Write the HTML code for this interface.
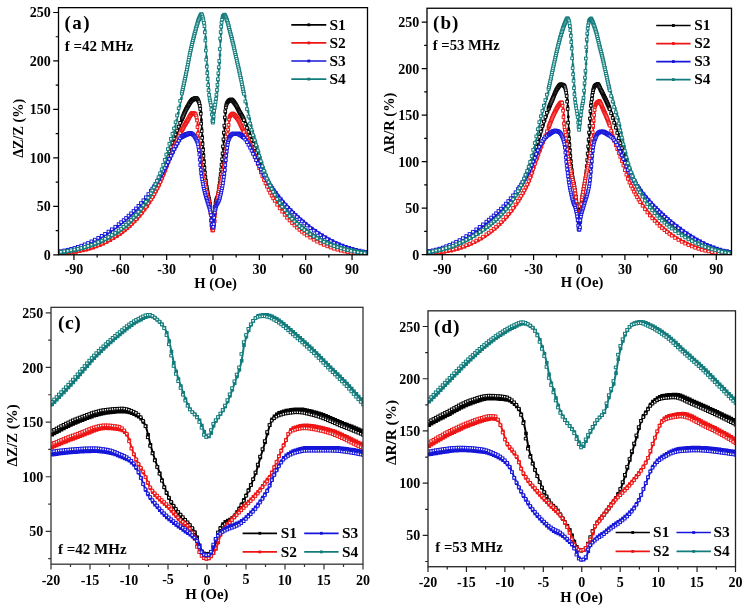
<!DOCTYPE html>
<html><head><meta charset="utf-8"><style>
html,body{margin:0;padding:0;background:#fff;}
body{width:746px;height:608px;overflow:hidden;}
svg{display:block;will-change:transform;}
text{font-family:"Liberation Serif", serif;font-weight:bold;fill:#000;}
</style></head><body>
<svg width="746" height="608" viewBox="0 0 746 608">

<clipPath id="clipa"><rect x="58.5" y="7.65" width="309.0" height="247.15"/></clipPath>
<g clip-path="url(#clipa)">
<path d="M59.7,253.4 L63.1,253.0 L66.5,252.5 L69.9,252.0 L73.3,251.4 L76.7,250.7 L80.1,249.9 L83.5,249.0 L86.9,248.0 L90.2,247.0 L93.6,245.7 L97.0,244.4 L100.4,242.9 L103.8,241.3 L107.2,239.6 L110.6,237.6 L114.0,235.5 L117.4,233.2 L120.4,231.1 L122.8,229.1 L125.3,227.1 L127.8,224.9 L130.3,222.5 L132.7,220.1 L135.2,217.4 L137.7,214.6 L140.2,211.7 L142.6,208.5 L145.1,205.1 L147.6,201.5 L150.0,197.7 L152.0,194.3 L153.6,191.7 L155.1,188.8 L156.7,185.9 L158.2,182.9 L159.8,179.7 L161.3,176.4 L162.9,172.8 L164.4,168.9 L166.0,164.5 L167.5,159.9 L169.0,155.2 L170.6,150.5 L172.1,146.1 L173.7,141.9 L175.2,137.9 L176.8,133.9 L178.3,130.0 L179.9,126.1 L181.4,122.3 L182.4,119.9 L182.9,118.8 L183.3,117.7 L183.8,116.6 L184.3,115.5 L184.7,114.4 L185.2,113.3 L185.7,112.3 L186.1,111.3 L186.6,110.3 L187.0,109.4 L187.5,108.6 L188.0,107.8 L188.4,107.0 L188.9,106.2 L189.4,105.4 L189.8,104.6 L190.3,103.9 L190.8,103.2 L191.2,102.5 L191.7,101.9 L192.1,101.4 L192.6,101.0 L193.1,100.7 L193.5,100.4 L194.0,100.2 L194.5,100.0 L194.9,99.8 L195.4,99.6 L195.9,99.5 L196.3,99.4 L196.8,99.5 L197.2,99.7 L197.7,100.2 L198.2,100.9 L198.6,101.8 L199.1,102.8 L199.6,104.0 L200.0,105.8 L200.5,108.6 L200.9,112.3 L201.4,119.9 L201.9,128.9 L202.3,135.9 L202.8,142.4 L203.3,148.4 L203.7,154.2 L204.2,160.3 L204.7,166.5 L205.1,171.7 L205.6,176.3 L206.0,180.4 L206.5,184.0 L207.0,187.0 L207.4,189.8 L207.9,192.2 L208.4,194.6 L208.8,196.9 L209.3,199.0 L209.8,201.2 L210.2,203.6 L210.7,206.7 L211.1,211.1 L211.6,218.3 L212.1,223.9 L212.5,226.0 L213.0,226.3 L213.5,226.2 L213.9,225.1 L214.4,222.0 L214.9,216.0 L215.3,208.3 L215.8,203.7 L216.2,200.5 L216.7,198.6 L217.2,197.4 L217.6,196.4 L218.1,195.0 L218.6,192.8 L219.0,189.8 L219.5,186.4 L220.0,182.9 L220.4,179.1 L220.9,174.9 L221.3,170.4 L221.8,165.7 L222.3,160.7 L222.7,155.2 L223.2,148.7 L223.7,141.4 L224.1,134.6 L224.6,127.9 L225.1,120.1 L225.5,112.9 L226.0,107.6 L226.4,104.9 L226.9,103.2 L227.4,102.0 L227.8,101.1 L228.3,100.5 L228.8,99.9 L229.2,99.6 L229.7,99.3 L230.1,99.0 L230.6,98.8 L231.1,98.7 L231.5,98.7 L232.0,98.8 L232.5,99.2 L232.9,99.6 L233.4,100.1 L233.9,100.6 L234.3,101.1 L234.8,101.7 L235.2,102.3 L235.7,103.0 L236.2,103.7 L236.6,104.5 L237.1,105.4 L237.6,106.2 L238.0,107.1 L238.5,108.0 L239.0,108.9 L239.4,109.8 L239.9,110.7 L240.3,111.5 L240.8,112.3 L241.3,113.1 L241.7,113.9 L242.2,114.7 L242.7,115.6 L243.1,116.4 L243.6,117.3 L244.1,118.3 L245.1,120.6 L246.6,124.6 L248.1,128.6 L249.7,132.6 L251.2,136.5 L252.8,140.6 L254.3,144.7 L255.9,149.2 L257.4,153.8 L259.0,158.5 L260.5,163.1 L262.1,167.5 L263.6,171.5 L265.1,175.0 L266.7,178.3 L268.2,181.5 L269.8,184.6 L271.3,187.5 L272.9,190.3 L274.4,193.0 L276.4,196.3 L278.9,200.2 L281.4,203.8 L283.8,207.1 L286.3,210.3 L288.8,213.3 L291.3,216.1 L293.7,218.7 L296.2,221.2 L298.7,223.5 L301.1,225.7 L303.6,227.8 L306.1,229.7 L309.0,231.9 L312.4,234.2 L315.8,236.3 L319.2,238.2 L322.6,240.0 L326.0,241.6 L329.4,243.1 L332.8,244.4 L336.2,245.6 L339.6,246.7 L343.0,247.7 L346.4,248.5 L349.8,249.3 L353.2,250.0 L356.6,250.6 L360.0,251.2 L363.4,251.6 L366.8,252.1" fill="none" stroke="#000000" stroke-width="1.5"/>
<path fill="#000000" d="M58.4,252.1h2.6v2.6h-2.6zM61.8,251.7h2.6v2.6h-2.6zM65.2,251.2h2.6v2.6h-2.6zM68.6,250.7h2.6v2.6h-2.6zM72.0,250.1h2.6v2.6h-2.6zM75.4,249.4h2.6v2.6h-2.6zM78.8,248.6h2.6v2.6h-2.6zM82.2,247.7h2.6v2.6h-2.6zM85.6,246.7h2.6v2.6h-2.6zM88.9,245.7h2.6v2.6h-2.6zM92.3,244.4h2.6v2.6h-2.6zM95.7,243.1h2.6v2.6h-2.6zM99.1,241.6h2.6v2.6h-2.6zM102.5,240.0h2.6v2.6h-2.6zM105.9,238.3h2.6v2.6h-2.6zM109.3,236.3h2.6v2.6h-2.6zM112.7,234.2h2.6v2.6h-2.6zM116.1,231.9h2.6v2.6h-2.6zM119.1,229.8h2.6v2.6h-2.6zM121.5,227.8h2.6v2.6h-2.6zM124.0,225.8h2.6v2.6h-2.6zM126.5,223.6h2.6v2.6h-2.6zM129.0,221.2h2.6v2.6h-2.6zM131.4,218.8h2.6v2.6h-2.6zM133.9,216.1h2.6v2.6h-2.6zM136.4,213.3h2.6v2.6h-2.6zM138.9,210.4h2.6v2.6h-2.6zM141.3,207.2h2.6v2.6h-2.6zM143.8,203.8h2.6v2.6h-2.6zM146.3,200.2h2.6v2.6h-2.6zM148.7,196.4h2.6v2.6h-2.6zM150.7,193.0h2.6v2.6h-2.6zM152.3,190.4h2.6v2.6h-2.6zM153.8,187.5h2.6v2.6h-2.6zM155.4,184.6h2.6v2.6h-2.6zM156.9,181.6h2.6v2.6h-2.6zM158.5,178.4h2.6v2.6h-2.6zM160.0,175.1h2.6v2.6h-2.6zM161.6,171.5h2.6v2.6h-2.6zM163.1,167.6h2.6v2.6h-2.6zM164.7,163.2h2.6v2.6h-2.6zM166.2,158.6h2.6v2.6h-2.6zM167.7,153.9h2.6v2.6h-2.6zM169.3,149.2h2.6v2.6h-2.6zM170.8,144.8h2.6v2.6h-2.6zM172.4,140.6h2.6v2.6h-2.6zM173.9,136.6h2.6v2.6h-2.6zM175.5,132.6h2.6v2.6h-2.6zM177.0,128.7h2.6v2.6h-2.6zM178.6,124.8h2.6v2.6h-2.6zM180.1,121.0h2.6v2.6h-2.6zM181.1,118.6h2.6v2.6h-2.6zM181.6,117.5h2.6v2.6h-2.6zM182.0,116.4h2.6v2.6h-2.6zM182.5,115.3h2.6v2.6h-2.6zM183.0,114.2h2.6v2.6h-2.6zM183.4,113.1h2.6v2.6h-2.6zM183.9,112.0h2.6v2.6h-2.6zM184.4,111.0h2.6v2.6h-2.6zM184.8,110.0h2.6v2.6h-2.6zM185.3,109.0h2.6v2.6h-2.6zM185.7,108.1h2.6v2.6h-2.6zM186.2,107.3h2.6v2.6h-2.6zM186.7,106.5h2.6v2.6h-2.6zM187.1,105.7h2.6v2.6h-2.6zM187.6,104.9h2.6v2.6h-2.6zM188.1,104.1h2.6v2.6h-2.6zM188.5,103.3h2.6v2.6h-2.6zM189.0,102.6h2.6v2.6h-2.6zM189.5,101.9h2.6v2.6h-2.6zM189.9,101.2h2.6v2.6h-2.6zM190.4,100.6h2.6v2.6h-2.6zM190.8,100.1h2.6v2.6h-2.6zM191.3,99.7h2.6v2.6h-2.6zM191.8,99.4h2.6v2.6h-2.6zM192.2,99.1h2.6v2.6h-2.6zM192.7,98.9h2.6v2.6h-2.6zM193.2,98.7h2.6v2.6h-2.6zM193.6,98.5h2.6v2.6h-2.6zM194.1,98.3h2.6v2.6h-2.6zM194.6,98.2h2.6v2.6h-2.6zM195.0,98.1h2.6v2.6h-2.6zM195.5,98.2h2.6v2.6h-2.6zM195.9,98.4h2.6v2.6h-2.6zM196.4,98.9h2.6v2.6h-2.6zM196.9,99.6h2.6v2.6h-2.6zM197.3,100.5h2.6v2.6h-2.6zM197.8,101.5h2.6v2.6h-2.6zM198.3,102.7h2.6v2.6h-2.6zM198.7,104.5h2.6v2.6h-2.6zM199.2,107.3h2.6v2.6h-2.6zM199.6,111.0h2.6v2.6h-2.6zM200.1,118.6h2.6v2.6h-2.6zM200.6,127.6h2.6v2.6h-2.6zM201.0,134.6h2.6v2.6h-2.6zM201.5,141.1h2.6v2.6h-2.6zM202.0,147.1h2.6v2.6h-2.6zM202.4,152.9h2.6v2.6h-2.6zM202.9,159.0h2.6v2.6h-2.6zM203.4,165.2h2.6v2.6h-2.6zM203.8,170.4h2.6v2.6h-2.6zM204.3,175.0h2.6v2.6h-2.6zM204.7,179.1h2.6v2.6h-2.6zM205.2,182.7h2.6v2.6h-2.6zM205.7,185.7h2.6v2.6h-2.6zM206.1,188.5h2.6v2.6h-2.6zM206.6,190.9h2.6v2.6h-2.6zM207.1,193.3h2.6v2.6h-2.6zM207.5,195.6h2.6v2.6h-2.6zM208.0,197.7h2.6v2.6h-2.6zM208.5,199.9h2.6v2.6h-2.6zM208.9,202.3h2.6v2.6h-2.6zM209.4,205.4h2.6v2.6h-2.6zM209.8,209.8h2.6v2.6h-2.6zM210.3,217.0h2.6v2.6h-2.6zM210.8,222.6h2.6v2.6h-2.6zM211.2,224.7h2.6v2.6h-2.6zM211.7,225.0h2.6v2.6h-2.6zM212.2,224.9h2.6v2.6h-2.6zM212.6,223.8h2.6v2.6h-2.6zM213.1,220.7h2.6v2.6h-2.6zM213.6,214.7h2.6v2.6h-2.6zM214.0,207.0h2.6v2.6h-2.6zM214.5,202.4h2.6v2.6h-2.6zM214.9,199.2h2.6v2.6h-2.6zM215.4,197.3h2.6v2.6h-2.6zM215.9,196.1h2.6v2.6h-2.6zM216.3,195.1h2.6v2.6h-2.6zM216.8,193.7h2.6v2.6h-2.6zM217.3,191.5h2.6v2.6h-2.6zM217.7,188.5h2.6v2.6h-2.6zM218.2,185.1h2.6v2.6h-2.6zM218.7,181.6h2.6v2.6h-2.6zM219.1,177.8h2.6v2.6h-2.6zM219.6,173.6h2.6v2.6h-2.6zM220.0,169.1h2.6v2.6h-2.6zM220.5,164.4h2.6v2.6h-2.6zM221.0,159.4h2.6v2.6h-2.6zM221.4,153.9h2.6v2.6h-2.6zM221.9,147.4h2.6v2.6h-2.6zM222.4,140.1h2.6v2.6h-2.6zM222.8,133.3h2.6v2.6h-2.6zM223.3,126.6h2.6v2.6h-2.6zM223.8,118.8h2.6v2.6h-2.6zM224.2,111.6h2.6v2.6h-2.6zM224.7,106.3h2.6v2.6h-2.6zM225.1,103.6h2.6v2.6h-2.6zM225.6,101.9h2.6v2.6h-2.6zM226.1,100.7h2.6v2.6h-2.6zM226.5,99.8h2.6v2.6h-2.6zM227.0,99.2h2.6v2.6h-2.6zM227.5,98.6h2.6v2.6h-2.6zM227.9,98.3h2.6v2.6h-2.6zM228.4,98.0h2.6v2.6h-2.6zM228.8,97.7h2.6v2.6h-2.6zM229.3,97.5h2.6v2.6h-2.6zM229.8,97.4h2.6v2.6h-2.6zM230.2,97.4h2.6v2.6h-2.6zM230.7,97.5h2.6v2.6h-2.6zM231.2,97.9h2.6v2.6h-2.6zM231.6,98.3h2.6v2.6h-2.6zM232.1,98.8h2.6v2.6h-2.6zM232.6,99.3h2.6v2.6h-2.6zM233.0,99.8h2.6v2.6h-2.6zM233.5,100.4h2.6v2.6h-2.6zM233.9,101.0h2.6v2.6h-2.6zM234.4,101.7h2.6v2.6h-2.6zM234.9,102.4h2.6v2.6h-2.6zM235.3,103.2h2.6v2.6h-2.6zM235.8,104.1h2.6v2.6h-2.6zM236.3,104.9h2.6v2.6h-2.6zM236.7,105.8h2.6v2.6h-2.6zM237.2,106.7h2.6v2.6h-2.6zM237.7,107.6h2.6v2.6h-2.6zM238.1,108.5h2.6v2.6h-2.6zM238.6,109.4h2.6v2.6h-2.6zM239.0,110.2h2.6v2.6h-2.6zM239.5,111.0h2.6v2.6h-2.6zM240.0,111.8h2.6v2.6h-2.6zM240.4,112.6h2.6v2.6h-2.6zM240.9,113.4h2.6v2.6h-2.6zM241.4,114.3h2.6v2.6h-2.6zM241.8,115.1h2.6v2.6h-2.6zM242.3,116.0h2.6v2.6h-2.6zM242.8,117.0h2.6v2.6h-2.6zM243.8,119.3h2.6v2.6h-2.6zM245.3,123.3h2.6v2.6h-2.6zM246.8,127.3h2.6v2.6h-2.6zM248.4,131.3h2.6v2.6h-2.6zM249.9,135.2h2.6v2.6h-2.6zM251.5,139.3h2.6v2.6h-2.6zM253.0,143.4h2.6v2.6h-2.6zM254.6,147.9h2.6v2.6h-2.6zM256.1,152.5h2.6v2.6h-2.6zM257.7,157.2h2.6v2.6h-2.6zM259.2,161.8h2.6v2.6h-2.6zM260.8,166.2h2.6v2.6h-2.6zM262.3,170.2h2.6v2.6h-2.6zM263.8,173.7h2.6v2.6h-2.6zM265.4,177.0h2.6v2.6h-2.6zM266.9,180.2h2.6v2.6h-2.6zM268.5,183.3h2.6v2.6h-2.6zM270.0,186.2h2.6v2.6h-2.6zM271.6,189.0h2.6v2.6h-2.6zM273.1,191.7h2.6v2.6h-2.6zM275.1,195.0h2.6v2.6h-2.6zM277.6,198.9h2.6v2.6h-2.6zM280.1,202.5h2.6v2.6h-2.6zM282.5,205.8h2.6v2.6h-2.6zM285.0,209.0h2.6v2.6h-2.6zM287.5,212.0h2.6v2.6h-2.6zM290.0,214.8h2.6v2.6h-2.6zM292.4,217.4h2.6v2.6h-2.6zM294.9,219.9h2.6v2.6h-2.6zM297.4,222.2h2.6v2.6h-2.6zM299.8,224.4h2.6v2.6h-2.6zM302.3,226.5h2.6v2.6h-2.6zM304.8,228.4h2.6v2.6h-2.6zM307.7,230.6h2.6v2.6h-2.6zM311.1,232.9h2.6v2.6h-2.6zM314.5,235.0h2.6v2.6h-2.6zM317.9,236.9h2.6v2.6h-2.6zM321.3,238.7h2.6v2.6h-2.6zM324.7,240.3h2.6v2.6h-2.6zM328.1,241.8h2.6v2.6h-2.6zM331.5,243.1h2.6v2.6h-2.6zM334.9,244.3h2.6v2.6h-2.6zM338.3,245.4h2.6v2.6h-2.6zM341.7,246.4h2.6v2.6h-2.6zM345.1,247.2h2.6v2.6h-2.6zM348.5,248.0h2.6v2.6h-2.6zM351.9,248.7h2.6v2.6h-2.6zM355.3,249.3h2.6v2.6h-2.6zM358.7,249.9h2.6v2.6h-2.6zM362.1,250.3h2.6v2.6h-2.6zM365.5,250.8h2.6v2.6h-2.6z"/>
<g fill="#fff" stroke="#000000" stroke-width="0.95"><rect x="56.1" y="250.9" width="2.7" height="2.7"/><rect x="59.5" y="250.5" width="2.7" height="2.7"/><rect x="62.9" y="250.1" width="2.7" height="2.7"/><rect x="66.3" y="249.6" width="2.7" height="2.7"/><rect x="69.7" y="249.0" width="2.7" height="2.7"/><rect x="73.1" y="248.3" width="2.7" height="2.7"/><rect x="76.5" y="247.6" width="2.7" height="2.7"/><rect x="79.9" y="246.8" width="2.7" height="2.7"/><rect x="83.3" y="245.8" width="2.7" height="2.7"/><rect x="86.7" y="244.8" width="2.7" height="2.7"/><rect x="90.1" y="243.7" width="2.7" height="2.7"/><rect x="93.5" y="242.4" width="2.7" height="2.7"/><rect x="96.9" y="241.0" width="2.7" height="2.7"/><rect x="100.3" y="239.4" width="2.7" height="2.7"/><rect x="103.7" y="237.8" width="2.7" height="2.7"/><rect x="107.1" y="235.9" width="2.7" height="2.7"/><rect x="110.5" y="233.9" width="2.7" height="2.7"/><rect x="113.9" y="231.7" width="2.7" height="2.7"/><rect x="117.3" y="229.3" width="2.7" height="2.7"/><rect x="119.8" y="227.4" width="2.7" height="2.7"/><rect x="122.3" y="225.4" width="2.7" height="2.7"/><rect x="124.7" y="223.3" width="2.7" height="2.7"/><rect x="127.2" y="221.0" width="2.7" height="2.7"/><rect x="129.7" y="218.6" width="2.7" height="2.7"/><rect x="132.2" y="216.1" width="2.7" height="2.7"/><rect x="134.6" y="213.4" width="2.7" height="2.7"/><rect x="137.1" y="210.5" width="2.7" height="2.7"/><rect x="139.6" y="207.4" width="2.7" height="2.7"/><rect x="142.0" y="204.1" width="2.7" height="2.7"/><rect x="144.5" y="200.6" width="2.7" height="2.7"/><rect x="147.0" y="196.9" width="2.7" height="2.7"/><rect x="149.5" y="192.9" width="2.7" height="2.7"/><rect x="151.0" y="190.3" width="2.7" height="2.7"/><rect x="152.6" y="187.6" width="2.7" height="2.7"/><rect x="154.1" y="184.7" width="2.7" height="2.7"/><rect x="155.6" y="181.7" width="2.7" height="2.7"/><rect x="157.2" y="178.6" width="2.7" height="2.7"/><rect x="158.7" y="175.4" width="2.7" height="2.7"/><rect x="160.3" y="172.0" width="2.7" height="2.7"/><rect x="161.8" y="168.2" width="2.7" height="2.7"/><rect x="163.4" y="164.0" width="2.7" height="2.7"/><rect x="164.9" y="159.5" width="2.7" height="2.7"/><rect x="166.5" y="154.8" width="2.7" height="2.7"/><rect x="168.0" y="150.1" width="2.7" height="2.7"/><rect x="169.5" y="145.6" width="2.7" height="2.7"/><rect x="171.1" y="141.3" width="2.7" height="2.7"/><rect x="172.6" y="137.2" width="2.7" height="2.7"/><rect x="174.2" y="133.2" width="2.7" height="2.7"/><rect x="175.7" y="129.2" width="2.7" height="2.7"/><rect x="177.3" y="125.3" width="2.7" height="2.7"/><rect x="178.8" y="121.5" width="2.7" height="2.7"/><rect x="180.4" y="117.8" width="2.7" height="2.7"/><rect x="180.8" y="116.7" width="2.7" height="2.7"/><rect x="181.3" y="115.6" width="2.7" height="2.7"/><rect x="181.8" y="114.5" width="2.7" height="2.7"/><rect x="182.2" y="113.3" width="2.7" height="2.7"/><rect x="182.7" y="112.2" width="2.7" height="2.7"/><rect x="183.1" y="111.2" width="2.7" height="2.7"/><rect x="183.6" y="110.1" width="2.7" height="2.7"/><rect x="184.1" y="109.1" width="2.7" height="2.7"/><rect x="184.5" y="108.1" width="2.7" height="2.7"/><rect x="185.0" y="107.2" width="2.7" height="2.7"/><rect x="185.5" y="106.3" width="2.7" height="2.7"/><rect x="185.9" y="105.5" width="2.7" height="2.7"/><rect x="186.4" y="104.7" width="2.7" height="2.7"/><rect x="186.9" y="103.9" width="2.7" height="2.7"/><rect x="187.3" y="103.1" width="2.7" height="2.7"/><rect x="187.8" y="102.3" width="2.7" height="2.7"/><rect x="188.2" y="101.5" width="2.7" height="2.7"/><rect x="188.7" y="100.8" width="2.7" height="2.7"/><rect x="189.2" y="100.1" width="2.7" height="2.7"/><rect x="189.6" y="99.5" width="2.7" height="2.7"/><rect x="190.1" y="99.0" width="2.7" height="2.7"/><rect x="190.6" y="98.5" width="2.7" height="2.7"/><rect x="191.0" y="98.1" width="2.7" height="2.7"/><rect x="191.5" y="97.8" width="2.7" height="2.7"/><rect x="192.0" y="97.6" width="2.7" height="2.7"/><rect x="192.4" y="97.4" width="2.7" height="2.7"/><rect x="192.9" y="97.2" width="2.7" height="2.7"/><rect x="193.3" y="97.0" width="2.7" height="2.7"/><rect x="193.8" y="96.9" width="2.7" height="2.7"/><rect x="194.3" y="96.8" width="2.7" height="2.7"/><rect x="194.7" y="96.7" width="2.7" height="2.7"/><rect x="195.2" y="96.9" width="2.7" height="2.7"/><rect x="195.7" y="97.3" width="2.7" height="2.7"/><rect x="196.1" y="97.8" width="2.7" height="2.7"/><rect x="196.6" y="98.6" width="2.7" height="2.7"/><rect x="197.0" y="99.6" width="2.7" height="2.7"/><rect x="197.5" y="100.6" width="2.7" height="2.7"/><rect x="198.0" y="102.1" width="2.7" height="2.7"/><rect x="198.4" y="104.4" width="2.7" height="2.7"/><rect x="198.9" y="107.6" width="2.7" height="2.7"/><rect x="199.4" y="112.4" width="2.7" height="2.7"/><rect x="199.8" y="122.3" width="2.7" height="2.7"/><rect x="200.3" y="129.8" width="2.7" height="2.7"/><rect x="200.8" y="136.5" width="2.7" height="2.7"/><rect x="201.2" y="142.7" width="2.7" height="2.7"/><rect x="201.7" y="148.6" width="2.7" height="2.7"/><rect x="202.1" y="154.5" width="2.7" height="2.7"/><rect x="202.6" y="160.7" width="2.7" height="2.7"/><rect x="203.1" y="166.5" width="2.7" height="2.7"/><rect x="203.5" y="171.3" width="2.7" height="2.7"/><rect x="204.0" y="175.7" width="2.7" height="2.7"/><rect x="204.5" y="179.5" width="2.7" height="2.7"/><rect x="204.9" y="182.9" width="2.7" height="2.7"/><rect x="205.4" y="185.7" width="2.7" height="2.7"/><rect x="205.9" y="188.3" width="2.7" height="2.7"/><rect x="206.3" y="190.7" width="2.7" height="2.7"/><rect x="206.8" y="193.1" width="2.7" height="2.7"/><rect x="207.2" y="195.4" width="2.7" height="2.7"/><rect x="207.7" y="197.5" width="2.7" height="2.7"/><rect x="208.2" y="199.9" width="2.7" height="2.7"/><rect x="208.6" y="202.5" width="2.7" height="2.7"/><rect x="209.1" y="206.3" width="2.7" height="2.7"/><rect x="209.6" y="212.2" width="2.7" height="2.7"/><rect x="210.0" y="219.2" width="2.7" height="2.7"/><rect x="210.5" y="223.7" width="2.7" height="2.7"/><rect x="211.0" y="224.6" width="2.7" height="2.7"/><rect x="211.4" y="225.0" width="2.7" height="2.7"/><rect x="211.9" y="224.6" width="2.7" height="2.7"/><rect x="212.3" y="223.3" width="2.7" height="2.7"/><rect x="212.8" y="218.5" width="2.7" height="2.7"/><rect x="213.3" y="211.7" width="2.7" height="2.7"/><rect x="213.7" y="205.4" width="2.7" height="2.7"/><rect x="214.2" y="201.7" width="2.7" height="2.7"/><rect x="214.7" y="199.2" width="2.7" height="2.7"/><rect x="215.1" y="197.8" width="2.7" height="2.7"/><rect x="215.6" y="196.8" width="2.7" height="2.7"/><rect x="216.1" y="195.7" width="2.7" height="2.7"/><rect x="216.5" y="194.0" width="2.7" height="2.7"/><rect x="217.0" y="191.4" width="2.7" height="2.7"/><rect x="217.4" y="188.2" width="2.7" height="2.7"/><rect x="217.9" y="184.7" width="2.7" height="2.7"/><rect x="218.4" y="181.1" width="2.7" height="2.7"/><rect x="218.8" y="177.0" width="2.7" height="2.7"/><rect x="219.3" y="172.7" width="2.7" height="2.7"/><rect x="219.8" y="168.1" width="2.7" height="2.7"/><rect x="220.2" y="163.3" width="2.7" height="2.7"/><rect x="220.7" y="158.0" width="2.7" height="2.7"/><rect x="221.2" y="152.1" width="2.7" height="2.7"/><rect x="221.6" y="145.1" width="2.7" height="2.7"/><rect x="222.1" y="138.0" width="2.7" height="2.7"/><rect x="222.5" y="131.3" width="2.7" height="2.7"/><rect x="223.0" y="124.3" width="2.7" height="2.7"/><rect x="223.5" y="116.1" width="2.7" height="2.7"/><rect x="223.9" y="110.0" width="2.7" height="2.7"/><rect x="224.4" y="106.1" width="2.7" height="2.7"/><rect x="224.9" y="104.0" width="2.7" height="2.7"/><rect x="225.3" y="102.5" width="2.7" height="2.7"/><rect x="225.8" y="101.5" width="2.7" height="2.7"/><rect x="226.3" y="100.8" width="2.7" height="2.7"/><rect x="226.7" y="100.2" width="2.7" height="2.7"/><rect x="227.2" y="99.7" width="2.7" height="2.7"/><rect x="227.6" y="99.4" width="2.7" height="2.7"/><rect x="228.1" y="99.1" width="2.7" height="2.7"/><rect x="228.6" y="98.9" width="2.7" height="2.7"/><rect x="229.0" y="98.7" width="2.7" height="2.7"/><rect x="229.5" y="98.7" width="2.7" height="2.7"/><rect x="230.0" y="98.7" width="2.7" height="2.7"/><rect x="230.4" y="99.0" width="2.7" height="2.7"/><rect x="230.9" y="99.4" width="2.7" height="2.7"/><rect x="231.3" y="99.8" width="2.7" height="2.7"/><rect x="231.8" y="100.3" width="2.7" height="2.7"/><rect x="232.3" y="100.9" width="2.7" height="2.7"/><rect x="232.7" y="101.4" width="2.7" height="2.7"/><rect x="233.2" y="102.0" width="2.7" height="2.7"/><rect x="233.7" y="102.6" width="2.7" height="2.7"/><rect x="234.1" y="103.3" width="2.7" height="2.7"/><rect x="234.6" y="104.1" width="2.7" height="2.7"/><rect x="235.1" y="104.9" width="2.7" height="2.7"/><rect x="235.5" y="105.8" width="2.7" height="2.7"/><rect x="236.0" y="106.7" width="2.7" height="2.7"/><rect x="236.4" y="107.6" width="2.7" height="2.7"/><rect x="236.9" y="108.5" width="2.7" height="2.7"/><rect x="237.4" y="109.4" width="2.7" height="2.7"/><rect x="237.8" y="110.3" width="2.7" height="2.7"/><rect x="238.3" y="111.1" width="2.7" height="2.7"/><rect x="238.8" y="111.9" width="2.7" height="2.7"/><rect x="239.2" y="112.8" width="2.7" height="2.7"/><rect x="239.7" y="113.5" width="2.7" height="2.7"/><rect x="240.2" y="114.3" width="2.7" height="2.7"/><rect x="240.6" y="115.2" width="2.7" height="2.7"/><rect x="241.1" y="116.0" width="2.7" height="2.7"/><rect x="241.5" y="116.9" width="2.7" height="2.7"/><rect x="242.0" y="117.8" width="2.7" height="2.7"/><rect x="242.5" y="118.8" width="2.7" height="2.7"/><rect x="244.0" y="122.5" width="2.7" height="2.7"/><rect x="245.6" y="126.6" width="2.7" height="2.7"/><rect x="247.1" y="130.6" width="2.7" height="2.7"/><rect x="248.7" y="134.6" width="2.7" height="2.7"/><rect x="250.2" y="138.6" width="2.7" height="2.7"/><rect x="251.7" y="142.6" width="2.7" height="2.7"/><rect x="253.3" y="146.9" width="2.7" height="2.7"/><rect x="254.8" y="151.5" width="2.7" height="2.7"/><rect x="256.4" y="156.2" width="2.7" height="2.7"/><rect x="257.9" y="160.8" width="2.7" height="2.7"/><rect x="259.5" y="165.4" width="2.7" height="2.7"/><rect x="261.0" y="169.6" width="2.7" height="2.7"/><rect x="262.6" y="173.3" width="2.7" height="2.7"/><rect x="264.1" y="176.7" width="2.7" height="2.7"/><rect x="265.6" y="179.9" width="2.7" height="2.7"/><rect x="267.2" y="183.1" width="2.7" height="2.7"/><rect x="268.7" y="186.1" width="2.7" height="2.7"/><rect x="270.3" y="188.9" width="2.7" height="2.7"/><rect x="271.8" y="191.7" width="2.7" height="2.7"/><rect x="273.4" y="194.3" width="2.7" height="2.7"/><rect x="275.8" y="198.3" width="2.7" height="2.7"/><rect x="278.3" y="202.0" width="2.7" height="2.7"/><rect x="280.8" y="205.5" width="2.7" height="2.7"/><rect x="283.3" y="208.8" width="2.7" height="2.7"/><rect x="285.7" y="211.8" width="2.7" height="2.7"/><rect x="288.2" y="214.7" width="2.7" height="2.7"/><rect x="290.7" y="217.4" width="2.7" height="2.7"/><rect x="293.1" y="220.0" width="2.7" height="2.7"/><rect x="295.6" y="222.4" width="2.7" height="2.7"/><rect x="298.1" y="224.6" width="2.7" height="2.7"/><rect x="300.6" y="226.8" width="2.7" height="2.7"/><rect x="303.0" y="228.8" width="2.7" height="2.7"/><rect x="305.5" y="230.6" width="2.7" height="2.7"/><rect x="308.9" y="233.0" width="2.7" height="2.7"/><rect x="312.3" y="235.2" width="2.7" height="2.7"/><rect x="315.7" y="237.3" width="2.7" height="2.7"/><rect x="319.1" y="239.1" width="2.7" height="2.7"/><rect x="322.5" y="240.8" width="2.7" height="2.7"/><rect x="325.9" y="242.3" width="2.7" height="2.7"/><rect x="329.3" y="243.7" width="2.7" height="2.7"/><rect x="332.7" y="245.0" width="2.7" height="2.7"/><rect x="336.1" y="246.2" width="2.7" height="2.7"/><rect x="339.5" y="247.2" width="2.7" height="2.7"/><rect x="342.9" y="248.1" width="2.7" height="2.7"/><rect x="346.3" y="249.0" width="2.7" height="2.7"/><rect x="349.7" y="249.7" width="2.7" height="2.7"/><rect x="353.1" y="250.3" width="2.7" height="2.7"/><rect x="356.5" y="250.9" width="2.7" height="2.7"/><rect x="359.9" y="251.4" width="2.7" height="2.7"/><rect x="363.3" y="251.9" width="2.7" height="2.7"/><rect x="366.7" y="252.2" width="2.7" height="2.7"/></g>
<path d="M59.7,254.4 L63.1,254.2 L66.5,253.8 L69.9,253.4 L73.3,253.0 L76.7,252.4 L80.1,251.8 L83.5,251.0 L86.9,250.2 L90.2,249.2 L93.6,248.2 L97.0,247.0 L100.4,245.6 L103.8,244.1 L107.2,242.5 L110.6,240.7 L114.0,238.7 L117.4,236.6 L120.4,234.6 L122.8,232.8 L125.3,230.8 L127.8,228.8 L130.3,226.6 L132.7,224.3 L135.2,221.8 L137.7,219.1 L140.2,216.3 L142.6,213.3 L145.1,210.0 L147.6,206.6 L150.0,202.8 L152.0,199.6 L153.6,197.0 L155.1,194.2 L156.7,191.3 L158.2,188.3 L159.8,185.1 L161.3,181.7 L162.9,178.1 L164.4,174.3 L166.0,170.4 L167.5,166.2 L169.0,162.0 L170.6,157.8 L172.1,153.7 L173.7,149.7 L175.2,146.0 L176.8,142.6 L178.3,139.3 L179.9,136.1 L181.4,133.1 L182.4,131.2 L182.9,130.3 L183.3,129.4 L183.8,128.6 L184.3,127.7 L184.7,126.8 L185.2,126.0 L185.7,125.2 L186.1,124.4 L186.6,123.6 L187.0,122.8 L187.5,122.1 L188.0,121.4 L188.4,120.6 L188.9,119.7 L189.4,118.9 L189.8,118.0 L190.3,117.2 L190.8,116.4 L191.2,115.8 L191.7,115.2 L192.1,114.7 L192.6,114.4 L193.1,114.3 L193.5,114.3 L194.0,114.4 L194.5,114.6 L194.9,114.8 L195.4,115.1 L195.9,115.5 L196.3,116.2 L196.8,117.7 L197.2,120.0 L197.7,124.8 L198.2,132.1 L198.6,137.5 L199.1,142.2 L199.6,146.6 L200.0,150.3 L200.5,153.5 L200.9,157.6 L201.4,162.8 L201.9,167.4 L202.3,170.9 L202.8,173.5 L203.3,175.6 L203.7,177.7 L204.2,179.6 L204.7,181.4 L205.1,183.2 L205.6,185.2 L206.0,187.5 L206.5,189.9 L207.0,192.2 L207.4,194.7 L207.9,197.2 L208.4,199.1 L208.8,200.3 L209.3,202.0 L209.8,204.3 L210.2,207.2 L210.7,211.1 L211.1,218.3 L211.6,223.8 L212.1,227.5 L212.5,229.8 L213.0,230.6 L213.5,230.5 L213.9,228.7 L214.4,226.1 L214.9,222.3 L215.3,216.7 L215.8,209.7 L216.2,205.9 L216.7,203.0 L217.2,200.5 L217.6,197.9 L218.1,195.5 L218.6,193.1 L219.0,190.9 L219.5,188.7 L220.0,186.6 L220.4,184.6 L220.9,182.5 L221.3,180.5 L221.8,178.5 L222.3,176.4 L222.7,174.2 L223.2,171.9 L223.7,169.4 L224.1,166.6 L224.6,163.6 L225.1,161.0 L225.5,158.5 L226.0,154.6 L226.4,149.9 L226.9,145.2 L227.4,140.3 L227.8,135.2 L228.3,130.5 L228.8,125.9 L229.2,120.5 L229.7,116.8 L230.1,115.4 L230.6,114.6 L231.1,114.0 L231.5,113.5 L232.0,113.1 L232.5,112.9 L232.9,112.9 L233.4,113.1 L233.9,113.3 L234.3,113.6 L234.8,114.0 L235.2,114.5 L235.7,114.9 L236.2,115.4 L236.6,115.9 L237.1,116.5 L237.6,117.1 L238.0,117.8 L238.5,118.6 L239.0,119.4 L239.4,120.3 L239.9,121.2 L240.3,122.2 L240.8,123.2 L241.3,124.2 L241.7,125.2 L242.2,126.2 L242.7,127.2 L243.1,128.2 L243.6,129.2 L244.1,130.1 L245.1,132.1 L246.6,135.1 L248.1,138.1 L249.7,141.3 L251.2,144.7 L252.8,148.3 L254.3,152.3 L255.9,156.4 L257.4,160.6 L259.0,164.8 L260.5,169.0 L262.1,173.0 L263.6,176.8 L265.1,180.3 L266.7,183.7 L268.2,186.9 L269.8,190.0 L271.3,192.9 L272.9,195.6 L274.4,198.3 L276.4,201.5 L278.9,205.2 L281.4,208.7 L283.8,211.9 L286.3,214.9 L288.8,217.8 L291.3,220.4 L293.7,222.9 L296.2,225.2 L298.7,227.4 L301.1,229.5 L303.6,231.4 L306.1,233.2 L309.0,235.2 L312.4,237.4 L315.8,239.3 L319.2,241.1 L322.6,242.8 L326.0,244.3 L329.4,245.6 L332.8,246.8 L336.2,247.9 L339.6,248.8 L343.0,249.7 L346.4,250.4 L349.8,251.1 L353.2,251.6 L356.6,252.1 L360.0,252.5 L363.4,252.8 L366.8,253.1" fill="none" stroke="#ee1414" stroke-width="1.5"/>
<path fill="#ee1414" d="M58.4,253.1h2.6v2.6h-2.6zM61.8,252.9h2.6v2.6h-2.6zM65.2,252.5h2.6v2.6h-2.6zM68.6,252.1h2.6v2.6h-2.6zM72.0,251.7h2.6v2.6h-2.6zM75.4,251.1h2.6v2.6h-2.6zM78.8,250.5h2.6v2.6h-2.6zM82.2,249.7h2.6v2.6h-2.6zM85.6,248.9h2.6v2.6h-2.6zM88.9,247.9h2.6v2.6h-2.6zM92.3,246.9h2.6v2.6h-2.6zM95.7,245.7h2.6v2.6h-2.6zM99.1,244.3h2.6v2.6h-2.6zM102.5,242.8h2.6v2.6h-2.6zM105.9,241.2h2.6v2.6h-2.6zM109.3,239.4h2.6v2.6h-2.6zM112.7,237.4h2.6v2.6h-2.6zM116.1,235.3h2.6v2.6h-2.6zM119.1,233.3h2.6v2.6h-2.6zM121.5,231.5h2.6v2.6h-2.6zM124.0,229.5h2.6v2.6h-2.6zM126.5,227.5h2.6v2.6h-2.6zM129.0,225.3h2.6v2.6h-2.6zM131.4,223.0h2.6v2.6h-2.6zM133.9,220.5h2.6v2.6h-2.6zM136.4,217.8h2.6v2.6h-2.6zM138.9,215.0h2.6v2.6h-2.6zM141.3,212.0h2.6v2.6h-2.6zM143.8,208.7h2.6v2.6h-2.6zM146.3,205.3h2.6v2.6h-2.6zM148.7,201.5h2.6v2.6h-2.6zM150.7,198.3h2.6v2.6h-2.6zM152.3,195.7h2.6v2.6h-2.6zM153.8,192.9h2.6v2.6h-2.6zM155.4,190.0h2.6v2.6h-2.6zM156.9,187.0h2.6v2.6h-2.6zM158.5,183.8h2.6v2.6h-2.6zM160.0,180.4h2.6v2.6h-2.6zM161.6,176.8h2.6v2.6h-2.6zM163.1,173.0h2.6v2.6h-2.6zM164.7,169.1h2.6v2.6h-2.6zM166.2,164.9h2.6v2.6h-2.6zM167.7,160.7h2.6v2.6h-2.6zM169.3,156.5h2.6v2.6h-2.6zM170.8,152.4h2.6v2.6h-2.6zM172.4,148.4h2.6v2.6h-2.6zM173.9,144.7h2.6v2.6h-2.6zM175.5,141.3h2.6v2.6h-2.6zM177.0,138.0h2.6v2.6h-2.6zM178.6,134.8h2.6v2.6h-2.6zM180.1,131.8h2.6v2.6h-2.6zM181.1,129.9h2.6v2.6h-2.6zM181.6,129.0h2.6v2.6h-2.6zM182.0,128.1h2.6v2.6h-2.6zM182.5,127.3h2.6v2.6h-2.6zM183.0,126.4h2.6v2.6h-2.6zM183.4,125.5h2.6v2.6h-2.6zM183.9,124.7h2.6v2.6h-2.6zM184.4,123.9h2.6v2.6h-2.6zM184.8,123.1h2.6v2.6h-2.6zM185.3,122.3h2.6v2.6h-2.6zM185.7,121.5h2.6v2.6h-2.6zM186.2,120.8h2.6v2.6h-2.6zM186.7,120.1h2.6v2.6h-2.6zM187.1,119.3h2.6v2.6h-2.6zM187.6,118.4h2.6v2.6h-2.6zM188.1,117.6h2.6v2.6h-2.6zM188.5,116.7h2.6v2.6h-2.6zM189.0,115.9h2.6v2.6h-2.6zM189.5,115.1h2.6v2.6h-2.6zM189.9,114.5h2.6v2.6h-2.6zM190.4,113.9h2.6v2.6h-2.6zM190.8,113.4h2.6v2.6h-2.6zM191.3,113.1h2.6v2.6h-2.6zM191.8,113.0h2.6v2.6h-2.6zM192.2,113.0h2.6v2.6h-2.6zM192.7,113.1h2.6v2.6h-2.6zM193.2,113.3h2.6v2.6h-2.6zM193.6,113.5h2.6v2.6h-2.6zM194.1,113.8h2.6v2.6h-2.6zM194.6,114.2h2.6v2.6h-2.6zM195.0,114.9h2.6v2.6h-2.6zM195.5,116.4h2.6v2.6h-2.6zM195.9,118.7h2.6v2.6h-2.6zM196.4,123.5h2.6v2.6h-2.6zM196.9,130.8h2.6v2.6h-2.6zM197.3,136.2h2.6v2.6h-2.6zM197.8,140.9h2.6v2.6h-2.6zM198.3,145.3h2.6v2.6h-2.6zM198.7,149.0h2.6v2.6h-2.6zM199.2,152.2h2.6v2.6h-2.6zM199.6,156.3h2.6v2.6h-2.6zM200.1,161.5h2.6v2.6h-2.6zM200.6,166.1h2.6v2.6h-2.6zM201.0,169.6h2.6v2.6h-2.6zM201.5,172.2h2.6v2.6h-2.6zM202.0,174.3h2.6v2.6h-2.6zM202.4,176.4h2.6v2.6h-2.6zM202.9,178.3h2.6v2.6h-2.6zM203.4,180.1h2.6v2.6h-2.6zM203.8,181.9h2.6v2.6h-2.6zM204.3,183.9h2.6v2.6h-2.6zM204.7,186.2h2.6v2.6h-2.6zM205.2,188.6h2.6v2.6h-2.6zM205.7,190.9h2.6v2.6h-2.6zM206.1,193.4h2.6v2.6h-2.6zM206.6,195.9h2.6v2.6h-2.6zM207.1,197.8h2.6v2.6h-2.6zM207.5,199.0h2.6v2.6h-2.6zM208.0,200.7h2.6v2.6h-2.6zM208.5,203.0h2.6v2.6h-2.6zM208.9,205.9h2.6v2.6h-2.6zM209.4,209.8h2.6v2.6h-2.6zM209.8,217.0h2.6v2.6h-2.6zM210.3,222.5h2.6v2.6h-2.6zM210.8,226.2h2.6v2.6h-2.6zM211.2,228.5h2.6v2.6h-2.6zM211.7,229.3h2.6v2.6h-2.6zM212.2,229.2h2.6v2.6h-2.6zM212.6,227.4h2.6v2.6h-2.6zM213.1,224.8h2.6v2.6h-2.6zM213.6,221.0h2.6v2.6h-2.6zM214.0,215.4h2.6v2.6h-2.6zM214.5,208.4h2.6v2.6h-2.6zM214.9,204.6h2.6v2.6h-2.6zM215.4,201.7h2.6v2.6h-2.6zM215.9,199.2h2.6v2.6h-2.6zM216.3,196.6h2.6v2.6h-2.6zM216.8,194.2h2.6v2.6h-2.6zM217.3,191.8h2.6v2.6h-2.6zM217.7,189.6h2.6v2.6h-2.6zM218.2,187.4h2.6v2.6h-2.6zM218.7,185.3h2.6v2.6h-2.6zM219.1,183.3h2.6v2.6h-2.6zM219.6,181.2h2.6v2.6h-2.6zM220.0,179.2h2.6v2.6h-2.6zM220.5,177.2h2.6v2.6h-2.6zM221.0,175.1h2.6v2.6h-2.6zM221.4,172.9h2.6v2.6h-2.6zM221.9,170.6h2.6v2.6h-2.6zM222.4,168.1h2.6v2.6h-2.6zM222.8,165.3h2.6v2.6h-2.6zM223.3,162.3h2.6v2.6h-2.6zM223.8,159.7h2.6v2.6h-2.6zM224.2,157.2h2.6v2.6h-2.6zM224.7,153.3h2.6v2.6h-2.6zM225.1,148.6h2.6v2.6h-2.6zM225.6,143.9h2.6v2.6h-2.6zM226.1,139.0h2.6v2.6h-2.6zM226.5,133.9h2.6v2.6h-2.6zM227.0,129.2h2.6v2.6h-2.6zM227.5,124.6h2.6v2.6h-2.6zM227.9,119.2h2.6v2.6h-2.6zM228.4,115.5h2.6v2.6h-2.6zM228.8,114.1h2.6v2.6h-2.6zM229.3,113.3h2.6v2.6h-2.6zM229.8,112.7h2.6v2.6h-2.6zM230.2,112.2h2.6v2.6h-2.6zM230.7,111.8h2.6v2.6h-2.6zM231.2,111.6h2.6v2.6h-2.6zM231.6,111.6h2.6v2.6h-2.6zM232.1,111.8h2.6v2.6h-2.6zM232.6,112.0h2.6v2.6h-2.6zM233.0,112.3h2.6v2.6h-2.6zM233.5,112.7h2.6v2.6h-2.6zM233.9,113.2h2.6v2.6h-2.6zM234.4,113.6h2.6v2.6h-2.6zM234.9,114.1h2.6v2.6h-2.6zM235.3,114.6h2.6v2.6h-2.6zM235.8,115.2h2.6v2.6h-2.6zM236.3,115.8h2.6v2.6h-2.6zM236.7,116.5h2.6v2.6h-2.6zM237.2,117.3h2.6v2.6h-2.6zM237.7,118.1h2.6v2.6h-2.6zM238.1,119.0h2.6v2.6h-2.6zM238.6,119.9h2.6v2.6h-2.6zM239.0,120.9h2.6v2.6h-2.6zM239.5,121.9h2.6v2.6h-2.6zM240.0,122.9h2.6v2.6h-2.6zM240.4,123.9h2.6v2.6h-2.6zM240.9,124.9h2.6v2.6h-2.6zM241.4,125.9h2.6v2.6h-2.6zM241.8,126.9h2.6v2.6h-2.6zM242.3,127.9h2.6v2.6h-2.6zM242.8,128.8h2.6v2.6h-2.6zM243.8,130.8h2.6v2.6h-2.6zM245.3,133.8h2.6v2.6h-2.6zM246.8,136.8h2.6v2.6h-2.6zM248.4,140.0h2.6v2.6h-2.6zM249.9,143.4h2.6v2.6h-2.6zM251.5,147.0h2.6v2.6h-2.6zM253.0,151.0h2.6v2.6h-2.6zM254.6,155.1h2.6v2.6h-2.6zM256.1,159.3h2.6v2.6h-2.6zM257.7,163.5h2.6v2.6h-2.6zM259.2,167.7h2.6v2.6h-2.6zM260.8,171.7h2.6v2.6h-2.6zM262.3,175.5h2.6v2.6h-2.6zM263.8,179.0h2.6v2.6h-2.6zM265.4,182.4h2.6v2.6h-2.6zM266.9,185.6h2.6v2.6h-2.6zM268.5,188.7h2.6v2.6h-2.6zM270.0,191.6h2.6v2.6h-2.6zM271.6,194.3h2.6v2.6h-2.6zM273.1,197.0h2.6v2.6h-2.6zM275.1,200.2h2.6v2.6h-2.6zM277.6,203.9h2.6v2.6h-2.6zM280.1,207.4h2.6v2.6h-2.6zM282.5,210.6h2.6v2.6h-2.6zM285.0,213.6h2.6v2.6h-2.6zM287.5,216.5h2.6v2.6h-2.6zM290.0,219.1h2.6v2.6h-2.6zM292.4,221.6h2.6v2.6h-2.6zM294.9,223.9h2.6v2.6h-2.6zM297.4,226.1h2.6v2.6h-2.6zM299.8,228.2h2.6v2.6h-2.6zM302.3,230.1h2.6v2.6h-2.6zM304.8,231.9h2.6v2.6h-2.6zM307.7,233.9h2.6v2.6h-2.6zM311.1,236.1h2.6v2.6h-2.6zM314.5,238.0h2.6v2.6h-2.6zM317.9,239.8h2.6v2.6h-2.6zM321.3,241.5h2.6v2.6h-2.6zM324.7,243.0h2.6v2.6h-2.6zM328.1,244.3h2.6v2.6h-2.6zM331.5,245.5h2.6v2.6h-2.6zM334.9,246.6h2.6v2.6h-2.6zM338.3,247.5h2.6v2.6h-2.6zM341.7,248.4h2.6v2.6h-2.6zM345.1,249.1h2.6v2.6h-2.6zM348.5,249.8h2.6v2.6h-2.6zM351.9,250.3h2.6v2.6h-2.6zM355.3,250.8h2.6v2.6h-2.6zM358.7,251.2h2.6v2.6h-2.6zM362.1,251.5h2.6v2.6h-2.6zM365.5,251.8h2.6v2.6h-2.6z"/>
<g fill="#fff" stroke="#ee1414" stroke-width="0.95"><rect x="56.1" y="251.9" width="2.7" height="2.7"/><rect x="59.5" y="251.6" width="2.7" height="2.7"/><rect x="62.9" y="251.3" width="2.7" height="2.7"/><rect x="66.3" y="250.9" width="2.7" height="2.7"/><rect x="69.7" y="250.5" width="2.7" height="2.7"/><rect x="73.1" y="250.0" width="2.7" height="2.7"/><rect x="76.5" y="249.4" width="2.7" height="2.7"/><rect x="79.9" y="248.7" width="2.7" height="2.7"/><rect x="83.3" y="247.9" width="2.7" height="2.7"/><rect x="86.7" y="247.0" width="2.7" height="2.7"/><rect x="90.1" y="246.0" width="2.7" height="2.7"/><rect x="93.5" y="244.9" width="2.7" height="2.7"/><rect x="96.9" y="243.6" width="2.7" height="2.7"/><rect x="100.3" y="242.2" width="2.7" height="2.7"/><rect x="103.7" y="240.6" width="2.7" height="2.7"/><rect x="107.1" y="238.9" width="2.7" height="2.7"/><rect x="110.5" y="237.0" width="2.7" height="2.7"/><rect x="113.9" y="235.0" width="2.7" height="2.7"/><rect x="117.3" y="232.7" width="2.7" height="2.7"/><rect x="119.8" y="231.0" width="2.7" height="2.7"/><rect x="122.3" y="229.1" width="2.7" height="2.7"/><rect x="124.7" y="227.1" width="2.7" height="2.7"/><rect x="127.2" y="225.0" width="2.7" height="2.7"/><rect x="129.7" y="222.7" width="2.7" height="2.7"/><rect x="132.2" y="220.3" width="2.7" height="2.7"/><rect x="134.6" y="217.8" width="2.7" height="2.7"/><rect x="137.1" y="215.0" width="2.7" height="2.7"/><rect x="139.6" y="212.1" width="2.7" height="2.7"/><rect x="142.0" y="209.0" width="2.7" height="2.7"/><rect x="144.5" y="205.6" width="2.7" height="2.7"/><rect x="147.0" y="202.0" width="2.7" height="2.7"/><rect x="149.5" y="198.2" width="2.7" height="2.7"/><rect x="151.0" y="195.6" width="2.7" height="2.7"/><rect x="152.6" y="192.9" width="2.7" height="2.7"/><rect x="154.1" y="190.1" width="2.7" height="2.7"/><rect x="155.6" y="187.1" width="2.7" height="2.7"/><rect x="157.2" y="184.0" width="2.7" height="2.7"/><rect x="158.7" y="180.7" width="2.7" height="2.7"/><rect x="160.3" y="177.2" width="2.7" height="2.7"/><rect x="161.8" y="173.6" width="2.7" height="2.7"/><rect x="163.4" y="169.7" width="2.7" height="2.7"/><rect x="164.9" y="165.6" width="2.7" height="2.7"/><rect x="166.5" y="161.4" width="2.7" height="2.7"/><rect x="168.0" y="157.2" width="2.7" height="2.7"/><rect x="169.5" y="153.0" width="2.7" height="2.7"/><rect x="171.1" y="149.0" width="2.7" height="2.7"/><rect x="172.6" y="145.1" width="2.7" height="2.7"/><rect x="174.2" y="141.6" width="2.7" height="2.7"/><rect x="175.7" y="138.2" width="2.7" height="2.7"/><rect x="177.3" y="135.0" width="2.7" height="2.7"/><rect x="178.8" y="131.9" width="2.7" height="2.7"/><rect x="180.4" y="128.9" width="2.7" height="2.7"/><rect x="180.8" y="128.0" width="2.7" height="2.7"/><rect x="181.3" y="127.1" width="2.7" height="2.7"/><rect x="181.8" y="126.3" width="2.7" height="2.7"/><rect x="182.2" y="125.4" width="2.7" height="2.7"/><rect x="182.7" y="124.6" width="2.7" height="2.7"/><rect x="183.1" y="123.7" width="2.7" height="2.7"/><rect x="183.6" y="122.9" width="2.7" height="2.7"/><rect x="184.1" y="122.1" width="2.7" height="2.7"/><rect x="184.5" y="121.3" width="2.7" height="2.7"/><rect x="185.0" y="120.5" width="2.7" height="2.7"/><rect x="185.5" y="119.8" width="2.7" height="2.7"/><rect x="185.9" y="119.0" width="2.7" height="2.7"/><rect x="186.4" y="118.3" width="2.7" height="2.7"/><rect x="186.9" y="117.5" width="2.7" height="2.7"/><rect x="187.3" y="116.6" width="2.7" height="2.7"/><rect x="187.8" y="115.7" width="2.7" height="2.7"/><rect x="188.2" y="114.9" width="2.7" height="2.7"/><rect x="188.7" y="114.1" width="2.7" height="2.7"/><rect x="189.2" y="113.4" width="2.7" height="2.7"/><rect x="189.6" y="112.7" width="2.7" height="2.7"/><rect x="190.1" y="112.2" width="2.7" height="2.7"/><rect x="190.6" y="111.8" width="2.7" height="2.7"/><rect x="191.0" y="111.6" width="2.7" height="2.7"/><rect x="191.5" y="111.6" width="2.7" height="2.7"/><rect x="192.0" y="111.6" width="2.7" height="2.7"/><rect x="192.4" y="111.8" width="2.7" height="2.7"/><rect x="192.9" y="112.0" width="2.7" height="2.7"/><rect x="193.3" y="112.2" width="2.7" height="2.7"/><rect x="193.8" y="112.6" width="2.7" height="2.7"/><rect x="194.3" y="113.0" width="2.7" height="2.7"/><rect x="194.7" y="114.2" width="2.7" height="2.7"/><rect x="195.2" y="116.1" width="2.7" height="2.7"/><rect x="195.7" y="119.1" width="2.7" height="2.7"/><rect x="196.1" y="125.8" width="2.7" height="2.7"/><rect x="196.6" y="132.2" width="2.7" height="2.7"/><rect x="197.0" y="137.2" width="2.7" height="2.7"/><rect x="197.5" y="141.8" width="2.7" height="2.7"/><rect x="198.0" y="145.8" width="2.7" height="2.7"/><rect x="198.4" y="149.1" width="2.7" height="2.7"/><rect x="198.9" y="152.6" width="2.7" height="2.7"/><rect x="199.4" y="157.6" width="2.7" height="2.7"/><rect x="199.8" y="162.4" width="2.7" height="2.7"/><rect x="200.3" y="166.6" width="2.7" height="2.7"/><rect x="200.8" y="169.5" width="2.7" height="2.7"/><rect x="201.2" y="171.9" width="2.7" height="2.7"/><rect x="201.7" y="173.9" width="2.7" height="2.7"/><rect x="202.1" y="176.0" width="2.7" height="2.7"/><rect x="202.6" y="177.8" width="2.7" height="2.7"/><rect x="203.1" y="179.6" width="2.7" height="2.7"/><rect x="203.5" y="181.5" width="2.7" height="2.7"/><rect x="204.0" y="183.6" width="2.7" height="2.7"/><rect x="204.5" y="186.0" width="2.7" height="2.7"/><rect x="204.9" y="188.4" width="2.7" height="2.7"/><rect x="205.4" y="190.8" width="2.7" height="2.7"/><rect x="205.9" y="193.3" width="2.7" height="2.7"/><rect x="206.3" y="195.6" width="2.7" height="2.7"/><rect x="206.8" y="197.1" width="2.7" height="2.7"/><rect x="207.2" y="198.4" width="2.7" height="2.7"/><rect x="207.7" y="200.4" width="2.7" height="2.7"/><rect x="208.2" y="203.1" width="2.7" height="2.7"/><rect x="208.6" y="206.6" width="2.7" height="2.7"/><rect x="209.1" y="211.9" width="2.7" height="2.7"/><rect x="209.6" y="219.1" width="2.7" height="2.7"/><rect x="210.0" y="223.8" width="2.7" height="2.7"/><rect x="210.5" y="226.9" width="2.7" height="2.7"/><rect x="211.0" y="228.9" width="2.7" height="2.7"/><rect x="211.4" y="229.2" width="2.7" height="2.7"/><rect x="211.9" y="228.7" width="2.7" height="2.7"/><rect x="212.3" y="226.6" width="2.7" height="2.7"/><rect x="212.8" y="223.7" width="2.7" height="2.7"/><rect x="213.3" y="219.5" width="2.7" height="2.7"/><rect x="213.7" y="212.4" width="2.7" height="2.7"/><rect x="214.2" y="207.4" width="2.7" height="2.7"/><rect x="214.7" y="204.2" width="2.7" height="2.7"/><rect x="215.1" y="201.7" width="2.7" height="2.7"/><rect x="215.6" y="199.2" width="2.7" height="2.7"/><rect x="216.1" y="196.6" width="2.7" height="2.7"/><rect x="216.5" y="194.2" width="2.7" height="2.7"/><rect x="217.0" y="192.0" width="2.7" height="2.7"/><rect x="217.4" y="189.8" width="2.7" height="2.7"/><rect x="217.9" y="187.7" width="2.7" height="2.7"/><rect x="218.4" y="185.6" width="2.7" height="2.7"/><rect x="218.8" y="183.6" width="2.7" height="2.7"/><rect x="219.3" y="181.5" width="2.7" height="2.7"/><rect x="219.8" y="179.5" width="2.7" height="2.7"/><rect x="220.2" y="177.4" width="2.7" height="2.7"/><rect x="220.7" y="175.3" width="2.7" height="2.7"/><rect x="221.2" y="173.0" width="2.7" height="2.7"/><rect x="221.6" y="170.7" width="2.7" height="2.7"/><rect x="222.1" y="168.1" width="2.7" height="2.7"/><rect x="222.5" y="165.1" width="2.7" height="2.7"/><rect x="223.0" y="162.2" width="2.7" height="2.7"/><rect x="223.5" y="159.9" width="2.7" height="2.7"/><rect x="223.9" y="156.7" width="2.7" height="2.7"/><rect x="224.4" y="152.3" width="2.7" height="2.7"/><rect x="224.9" y="147.6" width="2.7" height="2.7"/><rect x="225.3" y="142.8" width="2.7" height="2.7"/><rect x="225.8" y="137.7" width="2.7" height="2.7"/><rect x="226.3" y="132.8" width="2.7" height="2.7"/><rect x="226.7" y="128.2" width="2.7" height="2.7"/><rect x="227.2" y="123.5" width="2.7" height="2.7"/><rect x="227.6" y="118.0" width="2.7" height="2.7"/><rect x="228.1" y="116.0" width="2.7" height="2.7"/><rect x="228.6" y="114.9" width="2.7" height="2.7"/><rect x="229.0" y="114.3" width="2.7" height="2.7"/><rect x="229.5" y="113.7" width="2.7" height="2.7"/><rect x="230.0" y="113.3" width="2.7" height="2.7"/><rect x="230.4" y="113.0" width="2.7" height="2.7"/><rect x="230.9" y="112.9" width="2.7" height="2.7"/><rect x="231.3" y="113.0" width="2.7" height="2.7"/><rect x="231.8" y="113.2" width="2.7" height="2.7"/><rect x="232.3" y="113.5" width="2.7" height="2.7"/><rect x="232.7" y="113.8" width="2.7" height="2.7"/><rect x="233.2" y="114.3" width="2.7" height="2.7"/><rect x="233.7" y="114.7" width="2.7" height="2.7"/><rect x="234.1" y="115.2" width="2.7" height="2.7"/><rect x="234.6" y="115.7" width="2.7" height="2.7"/><rect x="235.1" y="116.2" width="2.7" height="2.7"/><rect x="235.5" y="116.8" width="2.7" height="2.7"/><rect x="236.0" y="117.4" width="2.7" height="2.7"/><rect x="236.4" y="118.2" width="2.7" height="2.7"/><rect x="236.9" y="119.0" width="2.7" height="2.7"/><rect x="237.4" y="119.8" width="2.7" height="2.7"/><rect x="237.8" y="120.7" width="2.7" height="2.7"/><rect x="238.3" y="121.7" width="2.7" height="2.7"/><rect x="238.8" y="122.7" width="2.7" height="2.7"/><rect x="239.2" y="123.7" width="2.7" height="2.7"/><rect x="239.7" y="124.7" width="2.7" height="2.7"/><rect x="240.2" y="125.7" width="2.7" height="2.7"/><rect x="240.6" y="126.7" width="2.7" height="2.7"/><rect x="241.1" y="127.7" width="2.7" height="2.7"/><rect x="241.5" y="128.7" width="2.7" height="2.7"/><rect x="242.0" y="129.6" width="2.7" height="2.7"/><rect x="242.5" y="130.6" width="2.7" height="2.7"/><rect x="244.0" y="133.6" width="2.7" height="2.7"/><rect x="245.6" y="136.6" width="2.7" height="2.7"/><rect x="247.1" y="139.7" width="2.7" height="2.7"/><rect x="248.7" y="143.0" width="2.7" height="2.7"/><rect x="250.2" y="146.5" width="2.7" height="2.7"/><rect x="251.7" y="150.3" width="2.7" height="2.7"/><rect x="253.3" y="154.3" width="2.7" height="2.7"/><rect x="254.8" y="158.5" width="2.7" height="2.7"/><rect x="256.4" y="162.7" width="2.7" height="2.7"/><rect x="257.9" y="166.9" width="2.7" height="2.7"/><rect x="259.5" y="171.0" width="2.7" height="2.7"/><rect x="261.0" y="174.9" width="2.7" height="2.7"/><rect x="262.6" y="178.6" width="2.7" height="2.7"/><rect x="264.1" y="182.0" width="2.7" height="2.7"/><rect x="265.6" y="185.3" width="2.7" height="2.7"/><rect x="267.2" y="188.5" width="2.7" height="2.7"/><rect x="268.7" y="191.4" width="2.7" height="2.7"/><rect x="270.3" y="194.3" width="2.7" height="2.7"/><rect x="271.8" y="197.0" width="2.7" height="2.7"/><rect x="273.4" y="199.5" width="2.7" height="2.7"/><rect x="275.8" y="203.4" width="2.7" height="2.7"/><rect x="278.3" y="207.0" width="2.7" height="2.7"/><rect x="280.8" y="210.3" width="2.7" height="2.7"/><rect x="283.3" y="213.5" width="2.7" height="2.7"/><rect x="285.7" y="216.4" width="2.7" height="2.7"/><rect x="288.2" y="219.1" width="2.7" height="2.7"/><rect x="290.7" y="221.7" width="2.7" height="2.7"/><rect x="293.1" y="224.1" width="2.7" height="2.7"/><rect x="295.6" y="226.3" width="2.7" height="2.7"/><rect x="298.1" y="228.5" width="2.7" height="2.7"/><rect x="300.6" y="230.5" width="2.7" height="2.7"/><rect x="303.0" y="232.3" width="2.7" height="2.7"/><rect x="305.5" y="234.1" width="2.7" height="2.7"/><rect x="308.9" y="236.3" width="2.7" height="2.7"/><rect x="312.3" y="238.4" width="2.7" height="2.7"/><rect x="315.7" y="240.3" width="2.7" height="2.7"/><rect x="319.1" y="242.0" width="2.7" height="2.7"/><rect x="322.5" y="243.5" width="2.7" height="2.7"/><rect x="325.9" y="245.0" width="2.7" height="2.7"/><rect x="329.3" y="246.2" width="2.7" height="2.7"/><rect x="332.7" y="247.4" width="2.7" height="2.7"/><rect x="336.1" y="248.4" width="2.7" height="2.7"/><rect x="339.5" y="249.3" width="2.7" height="2.7"/><rect x="342.9" y="250.1" width="2.7" height="2.7"/><rect x="346.3" y="250.7" width="2.7" height="2.7"/><rect x="349.7" y="251.3" width="2.7" height="2.7"/><rect x="353.1" y="251.9" width="2.7" height="2.7"/><rect x="356.5" y="252.3" width="2.7" height="2.7"/><rect x="359.9" y="252.7" width="2.7" height="2.7"/><rect x="363.3" y="253.0" width="2.7" height="2.7"/><rect x="366.7" y="253.2" width="2.7" height="2.7"/></g>
<path d="M59.7,252.8 L63.1,252.2 L66.5,251.5 L69.9,250.7 L73.3,249.8 L76.7,248.8 L80.1,247.6 L83.5,246.4 L86.9,245.0 L90.2,243.5 L93.6,241.9 L97.0,240.1 L100.4,238.2 L103.8,236.2 L107.2,234.1 L110.6,231.8 L114.0,229.4 L117.4,226.8 L120.4,224.5 L122.8,222.5 L125.3,220.4 L127.8,218.2 L130.3,215.9 L132.7,213.5 L135.2,211.1 L137.7,208.5 L140.2,205.8 L142.6,203.0 L145.1,200.1 L147.6,197.0 L150.0,193.8 L152.0,191.0 L153.6,188.8 L155.1,186.5 L156.7,184.2 L158.2,181.7 L159.8,179.2 L161.3,176.5 L162.9,173.7 L164.4,170.9 L166.0,167.9 L167.5,164.9 L169.0,161.8 L170.6,158.7 L172.1,155.4 L173.7,152.2 L175.2,149.1 L176.8,146.2 L178.3,143.5 L179.9,140.7 L181.4,138.5 L182.4,137.7 L182.9,137.4 L183.3,137.1 L183.8,136.9 L184.3,136.6 L184.7,136.4 L185.2,136.2 L185.7,135.9 L186.1,135.7 L186.6,135.6 L187.0,135.4 L187.5,135.2 L188.0,135.1 L188.4,135.0 L188.9,134.8 L189.4,134.8 L189.8,134.7 L190.3,134.6 L190.8,134.6 L191.2,134.6 L191.7,134.7 L192.1,134.9 L192.6,135.2 L193.1,135.5 L193.5,135.8 L194.0,136.2 L194.5,136.8 L194.9,137.5 L195.4,138.3 L195.9,139.2 L196.3,140.1 L196.8,140.9 L197.2,141.9 L197.7,143.1 L198.2,144.6 L198.6,146.8 L199.1,149.7 L199.6,153.7 L200.0,158.3 L200.5,163.7 L200.9,168.9 L201.4,172.9 L201.9,176.3 L202.3,179.3 L202.8,181.9 L203.3,184.3 L203.7,186.8 L204.2,189.1 L204.7,191.3 L205.1,193.3 L205.6,195.1 L206.0,196.7 L206.5,198.4 L207.0,199.9 L207.4,201.5 L207.9,202.9 L208.4,204.4 L208.8,205.8 L209.3,207.3 L209.8,208.8 L210.2,210.4 L210.7,212.2 L211.1,214.5 L211.6,218.7 L212.1,223.6 L212.5,226.6 L213.0,227.6 L213.5,227.3 L213.9,225.5 L214.4,220.5 L214.9,213.8 L215.3,209.8 L215.8,207.5 L216.2,205.8 L216.7,204.4 L217.2,203.3 L217.6,202.3 L218.1,201.5 L218.6,200.7 L219.0,199.9 L219.5,198.9 L220.0,197.7 L220.4,196.2 L220.9,194.3 L221.3,192.2 L221.8,190.1 L222.3,187.9 L222.7,185.6 L223.2,183.1 L223.7,180.2 L224.1,177.1 L224.6,173.9 L225.1,170.5 L225.5,166.3 L226.0,161.1 L226.4,156.5 L226.9,152.2 L227.4,148.4 L227.8,144.9 L228.3,141.9 L228.8,139.6 L229.2,138.1 L229.7,136.8 L230.1,135.8 L230.6,135.0 L231.1,134.4 L231.5,133.9 L232.0,133.4 L232.5,133.0 L232.9,132.8 L233.4,132.8 L233.9,132.8 L234.3,132.8 L234.8,132.8 L235.2,132.8 L235.7,132.8 L236.2,132.8 L236.6,132.8 L237.1,132.8 L237.6,132.8 L238.0,132.8 L238.5,132.8 L239.0,132.9 L239.4,133.1 L239.9,133.3 L240.3,133.5 L240.8,133.8 L241.3,134.1 L241.7,134.4 L242.2,134.8 L242.7,135.2 L243.1,135.5 L243.6,135.9 L244.1,136.3 L245.1,137.3 L246.6,139.5 L248.1,142.1 L249.7,144.8 L251.2,147.7 L252.8,150.8 L254.3,154.1 L255.9,157.3 L257.4,160.5 L259.0,163.5 L260.5,166.6 L262.1,169.5 L263.6,172.4 L265.1,175.2 L266.7,177.8 L268.2,180.4 L269.8,182.8 L271.3,185.2 L272.9,187.5 L274.4,189.7 L276.4,192.4 L278.9,195.7 L281.4,198.7 L283.8,201.7 L286.3,204.5 L288.8,207.2 L291.3,209.7 L293.7,212.2 L296.2,214.5 L298.7,216.8 L301.1,219.0 L303.6,221.1 L306.1,223.2 L309.0,225.5 L312.4,228.0 L315.8,230.4 L319.2,232.7 L322.6,234.9 L326.0,236.9 L329.4,238.8 L332.8,240.5 L336.2,242.2 L339.6,243.7 L343.0,245.0 L346.4,246.3 L349.8,247.4 L353.2,248.4 L356.6,249.3 L360.0,250.1 L363.4,250.8 L366.8,251.4" fill="none" stroke="#1616da" stroke-width="1.5"/>
<path fill="#1616da" d="M58.4,251.5h2.6v2.6h-2.6zM61.8,250.9h2.6v2.6h-2.6zM65.2,250.2h2.6v2.6h-2.6zM68.6,249.4h2.6v2.6h-2.6zM72.0,248.5h2.6v2.6h-2.6zM75.4,247.5h2.6v2.6h-2.6zM78.8,246.3h2.6v2.6h-2.6zM82.2,245.1h2.6v2.6h-2.6zM85.6,243.7h2.6v2.6h-2.6zM88.9,242.2h2.6v2.6h-2.6zM92.3,240.6h2.6v2.6h-2.6zM95.7,238.8h2.6v2.6h-2.6zM99.1,236.9h2.6v2.6h-2.6zM102.5,234.9h2.6v2.6h-2.6zM105.9,232.8h2.6v2.6h-2.6zM109.3,230.5h2.6v2.6h-2.6zM112.7,228.1h2.6v2.6h-2.6zM116.1,225.5h2.6v2.6h-2.6zM119.1,223.2h2.6v2.6h-2.6zM121.5,221.2h2.6v2.6h-2.6zM124.0,219.1h2.6v2.6h-2.6zM126.5,216.9h2.6v2.6h-2.6zM129.0,214.6h2.6v2.6h-2.6zM131.4,212.2h2.6v2.6h-2.6zM133.9,209.8h2.6v2.6h-2.6zM136.4,207.2h2.6v2.6h-2.6zM138.9,204.5h2.6v2.6h-2.6zM141.3,201.7h2.6v2.6h-2.6zM143.8,198.8h2.6v2.6h-2.6zM146.3,195.7h2.6v2.6h-2.6zM148.7,192.5h2.6v2.6h-2.6zM150.7,189.7h2.6v2.6h-2.6zM152.3,187.5h2.6v2.6h-2.6zM153.8,185.2h2.6v2.6h-2.6zM155.4,182.9h2.6v2.6h-2.6zM156.9,180.4h2.6v2.6h-2.6zM158.5,177.9h2.6v2.6h-2.6zM160.0,175.2h2.6v2.6h-2.6zM161.6,172.4h2.6v2.6h-2.6zM163.1,169.6h2.6v2.6h-2.6zM164.7,166.6h2.6v2.6h-2.6zM166.2,163.6h2.6v2.6h-2.6zM167.7,160.5h2.6v2.6h-2.6zM169.3,157.4h2.6v2.6h-2.6zM170.8,154.1h2.6v2.6h-2.6zM172.4,150.9h2.6v2.6h-2.6zM173.9,147.8h2.6v2.6h-2.6zM175.5,144.9h2.6v2.6h-2.6zM177.0,142.2h2.6v2.6h-2.6zM178.6,139.4h2.6v2.6h-2.6zM180.1,137.2h2.6v2.6h-2.6zM181.1,136.4h2.6v2.6h-2.6zM181.6,136.1h2.6v2.6h-2.6zM182.0,135.8h2.6v2.6h-2.6zM182.5,135.6h2.6v2.6h-2.6zM183.0,135.3h2.6v2.6h-2.6zM183.4,135.1h2.6v2.6h-2.6zM183.9,134.9h2.6v2.6h-2.6zM184.4,134.6h2.6v2.6h-2.6zM184.8,134.4h2.6v2.6h-2.6zM185.3,134.3h2.6v2.6h-2.6zM185.7,134.1h2.6v2.6h-2.6zM186.2,133.9h2.6v2.6h-2.6zM186.7,133.8h2.6v2.6h-2.6zM187.1,133.7h2.6v2.6h-2.6zM187.6,133.5h2.6v2.6h-2.6zM188.1,133.5h2.6v2.6h-2.6zM188.5,133.4h2.6v2.6h-2.6zM189.0,133.3h2.6v2.6h-2.6zM189.5,133.3h2.6v2.6h-2.6zM189.9,133.3h2.6v2.6h-2.6zM190.4,133.4h2.6v2.6h-2.6zM190.8,133.6h2.6v2.6h-2.6zM191.3,133.9h2.6v2.6h-2.6zM191.8,134.2h2.6v2.6h-2.6zM192.2,134.5h2.6v2.6h-2.6zM192.7,134.9h2.6v2.6h-2.6zM193.2,135.5h2.6v2.6h-2.6zM193.6,136.2h2.6v2.6h-2.6zM194.1,137.0h2.6v2.6h-2.6zM194.6,137.9h2.6v2.6h-2.6zM195.0,138.8h2.6v2.6h-2.6zM195.5,139.6h2.6v2.6h-2.6zM195.9,140.6h2.6v2.6h-2.6zM196.4,141.8h2.6v2.6h-2.6zM196.9,143.3h2.6v2.6h-2.6zM197.3,145.5h2.6v2.6h-2.6zM197.8,148.4h2.6v2.6h-2.6zM198.3,152.4h2.6v2.6h-2.6zM198.7,157.0h2.6v2.6h-2.6zM199.2,162.4h2.6v2.6h-2.6zM199.6,167.6h2.6v2.6h-2.6zM200.1,171.6h2.6v2.6h-2.6zM200.6,175.0h2.6v2.6h-2.6zM201.0,178.0h2.6v2.6h-2.6zM201.5,180.6h2.6v2.6h-2.6zM202.0,183.0h2.6v2.6h-2.6zM202.4,185.5h2.6v2.6h-2.6zM202.9,187.8h2.6v2.6h-2.6zM203.4,190.0h2.6v2.6h-2.6zM203.8,192.0h2.6v2.6h-2.6zM204.3,193.8h2.6v2.6h-2.6zM204.7,195.4h2.6v2.6h-2.6zM205.2,197.1h2.6v2.6h-2.6zM205.7,198.6h2.6v2.6h-2.6zM206.1,200.2h2.6v2.6h-2.6zM206.6,201.6h2.6v2.6h-2.6zM207.1,203.1h2.6v2.6h-2.6zM207.5,204.5h2.6v2.6h-2.6zM208.0,206.0h2.6v2.6h-2.6zM208.5,207.5h2.6v2.6h-2.6zM208.9,209.1h2.6v2.6h-2.6zM209.4,210.9h2.6v2.6h-2.6zM209.8,213.2h2.6v2.6h-2.6zM210.3,217.4h2.6v2.6h-2.6zM210.8,222.3h2.6v2.6h-2.6zM211.2,225.3h2.6v2.6h-2.6zM211.7,226.3h2.6v2.6h-2.6zM212.2,226.0h2.6v2.6h-2.6zM212.6,224.2h2.6v2.6h-2.6zM213.1,219.2h2.6v2.6h-2.6zM213.6,212.5h2.6v2.6h-2.6zM214.0,208.5h2.6v2.6h-2.6zM214.5,206.2h2.6v2.6h-2.6zM214.9,204.5h2.6v2.6h-2.6zM215.4,203.1h2.6v2.6h-2.6zM215.9,202.0h2.6v2.6h-2.6zM216.3,201.0h2.6v2.6h-2.6zM216.8,200.2h2.6v2.6h-2.6zM217.3,199.4h2.6v2.6h-2.6zM217.7,198.6h2.6v2.6h-2.6zM218.2,197.6h2.6v2.6h-2.6zM218.7,196.4h2.6v2.6h-2.6zM219.1,194.9h2.6v2.6h-2.6zM219.6,193.0h2.6v2.6h-2.6zM220.0,190.9h2.6v2.6h-2.6zM220.5,188.8h2.6v2.6h-2.6zM221.0,186.6h2.6v2.6h-2.6zM221.4,184.3h2.6v2.6h-2.6zM221.9,181.8h2.6v2.6h-2.6zM222.4,178.9h2.6v2.6h-2.6zM222.8,175.8h2.6v2.6h-2.6zM223.3,172.6h2.6v2.6h-2.6zM223.8,169.2h2.6v2.6h-2.6zM224.2,165.0h2.6v2.6h-2.6zM224.7,159.8h2.6v2.6h-2.6zM225.1,155.2h2.6v2.6h-2.6zM225.6,150.9h2.6v2.6h-2.6zM226.1,147.1h2.6v2.6h-2.6zM226.5,143.6h2.6v2.6h-2.6zM227.0,140.6h2.6v2.6h-2.6zM227.5,138.3h2.6v2.6h-2.6zM227.9,136.8h2.6v2.6h-2.6zM228.4,135.5h2.6v2.6h-2.6zM228.8,134.5h2.6v2.6h-2.6zM229.3,133.7h2.6v2.6h-2.6zM229.8,133.1h2.6v2.6h-2.6zM230.2,132.6h2.6v2.6h-2.6zM230.7,132.1h2.6v2.6h-2.6zM231.2,131.7h2.6v2.6h-2.6zM231.6,131.5h2.6v2.6h-2.6zM232.1,131.5h2.6v2.6h-2.6zM232.6,131.5h2.6v2.6h-2.6zM233.0,131.5h2.6v2.6h-2.6zM233.5,131.5h2.6v2.6h-2.6zM233.9,131.5h2.6v2.6h-2.6zM234.4,131.5h2.6v2.6h-2.6zM234.9,131.5h2.6v2.6h-2.6zM235.3,131.5h2.6v2.6h-2.6zM235.8,131.5h2.6v2.6h-2.6zM236.3,131.5h2.6v2.6h-2.6zM236.7,131.5h2.6v2.6h-2.6zM237.2,131.5h2.6v2.6h-2.6zM237.7,131.6h2.6v2.6h-2.6zM238.1,131.8h2.6v2.6h-2.6zM238.6,132.0h2.6v2.6h-2.6zM239.0,132.2h2.6v2.6h-2.6zM239.5,132.5h2.6v2.6h-2.6zM240.0,132.8h2.6v2.6h-2.6zM240.4,133.1h2.6v2.6h-2.6zM240.9,133.5h2.6v2.6h-2.6zM241.4,133.9h2.6v2.6h-2.6zM241.8,134.2h2.6v2.6h-2.6zM242.3,134.6h2.6v2.6h-2.6zM242.8,135.0h2.6v2.6h-2.6zM243.8,136.0h2.6v2.6h-2.6zM245.3,138.2h2.6v2.6h-2.6zM246.8,140.8h2.6v2.6h-2.6zM248.4,143.5h2.6v2.6h-2.6zM249.9,146.4h2.6v2.6h-2.6zM251.5,149.5h2.6v2.6h-2.6zM253.0,152.8h2.6v2.6h-2.6zM254.6,156.0h2.6v2.6h-2.6zM256.1,159.2h2.6v2.6h-2.6zM257.7,162.2h2.6v2.6h-2.6zM259.2,165.3h2.6v2.6h-2.6zM260.8,168.2h2.6v2.6h-2.6zM262.3,171.1h2.6v2.6h-2.6zM263.8,173.9h2.6v2.6h-2.6zM265.4,176.5h2.6v2.6h-2.6zM266.9,179.1h2.6v2.6h-2.6zM268.5,181.5h2.6v2.6h-2.6zM270.0,183.9h2.6v2.6h-2.6zM271.6,186.2h2.6v2.6h-2.6zM273.1,188.4h2.6v2.6h-2.6zM275.1,191.1h2.6v2.6h-2.6zM277.6,194.4h2.6v2.6h-2.6zM280.1,197.4h2.6v2.6h-2.6zM282.5,200.4h2.6v2.6h-2.6zM285.0,203.2h2.6v2.6h-2.6zM287.5,205.9h2.6v2.6h-2.6zM290.0,208.4h2.6v2.6h-2.6zM292.4,210.9h2.6v2.6h-2.6zM294.9,213.2h2.6v2.6h-2.6zM297.4,215.5h2.6v2.6h-2.6zM299.8,217.7h2.6v2.6h-2.6zM302.3,219.8h2.6v2.6h-2.6zM304.8,221.9h2.6v2.6h-2.6zM307.7,224.2h2.6v2.6h-2.6zM311.1,226.7h2.6v2.6h-2.6zM314.5,229.1h2.6v2.6h-2.6zM317.9,231.4h2.6v2.6h-2.6zM321.3,233.6h2.6v2.6h-2.6zM324.7,235.6h2.6v2.6h-2.6zM328.1,237.5h2.6v2.6h-2.6zM331.5,239.2h2.6v2.6h-2.6zM334.9,240.9h2.6v2.6h-2.6zM338.3,242.4h2.6v2.6h-2.6zM341.7,243.7h2.6v2.6h-2.6zM345.1,245.0h2.6v2.6h-2.6zM348.5,246.1h2.6v2.6h-2.6zM351.9,247.1h2.6v2.6h-2.6zM355.3,248.0h2.6v2.6h-2.6zM358.7,248.8h2.6v2.6h-2.6zM362.1,249.5h2.6v2.6h-2.6zM365.5,250.1h2.6v2.6h-2.6z"/>
<g fill="#fff" stroke="#1616da" stroke-width="0.95"><rect x="56.1" y="250.3" width="2.7" height="2.7"/><rect x="59.5" y="249.8" width="2.7" height="2.7"/><rect x="62.9" y="249.1" width="2.7" height="2.7"/><rect x="66.3" y="248.4" width="2.7" height="2.7"/><rect x="69.7" y="247.5" width="2.7" height="2.7"/><rect x="73.1" y="246.6" width="2.7" height="2.7"/><rect x="76.5" y="245.5" width="2.7" height="2.7"/><rect x="79.9" y="244.3" width="2.7" height="2.7"/><rect x="83.3" y="243.0" width="2.7" height="2.7"/><rect x="86.7" y="241.6" width="2.7" height="2.7"/><rect x="90.1" y="240.0" width="2.7" height="2.7"/><rect x="93.5" y="238.3" width="2.7" height="2.7"/><rect x="96.9" y="236.5" width="2.7" height="2.7"/><rect x="100.3" y="234.5" width="2.7" height="2.7"/><rect x="103.7" y="232.5" width="2.7" height="2.7"/><rect x="107.1" y="230.2" width="2.7" height="2.7"/><rect x="110.5" y="227.9" width="2.7" height="2.7"/><rect x="113.9" y="225.4" width="2.7" height="2.7"/><rect x="117.3" y="222.8" width="2.7" height="2.7"/><rect x="119.8" y="220.8" width="2.7" height="2.7"/><rect x="122.3" y="218.7" width="2.7" height="2.7"/><rect x="124.7" y="216.6" width="2.7" height="2.7"/><rect x="127.2" y="214.3" width="2.7" height="2.7"/><rect x="129.7" y="212.0" width="2.7" height="2.7"/><rect x="132.2" y="209.6" width="2.7" height="2.7"/><rect x="134.6" y="207.1" width="2.7" height="2.7"/><rect x="137.1" y="204.5" width="2.7" height="2.7"/><rect x="139.6" y="201.7" width="2.7" height="2.7"/><rect x="142.0" y="198.9" width="2.7" height="2.7"/><rect x="144.5" y="195.9" width="2.7" height="2.7"/><rect x="147.0" y="192.7" width="2.7" height="2.7"/><rect x="149.5" y="189.4" width="2.7" height="2.7"/><rect x="151.0" y="187.2" width="2.7" height="2.7"/><rect x="152.6" y="185.0" width="2.7" height="2.7"/><rect x="154.1" y="182.7" width="2.7" height="2.7"/><rect x="155.6" y="180.3" width="2.7" height="2.7"/><rect x="157.2" y="177.8" width="2.7" height="2.7"/><rect x="158.7" y="175.1" width="2.7" height="2.7"/><rect x="160.3" y="172.4" width="2.7" height="2.7"/><rect x="161.8" y="169.6" width="2.7" height="2.7"/><rect x="163.4" y="166.7" width="2.7" height="2.7"/><rect x="164.9" y="163.7" width="2.7" height="2.7"/><rect x="166.5" y="160.7" width="2.7" height="2.7"/><rect x="168.0" y="157.6" width="2.7" height="2.7"/><rect x="169.5" y="154.4" width="2.7" height="2.7"/><rect x="171.1" y="151.1" width="2.7" height="2.7"/><rect x="172.6" y="147.9" width="2.7" height="2.7"/><rect x="174.2" y="144.9" width="2.7" height="2.7"/><rect x="175.7" y="142.2" width="2.7" height="2.7"/><rect x="177.3" y="139.3" width="2.7" height="2.7"/><rect x="178.8" y="136.8" width="2.7" height="2.7"/><rect x="180.4" y="135.1" width="2.7" height="2.7"/><rect x="180.8" y="134.8" width="2.7" height="2.7"/><rect x="181.3" y="134.6" width="2.7" height="2.7"/><rect x="181.8" y="134.3" width="2.7" height="2.7"/><rect x="182.2" y="134.0" width="2.7" height="2.7"/><rect x="182.7" y="133.8" width="2.7" height="2.7"/><rect x="183.1" y="133.6" width="2.7" height="2.7"/><rect x="183.6" y="133.3" width="2.7" height="2.7"/><rect x="184.1" y="133.1" width="2.7" height="2.7"/><rect x="184.5" y="132.9" width="2.7" height="2.7"/><rect x="185.0" y="132.8" width="2.7" height="2.7"/><rect x="185.5" y="132.6" width="2.7" height="2.7"/><rect x="185.9" y="132.4" width="2.7" height="2.7"/><rect x="186.4" y="132.3" width="2.7" height="2.7"/><rect x="186.9" y="132.2" width="2.7" height="2.7"/><rect x="187.3" y="132.1" width="2.7" height="2.7"/><rect x="187.8" y="132.0" width="2.7" height="2.7"/><rect x="188.2" y="132.0" width="2.7" height="2.7"/><rect x="188.7" y="131.9" width="2.7" height="2.7"/><rect x="189.2" y="131.9" width="2.7" height="2.7"/><rect x="189.6" y="132.0" width="2.7" height="2.7"/><rect x="190.1" y="132.1" width="2.7" height="2.7"/><rect x="190.6" y="132.3" width="2.7" height="2.7"/><rect x="191.0" y="132.6" width="2.7" height="2.7"/><rect x="191.5" y="132.9" width="2.7" height="2.7"/><rect x="192.0" y="133.3" width="2.7" height="2.7"/><rect x="192.4" y="133.8" width="2.7" height="2.7"/><rect x="192.9" y="134.4" width="2.7" height="2.7"/><rect x="193.3" y="135.2" width="2.7" height="2.7"/><rect x="193.8" y="136.0" width="2.7" height="2.7"/><rect x="194.3" y="136.9" width="2.7" height="2.7"/><rect x="194.7" y="137.8" width="2.7" height="2.7"/><rect x="195.2" y="138.7" width="2.7" height="2.7"/><rect x="195.7" y="139.7" width="2.7" height="2.7"/><rect x="196.1" y="141.1" width="2.7" height="2.7"/><rect x="196.6" y="142.9" width="2.7" height="2.7"/><rect x="197.0" y="145.4" width="2.7" height="2.7"/><rect x="197.5" y="148.9" width="2.7" height="2.7"/><rect x="198.0" y="153.1" width="2.7" height="2.7"/><rect x="198.4" y="158.3" width="2.7" height="2.7"/><rect x="198.9" y="163.7" width="2.7" height="2.7"/><rect x="199.4" y="168.3" width="2.7" height="2.7"/><rect x="199.8" y="172.0" width="2.7" height="2.7"/><rect x="200.3" y="175.1" width="2.7" height="2.7"/><rect x="200.8" y="177.9" width="2.7" height="2.7"/><rect x="201.2" y="180.4" width="2.7" height="2.7"/><rect x="201.7" y="182.8" width="2.7" height="2.7"/><rect x="202.1" y="185.2" width="2.7" height="2.7"/><rect x="202.6" y="187.5" width="2.7" height="2.7"/><rect x="203.1" y="189.6" width="2.7" height="2.7"/><rect x="203.5" y="191.5" width="2.7" height="2.7"/><rect x="204.0" y="193.2" width="2.7" height="2.7"/><rect x="204.5" y="194.9" width="2.7" height="2.7"/><rect x="204.9" y="196.5" width="2.7" height="2.7"/><rect x="205.4" y="198.0" width="2.7" height="2.7"/><rect x="205.9" y="199.5" width="2.7" height="2.7"/><rect x="206.3" y="201.0" width="2.7" height="2.7"/><rect x="206.8" y="202.4" width="2.7" height="2.7"/><rect x="207.2" y="204.0" width="2.7" height="2.7"/><rect x="207.7" y="205.5" width="2.7" height="2.7"/><rect x="208.2" y="207.0" width="2.7" height="2.7"/><rect x="208.6" y="208.8" width="2.7" height="2.7"/><rect x="209.1" y="210.9" width="2.7" height="2.7"/><rect x="209.6" y="213.8" width="2.7" height="2.7"/><rect x="210.0" y="219.1" width="2.7" height="2.7"/><rect x="210.5" y="223.6" width="2.7" height="2.7"/><rect x="211.0" y="225.7" width="2.7" height="2.7"/><rect x="211.4" y="226.2" width="2.7" height="2.7"/><rect x="211.9" y="225.5" width="2.7" height="2.7"/><rect x="212.3" y="222.7" width="2.7" height="2.7"/><rect x="212.8" y="216.3" width="2.7" height="2.7"/><rect x="213.3" y="211.1" width="2.7" height="2.7"/><rect x="213.7" y="208.3" width="2.7" height="2.7"/><rect x="214.2" y="206.4" width="2.7" height="2.7"/><rect x="214.7" y="204.9" width="2.7" height="2.7"/><rect x="215.1" y="203.7" width="2.7" height="2.7"/><rect x="215.6" y="202.7" width="2.7" height="2.7"/><rect x="216.1" y="201.9" width="2.7" height="2.7"/><rect x="216.5" y="201.1" width="2.7" height="2.7"/><rect x="217.0" y="200.3" width="2.7" height="2.7"/><rect x="217.4" y="199.4" width="2.7" height="2.7"/><rect x="217.9" y="198.4" width="2.7" height="2.7"/><rect x="218.4" y="197.0" width="2.7" height="2.7"/><rect x="218.8" y="195.2" width="2.7" height="2.7"/><rect x="219.3" y="193.2" width="2.7" height="2.7"/><rect x="219.8" y="191.1" width="2.7" height="2.7"/><rect x="220.2" y="189.0" width="2.7" height="2.7"/><rect x="220.7" y="186.8" width="2.7" height="2.7"/><rect x="221.2" y="184.4" width="2.7" height="2.7"/><rect x="221.6" y="181.7" width="2.7" height="2.7"/><rect x="222.1" y="178.7" width="2.7" height="2.7"/><rect x="222.5" y="175.5" width="2.7" height="2.7"/><rect x="223.0" y="172.3" width="2.7" height="2.7"/><rect x="223.5" y="168.6" width="2.7" height="2.7"/><rect x="223.9" y="163.7" width="2.7" height="2.7"/><rect x="224.4" y="158.8" width="2.7" height="2.7"/><rect x="224.9" y="154.3" width="2.7" height="2.7"/><rect x="225.3" y="150.2" width="2.7" height="2.7"/><rect x="225.8" y="146.6" width="2.7" height="2.7"/><rect x="226.3" y="143.3" width="2.7" height="2.7"/><rect x="226.7" y="140.6" width="2.7" height="2.7"/><rect x="227.2" y="138.8" width="2.7" height="2.7"/><rect x="227.6" y="137.4" width="2.7" height="2.7"/><rect x="228.1" y="136.3" width="2.7" height="2.7"/><rect x="228.6" y="135.4" width="2.7" height="2.7"/><rect x="229.0" y="134.7" width="2.7" height="2.7"/><rect x="229.5" y="134.1" width="2.7" height="2.7"/><rect x="230.0" y="133.6" width="2.7" height="2.7"/><rect x="230.4" y="133.2" width="2.7" height="2.7"/><rect x="230.9" y="132.9" width="2.7" height="2.7"/><rect x="231.3" y="132.8" width="2.7" height="2.7"/><rect x="231.8" y="132.8" width="2.7" height="2.7"/><rect x="232.3" y="132.8" width="2.7" height="2.7"/><rect x="232.7" y="132.8" width="2.7" height="2.7"/><rect x="233.2" y="132.8" width="2.7" height="2.7"/><rect x="233.7" y="132.8" width="2.7" height="2.7"/><rect x="234.1" y="132.8" width="2.7" height="2.7"/><rect x="234.6" y="132.8" width="2.7" height="2.7"/><rect x="235.1" y="132.8" width="2.7" height="2.7"/><rect x="235.5" y="132.8" width="2.7" height="2.7"/><rect x="236.0" y="132.8" width="2.7" height="2.7"/><rect x="236.4" y="132.8" width="2.7" height="2.7"/><rect x="236.9" y="132.9" width="2.7" height="2.7"/><rect x="237.4" y="133.0" width="2.7" height="2.7"/><rect x="237.8" y="133.2" width="2.7" height="2.7"/><rect x="238.3" y="133.4" width="2.7" height="2.7"/><rect x="238.8" y="133.7" width="2.7" height="2.7"/><rect x="239.2" y="134.0" width="2.7" height="2.7"/><rect x="239.7" y="134.3" width="2.7" height="2.7"/><rect x="240.2" y="134.6" width="2.7" height="2.7"/><rect x="240.6" y="135.0" width="2.7" height="2.7"/><rect x="241.1" y="135.3" width="2.7" height="2.7"/><rect x="241.5" y="135.7" width="2.7" height="2.7"/><rect x="242.0" y="136.1" width="2.7" height="2.7"/><rect x="242.5" y="136.5" width="2.7" height="2.7"/><rect x="244.0" y="138.3" width="2.7" height="2.7"/><rect x="245.6" y="140.8" width="2.7" height="2.7"/><rect x="247.1" y="143.5" width="2.7" height="2.7"/><rect x="248.7" y="146.3" width="2.7" height="2.7"/><rect x="250.2" y="149.3" width="2.7" height="2.7"/><rect x="251.7" y="152.5" width="2.7" height="2.7"/><rect x="253.3" y="155.7" width="2.7" height="2.7"/><rect x="254.8" y="158.9" width="2.7" height="2.7"/><rect x="256.4" y="162.0" width="2.7" height="2.7"/><rect x="257.9" y="165.0" width="2.7" height="2.7"/><rect x="259.5" y="168.1" width="2.7" height="2.7"/><rect x="261.0" y="171.0" width="2.7" height="2.7"/><rect x="262.6" y="173.8" width="2.7" height="2.7"/><rect x="264.1" y="176.5" width="2.7" height="2.7"/><rect x="265.6" y="179.1" width="2.7" height="2.7"/><rect x="267.2" y="181.6" width="2.7" height="2.7"/><rect x="268.7" y="184.0" width="2.7" height="2.7"/><rect x="270.3" y="186.4" width="2.7" height="2.7"/><rect x="271.8" y="188.6" width="2.7" height="2.7"/><rect x="273.4" y="190.8" width="2.7" height="2.7"/><rect x="275.8" y="194.1" width="2.7" height="2.7"/><rect x="278.3" y="197.2" width="2.7" height="2.7"/><rect x="280.8" y="200.2" width="2.7" height="2.7"/><rect x="283.3" y="203.1" width="2.7" height="2.7"/><rect x="285.7" y="205.8" width="2.7" height="2.7"/><rect x="288.2" y="208.5" width="2.7" height="2.7"/><rect x="290.7" y="211.0" width="2.7" height="2.7"/><rect x="293.1" y="213.4" width="2.7" height="2.7"/><rect x="295.6" y="215.7" width="2.7" height="2.7"/><rect x="298.1" y="217.9" width="2.7" height="2.7"/><rect x="300.6" y="220.1" width="2.7" height="2.7"/><rect x="303.0" y="222.2" width="2.7" height="2.7"/><rect x="305.5" y="224.2" width="2.7" height="2.7"/><rect x="308.9" y="226.8" width="2.7" height="2.7"/><rect x="312.3" y="229.3" width="2.7" height="2.7"/><rect x="315.7" y="231.6" width="2.7" height="2.7"/><rect x="319.1" y="233.8" width="2.7" height="2.7"/><rect x="322.5" y="235.9" width="2.7" height="2.7"/><rect x="325.9" y="237.9" width="2.7" height="2.7"/><rect x="329.3" y="239.7" width="2.7" height="2.7"/><rect x="332.7" y="241.4" width="2.7" height="2.7"/><rect x="336.1" y="242.9" width="2.7" height="2.7"/><rect x="339.5" y="244.4" width="2.7" height="2.7"/><rect x="342.9" y="245.7" width="2.7" height="2.7"/><rect x="346.3" y="246.9" width="2.7" height="2.7"/><rect x="349.7" y="247.9" width="2.7" height="2.7"/><rect x="353.1" y="248.9" width="2.7" height="2.7"/><rect x="356.5" y="249.7" width="2.7" height="2.7"/><rect x="359.9" y="250.5" width="2.7" height="2.7"/><rect x="363.3" y="251.1" width="2.7" height="2.7"/><rect x="366.7" y="251.7" width="2.7" height="2.7"/></g>
<path d="M59.7,253.4 L63.1,253.0 L66.5,252.5 L69.9,251.9 L73.3,251.3 L76.7,250.6 L80.1,249.7 L83.5,248.8 L86.9,247.8 L90.2,246.7 L93.6,245.5 L97.0,244.1 L100.4,242.7 L103.8,241.1 L107.2,239.3 L110.6,237.4 L114.0,235.3 L117.4,233.1 L120.4,231.0 L122.8,229.1 L125.3,227.1 L127.8,224.9 L130.3,222.6 L132.7,220.2 L135.2,217.5 L137.7,214.7 L140.2,211.7 L142.6,208.4 L145.1,204.9 L147.6,201.1 L150.0,196.9 L152.0,193.3 L153.6,190.3 L155.1,187.2 L156.7,183.9 L158.2,180.4 L159.8,176.7 L161.3,172.8 L162.9,168.5 L164.4,163.8 L166.0,158.6 L167.5,153.2 L169.0,147.8 L170.6,142.6 L172.1,137.7 L173.7,132.6 L175.2,126.8 L176.8,120.3 L178.3,113.2 L179.9,105.9 L181.4,98.5 L182.4,93.8 L182.9,91.7 L183.3,89.6 L183.8,87.4 L184.3,85.3 L184.7,83.1 L185.2,80.9 L185.7,78.7 L186.1,76.5 L186.6,74.2 L187.0,71.9 L187.5,69.6 L188.0,67.2 L188.4,64.7 L188.9,62.3 L189.4,59.8 L189.8,57.4 L190.3,55.1 L190.8,52.8 L191.2,50.7 L191.7,48.6 L192.1,46.5 L192.6,44.5 L193.1,42.6 L193.5,40.6 L194.0,38.8 L194.5,36.9 L194.9,35.1 L195.4,33.4 L195.9,31.7 L196.3,30.0 L196.8,28.3 L197.2,26.6 L197.7,25.0 L198.2,23.4 L198.6,22.0 L199.1,20.7 L199.6,19.6 L200.0,18.5 L200.5,17.4 L200.9,16.5 L201.4,15.8 L201.9,15.5 L202.3,15.9 L202.8,17.2 L203.3,18.9 L203.7,20.7 L204.2,22.8 L204.7,25.7 L205.1,30.1 L205.6,37.5 L206.0,46.8 L206.5,56.7 L207.0,64.7 L207.4,71.3 L207.9,77.5 L208.4,83.5 L208.8,89.1 L209.3,94.0 L209.8,98.0 L210.2,100.6 L210.7,102.6 L211.1,104.8 L211.6,107.9 L212.1,112.5 L212.5,117.9 L213.0,122.2 L213.5,122.1 L213.9,119.1 L214.4,112.6 L214.9,108.3 L215.3,105.3 L215.8,102.2 L216.2,99.1 L216.7,95.6 L217.2,91.1 L217.6,86.1 L218.1,80.8 L218.6,75.0 L219.0,68.9 L219.5,62.9 L220.0,55.1 L220.4,41.2 L220.9,33.7 L221.3,27.9 L221.8,23.1 L222.3,19.7 L222.7,16.9 L223.2,15.1 L223.7,14.6 L224.1,14.3 L224.6,14.1 L225.1,14.4 L225.5,14.9 L226.0,15.7 L226.4,16.7 L226.9,17.9 L227.4,19.2 L227.8,20.6 L228.3,22.2 L228.8,23.9 L229.2,25.7 L229.7,27.6 L230.1,29.4 L230.6,31.2 L231.1,33.0 L231.5,34.7 L232.0,36.6 L232.5,38.4 L232.9,40.3 L233.4,42.2 L233.9,44.1 L234.3,46.1 L234.8,48.1 L235.2,50.2 L235.7,52.3 L236.2,54.4 L236.6,56.6 L237.1,58.7 L237.6,60.8 L238.0,62.8 L238.5,64.8 L239.0,66.9 L239.4,68.9 L239.9,70.9 L240.3,73.0 L240.8,75.2 L241.3,77.4 L241.7,79.7 L242.2,82.0 L242.7,84.4 L243.1,86.7 L243.6,89.0 L244.1,91.3 L245.1,96.2 L246.6,103.9 L248.1,111.5 L249.7,118.7 L251.2,125.4 L252.8,131.2 L254.3,136.4 L255.9,141.3 L257.4,146.4 L259.0,151.8 L260.5,157.2 L262.1,162.4 L263.6,167.2 L265.1,171.4 L266.7,175.3 L268.2,179.0 L269.8,182.5 L271.3,185.8 L272.9,189.0 L274.4,192.0 L276.4,195.6 L278.9,199.7 L281.4,203.5 L283.8,207.1 L286.3,210.3 L288.8,213.4 L291.3,216.2 L293.7,218.8 L296.2,221.3 L298.7,223.6 L301.1,225.7 L303.6,227.7 L306.1,229.6 L309.0,231.7 L312.4,234.0 L315.8,236.1 L319.2,238.0 L322.6,239.7 L326.0,241.3 L329.4,242.8 L332.8,244.1 L336.2,245.4 L339.6,246.5 L343.0,247.5 L346.4,248.4 L349.8,249.2 L353.2,249.9 L356.6,250.6 L360.0,251.1 L363.4,251.6 L366.8,252.1" fill="none" stroke="#127b7b" stroke-width="1.5"/>
<path fill="#127b7b" d="M58.4,252.1h2.6v2.6h-2.6zM61.8,251.7h2.6v2.6h-2.6zM65.2,251.2h2.6v2.6h-2.6zM68.6,250.6h2.6v2.6h-2.6zM72.0,250.0h2.6v2.6h-2.6zM75.4,249.3h2.6v2.6h-2.6zM78.8,248.4h2.6v2.6h-2.6zM82.2,247.5h2.6v2.6h-2.6zM85.6,246.5h2.6v2.6h-2.6zM88.9,245.4h2.6v2.6h-2.6zM92.3,244.2h2.6v2.6h-2.6zM95.7,242.8h2.6v2.6h-2.6zM99.1,241.4h2.6v2.6h-2.6zM102.5,239.8h2.6v2.6h-2.6zM105.9,238.0h2.6v2.6h-2.6zM109.3,236.1h2.6v2.6h-2.6zM112.7,234.0h2.6v2.6h-2.6zM116.1,231.8h2.6v2.6h-2.6zM119.1,229.7h2.6v2.6h-2.6zM121.5,227.8h2.6v2.6h-2.6zM124.0,225.8h2.6v2.6h-2.6zM126.5,223.6h2.6v2.6h-2.6zM129.0,221.3h2.6v2.6h-2.6zM131.4,218.9h2.6v2.6h-2.6zM133.9,216.2h2.6v2.6h-2.6zM136.4,213.4h2.6v2.6h-2.6zM138.9,210.4h2.6v2.6h-2.6zM141.3,207.1h2.6v2.6h-2.6zM143.8,203.6h2.6v2.6h-2.6zM146.3,199.8h2.6v2.6h-2.6zM148.7,195.6h2.6v2.6h-2.6zM150.7,192.0h2.6v2.6h-2.6zM152.3,189.0h2.6v2.6h-2.6zM153.8,185.9h2.6v2.6h-2.6zM155.4,182.6h2.6v2.6h-2.6zM156.9,179.1h2.6v2.6h-2.6zM158.5,175.4h2.6v2.6h-2.6zM160.0,171.5h2.6v2.6h-2.6zM161.6,167.2h2.6v2.6h-2.6zM163.1,162.5h2.6v2.6h-2.6zM164.7,157.3h2.6v2.6h-2.6zM166.2,151.9h2.6v2.6h-2.6zM167.7,146.5h2.6v2.6h-2.6zM169.3,141.3h2.6v2.6h-2.6zM170.8,136.4h2.6v2.6h-2.6zM172.4,131.3h2.6v2.6h-2.6zM173.9,125.5h2.6v2.6h-2.6zM175.5,119.0h2.6v2.6h-2.6zM177.0,111.9h2.6v2.6h-2.6zM178.6,104.6h2.6v2.6h-2.6zM180.1,97.2h2.6v2.6h-2.6zM181.1,92.5h2.6v2.6h-2.6zM181.6,90.4h2.6v2.6h-2.6zM182.0,88.3h2.6v2.6h-2.6zM182.5,86.1h2.6v2.6h-2.6zM183.0,84.0h2.6v2.6h-2.6zM183.4,81.8h2.6v2.6h-2.6zM183.9,79.6h2.6v2.6h-2.6zM184.4,77.4h2.6v2.6h-2.6zM184.8,75.2h2.6v2.6h-2.6zM185.3,72.9h2.6v2.6h-2.6zM185.7,70.6h2.6v2.6h-2.6zM186.2,68.3h2.6v2.6h-2.6zM186.7,65.9h2.6v2.6h-2.6zM187.1,63.4h2.6v2.6h-2.6zM187.6,61.0h2.6v2.6h-2.6zM188.1,58.5h2.6v2.6h-2.6zM188.5,56.1h2.6v2.6h-2.6zM189.0,53.8h2.6v2.6h-2.6zM189.5,51.5h2.6v2.6h-2.6zM189.9,49.4h2.6v2.6h-2.6zM190.4,47.3h2.6v2.6h-2.6zM190.8,45.2h2.6v2.6h-2.6zM191.3,43.2h2.6v2.6h-2.6zM191.8,41.3h2.6v2.6h-2.6zM192.2,39.3h2.6v2.6h-2.6zM192.7,37.5h2.6v2.6h-2.6zM193.2,35.6h2.6v2.6h-2.6zM193.6,33.8h2.6v2.6h-2.6zM194.1,32.1h2.6v2.6h-2.6zM194.6,30.4h2.6v2.6h-2.6zM195.0,28.7h2.6v2.6h-2.6zM195.5,27.0h2.6v2.6h-2.6zM195.9,25.3h2.6v2.6h-2.6zM196.4,23.7h2.6v2.6h-2.6zM196.9,22.1h2.6v2.6h-2.6zM197.3,20.7h2.6v2.6h-2.6zM197.8,19.4h2.6v2.6h-2.6zM198.3,18.3h2.6v2.6h-2.6zM198.7,17.2h2.6v2.6h-2.6zM199.2,16.1h2.6v2.6h-2.6zM199.6,15.2h2.6v2.6h-2.6zM200.1,14.5h2.6v2.6h-2.6zM200.6,14.2h2.6v2.6h-2.6zM201.0,14.6h2.6v2.6h-2.6zM201.5,15.9h2.6v2.6h-2.6zM202.0,17.6h2.6v2.6h-2.6zM202.4,19.4h2.6v2.6h-2.6zM202.9,21.5h2.6v2.6h-2.6zM203.4,24.4h2.6v2.6h-2.6zM203.8,28.8h2.6v2.6h-2.6zM204.3,36.2h2.6v2.6h-2.6zM204.7,45.5h2.6v2.6h-2.6zM205.2,55.4h2.6v2.6h-2.6zM205.7,63.4h2.6v2.6h-2.6zM206.1,70.0h2.6v2.6h-2.6zM206.6,76.2h2.6v2.6h-2.6zM207.1,82.2h2.6v2.6h-2.6zM207.5,87.8h2.6v2.6h-2.6zM208.0,92.7h2.6v2.6h-2.6zM208.5,96.7h2.6v2.6h-2.6zM208.9,99.3h2.6v2.6h-2.6zM209.4,101.3h2.6v2.6h-2.6zM209.8,103.5h2.6v2.6h-2.6zM210.3,106.6h2.6v2.6h-2.6zM210.8,111.2h2.6v2.6h-2.6zM211.2,116.6h2.6v2.6h-2.6zM211.7,120.9h2.6v2.6h-2.6zM212.2,120.8h2.6v2.6h-2.6zM212.6,117.8h2.6v2.6h-2.6zM213.1,111.3h2.6v2.6h-2.6zM213.6,107.0h2.6v2.6h-2.6zM214.0,104.0h2.6v2.6h-2.6zM214.5,100.9h2.6v2.6h-2.6zM214.9,97.8h2.6v2.6h-2.6zM215.4,94.3h2.6v2.6h-2.6zM215.9,89.8h2.6v2.6h-2.6zM216.3,84.8h2.6v2.6h-2.6zM216.8,79.5h2.6v2.6h-2.6zM217.3,73.7h2.6v2.6h-2.6zM217.7,67.6h2.6v2.6h-2.6zM218.2,61.6h2.6v2.6h-2.6zM218.7,53.8h2.6v2.6h-2.6zM219.1,39.9h2.6v2.6h-2.6zM219.6,32.4h2.6v2.6h-2.6zM220.0,26.6h2.6v2.6h-2.6zM220.5,21.8h2.6v2.6h-2.6zM221.0,18.4h2.6v2.6h-2.6zM221.4,15.6h2.6v2.6h-2.6zM221.9,13.8h2.6v2.6h-2.6zM222.4,13.3h2.6v2.6h-2.6zM222.8,13.0h2.6v2.6h-2.6zM223.3,12.8h2.6v2.6h-2.6zM223.8,13.1h2.6v2.6h-2.6zM224.2,13.6h2.6v2.6h-2.6zM224.7,14.4h2.6v2.6h-2.6zM225.1,15.4h2.6v2.6h-2.6zM225.6,16.6h2.6v2.6h-2.6zM226.1,17.9h2.6v2.6h-2.6zM226.5,19.3h2.6v2.6h-2.6zM227.0,20.9h2.6v2.6h-2.6zM227.5,22.6h2.6v2.6h-2.6zM227.9,24.4h2.6v2.6h-2.6zM228.4,26.3h2.6v2.6h-2.6zM228.8,28.1h2.6v2.6h-2.6zM229.3,29.9h2.6v2.6h-2.6zM229.8,31.7h2.6v2.6h-2.6zM230.2,33.4h2.6v2.6h-2.6zM230.7,35.3h2.6v2.6h-2.6zM231.2,37.1h2.6v2.6h-2.6zM231.6,39.0h2.6v2.6h-2.6zM232.1,40.9h2.6v2.6h-2.6zM232.6,42.8h2.6v2.6h-2.6zM233.0,44.8h2.6v2.6h-2.6zM233.5,46.8h2.6v2.6h-2.6zM233.9,48.9h2.6v2.6h-2.6zM234.4,51.0h2.6v2.6h-2.6zM234.9,53.1h2.6v2.6h-2.6zM235.3,55.3h2.6v2.6h-2.6zM235.8,57.4h2.6v2.6h-2.6zM236.3,59.5h2.6v2.6h-2.6zM236.7,61.5h2.6v2.6h-2.6zM237.2,63.5h2.6v2.6h-2.6zM237.7,65.6h2.6v2.6h-2.6zM238.1,67.6h2.6v2.6h-2.6zM238.6,69.6h2.6v2.6h-2.6zM239.0,71.7h2.6v2.6h-2.6zM239.5,73.9h2.6v2.6h-2.6zM240.0,76.1h2.6v2.6h-2.6zM240.4,78.4h2.6v2.6h-2.6zM240.9,80.7h2.6v2.6h-2.6zM241.4,83.1h2.6v2.6h-2.6zM241.8,85.4h2.6v2.6h-2.6zM242.3,87.7h2.6v2.6h-2.6zM242.8,90.0h2.6v2.6h-2.6zM243.8,94.9h2.6v2.6h-2.6zM245.3,102.6h2.6v2.6h-2.6zM246.8,110.2h2.6v2.6h-2.6zM248.4,117.4h2.6v2.6h-2.6zM249.9,124.1h2.6v2.6h-2.6zM251.5,129.9h2.6v2.6h-2.6zM253.0,135.1h2.6v2.6h-2.6zM254.6,140.0h2.6v2.6h-2.6zM256.1,145.1h2.6v2.6h-2.6zM257.7,150.5h2.6v2.6h-2.6zM259.2,155.9h2.6v2.6h-2.6zM260.8,161.1h2.6v2.6h-2.6zM262.3,165.9h2.6v2.6h-2.6zM263.8,170.1h2.6v2.6h-2.6zM265.4,174.0h2.6v2.6h-2.6zM266.9,177.7h2.6v2.6h-2.6zM268.5,181.2h2.6v2.6h-2.6zM270.0,184.5h2.6v2.6h-2.6zM271.6,187.7h2.6v2.6h-2.6zM273.1,190.7h2.6v2.6h-2.6zM275.1,194.3h2.6v2.6h-2.6zM277.6,198.4h2.6v2.6h-2.6zM280.1,202.2h2.6v2.6h-2.6zM282.5,205.8h2.6v2.6h-2.6zM285.0,209.0h2.6v2.6h-2.6zM287.5,212.1h2.6v2.6h-2.6zM290.0,214.9h2.6v2.6h-2.6zM292.4,217.5h2.6v2.6h-2.6zM294.9,220.0h2.6v2.6h-2.6zM297.4,222.3h2.6v2.6h-2.6zM299.8,224.4h2.6v2.6h-2.6zM302.3,226.4h2.6v2.6h-2.6zM304.8,228.3h2.6v2.6h-2.6zM307.7,230.4h2.6v2.6h-2.6zM311.1,232.7h2.6v2.6h-2.6zM314.5,234.8h2.6v2.6h-2.6zM317.9,236.7h2.6v2.6h-2.6zM321.3,238.4h2.6v2.6h-2.6zM324.7,240.0h2.6v2.6h-2.6zM328.1,241.5h2.6v2.6h-2.6zM331.5,242.8h2.6v2.6h-2.6zM334.9,244.1h2.6v2.6h-2.6zM338.3,245.2h2.6v2.6h-2.6zM341.7,246.2h2.6v2.6h-2.6zM345.1,247.1h2.6v2.6h-2.6zM348.5,247.9h2.6v2.6h-2.6zM351.9,248.6h2.6v2.6h-2.6zM355.3,249.3h2.6v2.6h-2.6zM358.7,249.8h2.6v2.6h-2.6zM362.1,250.3h2.6v2.6h-2.6zM365.5,250.8h2.6v2.6h-2.6z"/>
<g fill="#fff" stroke="#127b7b" stroke-width="0.95"><rect x="56.1" y="250.9" width="2.7" height="2.7"/><rect x="59.5" y="250.5" width="2.7" height="2.7"/><rect x="62.9" y="250.0" width="2.7" height="2.7"/><rect x="66.3" y="249.5" width="2.7" height="2.7"/><rect x="69.7" y="248.9" width="2.7" height="2.7"/><rect x="73.1" y="248.2" width="2.7" height="2.7"/><rect x="76.5" y="247.5" width="2.7" height="2.7"/><rect x="79.9" y="246.6" width="2.7" height="2.7"/><rect x="83.3" y="245.6" width="2.7" height="2.7"/><rect x="86.7" y="244.6" width="2.7" height="2.7"/><rect x="90.1" y="243.4" width="2.7" height="2.7"/><rect x="93.5" y="242.1" width="2.7" height="2.7"/><rect x="96.9" y="240.7" width="2.7" height="2.7"/><rect x="100.3" y="239.2" width="2.7" height="2.7"/><rect x="103.7" y="237.5" width="2.7" height="2.7"/><rect x="107.1" y="235.7" width="2.7" height="2.7"/><rect x="110.5" y="233.7" width="2.7" height="2.7"/><rect x="113.9" y="231.5" width="2.7" height="2.7"/><rect x="117.3" y="229.2" width="2.7" height="2.7"/><rect x="119.8" y="227.4" width="2.7" height="2.7"/><rect x="122.3" y="225.4" width="2.7" height="2.7"/><rect x="124.7" y="223.3" width="2.7" height="2.7"/><rect x="127.2" y="221.1" width="2.7" height="2.7"/><rect x="129.7" y="218.7" width="2.7" height="2.7"/><rect x="132.2" y="216.2" width="2.7" height="2.7"/><rect x="134.6" y="213.5" width="2.7" height="2.7"/><rect x="137.1" y="210.5" width="2.7" height="2.7"/><rect x="139.6" y="207.4" width="2.7" height="2.7"/><rect x="142.0" y="204.0" width="2.7" height="2.7"/><rect x="144.5" y="200.3" width="2.7" height="2.7"/><rect x="147.0" y="196.3" width="2.7" height="2.7"/><rect x="149.5" y="192.0" width="2.7" height="2.7"/><rect x="151.0" y="189.1" width="2.7" height="2.7"/><rect x="152.6" y="186.1" width="2.7" height="2.7"/><rect x="154.1" y="182.9" width="2.7" height="2.7"/><rect x="155.6" y="179.5" width="2.7" height="2.7"/><rect x="157.2" y="175.8" width="2.7" height="2.7"/><rect x="158.7" y="172.0" width="2.7" height="2.7"/><rect x="160.3" y="168.0" width="2.7" height="2.7"/><rect x="161.8" y="163.5" width="2.7" height="2.7"/><rect x="163.4" y="158.5" width="2.7" height="2.7"/><rect x="164.9" y="153.2" width="2.7" height="2.7"/><rect x="166.5" y="147.7" width="2.7" height="2.7"/><rect x="168.0" y="142.4" width="2.7" height="2.7"/><rect x="169.5" y="137.5" width="2.7" height="2.7"/><rect x="171.1" y="132.5" width="2.7" height="2.7"/><rect x="172.6" y="127.1" width="2.7" height="2.7"/><rect x="174.2" y="120.9" width="2.7" height="2.7"/><rect x="175.7" y="114.1" width="2.7" height="2.7"/><rect x="177.3" y="106.9" width="2.7" height="2.7"/><rect x="178.8" y="99.5" width="2.7" height="2.7"/><rect x="180.4" y="92.2" width="2.7" height="2.7"/><rect x="180.8" y="90.1" width="2.7" height="2.7"/><rect x="181.3" y="87.9" width="2.7" height="2.7"/><rect x="181.8" y="85.8" width="2.7" height="2.7"/><rect x="182.2" y="83.6" width="2.7" height="2.7"/><rect x="182.7" y="81.5" width="2.7" height="2.7"/><rect x="183.1" y="79.3" width="2.7" height="2.7"/><rect x="183.6" y="77.1" width="2.7" height="2.7"/><rect x="184.1" y="74.9" width="2.7" height="2.7"/><rect x="184.5" y="72.6" width="2.7" height="2.7"/><rect x="185.0" y="70.4" width="2.7" height="2.7"/><rect x="185.5" y="68.1" width="2.7" height="2.7"/><rect x="185.9" y="65.7" width="2.7" height="2.7"/><rect x="186.4" y="63.2" width="2.7" height="2.7"/><rect x="186.9" y="60.8" width="2.7" height="2.7"/><rect x="187.3" y="58.3" width="2.7" height="2.7"/><rect x="187.8" y="55.9" width="2.7" height="2.7"/><rect x="188.2" y="53.6" width="2.7" height="2.7"/><rect x="188.7" y="51.2" width="2.7" height="2.7"/><rect x="189.2" y="49.0" width="2.7" height="2.7"/><rect x="189.6" y="46.9" width="2.7" height="2.7"/><rect x="190.1" y="44.8" width="2.7" height="2.7"/><rect x="190.6" y="42.8" width="2.7" height="2.7"/><rect x="191.0" y="40.8" width="2.7" height="2.7"/><rect x="191.5" y="38.9" width="2.7" height="2.7"/><rect x="192.0" y="37.0" width="2.7" height="2.7"/><rect x="192.4" y="35.1" width="2.7" height="2.7"/><rect x="192.9" y="33.3" width="2.7" height="2.7"/><rect x="193.3" y="31.6" width="2.7" height="2.7"/><rect x="193.8" y="29.8" width="2.7" height="2.7"/><rect x="194.3" y="28.1" width="2.7" height="2.7"/><rect x="194.7" y="26.4" width="2.7" height="2.7"/><rect x="195.2" y="24.7" width="2.7" height="2.7"/><rect x="195.7" y="23.1" width="2.7" height="2.7"/><rect x="196.1" y="21.5" width="2.7" height="2.7"/><rect x="196.6" y="20.0" width="2.7" height="2.7"/><rect x="197.0" y="18.6" width="2.7" height="2.7"/><rect x="197.5" y="17.4" width="2.7" height="2.7"/><rect x="198.0" y="16.3" width="2.7" height="2.7"/><rect x="198.4" y="15.2" width="2.7" height="2.7"/><rect x="198.9" y="14.2" width="2.7" height="2.7"/><rect x="199.4" y="13.4" width="2.7" height="2.7"/><rect x="199.8" y="12.9" width="2.7" height="2.7"/><rect x="200.3" y="12.9" width="2.7" height="2.7"/><rect x="200.8" y="13.8" width="2.7" height="2.7"/><rect x="201.2" y="15.3" width="2.7" height="2.7"/><rect x="201.7" y="17.1" width="2.7" height="2.7"/><rect x="202.1" y="19.0" width="2.7" height="2.7"/><rect x="202.6" y="21.4" width="2.7" height="2.7"/><rect x="203.1" y="24.8" width="2.7" height="2.7"/><rect x="203.5" y="30.9" width="2.7" height="2.7"/><rect x="204.0" y="39.1" width="2.7" height="2.7"/><rect x="204.5" y="49.1" width="2.7" height="2.7"/><rect x="204.9" y="58.3" width="2.7" height="2.7"/><rect x="205.4" y="65.3" width="2.7" height="2.7"/><rect x="205.9" y="71.8" width="2.7" height="2.7"/><rect x="206.3" y="77.8" width="2.7" height="2.7"/><rect x="206.8" y="83.8" width="2.7" height="2.7"/><rect x="207.2" y="89.0" width="2.7" height="2.7"/><rect x="207.7" y="93.6" width="2.7" height="2.7"/><rect x="208.2" y="96.9" width="2.7" height="2.7"/><rect x="208.6" y="99.2" width="2.7" height="2.7"/><rect x="209.1" y="101.2" width="2.7" height="2.7"/><rect x="209.6" y="103.9" width="2.7" height="2.7"/><rect x="210.0" y="108.0" width="2.7" height="2.7"/><rect x="210.5" y="113.2" width="2.7" height="2.7"/><rect x="211.0" y="119.4" width="2.7" height="2.7"/><rect x="211.4" y="121.3" width="2.7" height="2.7"/><rect x="211.9" y="119.9" width="2.7" height="2.7"/><rect x="212.3" y="115.1" width="2.7" height="2.7"/><rect x="212.8" y="109.5" width="2.7" height="2.7"/><rect x="213.3" y="106.3" width="2.7" height="2.7"/><rect x="213.7" y="103.5" width="2.7" height="2.7"/><rect x="214.2" y="100.5" width="2.7" height="2.7"/><rect x="214.7" y="97.3" width="2.7" height="2.7"/><rect x="215.1" y="93.3" width="2.7" height="2.7"/><rect x="215.6" y="88.6" width="2.7" height="2.7"/><rect x="216.1" y="83.4" width="2.7" height="2.7"/><rect x="216.5" y="77.9" width="2.7" height="2.7"/><rect x="217.0" y="71.9" width="2.7" height="2.7"/><rect x="217.4" y="65.9" width="2.7" height="2.7"/><rect x="217.9" y="59.6" width="2.7" height="2.7"/><rect x="218.4" y="47.7" width="2.7" height="2.7"/><rect x="218.8" y="37.1" width="2.7" height="2.7"/><rect x="219.3" y="30.7" width="2.7" height="2.7"/><rect x="219.8" y="25.3" width="2.7" height="2.7"/><rect x="220.2" y="21.3" width="2.7" height="2.7"/><rect x="220.7" y="18.2" width="2.7" height="2.7"/><rect x="221.2" y="15.8" width="2.7" height="2.7"/><rect x="221.6" y="14.8" width="2.7" height="2.7"/><rect x="222.1" y="14.4" width="2.7" height="2.7"/><rect x="222.5" y="14.2" width="2.7" height="2.7"/><rect x="223.0" y="14.2" width="2.7" height="2.7"/><rect x="223.5" y="14.7" width="2.7" height="2.7"/><rect x="223.9" y="15.3" width="2.7" height="2.7"/><rect x="224.4" y="16.2" width="2.7" height="2.7"/><rect x="224.9" y="17.3" width="2.7" height="2.7"/><rect x="225.3" y="18.6" width="2.7" height="2.7"/><rect x="225.8" y="19.9" width="2.7" height="2.7"/><rect x="226.3" y="21.4" width="2.7" height="2.7"/><rect x="226.7" y="23.1" width="2.7" height="2.7"/><rect x="227.2" y="24.8" width="2.7" height="2.7"/><rect x="227.6" y="26.7" width="2.7" height="2.7"/><rect x="228.1" y="28.5" width="2.7" height="2.7"/><rect x="228.6" y="30.3" width="2.7" height="2.7"/><rect x="229.0" y="32.1" width="2.7" height="2.7"/><rect x="229.5" y="33.9" width="2.7" height="2.7"/><rect x="230.0" y="35.7" width="2.7" height="2.7"/><rect x="230.4" y="37.5" width="2.7" height="2.7"/><rect x="230.9" y="39.3" width="2.7" height="2.7"/><rect x="231.3" y="41.2" width="2.7" height="2.7"/><rect x="231.8" y="43.1" width="2.7" height="2.7"/><rect x="232.3" y="45.1" width="2.7" height="2.7"/><rect x="232.7" y="47.1" width="2.7" height="2.7"/><rect x="233.2" y="49.2" width="2.7" height="2.7"/><rect x="233.7" y="51.3" width="2.7" height="2.7"/><rect x="234.1" y="53.4" width="2.7" height="2.7"/><rect x="234.6" y="55.5" width="2.7" height="2.7"/><rect x="235.1" y="57.6" width="2.7" height="2.7"/><rect x="235.5" y="59.7" width="2.7" height="2.7"/><rect x="236.0" y="61.8" width="2.7" height="2.7"/><rect x="236.4" y="63.8" width="2.7" height="2.7"/><rect x="236.9" y="65.9" width="2.7" height="2.7"/><rect x="237.4" y="67.9" width="2.7" height="2.7"/><rect x="237.8" y="69.9" width="2.7" height="2.7"/><rect x="238.3" y="72.0" width="2.7" height="2.7"/><rect x="238.8" y="74.1" width="2.7" height="2.7"/><rect x="239.2" y="76.3" width="2.7" height="2.7"/><rect x="239.7" y="78.5" width="2.7" height="2.7"/><rect x="240.2" y="80.8" width="2.7" height="2.7"/><rect x="240.6" y="83.2" width="2.7" height="2.7"/><rect x="241.1" y="85.5" width="2.7" height="2.7"/><rect x="241.5" y="87.9" width="2.7" height="2.7"/><rect x="242.0" y="90.2" width="2.7" height="2.7"/><rect x="242.5" y="92.4" width="2.7" height="2.7"/><rect x="244.0" y="100.1" width="2.7" height="2.7"/><rect x="245.6" y="107.7" width="2.7" height="2.7"/><rect x="247.1" y="115.2" width="2.7" height="2.7"/><rect x="248.7" y="122.2" width="2.7" height="2.7"/><rect x="250.2" y="128.4" width="2.7" height="2.7"/><rect x="251.7" y="133.9" width="2.7" height="2.7"/><rect x="253.3" y="138.8" width="2.7" height="2.7"/><rect x="254.8" y="143.8" width="2.7" height="2.7"/><rect x="256.4" y="149.1" width="2.7" height="2.7"/><rect x="257.9" y="154.5" width="2.7" height="2.7"/><rect x="259.5" y="159.9" width="2.7" height="2.7"/><rect x="261.0" y="164.9" width="2.7" height="2.7"/><rect x="262.6" y="169.4" width="2.7" height="2.7"/><rect x="264.1" y="173.4" width="2.7" height="2.7"/><rect x="265.6" y="177.2" width="2.7" height="2.7"/><rect x="267.2" y="180.8" width="2.7" height="2.7"/><rect x="268.7" y="184.2" width="2.7" height="2.7"/><rect x="270.3" y="187.4" width="2.7" height="2.7"/><rect x="271.8" y="190.5" width="2.7" height="2.7"/><rect x="273.4" y="193.4" width="2.7" height="2.7"/><rect x="275.8" y="197.7" width="2.7" height="2.7"/><rect x="278.3" y="201.7" width="2.7" height="2.7"/><rect x="280.8" y="205.3" width="2.7" height="2.7"/><rect x="283.3" y="208.7" width="2.7" height="2.7"/><rect x="285.7" y="211.9" width="2.7" height="2.7"/><rect x="288.2" y="214.8" width="2.7" height="2.7"/><rect x="290.7" y="217.5" width="2.7" height="2.7"/><rect x="293.1" y="220.1" width="2.7" height="2.7"/><rect x="295.6" y="222.5" width="2.7" height="2.7"/><rect x="298.1" y="224.7" width="2.7" height="2.7"/><rect x="300.6" y="226.8" width="2.7" height="2.7"/><rect x="303.0" y="228.7" width="2.7" height="2.7"/><rect x="305.5" y="230.5" width="2.7" height="2.7"/><rect x="308.9" y="232.9" width="2.7" height="2.7"/><rect x="312.3" y="235.1" width="2.7" height="2.7"/><rect x="315.7" y="237.0" width="2.7" height="2.7"/><rect x="319.1" y="238.9" width="2.7" height="2.7"/><rect x="322.5" y="240.5" width="2.7" height="2.7"/><rect x="325.9" y="242.1" width="2.7" height="2.7"/><rect x="329.3" y="243.5" width="2.7" height="2.7"/><rect x="332.7" y="244.8" width="2.7" height="2.7"/><rect x="336.1" y="245.9" width="2.7" height="2.7"/><rect x="339.5" y="247.0" width="2.7" height="2.7"/><rect x="342.9" y="248.0" width="2.7" height="2.7"/><rect x="346.3" y="248.8" width="2.7" height="2.7"/><rect x="349.7" y="249.6" width="2.7" height="2.7"/><rect x="353.1" y="250.3" width="2.7" height="2.7"/><rect x="356.5" y="250.9" width="2.7" height="2.7"/><rect x="359.9" y="251.4" width="2.7" height="2.7"/><rect x="363.3" y="251.9" width="2.7" height="2.7"/><rect x="366.7" y="252.3" width="2.7" height="2.7"/></g>
</g>
<rect x="58.5" y="7.65" width="309.0" height="247.15" fill="none" stroke="#000" stroke-width="1.3"/>
<path d="M73.95,254.80v5.3 M120.30,254.80v5.3 M166.65,254.80v5.3 M213.00,254.80v5.3 M259.35,254.80v5.3 M305.70,254.80v5.3 M352.05,254.80v5.3 M97.12,254.80v2.8 M143.47,254.80v2.8 M189.82,254.80v2.8 M236.17,254.80v2.8 M282.52,254.80v2.8 M328.88,254.80v2.8 M58.50,254.80h-5.3 M58.50,206.34h-5.3 M58.50,157.88h-5.3 M58.50,109.42h-5.3 M58.50,60.96h-5.3 M58.50,12.50h-5.3 M58.50,230.57h-2.8 M58.50,182.11h-2.8 M58.50,133.65h-2.8 M58.50,85.19h-2.8 M58.50,36.73h-2.8" stroke="#000" stroke-width="1.2" fill="none"/>
<clipPath id="clipb"><rect x="427.0" y="8.25" width="304.5" height="246.45"/></clipPath>
<g clip-path="url(#clipb)">
<path d="M428.1,252.8 L431.5,252.2 L434.8,251.6 L438.2,250.8 L441.5,249.9 L444.9,248.9 L448.2,247.7 L451.6,246.5 L454.9,245.1 L458.3,243.7 L461.6,242.1 L465.0,240.4 L468.3,238.6 L471.7,236.6 L475.0,234.6 L478.4,232.4 L481.7,230.1 L485.1,227.7 L488.0,225.5 L490.4,223.6 L492.8,221.6 L495.3,219.5 L497.7,217.2 L500.2,214.9 L502.6,212.4 L505.0,209.8 L507.5,207.0 L509.9,204.1 L512.3,200.9 L514.8,197.5 L517.2,193.8 L519.2,190.6 L520.7,188.0 L522.2,185.2 L523.8,182.3 L525.3,179.2 L526.8,175.9 L528.3,172.4 L529.8,168.7 L531.4,164.6 L532.9,160.1 L534.4,155.4 L535.9,150.6 L537.5,145.6 L539.0,140.6 L540.5,135.6 L542.0,130.2 L543.5,125.2 L545.1,120.6 L546.6,116.1 L548.1,111.9 L549.1,109.3 L549.6,108.2 L550.0,107.0 L550.5,105.9 L550.9,104.8 L551.4,103.7 L551.8,102.7 L552.3,101.6 L552.8,100.6 L553.2,99.5 L553.7,98.4 L554.1,97.3 L554.6,96.1 L555.0,95.0 L555.5,93.9 L556.0,92.8 L556.4,91.9 L556.9,91.0 L557.3,90.2 L557.8,89.5 L558.2,88.8 L558.7,88.1 L559.2,87.4 L559.6,86.8 L560.1,86.3 L560.5,85.9 L561.0,85.7 L561.4,85.7 L561.9,85.8 L562.4,85.9 L562.8,86.0 L563.3,86.2 L563.7,86.4 L564.2,86.6 L564.6,86.9 L565.1,87.7 L565.5,89.0 L566.0,90.7 L566.5,92.7 L566.9,95.4 L567.4,99.8 L567.8,106.3 L568.3,116.8 L568.7,128.8 L569.2,136.7 L569.7,143.4 L570.1,149.2 L570.6,154.7 L571.0,160.1 L571.5,165.2 L571.9,169.5 L572.4,173.4 L572.9,177.1 L573.3,180.2 L573.8,182.7 L574.2,184.4 L574.7,186.5 L575.1,189.5 L575.6,192.9 L576.1,196.3 L576.5,199.5 L577.0,203.0 L577.4,207.5 L577.9,213.4 L578.3,218.0 L578.8,220.7 L579.2,221.6 L579.7,221.4 L580.2,219.9 L580.6,216.8 L581.1,211.4 L581.5,205.4 L582.0,200.5 L582.4,197.1 L582.9,194.3 L583.4,191.8 L583.8,189.3 L584.3,186.6 L584.7,183.8 L585.2,181.2 L585.6,178.4 L586.1,175.4 L586.6,171.9 L587.0,167.6 L587.5,161.9 L587.9,155.6 L588.4,148.8 L588.8,141.7 L589.3,134.7 L589.8,127.9 L590.2,121.0 L590.7,113.5 L591.1,106.7 L591.6,102.5 L592.0,99.4 L592.5,95.9 L593.0,92.4 L593.4,89.8 L593.9,88.1 L594.3,86.6 L594.8,85.4 L595.2,84.6 L595.7,84.3 L596.1,84.0 L596.6,83.7 L597.1,83.5 L597.5,83.4 L598.0,83.4 L598.4,83.6 L598.9,84.1 L599.3,84.9 L599.8,85.8 L600.3,86.8 L600.7,87.8 L601.2,88.8 L601.6,89.7 L602.1,90.5 L602.5,91.4 L603.0,92.3 L603.5,93.2 L603.9,94.1 L604.4,95.1 L604.8,96.0 L605.3,97.0 L605.7,97.9 L606.2,98.9 L606.7,99.9 L607.1,100.8 L607.6,101.8 L608.0,102.8 L608.5,103.8 L608.9,104.9 L609.4,106.0 L609.9,107.1 L610.8,109.8 L612.4,114.2 L613.9,119.0 L615.4,123.9 L616.9,129.0 L618.5,134.3 L620.0,139.3 L621.5,144.3 L623.0,149.3 L624.5,154.1 L626.1,158.8 L627.6,163.3 L629.1,167.4 L630.6,171.1 L632.2,174.6 L633.7,177.9 L635.2,181.0 L636.7,183.9 L638.2,186.7 L639.8,189.3 L641.7,192.5 L644.2,196.2 L646.6,199.6 L649.1,202.8 L651.5,205.7 L653.9,208.5 L656.4,211.1 L658.8,213.6 L661.2,215.9 L663.7,218.2 L666.1,220.3 L668.5,222.3 L671.0,224.2 L673.9,226.4 L677.2,228.8 L680.6,231.1 L683.9,233.3 L687.3,235.3 L690.6,237.3 L694.0,239.1 L697.3,240.8 L700.7,242.4 L704.0,243.8 L707.4,245.2 L710.7,246.4 L714.1,247.6 L717.4,248.6 L720.8,249.5 L724.1,250.3 L727.5,250.9 L730.8,251.5" fill="none" stroke="#000000" stroke-width="1.5"/>
<path fill="#000000" d="M426.8,251.5h2.6v2.6h-2.6zM430.2,250.9h2.6v2.6h-2.6zM433.5,250.3h2.6v2.6h-2.6zM436.9,249.5h2.6v2.6h-2.6zM440.2,248.6h2.6v2.6h-2.6zM443.6,247.6h2.6v2.6h-2.6zM446.9,246.4h2.6v2.6h-2.6zM450.3,245.2h2.6v2.6h-2.6zM453.6,243.8h2.6v2.6h-2.6zM457.0,242.4h2.6v2.6h-2.6zM460.3,240.8h2.6v2.6h-2.6zM463.7,239.1h2.6v2.6h-2.6zM467.0,237.3h2.6v2.6h-2.6zM470.4,235.3h2.6v2.6h-2.6zM473.7,233.3h2.6v2.6h-2.6zM477.1,231.1h2.6v2.6h-2.6zM480.4,228.8h2.6v2.6h-2.6zM483.8,226.4h2.6v2.6h-2.6zM486.7,224.2h2.6v2.6h-2.6zM489.1,222.3h2.6v2.6h-2.6zM491.5,220.3h2.6v2.6h-2.6zM494.0,218.2h2.6v2.6h-2.6zM496.4,215.9h2.6v2.6h-2.6zM498.9,213.6h2.6v2.6h-2.6zM501.3,211.1h2.6v2.6h-2.6zM503.7,208.5h2.6v2.6h-2.6zM506.2,205.7h2.6v2.6h-2.6zM508.6,202.8h2.6v2.6h-2.6zM511.0,199.6h2.6v2.6h-2.6zM513.5,196.2h2.6v2.6h-2.6zM515.9,192.5h2.6v2.6h-2.6zM517.9,189.3h2.6v2.6h-2.6zM519.4,186.7h2.6v2.6h-2.6zM520.9,183.9h2.6v2.6h-2.6zM522.5,181.0h2.6v2.6h-2.6zM524.0,177.9h2.6v2.6h-2.6zM525.5,174.6h2.6v2.6h-2.6zM527.0,171.1h2.6v2.6h-2.6zM528.5,167.4h2.6v2.6h-2.6zM530.1,163.3h2.6v2.6h-2.6zM531.6,158.8h2.6v2.6h-2.6zM533.1,154.1h2.6v2.6h-2.6zM534.6,149.3h2.6v2.6h-2.6zM536.2,144.3h2.6v2.6h-2.6zM537.7,139.3h2.6v2.6h-2.6zM539.2,134.3h2.6v2.6h-2.6zM540.7,128.9h2.6v2.6h-2.6zM542.2,123.9h2.6v2.6h-2.6zM543.8,119.3h2.6v2.6h-2.6zM545.3,114.8h2.6v2.6h-2.6zM546.8,110.6h2.6v2.6h-2.6zM547.8,108.0h2.6v2.6h-2.6zM548.3,106.9h2.6v2.6h-2.6zM548.7,105.7h2.6v2.6h-2.6zM549.2,104.6h2.6v2.6h-2.6zM549.6,103.5h2.6v2.6h-2.6zM550.1,102.4h2.6v2.6h-2.6zM550.5,101.4h2.6v2.6h-2.6zM551.0,100.3h2.6v2.6h-2.6zM551.5,99.3h2.6v2.6h-2.6zM551.9,98.2h2.6v2.6h-2.6zM552.4,97.1h2.6v2.6h-2.6zM552.8,96.0h2.6v2.6h-2.6zM553.3,94.8h2.6v2.6h-2.6zM553.7,93.7h2.6v2.6h-2.6zM554.2,92.6h2.6v2.6h-2.6zM554.7,91.5h2.6v2.6h-2.6zM555.1,90.6h2.6v2.6h-2.6zM555.6,89.7h2.6v2.6h-2.6zM556.0,88.9h2.6v2.6h-2.6zM556.5,88.2h2.6v2.6h-2.6zM556.9,87.5h2.6v2.6h-2.6zM557.4,86.8h2.6v2.6h-2.6zM557.9,86.1h2.6v2.6h-2.6zM558.3,85.5h2.6v2.6h-2.6zM558.8,85.0h2.6v2.6h-2.6zM559.2,84.6h2.6v2.6h-2.6zM559.7,84.4h2.6v2.6h-2.6zM560.1,84.4h2.6v2.6h-2.6zM560.6,84.5h2.6v2.6h-2.6zM561.1,84.6h2.6v2.6h-2.6zM561.5,84.7h2.6v2.6h-2.6zM562.0,84.9h2.6v2.6h-2.6zM562.4,85.1h2.6v2.6h-2.6zM562.9,85.3h2.6v2.6h-2.6zM563.3,85.6h2.6v2.6h-2.6zM563.8,86.4h2.6v2.6h-2.6zM564.2,87.7h2.6v2.6h-2.6zM564.7,89.4h2.6v2.6h-2.6zM565.2,91.4h2.6v2.6h-2.6zM565.6,94.1h2.6v2.6h-2.6zM566.1,98.5h2.6v2.6h-2.6zM566.5,105.0h2.6v2.6h-2.6zM567.0,115.5h2.6v2.6h-2.6zM567.4,127.5h2.6v2.6h-2.6zM567.9,135.4h2.6v2.6h-2.6zM568.4,142.1h2.6v2.6h-2.6zM568.8,147.9h2.6v2.6h-2.6zM569.3,153.4h2.6v2.6h-2.6zM569.7,158.8h2.6v2.6h-2.6zM570.2,163.9h2.6v2.6h-2.6zM570.6,168.2h2.6v2.6h-2.6zM571.1,172.1h2.6v2.6h-2.6zM571.6,175.8h2.6v2.6h-2.6zM572.0,178.9h2.6v2.6h-2.6zM572.5,181.4h2.6v2.6h-2.6zM572.9,183.1h2.6v2.6h-2.6zM573.4,185.2h2.6v2.6h-2.6zM573.8,188.2h2.6v2.6h-2.6zM574.3,191.6h2.6v2.6h-2.6zM574.8,195.0h2.6v2.6h-2.6zM575.2,198.2h2.6v2.6h-2.6zM575.7,201.7h2.6v2.6h-2.6zM576.1,206.2h2.6v2.6h-2.6zM576.6,212.1h2.6v2.6h-2.6zM577.0,216.7h2.6v2.6h-2.6zM577.5,219.4h2.6v2.6h-2.6zM578.0,220.3h2.6v2.6h-2.6zM578.4,220.1h2.6v2.6h-2.6zM578.9,218.6h2.6v2.6h-2.6zM579.3,215.5h2.6v2.6h-2.6zM579.8,210.1h2.6v2.6h-2.6zM580.2,204.1h2.6v2.6h-2.6zM580.7,199.2h2.6v2.6h-2.6zM581.1,195.8h2.6v2.6h-2.6zM581.6,193.0h2.6v2.6h-2.6zM582.1,190.5h2.6v2.6h-2.6zM582.5,188.0h2.6v2.6h-2.6zM583.0,185.3h2.6v2.6h-2.6zM583.4,182.5h2.6v2.6h-2.6zM583.9,179.9h2.6v2.6h-2.6zM584.3,177.1h2.6v2.6h-2.6zM584.8,174.1h2.6v2.6h-2.6zM585.3,170.6h2.6v2.6h-2.6zM585.7,166.3h2.6v2.6h-2.6zM586.2,160.6h2.6v2.6h-2.6zM586.6,154.3h2.6v2.6h-2.6zM587.1,147.5h2.6v2.6h-2.6zM587.5,140.4h2.6v2.6h-2.6zM588.0,133.4h2.6v2.6h-2.6zM588.5,126.6h2.6v2.6h-2.6zM588.9,119.7h2.6v2.6h-2.6zM589.4,112.2h2.6v2.6h-2.6zM589.8,105.4h2.6v2.6h-2.6zM590.3,101.2h2.6v2.6h-2.6zM590.7,98.1h2.6v2.6h-2.6zM591.2,94.6h2.6v2.6h-2.6zM591.7,91.1h2.6v2.6h-2.6zM592.1,88.5h2.6v2.6h-2.6zM592.6,86.8h2.6v2.6h-2.6zM593.0,85.3h2.6v2.6h-2.6zM593.5,84.1h2.6v2.6h-2.6zM593.9,83.3h2.6v2.6h-2.6zM594.4,83.0h2.6v2.6h-2.6zM594.8,82.7h2.6v2.6h-2.6zM595.3,82.4h2.6v2.6h-2.6zM595.8,82.2h2.6v2.6h-2.6zM596.2,82.1h2.6v2.6h-2.6zM596.7,82.1h2.6v2.6h-2.6zM597.1,82.3h2.6v2.6h-2.6zM597.6,82.8h2.6v2.6h-2.6zM598.0,83.6h2.6v2.6h-2.6zM598.5,84.5h2.6v2.6h-2.6zM599.0,85.5h2.6v2.6h-2.6zM599.4,86.5h2.6v2.6h-2.6zM599.9,87.5h2.6v2.6h-2.6zM600.3,88.4h2.6v2.6h-2.6zM600.8,89.2h2.6v2.6h-2.6zM601.2,90.1h2.6v2.6h-2.6zM601.7,91.0h2.6v2.6h-2.6zM602.2,91.9h2.6v2.6h-2.6zM602.6,92.8h2.6v2.6h-2.6zM603.1,93.8h2.6v2.6h-2.6zM603.5,94.7h2.6v2.6h-2.6zM604.0,95.7h2.6v2.6h-2.6zM604.4,96.6h2.6v2.6h-2.6zM604.9,97.6h2.6v2.6h-2.6zM605.4,98.6h2.6v2.6h-2.6zM605.8,99.5h2.6v2.6h-2.6zM606.3,100.5h2.6v2.6h-2.6zM606.7,101.5h2.6v2.6h-2.6zM607.2,102.5h2.6v2.6h-2.6zM607.6,103.6h2.6v2.6h-2.6zM608.1,104.7h2.6v2.6h-2.6zM608.6,105.8h2.6v2.6h-2.6zM609.5,108.5h2.6v2.6h-2.6zM611.1,112.9h2.6v2.6h-2.6zM612.6,117.7h2.6v2.6h-2.6zM614.1,122.6h2.6v2.6h-2.6zM615.6,127.7h2.6v2.6h-2.6zM617.2,133.0h2.6v2.6h-2.6zM618.7,138.0h2.6v2.6h-2.6zM620.2,143.0h2.6v2.6h-2.6zM621.7,148.0h2.6v2.6h-2.6zM623.2,152.8h2.6v2.6h-2.6zM624.8,157.5h2.6v2.6h-2.6zM626.3,162.0h2.6v2.6h-2.6zM627.8,166.1h2.6v2.6h-2.6zM629.3,169.8h2.6v2.6h-2.6zM630.9,173.3h2.6v2.6h-2.6zM632.4,176.6h2.6v2.6h-2.6zM633.9,179.7h2.6v2.6h-2.6zM635.4,182.6h2.6v2.6h-2.6zM636.9,185.4h2.6v2.6h-2.6zM638.5,188.0h2.6v2.6h-2.6zM640.4,191.2h2.6v2.6h-2.6zM642.9,194.9h2.6v2.6h-2.6zM645.3,198.3h2.6v2.6h-2.6zM647.8,201.5h2.6v2.6h-2.6zM650.2,204.4h2.6v2.6h-2.6zM652.6,207.2h2.6v2.6h-2.6zM655.1,209.8h2.6v2.6h-2.6zM657.5,212.3h2.6v2.6h-2.6zM659.9,214.6h2.6v2.6h-2.6zM662.4,216.9h2.6v2.6h-2.6zM664.8,219.0h2.6v2.6h-2.6zM667.2,221.0h2.6v2.6h-2.6zM669.7,222.9h2.6v2.6h-2.6zM672.6,225.1h2.6v2.6h-2.6zM675.9,227.5h2.6v2.6h-2.6zM679.3,229.8h2.6v2.6h-2.6zM682.6,232.0h2.6v2.6h-2.6zM686.0,234.0h2.6v2.6h-2.6zM689.3,236.0h2.6v2.6h-2.6zM692.7,237.8h2.6v2.6h-2.6zM696.0,239.5h2.6v2.6h-2.6zM699.4,241.1h2.6v2.6h-2.6zM702.7,242.5h2.6v2.6h-2.6zM706.1,243.9h2.6v2.6h-2.6zM709.4,245.1h2.6v2.6h-2.6zM712.8,246.3h2.6v2.6h-2.6zM716.1,247.3h2.6v2.6h-2.6zM719.5,248.2h2.6v2.6h-2.6zM722.8,249.0h2.6v2.6h-2.6zM726.2,249.6h2.6v2.6h-2.6zM729.5,250.2h2.6v2.6h-2.6z"/>
<g fill="#fff" stroke="#000000" stroke-width="0.95"><rect x="424.7" y="250.4" width="2.7" height="2.7"/><rect x="428.0" y="249.9" width="2.7" height="2.7"/><rect x="431.4" y="249.3" width="2.7" height="2.7"/><rect x="434.7" y="248.5" width="2.7" height="2.7"/><rect x="438.1" y="247.7" width="2.7" height="2.7"/><rect x="441.4" y="246.7" width="2.7" height="2.7"/><rect x="444.8" y="245.7" width="2.7" height="2.7"/><rect x="448.1" y="244.5" width="2.7" height="2.7"/><rect x="451.5" y="243.2" width="2.7" height="2.7"/><rect x="454.8" y="241.8" width="2.7" height="2.7"/><rect x="458.2" y="240.2" width="2.7" height="2.7"/><rect x="461.5" y="238.6" width="2.7" height="2.7"/><rect x="464.9" y="236.8" width="2.7" height="2.7"/><rect x="468.2" y="235.0" width="2.7" height="2.7"/><rect x="471.6" y="233.0" width="2.7" height="2.7"/><rect x="474.9" y="230.9" width="2.7" height="2.7"/><rect x="478.3" y="228.6" width="2.7" height="2.7"/><rect x="481.6" y="226.3" width="2.7" height="2.7"/><rect x="485.0" y="223.8" width="2.7" height="2.7"/><rect x="487.4" y="221.9" width="2.7" height="2.7"/><rect x="489.8" y="219.9" width="2.7" height="2.7"/><rect x="492.3" y="217.9" width="2.7" height="2.7"/><rect x="494.7" y="215.7" width="2.7" height="2.7"/><rect x="497.1" y="213.4" width="2.7" height="2.7"/><rect x="499.6" y="211.0" width="2.7" height="2.7"/><rect x="502.0" y="208.5" width="2.7" height="2.7"/><rect x="504.4" y="205.8" width="2.7" height="2.7"/><rect x="506.9" y="202.9" width="2.7" height="2.7"/><rect x="509.3" y="199.9" width="2.7" height="2.7"/><rect x="511.7" y="196.6" width="2.7" height="2.7"/><rect x="514.2" y="193.0" width="2.7" height="2.7"/><rect x="516.6" y="189.2" width="2.7" height="2.7"/><rect x="518.1" y="186.6" width="2.7" height="2.7"/><rect x="519.7" y="183.9" width="2.7" height="2.7"/><rect x="521.2" y="181.1" width="2.7" height="2.7"/><rect x="522.7" y="178.1" width="2.7" height="2.7"/><rect x="524.2" y="174.9" width="2.7" height="2.7"/><rect x="525.8" y="171.5" width="2.7" height="2.7"/><rect x="527.3" y="168.0" width="2.7" height="2.7"/><rect x="528.8" y="164.0" width="2.7" height="2.7"/><rect x="530.3" y="159.7" width="2.7" height="2.7"/><rect x="531.8" y="155.2" width="2.7" height="2.7"/><rect x="533.4" y="150.4" width="2.7" height="2.7"/><rect x="534.9" y="145.5" width="2.7" height="2.7"/><rect x="536.4" y="140.5" width="2.7" height="2.7"/><rect x="537.9" y="135.5" width="2.7" height="2.7"/><rect x="539.5" y="130.3" width="2.7" height="2.7"/><rect x="541.0" y="125.0" width="2.7" height="2.7"/><rect x="542.5" y="120.2" width="2.7" height="2.7"/><rect x="544.0" y="115.7" width="2.7" height="2.7"/><rect x="545.5" y="111.4" width="2.7" height="2.7"/><rect x="547.1" y="107.3" width="2.7" height="2.7"/><rect x="547.5" y="106.1" width="2.7" height="2.7"/><rect x="548.0" y="104.9" width="2.7" height="2.7"/><rect x="548.4" y="103.8" width="2.7" height="2.7"/><rect x="548.9" y="102.7" width="2.7" height="2.7"/><rect x="549.4" y="101.6" width="2.7" height="2.7"/><rect x="549.8" y="100.6" width="2.7" height="2.7"/><rect x="550.3" y="99.5" width="2.7" height="2.7"/><rect x="550.7" y="98.4" width="2.7" height="2.7"/><rect x="551.2" y="97.4" width="2.7" height="2.7"/><rect x="551.6" y="96.3" width="2.7" height="2.7"/><rect x="552.1" y="95.2" width="2.7" height="2.7"/><rect x="552.6" y="94.0" width="2.7" height="2.7"/><rect x="553.0" y="92.9" width="2.7" height="2.7"/><rect x="553.5" y="91.8" width="2.7" height="2.7"/><rect x="553.9" y="90.7" width="2.7" height="2.7"/><rect x="554.4" y="89.7" width="2.7" height="2.7"/><rect x="554.8" y="88.7" width="2.7" height="2.7"/><rect x="555.3" y="87.9" width="2.7" height="2.7"/><rect x="555.7" y="87.2" width="2.7" height="2.7"/><rect x="556.2" y="86.5" width="2.7" height="2.7"/><rect x="556.7" y="85.8" width="2.7" height="2.7"/><rect x="557.1" y="85.1" width="2.7" height="2.7"/><rect x="557.6" y="84.4" width="2.7" height="2.7"/><rect x="558.0" y="83.9" width="2.7" height="2.7"/><rect x="558.5" y="83.5" width="2.7" height="2.7"/><rect x="558.9" y="83.2" width="2.7" height="2.7"/><rect x="559.4" y="83.1" width="2.7" height="2.7"/><rect x="559.9" y="83.1" width="2.7" height="2.7"/><rect x="560.3" y="83.2" width="2.7" height="2.7"/><rect x="560.8" y="83.3" width="2.7" height="2.7"/><rect x="561.2" y="83.4" width="2.7" height="2.7"/><rect x="561.7" y="83.6" width="2.7" height="2.7"/><rect x="562.1" y="83.8" width="2.7" height="2.7"/><rect x="562.6" y="84.1" width="2.7" height="2.7"/><rect x="563.1" y="84.6" width="2.7" height="2.7"/><rect x="563.5" y="85.7" width="2.7" height="2.7"/><rect x="564.0" y="87.1" width="2.7" height="2.7"/><rect x="564.4" y="89.0" width="2.7" height="2.7"/><rect x="564.9" y="91.3" width="2.7" height="2.7"/><rect x="565.3" y="94.7" width="2.7" height="2.7"/><rect x="565.8" y="100.2" width="2.7" height="2.7"/><rect x="566.3" y="107.6" width="2.7" height="2.7"/><rect x="566.7" y="121.3" width="2.7" height="2.7"/><rect x="567.2" y="130.3" width="2.7" height="2.7"/><rect x="567.6" y="137.5" width="2.7" height="2.7"/><rect x="568.1" y="143.7" width="2.7" height="2.7"/><rect x="568.5" y="149.3" width="2.7" height="2.7"/><rect x="569.0" y="154.8" width="2.7" height="2.7"/><rect x="569.5" y="160.1" width="2.7" height="2.7"/><rect x="569.9" y="164.8" width="2.7" height="2.7"/><rect x="570.4" y="168.8" width="2.7" height="2.7"/><rect x="570.8" y="172.7" width="2.7" height="2.7"/><rect x="571.3" y="176.1" width="2.7" height="2.7"/><rect x="571.7" y="178.9" width="2.7" height="2.7"/><rect x="572.2" y="181.0" width="2.7" height="2.7"/><rect x="572.6" y="182.7" width="2.7" height="2.7"/><rect x="573.1" y="185.3" width="2.7" height="2.7"/><rect x="573.6" y="188.6" width="2.7" height="2.7"/><rect x="574.0" y="192.1" width="2.7" height="2.7"/><rect x="574.5" y="195.4" width="2.7" height="2.7"/><rect x="574.9" y="198.7" width="2.7" height="2.7"/><rect x="575.4" y="202.6" width="2.7" height="2.7"/><rect x="575.8" y="208.3" width="2.7" height="2.7"/><rect x="576.3" y="213.7" width="2.7" height="2.7"/><rect x="576.8" y="217.9" width="2.7" height="2.7"/><rect x="577.2" y="219.7" width="2.7" height="2.7"/><rect x="577.7" y="220.2" width="2.7" height="2.7"/><rect x="578.1" y="219.7" width="2.7" height="2.7"/><rect x="578.6" y="217.9" width="2.7" height="2.7"/><rect x="579.0" y="213.8" width="2.7" height="2.7"/><rect x="579.5" y="207.9" width="2.7" height="2.7"/><rect x="580.0" y="202.3" width="2.7" height="2.7"/><rect x="580.4" y="198.5" width="2.7" height="2.7"/><rect x="580.9" y="195.5" width="2.7" height="2.7"/><rect x="581.3" y="192.9" width="2.7" height="2.7"/><rect x="581.8" y="190.5" width="2.7" height="2.7"/><rect x="582.2" y="187.9" width="2.7" height="2.7"/><rect x="582.7" y="185.1" width="2.7" height="2.7"/><rect x="583.2" y="182.4" width="2.7" height="2.7"/><rect x="583.6" y="179.7" width="2.7" height="2.7"/><rect x="584.1" y="176.9" width="2.7" height="2.7"/><rect x="584.5" y="173.7" width="2.7" height="2.7"/><rect x="585.0" y="169.9" width="2.7" height="2.7"/><rect x="585.4" y="164.8" width="2.7" height="2.7"/><rect x="585.9" y="158.7" width="2.7" height="2.7"/><rect x="586.3" y="152.2" width="2.7" height="2.7"/><rect x="586.8" y="145.1" width="2.7" height="2.7"/><rect x="587.3" y="138.1" width="2.7" height="2.7"/><rect x="587.7" y="131.2" width="2.7" height="2.7"/><rect x="588.2" y="124.4" width="2.7" height="2.7"/><rect x="588.6" y="117.2" width="2.7" height="2.7"/><rect x="589.1" y="109.8" width="2.7" height="2.7"/><rect x="589.5" y="104.3" width="2.7" height="2.7"/><rect x="590.0" y="100.9" width="2.7" height="2.7"/><rect x="590.5" y="97.6" width="2.7" height="2.7"/><rect x="590.9" y="94.0" width="2.7" height="2.7"/><rect x="591.4" y="90.9" width="2.7" height="2.7"/><rect x="591.8" y="88.8" width="2.7" height="2.7"/><rect x="592.3" y="87.2" width="2.7" height="2.7"/><rect x="592.7" y="85.9" width="2.7" height="2.7"/><rect x="593.2" y="84.9" width="2.7" height="2.7"/><rect x="593.7" y="84.4" width="2.7" height="2.7"/><rect x="594.1" y="84.1" width="2.7" height="2.7"/><rect x="594.6" y="83.8" width="2.7" height="2.7"/><rect x="595.0" y="83.6" width="2.7" height="2.7"/><rect x="595.5" y="83.4" width="2.7" height="2.7"/><rect x="595.9" y="83.4" width="2.7" height="2.7"/><rect x="596.4" y="83.4" width="2.7" height="2.7"/><rect x="596.9" y="83.8" width="2.7" height="2.7"/><rect x="597.3" y="84.4" width="2.7" height="2.7"/><rect x="597.8" y="85.3" width="2.7" height="2.7"/><rect x="598.2" y="86.2" width="2.7" height="2.7"/><rect x="598.7" y="87.2" width="2.7" height="2.7"/><rect x="599.1" y="88.3" width="2.7" height="2.7"/><rect x="599.6" y="89.2" width="2.7" height="2.7"/><rect x="600.1" y="90.0" width="2.7" height="2.7"/><rect x="600.5" y="90.9" width="2.7" height="2.7"/><rect x="601.0" y="91.8" width="2.7" height="2.7"/><rect x="601.4" y="92.7" width="2.7" height="2.7"/><rect x="601.9" y="93.6" width="2.7" height="2.7"/><rect x="602.3" y="94.5" width="2.7" height="2.7"/><rect x="602.8" y="95.5" width="2.7" height="2.7"/><rect x="603.2" y="96.4" width="2.7" height="2.7"/><rect x="603.7" y="97.4" width="2.7" height="2.7"/><rect x="604.2" y="98.4" width="2.7" height="2.7"/><rect x="604.6" y="99.3" width="2.7" height="2.7"/><rect x="605.1" y="100.3" width="2.7" height="2.7"/><rect x="605.5" y="101.3" width="2.7" height="2.7"/><rect x="606.0" y="102.3" width="2.7" height="2.7"/><rect x="606.4" y="103.3" width="2.7" height="2.7"/><rect x="606.9" y="104.3" width="2.7" height="2.7"/><rect x="607.4" y="105.4" width="2.7" height="2.7"/><rect x="607.8" y="106.5" width="2.7" height="2.7"/><rect x="608.3" y="107.7" width="2.7" height="2.7"/><rect x="609.8" y="111.9" width="2.7" height="2.7"/><rect x="611.3" y="116.5" width="2.7" height="2.7"/><rect x="612.8" y="121.4" width="2.7" height="2.7"/><rect x="614.4" y="126.3" width="2.7" height="2.7"/><rect x="615.9" y="131.6" width="2.7" height="2.7"/><rect x="617.4" y="136.8" width="2.7" height="2.7"/><rect x="618.9" y="141.8" width="2.7" height="2.7"/><rect x="620.5" y="146.8" width="2.7" height="2.7"/><rect x="622.0" y="151.7" width="2.7" height="2.7"/><rect x="623.5" y="156.5" width="2.7" height="2.7"/><rect x="625.0" y="161.0" width="2.7" height="2.7"/><rect x="626.5" y="165.3" width="2.7" height="2.7"/><rect x="628.1" y="169.3" width="2.7" height="2.7"/><rect x="629.6" y="172.8" width="2.7" height="2.7"/><rect x="631.1" y="176.2" width="2.7" height="2.7"/><rect x="632.6" y="179.4" width="2.7" height="2.7"/><rect x="634.2" y="182.4" width="2.7" height="2.7"/><rect x="635.7" y="185.2" width="2.7" height="2.7"/><rect x="637.2" y="187.9" width="2.7" height="2.7"/><rect x="638.7" y="190.5" width="2.7" height="2.7"/><rect x="641.2" y="194.3" width="2.7" height="2.7"/><rect x="643.6" y="197.9" width="2.7" height="2.7"/><rect x="646.0" y="201.2" width="2.7" height="2.7"/><rect x="648.5" y="204.2" width="2.7" height="2.7"/><rect x="650.9" y="207.1" width="2.7" height="2.7"/><rect x="653.3" y="209.8" width="2.7" height="2.7"/><rect x="655.8" y="212.3" width="2.7" height="2.7"/><rect x="658.2" y="214.7" width="2.7" height="2.7"/><rect x="660.6" y="217.0" width="2.7" height="2.7"/><rect x="663.1" y="219.2" width="2.7" height="2.7"/><rect x="665.5" y="221.2" width="2.7" height="2.7"/><rect x="668.0" y="223.2" width="2.7" height="2.7"/><rect x="670.4" y="225.1" width="2.7" height="2.7"/><rect x="673.7" y="227.6" width="2.7" height="2.7"/><rect x="677.1" y="229.9" width="2.7" height="2.7"/><rect x="680.4" y="232.2" width="2.7" height="2.7"/><rect x="683.8" y="234.3" width="2.7" height="2.7"/><rect x="687.1" y="236.3" width="2.7" height="2.7"/><rect x="690.5" y="238.1" width="2.7" height="2.7"/><rect x="693.8" y="239.9" width="2.7" height="2.7"/><rect x="697.2" y="241.5" width="2.7" height="2.7"/><rect x="700.5" y="243.1" width="2.7" height="2.7"/><rect x="703.9" y="244.5" width="2.7" height="2.7"/><rect x="707.2" y="245.8" width="2.7" height="2.7"/><rect x="710.6" y="247.0" width="2.7" height="2.7"/><rect x="713.9" y="248.0" width="2.7" height="2.7"/><rect x="717.3" y="249.0" width="2.7" height="2.7"/><rect x="720.6" y="249.8" width="2.7" height="2.7"/><rect x="724.0" y="250.6" width="2.7" height="2.7"/><rect x="727.3" y="251.2" width="2.7" height="2.7"/><rect x="730.7" y="251.8" width="2.7" height="2.7"/></g>
<path d="M428.1,254.4 L431.5,254.1 L434.8,253.8 L438.2,253.4 L441.5,253.0 L444.9,252.5 L448.2,251.8 L451.6,251.1 L454.9,250.3 L458.3,249.4 L461.6,248.3 L465.0,247.1 L468.3,245.8 L471.7,244.3 L475.0,242.7 L478.4,240.9 L481.7,239.0 L485.1,236.8 L488.0,234.8 L490.4,233.0 L492.8,231.1 L495.3,229.1 L497.7,227.0 L500.2,224.7 L502.6,222.2 L505.0,219.7 L507.5,216.9 L509.9,214.0 L512.3,210.9 L514.8,207.5 L517.2,204.0 L519.2,200.9 L520.7,198.4 L522.2,195.8 L523.8,193.1 L525.3,190.2 L526.8,187.2 L528.3,184.1 L529.8,180.8 L531.4,176.8 L532.9,172.4 L534.4,167.8 L535.9,163.2 L537.5,158.9 L539.0,154.7 L540.5,150.7 L542.0,146.8 L543.5,142.8 L545.1,138.8 L546.6,134.7 L548.1,130.6 L549.1,128.0 L549.6,126.8 L550.0,125.6 L550.5,124.4 L550.9,123.2 L551.4,122.0 L551.8,120.9 L552.3,119.7 L552.8,118.6 L553.2,117.5 L553.7,116.5 L554.1,115.5 L554.6,114.6 L555.0,113.6 L555.5,112.7 L556.0,111.8 L556.4,110.9 L556.9,110.0 L557.3,109.2 L557.8,108.4 L558.2,107.7 L558.7,107.0 L559.2,106.3 L559.6,105.7 L560.1,105.1 L560.5,104.5 L561.0,104.0 L561.4,103.8 L561.9,103.8 L562.4,104.0 L562.8,105.0 L563.3,109.5 L563.7,115.0 L564.2,121.9 L564.6,126.9 L565.1,130.0 L565.5,132.4 L566.0,134.8 L566.5,137.8 L566.9,142.3 L567.4,148.0 L567.8,153.0 L568.3,156.4 L568.7,159.4 L569.2,162.0 L569.7,164.5 L570.1,166.9 L570.6,169.3 L571.0,171.6 L571.5,173.8 L571.9,175.9 L572.4,178.0 L572.9,180.1 L573.3,182.2 L573.8,184.2 L574.2,186.0 L574.7,188.0 L575.1,190.3 L575.6,193.2 L576.1,196.5 L576.5,200.4 L577.0,204.9 L577.4,210.3 L577.9,215.7 L578.3,219.1 L578.8,220.8 L579.2,221.5 L579.7,221.3 L580.2,219.8 L580.6,217.0 L581.1,213.1 L581.5,207.0 L582.0,200.2 L582.4,197.1 L582.9,194.7 L583.4,192.2 L583.8,189.3 L584.3,186.3 L584.7,183.5 L585.2,180.8 L585.6,178.2 L586.1,175.7 L586.6,173.5 L587.0,171.4 L587.5,169.4 L587.9,167.4 L588.4,165.3 L588.8,163.1 L589.3,160.9 L589.8,158.5 L590.2,155.9 L590.7,153.2 L591.1,150.4 L591.6,147.2 L592.0,143.7 L592.5,139.7 L593.0,134.2 L593.4,127.7 L593.9,121.8 L594.3,116.3 L594.8,111.0 L595.2,106.8 L595.7,104.5 L596.1,103.3 L596.6,102.5 L597.1,101.9 L597.5,101.4 L598.0,101.0 L598.4,100.7 L598.9,100.5 L599.3,100.4 L599.8,100.6 L600.3,101.1 L600.7,101.8 L601.2,102.7 L601.6,103.7 L602.1,104.8 L602.5,105.9 L603.0,107.0 L603.5,108.1 L603.9,109.1 L604.4,110.1 L604.8,111.1 L605.3,112.1 L605.7,113.1 L606.2,114.2 L606.7,115.3 L607.1,116.4 L607.6,117.5 L608.0,118.7 L608.5,119.8 L608.9,121.1 L609.4,122.3 L609.9,123.6 L610.8,126.7 L612.4,132.1 L613.9,137.3 L615.4,141.8 L616.9,145.8 L618.5,149.7 L620.0,153.6 L621.5,157.6 L623.0,161.9 L624.5,166.5 L626.1,171.1 L627.6,175.5 L629.1,179.5 L630.6,182.8 L632.2,185.9 L633.7,188.9 L635.2,191.8 L636.7,194.5 L638.2,197.1 L639.8,199.6 L641.7,202.7 L644.2,206.2 L646.6,209.6 L649.1,212.7 L651.5,215.6 L653.9,218.4 L656.4,220.9 L658.8,223.4 L661.2,225.6 L663.7,227.8 L666.1,229.8 L668.5,231.7 L671.0,233.5 L673.9,235.5 L677.2,237.7 L680.6,239.6 L683.9,241.4 L687.3,243.0 L690.6,244.5 L694.0,245.8 L697.3,247.0 L700.7,248.1 L704.0,249.0 L707.4,249.8 L710.7,250.5 L714.1,251.1 L717.4,251.7 L720.8,252.1 L724.1,252.5 L727.5,252.8 L730.8,253.1" fill="none" stroke="#ee1414" stroke-width="1.5"/>
<path fill="#ee1414" d="M426.8,253.1h2.6v2.6h-2.6zM430.2,252.8h2.6v2.6h-2.6zM433.5,252.5h2.6v2.6h-2.6zM436.9,252.1h2.6v2.6h-2.6zM440.2,251.7h2.6v2.6h-2.6zM443.6,251.2h2.6v2.6h-2.6zM446.9,250.5h2.6v2.6h-2.6zM450.3,249.8h2.6v2.6h-2.6zM453.6,249.0h2.6v2.6h-2.6zM457.0,248.1h2.6v2.6h-2.6zM460.3,247.0h2.6v2.6h-2.6zM463.7,245.8h2.6v2.6h-2.6zM467.0,244.5h2.6v2.6h-2.6zM470.4,243.0h2.6v2.6h-2.6zM473.7,241.4h2.6v2.6h-2.6zM477.1,239.6h2.6v2.6h-2.6zM480.4,237.7h2.6v2.6h-2.6zM483.8,235.5h2.6v2.6h-2.6zM486.7,233.5h2.6v2.6h-2.6zM489.1,231.7h2.6v2.6h-2.6zM491.5,229.8h2.6v2.6h-2.6zM494.0,227.8h2.6v2.6h-2.6zM496.4,225.7h2.6v2.6h-2.6zM498.9,223.4h2.6v2.6h-2.6zM501.3,220.9h2.6v2.6h-2.6zM503.7,218.4h2.6v2.6h-2.6zM506.2,215.6h2.6v2.6h-2.6zM508.6,212.7h2.6v2.6h-2.6zM511.0,209.6h2.6v2.6h-2.6zM513.5,206.2h2.6v2.6h-2.6zM515.9,202.7h2.6v2.6h-2.6zM517.9,199.6h2.6v2.6h-2.6zM519.4,197.1h2.6v2.6h-2.6zM520.9,194.5h2.6v2.6h-2.6zM522.5,191.8h2.6v2.6h-2.6zM524.0,188.9h2.6v2.6h-2.6zM525.5,185.9h2.6v2.6h-2.6zM527.0,182.8h2.6v2.6h-2.6zM528.5,179.5h2.6v2.6h-2.6zM530.1,175.5h2.6v2.6h-2.6zM531.6,171.1h2.6v2.6h-2.6zM533.1,166.5h2.6v2.6h-2.6zM534.6,161.9h2.6v2.6h-2.6zM536.2,157.6h2.6v2.6h-2.6zM537.7,153.4h2.6v2.6h-2.6zM539.2,149.4h2.6v2.6h-2.6zM540.7,145.5h2.6v2.6h-2.6zM542.2,141.5h2.6v2.6h-2.6zM543.8,137.5h2.6v2.6h-2.6zM545.3,133.4h2.6v2.6h-2.6zM546.8,129.3h2.6v2.6h-2.6zM547.8,126.7h2.6v2.6h-2.6zM548.3,125.5h2.6v2.6h-2.6zM548.7,124.3h2.6v2.6h-2.6zM549.2,123.1h2.6v2.6h-2.6zM549.6,121.9h2.6v2.6h-2.6zM550.1,120.7h2.6v2.6h-2.6zM550.5,119.6h2.6v2.6h-2.6zM551.0,118.4h2.6v2.6h-2.6zM551.5,117.3h2.6v2.6h-2.6zM551.9,116.2h2.6v2.6h-2.6zM552.4,115.2h2.6v2.6h-2.6zM552.8,114.2h2.6v2.6h-2.6zM553.3,113.3h2.6v2.6h-2.6zM553.7,112.3h2.6v2.6h-2.6zM554.2,111.4h2.6v2.6h-2.6zM554.7,110.5h2.6v2.6h-2.6zM555.1,109.6h2.6v2.6h-2.6zM555.6,108.7h2.6v2.6h-2.6zM556.0,107.9h2.6v2.6h-2.6zM556.5,107.1h2.6v2.6h-2.6zM556.9,106.4h2.6v2.6h-2.6zM557.4,105.7h2.6v2.6h-2.6zM557.9,105.0h2.6v2.6h-2.6zM558.3,104.4h2.6v2.6h-2.6zM558.8,103.8h2.6v2.6h-2.6zM559.2,103.2h2.6v2.6h-2.6zM559.7,102.7h2.6v2.6h-2.6zM560.1,102.5h2.6v2.6h-2.6zM560.6,102.5h2.6v2.6h-2.6zM561.1,102.7h2.6v2.6h-2.6zM561.5,103.7h2.6v2.6h-2.6zM562.0,108.2h2.6v2.6h-2.6zM562.4,113.7h2.6v2.6h-2.6zM562.9,120.6h2.6v2.6h-2.6zM563.3,125.6h2.6v2.6h-2.6zM563.8,128.7h2.6v2.6h-2.6zM564.2,131.1h2.6v2.6h-2.6zM564.7,133.5h2.6v2.6h-2.6zM565.2,136.5h2.6v2.6h-2.6zM565.6,141.0h2.6v2.6h-2.6zM566.1,146.7h2.6v2.6h-2.6zM566.5,151.7h2.6v2.6h-2.6zM567.0,155.1h2.6v2.6h-2.6zM567.4,158.1h2.6v2.6h-2.6zM567.9,160.7h2.6v2.6h-2.6zM568.4,163.2h2.6v2.6h-2.6zM568.8,165.6h2.6v2.6h-2.6zM569.3,168.0h2.6v2.6h-2.6zM569.7,170.3h2.6v2.6h-2.6zM570.2,172.5h2.6v2.6h-2.6zM570.6,174.6h2.6v2.6h-2.6zM571.1,176.7h2.6v2.6h-2.6zM571.6,178.8h2.6v2.6h-2.6zM572.0,180.9h2.6v2.6h-2.6zM572.5,182.9h2.6v2.6h-2.6zM572.9,184.7h2.6v2.6h-2.6zM573.4,186.7h2.6v2.6h-2.6zM573.8,189.0h2.6v2.6h-2.6zM574.3,191.9h2.6v2.6h-2.6zM574.8,195.2h2.6v2.6h-2.6zM575.2,199.1h2.6v2.6h-2.6zM575.7,203.6h2.6v2.6h-2.6zM576.1,209.0h2.6v2.6h-2.6zM576.6,214.4h2.6v2.6h-2.6zM577.0,217.8h2.6v2.6h-2.6zM577.5,219.5h2.6v2.6h-2.6zM578.0,220.2h2.6v2.6h-2.6zM578.4,220.0h2.6v2.6h-2.6zM578.9,218.5h2.6v2.6h-2.6zM579.3,215.7h2.6v2.6h-2.6zM579.8,211.8h2.6v2.6h-2.6zM580.2,205.7h2.6v2.6h-2.6zM580.7,198.9h2.6v2.6h-2.6zM581.1,195.8h2.6v2.6h-2.6zM581.6,193.4h2.6v2.6h-2.6zM582.1,190.9h2.6v2.6h-2.6zM582.5,188.0h2.6v2.6h-2.6zM583.0,185.0h2.6v2.6h-2.6zM583.4,182.2h2.6v2.6h-2.6zM583.9,179.5h2.6v2.6h-2.6zM584.3,176.9h2.6v2.6h-2.6zM584.8,174.4h2.6v2.6h-2.6zM585.3,172.2h2.6v2.6h-2.6zM585.7,170.1h2.6v2.6h-2.6zM586.2,168.1h2.6v2.6h-2.6zM586.6,166.1h2.6v2.6h-2.6zM587.1,164.0h2.6v2.6h-2.6zM587.5,161.8h2.6v2.6h-2.6zM588.0,159.6h2.6v2.6h-2.6zM588.5,157.2h2.6v2.6h-2.6zM588.9,154.6h2.6v2.6h-2.6zM589.4,151.9h2.6v2.6h-2.6zM589.8,149.1h2.6v2.6h-2.6zM590.3,145.9h2.6v2.6h-2.6zM590.7,142.4h2.6v2.6h-2.6zM591.2,138.4h2.6v2.6h-2.6zM591.7,132.9h2.6v2.6h-2.6zM592.1,126.4h2.6v2.6h-2.6zM592.6,120.5h2.6v2.6h-2.6zM593.0,115.0h2.6v2.6h-2.6zM593.5,109.7h2.6v2.6h-2.6zM593.9,105.5h2.6v2.6h-2.6zM594.4,103.2h2.6v2.6h-2.6zM594.8,102.0h2.6v2.6h-2.6zM595.3,101.2h2.6v2.6h-2.6zM595.8,100.6h2.6v2.6h-2.6zM596.2,100.1h2.6v2.6h-2.6zM596.7,99.7h2.6v2.6h-2.6zM597.1,99.4h2.6v2.6h-2.6zM597.6,99.2h2.6v2.6h-2.6zM598.0,99.1h2.6v2.6h-2.6zM598.5,99.3h2.6v2.6h-2.6zM599.0,99.8h2.6v2.6h-2.6zM599.4,100.5h2.6v2.6h-2.6zM599.9,101.4h2.6v2.6h-2.6zM600.3,102.4h2.6v2.6h-2.6zM600.8,103.5h2.6v2.6h-2.6zM601.2,104.6h2.6v2.6h-2.6zM601.7,105.7h2.6v2.6h-2.6zM602.2,106.8h2.6v2.6h-2.6zM602.6,107.8h2.6v2.6h-2.6zM603.1,108.8h2.6v2.6h-2.6zM603.5,109.8h2.6v2.6h-2.6zM604.0,110.8h2.6v2.6h-2.6zM604.4,111.8h2.6v2.6h-2.6zM604.9,112.9h2.6v2.6h-2.6zM605.4,114.0h2.6v2.6h-2.6zM605.8,115.1h2.6v2.6h-2.6zM606.3,116.2h2.6v2.6h-2.6zM606.7,117.4h2.6v2.6h-2.6zM607.2,118.5h2.6v2.6h-2.6zM607.6,119.8h2.6v2.6h-2.6zM608.1,121.0h2.6v2.6h-2.6zM608.6,122.3h2.6v2.6h-2.6zM609.5,125.4h2.6v2.6h-2.6zM611.1,130.8h2.6v2.6h-2.6zM612.6,136.0h2.6v2.6h-2.6zM614.1,140.5h2.6v2.6h-2.6zM615.6,144.5h2.6v2.6h-2.6zM617.2,148.4h2.6v2.6h-2.6zM618.7,152.3h2.6v2.6h-2.6zM620.2,156.3h2.6v2.6h-2.6zM621.7,160.6h2.6v2.6h-2.6zM623.2,165.2h2.6v2.6h-2.6zM624.8,169.8h2.6v2.6h-2.6zM626.3,174.2h2.6v2.6h-2.6zM627.8,178.2h2.6v2.6h-2.6zM629.3,181.5h2.6v2.6h-2.6zM630.9,184.6h2.6v2.6h-2.6zM632.4,187.6h2.6v2.6h-2.6zM633.9,190.5h2.6v2.6h-2.6zM635.4,193.2h2.6v2.6h-2.6zM636.9,195.8h2.6v2.6h-2.6zM638.5,198.3h2.6v2.6h-2.6zM640.4,201.4h2.6v2.6h-2.6zM642.9,204.9h2.6v2.6h-2.6zM645.3,208.3h2.6v2.6h-2.6zM647.8,211.4h2.6v2.6h-2.6zM650.2,214.3h2.6v2.6h-2.6zM652.6,217.1h2.6v2.6h-2.6zM655.1,219.6h2.6v2.6h-2.6zM657.5,222.1h2.6v2.6h-2.6zM659.9,224.3h2.6v2.6h-2.6zM662.4,226.5h2.6v2.6h-2.6zM664.8,228.5h2.6v2.6h-2.6zM667.2,230.4h2.6v2.6h-2.6zM669.7,232.2h2.6v2.6h-2.6zM672.6,234.2h2.6v2.6h-2.6zM675.9,236.4h2.6v2.6h-2.6zM679.3,238.3h2.6v2.6h-2.6zM682.6,240.1h2.6v2.6h-2.6zM686.0,241.7h2.6v2.6h-2.6zM689.3,243.2h2.6v2.6h-2.6zM692.7,244.5h2.6v2.6h-2.6zM696.0,245.7h2.6v2.6h-2.6zM699.4,246.8h2.6v2.6h-2.6zM702.7,247.7h2.6v2.6h-2.6zM706.1,248.5h2.6v2.6h-2.6zM709.4,249.2h2.6v2.6h-2.6zM712.8,249.8h2.6v2.6h-2.6zM716.1,250.4h2.6v2.6h-2.6zM719.5,250.8h2.6v2.6h-2.6zM722.8,251.2h2.6v2.6h-2.6zM726.2,251.5h2.6v2.6h-2.6zM729.5,251.8h2.6v2.6h-2.6z"/>
<g fill="#fff" stroke="#ee1414" stroke-width="0.95"><rect x="424.7" y="251.9" width="2.7" height="2.7"/><rect x="428.0" y="251.6" width="2.7" height="2.7"/><rect x="431.4" y="251.3" width="2.7" height="2.7"/><rect x="434.7" y="251.0" width="2.7" height="2.7"/><rect x="438.1" y="250.6" width="2.7" height="2.7"/><rect x="441.4" y="250.1" width="2.7" height="2.7"/><rect x="444.8" y="249.5" width="2.7" height="2.7"/><rect x="448.1" y="248.8" width="2.7" height="2.7"/><rect x="451.5" y="248.1" width="2.7" height="2.7"/><rect x="454.8" y="247.2" width="2.7" height="2.7"/><rect x="458.2" y="246.2" width="2.7" height="2.7"/><rect x="461.5" y="245.1" width="2.7" height="2.7"/><rect x="464.9" y="243.8" width="2.7" height="2.7"/><rect x="468.2" y="242.4" width="2.7" height="2.7"/><rect x="471.6" y="240.9" width="2.7" height="2.7"/><rect x="474.9" y="239.2" width="2.7" height="2.7"/><rect x="478.3" y="237.3" width="2.7" height="2.7"/><rect x="481.6" y="235.3" width="2.7" height="2.7"/><rect x="485.0" y="233.0" width="2.7" height="2.7"/><rect x="487.4" y="231.3" width="2.7" height="2.7"/><rect x="489.8" y="229.4" width="2.7" height="2.7"/><rect x="492.3" y="227.5" width="2.7" height="2.7"/><rect x="494.7" y="225.4" width="2.7" height="2.7"/><rect x="497.1" y="223.2" width="2.7" height="2.7"/><rect x="499.6" y="220.8" width="2.7" height="2.7"/><rect x="502.0" y="218.3" width="2.7" height="2.7"/><rect x="504.4" y="215.7" width="2.7" height="2.7"/><rect x="506.9" y="212.8" width="2.7" height="2.7"/><rect x="509.3" y="209.8" width="2.7" height="2.7"/><rect x="511.7" y="206.6" width="2.7" height="2.7"/><rect x="514.2" y="203.1" width="2.7" height="2.7"/><rect x="516.6" y="199.5" width="2.7" height="2.7"/><rect x="518.1" y="197.0" width="2.7" height="2.7"/><rect x="519.7" y="194.5" width="2.7" height="2.7"/><rect x="521.2" y="191.8" width="2.7" height="2.7"/><rect x="522.7" y="189.0" width="2.7" height="2.7"/><rect x="524.2" y="186.1" width="2.7" height="2.7"/><rect x="525.8" y="183.0" width="2.7" height="2.7"/><rect x="527.3" y="179.9" width="2.7" height="2.7"/><rect x="528.8" y="176.2" width="2.7" height="2.7"/><rect x="530.3" y="172.0" width="2.7" height="2.7"/><rect x="531.8" y="167.5" width="2.7" height="2.7"/><rect x="533.4" y="162.8" width="2.7" height="2.7"/><rect x="534.9" y="158.3" width="2.7" height="2.7"/><rect x="536.4" y="154.1" width="2.7" height="2.7"/><rect x="537.9" y="150.1" width="2.7" height="2.7"/><rect x="539.5" y="146.1" width="2.7" height="2.7"/><rect x="541.0" y="142.1" width="2.7" height="2.7"/><rect x="542.5" y="138.1" width="2.7" height="2.7"/><rect x="544.0" y="134.1" width="2.7" height="2.7"/><rect x="545.5" y="130.0" width="2.7" height="2.7"/><rect x="547.1" y="126.0" width="2.7" height="2.7"/><rect x="547.5" y="124.8" width="2.7" height="2.7"/><rect x="548.0" y="123.6" width="2.7" height="2.7"/><rect x="548.4" y="122.4" width="2.7" height="2.7"/><rect x="548.9" y="121.2" width="2.7" height="2.7"/><rect x="549.4" y="120.0" width="2.7" height="2.7"/><rect x="549.8" y="118.8" width="2.7" height="2.7"/><rect x="550.3" y="117.6" width="2.7" height="2.7"/><rect x="550.7" y="116.5" width="2.7" height="2.7"/><rect x="551.2" y="115.4" width="2.7" height="2.7"/><rect x="551.6" y="114.4" width="2.7" height="2.7"/><rect x="552.1" y="113.4" width="2.7" height="2.7"/><rect x="552.6" y="112.4" width="2.7" height="2.7"/><rect x="553.0" y="111.4" width="2.7" height="2.7"/><rect x="553.5" y="110.5" width="2.7" height="2.7"/><rect x="553.9" y="109.6" width="2.7" height="2.7"/><rect x="554.4" y="108.7" width="2.7" height="2.7"/><rect x="554.8" y="107.8" width="2.7" height="2.7"/><rect x="555.3" y="107.0" width="2.7" height="2.7"/><rect x="555.7" y="106.1" width="2.7" height="2.7"/><rect x="556.2" y="105.4" width="2.7" height="2.7"/><rect x="556.7" y="104.7" width="2.7" height="2.7"/><rect x="557.1" y="104.0" width="2.7" height="2.7"/><rect x="557.6" y="103.4" width="2.7" height="2.7"/><rect x="558.0" y="102.7" width="2.7" height="2.7"/><rect x="558.5" y="102.1" width="2.7" height="2.7"/><rect x="558.9" y="101.6" width="2.7" height="2.7"/><rect x="559.4" y="101.2" width="2.7" height="2.7"/><rect x="559.9" y="101.1" width="2.7" height="2.7"/><rect x="560.3" y="101.2" width="2.7" height="2.7"/><rect x="560.8" y="101.5" width="2.7" height="2.7"/><rect x="561.2" y="104.4" width="2.7" height="2.7"/><rect x="561.7" y="109.3" width="2.7" height="2.7"/><rect x="562.1" y="115.9" width="2.7" height="2.7"/><rect x="562.6" y="122.2" width="2.7" height="2.7"/><rect x="563.1" y="125.9" width="2.7" height="2.7"/><rect x="563.5" y="128.6" width="2.7" height="2.7"/><rect x="564.0" y="130.9" width="2.7" height="2.7"/><rect x="564.4" y="133.6" width="2.7" height="2.7"/><rect x="564.9" y="137.1" width="2.7" height="2.7"/><rect x="565.3" y="142.5" width="2.7" height="2.7"/><rect x="565.8" y="148.1" width="2.7" height="2.7"/><rect x="566.3" y="152.1" width="2.7" height="2.7"/><rect x="566.7" y="155.3" width="2.7" height="2.7"/><rect x="567.2" y="158.1" width="2.7" height="2.7"/><rect x="567.6" y="160.6" width="2.7" height="2.7"/><rect x="568.1" y="163.0" width="2.7" height="2.7"/><rect x="568.5" y="165.4" width="2.7" height="2.7"/><rect x="569.0" y="167.8" width="2.7" height="2.7"/><rect x="569.5" y="170.0" width="2.7" height="2.7"/><rect x="569.9" y="172.2" width="2.7" height="2.7"/><rect x="570.4" y="174.3" width="2.7" height="2.7"/><rect x="570.8" y="176.4" width="2.7" height="2.7"/><rect x="571.3" y="178.5" width="2.7" height="2.7"/><rect x="571.7" y="180.6" width="2.7" height="2.7"/><rect x="572.2" y="182.5" width="2.7" height="2.7"/><rect x="572.6" y="184.4" width="2.7" height="2.7"/><rect x="573.1" y="186.5" width="2.7" height="2.7"/><rect x="573.6" y="189.1" width="2.7" height="2.7"/><rect x="574.0" y="192.2" width="2.7" height="2.7"/><rect x="574.5" y="195.9" width="2.7" height="2.7"/><rect x="574.9" y="200.0" width="2.7" height="2.7"/><rect x="575.4" y="205.2" width="2.7" height="2.7"/><rect x="575.8" y="210.7" width="2.7" height="2.7"/><rect x="576.3" y="215.7" width="2.7" height="2.7"/><rect x="576.8" y="218.2" width="2.7" height="2.7"/><rect x="577.2" y="219.6" width="2.7" height="2.7"/><rect x="577.7" y="220.2" width="2.7" height="2.7"/><rect x="578.1" y="219.5" width="2.7" height="2.7"/><rect x="578.6" y="217.7" width="2.7" height="2.7"/><rect x="579.0" y="214.6" width="2.7" height="2.7"/><rect x="579.5" y="210.1" width="2.7" height="2.7"/><rect x="580.0" y="202.8" width="2.7" height="2.7"/><rect x="580.4" y="198.2" width="2.7" height="2.7"/><rect x="580.9" y="195.7" width="2.7" height="2.7"/><rect x="581.3" y="193.4" width="2.7" height="2.7"/><rect x="581.8" y="190.7" width="2.7" height="2.7"/><rect x="582.2" y="187.7" width="2.7" height="2.7"/><rect x="582.7" y="184.8" width="2.7" height="2.7"/><rect x="583.2" y="182.1" width="2.7" height="2.7"/><rect x="583.6" y="179.4" width="2.7" height="2.7"/><rect x="584.1" y="176.9" width="2.7" height="2.7"/><rect x="584.5" y="174.5" width="2.7" height="2.7"/><rect x="585.0" y="172.4" width="2.7" height="2.7"/><rect x="585.4" y="170.4" width="2.7" height="2.7"/><rect x="585.9" y="168.4" width="2.7" height="2.7"/><rect x="586.3" y="166.3" width="2.7" height="2.7"/><rect x="586.8" y="164.1" width="2.7" height="2.7"/><rect x="587.3" y="162.0" width="2.7" height="2.7"/><rect x="587.7" y="159.6" width="2.7" height="2.7"/><rect x="588.2" y="157.1" width="2.7" height="2.7"/><rect x="588.6" y="154.5" width="2.7" height="2.7"/><rect x="589.1" y="151.7" width="2.7" height="2.7"/><rect x="589.5" y="148.8" width="2.7" height="2.7"/><rect x="590.0" y="145.5" width="2.7" height="2.7"/><rect x="590.5" y="141.8" width="2.7" height="2.7"/><rect x="590.9" y="137.2" width="2.7" height="2.7"/><rect x="591.4" y="130.9" width="2.7" height="2.7"/><rect x="591.8" y="124.5" width="2.7" height="2.7"/><rect x="592.3" y="119.1" width="2.7" height="2.7"/><rect x="592.7" y="113.6" width="2.7" height="2.7"/><rect x="593.2" y="108.7" width="2.7" height="2.7"/><rect x="593.7" y="105.3" width="2.7" height="2.7"/><rect x="594.1" y="103.8" width="2.7" height="2.7"/><rect x="594.6" y="102.8" width="2.7" height="2.7"/><rect x="595.0" y="102.1" width="2.7" height="2.7"/><rect x="595.5" y="101.6" width="2.7" height="2.7"/><rect x="595.9" y="101.2" width="2.7" height="2.7"/><rect x="596.4" y="100.8" width="2.7" height="2.7"/><rect x="596.9" y="100.5" width="2.7" height="2.7"/><rect x="597.3" y="100.4" width="2.7" height="2.7"/><rect x="597.8" y="100.4" width="2.7" height="2.7"/><rect x="598.2" y="100.8" width="2.7" height="2.7"/><rect x="598.7" y="101.4" width="2.7" height="2.7"/><rect x="599.1" y="102.2" width="2.7" height="2.7"/><rect x="599.6" y="103.1" width="2.7" height="2.7"/><rect x="600.1" y="104.2" width="2.7" height="2.7"/><rect x="600.5" y="105.3" width="2.7" height="2.7"/><rect x="601.0" y="106.4" width="2.7" height="2.7"/><rect x="601.4" y="107.5" width="2.7" height="2.7"/><rect x="601.9" y="108.6" width="2.7" height="2.7"/><rect x="602.3" y="109.6" width="2.7" height="2.7"/><rect x="602.8" y="110.5" width="2.7" height="2.7"/><rect x="603.2" y="111.5" width="2.7" height="2.7"/><rect x="603.7" y="112.6" width="2.7" height="2.7"/><rect x="604.2" y="113.6" width="2.7" height="2.7"/><rect x="604.6" y="114.7" width="2.7" height="2.7"/><rect x="605.1" y="115.8" width="2.7" height="2.7"/><rect x="605.5" y="116.9" width="2.7" height="2.7"/><rect x="606.0" y="118.0" width="2.7" height="2.7"/><rect x="606.4" y="119.2" width="2.7" height="2.7"/><rect x="606.9" y="120.4" width="2.7" height="2.7"/><rect x="607.4" y="121.6" width="2.7" height="2.7"/><rect x="607.8" y="122.9" width="2.7" height="2.7"/><rect x="608.3" y="124.2" width="2.7" height="2.7"/><rect x="609.8" y="129.3" width="2.7" height="2.7"/><rect x="611.3" y="134.7" width="2.7" height="2.7"/><rect x="612.8" y="139.6" width="2.7" height="2.7"/><rect x="614.4" y="143.8" width="2.7" height="2.7"/><rect x="615.9" y="147.8" width="2.7" height="2.7"/><rect x="617.4" y="151.6" width="2.7" height="2.7"/><rect x="618.9" y="155.5" width="2.7" height="2.7"/><rect x="620.5" y="159.6" width="2.7" height="2.7"/><rect x="622.0" y="164.1" width="2.7" height="2.7"/><rect x="623.5" y="168.8" width="2.7" height="2.7"/><rect x="625.0" y="173.3" width="2.7" height="2.7"/><rect x="626.5" y="177.5" width="2.7" height="2.7"/><rect x="628.1" y="181.2" width="2.7" height="2.7"/><rect x="629.6" y="184.4" width="2.7" height="2.7"/><rect x="631.1" y="187.4" width="2.7" height="2.7"/><rect x="632.6" y="190.3" width="2.7" height="2.7"/><rect x="634.2" y="193.1" width="2.7" height="2.7"/><rect x="635.7" y="195.8" width="2.7" height="2.7"/><rect x="637.2" y="198.3" width="2.7" height="2.7"/><rect x="638.7" y="200.8" width="2.7" height="2.7"/><rect x="641.2" y="204.4" width="2.7" height="2.7"/><rect x="643.6" y="207.9" width="2.7" height="2.7"/><rect x="646.0" y="211.1" width="2.7" height="2.7"/><rect x="648.5" y="214.1" width="2.7" height="2.7"/><rect x="650.9" y="217.0" width="2.7" height="2.7"/><rect x="653.3" y="219.6" width="2.7" height="2.7"/><rect x="655.8" y="222.1" width="2.7" height="2.7"/><rect x="658.2" y="224.5" width="2.7" height="2.7"/><rect x="660.6" y="226.7" width="2.7" height="2.7"/><rect x="663.1" y="228.8" width="2.7" height="2.7"/><rect x="665.5" y="230.7" width="2.7" height="2.7"/><rect x="668.0" y="232.6" width="2.7" height="2.7"/><rect x="670.4" y="234.3" width="2.7" height="2.7"/><rect x="673.7" y="236.6" width="2.7" height="2.7"/><rect x="677.1" y="238.6" width="2.7" height="2.7"/><rect x="680.4" y="240.5" width="2.7" height="2.7"/><rect x="683.8" y="242.2" width="2.7" height="2.7"/><rect x="687.1" y="243.7" width="2.7" height="2.7"/><rect x="690.5" y="245.1" width="2.7" height="2.7"/><rect x="693.8" y="246.4" width="2.7" height="2.7"/><rect x="697.2" y="247.5" width="2.7" height="2.7"/><rect x="700.5" y="248.5" width="2.7" height="2.7"/><rect x="703.9" y="249.4" width="2.7" height="2.7"/><rect x="707.2" y="250.1" width="2.7" height="2.7"/><rect x="710.6" y="250.8" width="2.7" height="2.7"/><rect x="713.9" y="251.4" width="2.7" height="2.7"/><rect x="717.3" y="251.9" width="2.7" height="2.7"/><rect x="720.6" y="252.3" width="2.7" height="2.7"/><rect x="724.0" y="252.6" width="2.7" height="2.7"/><rect x="727.3" y="252.9" width="2.7" height="2.7"/><rect x="730.7" y="253.2" width="2.7" height="2.7"/></g>
<path d="M428.1,252.7 L431.5,252.1 L434.8,251.3 L438.2,250.4 L441.5,249.4 L444.9,248.2 L448.2,246.9 L451.6,245.5 L454.9,243.9 L458.3,242.2 L461.6,240.4 L465.0,238.4 L468.3,236.3 L471.7,234.1 L475.0,231.8 L478.4,229.4 L481.7,226.9 L485.1,224.3 L488.0,222.0 L490.4,219.9 L492.8,217.8 L495.3,215.7 L497.7,213.4 L500.2,211.1 L502.6,208.7 L505.0,206.3 L507.5,203.7 L509.9,200.9 L512.3,198.1 L514.8,195.1 L517.2,191.9 L519.2,189.2 L520.7,186.9 L522.2,184.6 L523.8,182.2 L525.3,179.7 L526.8,177.1 L528.3,174.3 L529.8,171.4 L531.4,168.2 L532.9,164.7 L534.4,161.0 L535.9,157.3 L537.5,153.5 L539.0,149.9 L540.5,146.6 L542.0,143.6 L543.5,141.1 L545.1,139.2 L546.6,137.6 L548.1,136.3 L549.1,135.5 L549.6,135.2 L550.0,134.8 L550.5,134.5 L550.9,134.2 L551.4,133.8 L551.8,133.5 L552.3,133.2 L552.8,132.9 L553.2,132.6 L553.7,132.4 L554.1,132.2 L554.6,132.1 L555.0,132.0 L555.5,131.9 L556.0,131.9 L556.4,132.0 L556.9,132.1 L557.3,132.2 L557.8,132.4 L558.2,132.5 L558.7,132.7 L559.2,133.0 L559.6,133.2 L560.1,133.5 L560.5,134.0 L561.0,134.6 L561.4,135.4 L561.9,136.2 L562.4,137.1 L562.8,138.1 L563.3,139.2 L563.7,140.6 L564.2,142.3 L564.6,144.4 L565.1,147.0 L565.5,151.3 L566.0,156.4 L566.5,161.0 L566.9,165.1 L567.4,168.9 L567.8,172.6 L568.3,176.0 L568.7,179.2 L569.2,182.3 L569.7,185.3 L570.1,188.0 L570.6,190.4 L571.0,192.7 L571.5,194.8 L571.9,196.9 L572.4,198.8 L572.9,200.6 L573.3,202.3 L573.8,203.7 L574.2,204.9 L574.7,205.8 L575.1,206.8 L575.6,208.2 L576.1,209.9 L576.5,211.8 L577.0,213.8 L577.4,216.0 L577.9,219.0 L578.3,223.2 L578.8,228.3 L579.2,229.8 L579.7,229.7 L580.2,228.5 L580.6,222.6 L581.1,217.3 L581.5,214.3 L582.0,212.1 L582.4,210.3 L582.9,208.8 L583.4,207.4 L583.8,206.0 L584.3,204.4 L584.7,202.6 L585.2,201.0 L585.6,199.5 L586.1,198.1 L586.6,196.8 L587.0,195.3 L587.5,193.8 L587.9,192.1 L588.4,190.4 L588.8,188.4 L589.3,186.2 L589.8,183.7 L590.2,180.7 L590.7,177.1 L591.1,172.8 L591.6,167.6 L592.0,162.4 L592.5,157.2 L593.0,151.7 L593.4,147.5 L593.9,144.5 L594.3,142.1 L594.8,140.1 L595.2,138.6 L595.7,137.3 L596.1,136.1 L596.6,135.0 L597.1,133.9 L597.5,133.0 L598.0,132.4 L598.4,131.9 L598.9,131.5 L599.3,131.3 L599.8,131.1 L600.3,130.9 L600.7,130.8 L601.2,130.7 L601.6,130.7 L602.1,130.6 L602.5,130.7 L603.0,130.7 L603.5,130.8 L603.9,131.0 L604.4,131.1 L604.8,131.3 L605.3,131.5 L605.7,131.7 L606.2,132.0 L606.7,132.3 L607.1,132.5 L607.6,132.8 L608.0,133.1 L608.5,133.4 L608.9,133.7 L609.4,134.0 L609.9,134.3 L610.8,135.0 L612.4,136.3 L613.9,137.9 L615.4,139.8 L616.9,142.3 L618.5,145.2 L620.0,148.5 L621.5,152.2 L623.0,155.9 L624.5,159.7 L626.1,163.4 L627.6,166.9 L629.1,170.1 L630.6,173.0 L632.2,175.8 L633.7,178.4 L635.2,180.9 L636.7,183.3 L638.2,185.6 L639.8,187.9 L641.7,190.6 L644.2,193.8 L646.6,196.8 L649.1,199.6 L651.5,202.4 L653.9,205.0 L656.4,207.4 L658.8,209.8 L661.2,212.1 L663.7,214.4 L666.1,216.5 L668.5,218.6 L671.0,220.7 L673.9,223.0 L677.2,225.6 L680.6,228.1 L683.9,230.5 L687.3,232.8 L690.6,235.0 L694.0,237.1 L697.3,239.1 L700.7,240.9 L704.0,242.6 L707.4,244.2 L710.7,245.6 L714.1,246.9 L717.4,248.1 L720.8,249.1 L724.1,250.0 L727.5,250.8 L730.8,251.4" fill="none" stroke="#1616da" stroke-width="1.5"/>
<path fill="#1616da" d="M426.8,251.4h2.6v2.6h-2.6zM430.2,250.8h2.6v2.6h-2.6zM433.5,250.0h2.6v2.6h-2.6zM436.9,249.1h2.6v2.6h-2.6zM440.2,248.1h2.6v2.6h-2.6zM443.6,246.9h2.6v2.6h-2.6zM446.9,245.6h2.6v2.6h-2.6zM450.3,244.2h2.6v2.6h-2.6zM453.6,242.6h2.6v2.6h-2.6zM457.0,240.9h2.6v2.6h-2.6zM460.3,239.1h2.6v2.6h-2.6zM463.7,237.1h2.6v2.6h-2.6zM467.0,235.0h2.6v2.6h-2.6zM470.4,232.8h2.6v2.6h-2.6zM473.7,230.5h2.6v2.6h-2.6zM477.1,228.1h2.6v2.6h-2.6zM480.4,225.6h2.6v2.6h-2.6zM483.8,223.0h2.6v2.6h-2.6zM486.7,220.7h2.6v2.6h-2.6zM489.1,218.6h2.6v2.6h-2.6zM491.5,216.5h2.6v2.6h-2.6zM494.0,214.4h2.6v2.6h-2.6zM496.4,212.1h2.6v2.6h-2.6zM498.9,209.8h2.6v2.6h-2.6zM501.3,207.4h2.6v2.6h-2.6zM503.7,205.0h2.6v2.6h-2.6zM506.2,202.4h2.6v2.6h-2.6zM508.6,199.6h2.6v2.6h-2.6zM511.0,196.8h2.6v2.6h-2.6zM513.5,193.8h2.6v2.6h-2.6zM515.9,190.6h2.6v2.6h-2.6zM517.9,187.9h2.6v2.6h-2.6zM519.4,185.6h2.6v2.6h-2.6zM520.9,183.3h2.6v2.6h-2.6zM522.5,180.9h2.6v2.6h-2.6zM524.0,178.4h2.6v2.6h-2.6zM525.5,175.8h2.6v2.6h-2.6zM527.0,173.0h2.6v2.6h-2.6zM528.5,170.1h2.6v2.6h-2.6zM530.1,166.9h2.6v2.6h-2.6zM531.6,163.4h2.6v2.6h-2.6zM533.1,159.7h2.6v2.6h-2.6zM534.6,156.0h2.6v2.6h-2.6zM536.2,152.2h2.6v2.6h-2.6zM537.7,148.6h2.6v2.6h-2.6zM539.2,145.3h2.6v2.6h-2.6zM540.7,142.3h2.6v2.6h-2.6zM542.2,139.8h2.6v2.6h-2.6zM543.8,137.9h2.6v2.6h-2.6zM545.3,136.3h2.6v2.6h-2.6zM546.8,135.0h2.6v2.6h-2.6zM547.8,134.2h2.6v2.6h-2.6zM548.3,133.9h2.6v2.6h-2.6zM548.7,133.5h2.6v2.6h-2.6zM549.2,133.2h2.6v2.6h-2.6zM549.6,132.9h2.6v2.6h-2.6zM550.1,132.5h2.6v2.6h-2.6zM550.5,132.2h2.6v2.6h-2.6zM551.0,131.9h2.6v2.6h-2.6zM551.5,131.6h2.6v2.6h-2.6zM551.9,131.3h2.6v2.6h-2.6zM552.4,131.1h2.6v2.6h-2.6zM552.8,130.9h2.6v2.6h-2.6zM553.3,130.8h2.6v2.6h-2.6zM553.7,130.7h2.6v2.6h-2.6zM554.2,130.6h2.6v2.6h-2.6zM554.7,130.6h2.6v2.6h-2.6zM555.1,130.7h2.6v2.6h-2.6zM555.6,130.8h2.6v2.6h-2.6zM556.0,130.9h2.6v2.6h-2.6zM556.5,131.1h2.6v2.6h-2.6zM556.9,131.2h2.6v2.6h-2.6zM557.4,131.4h2.6v2.6h-2.6zM557.9,131.7h2.6v2.6h-2.6zM558.3,131.9h2.6v2.6h-2.6zM558.8,132.2h2.6v2.6h-2.6zM559.2,132.7h2.6v2.6h-2.6zM559.7,133.3h2.6v2.6h-2.6zM560.1,134.1h2.6v2.6h-2.6zM560.6,134.9h2.6v2.6h-2.6zM561.1,135.8h2.6v2.6h-2.6zM561.5,136.8h2.6v2.6h-2.6zM562.0,137.9h2.6v2.6h-2.6zM562.4,139.3h2.6v2.6h-2.6zM562.9,141.0h2.6v2.6h-2.6zM563.3,143.1h2.6v2.6h-2.6zM563.8,145.7h2.6v2.6h-2.6zM564.2,150.0h2.6v2.6h-2.6zM564.7,155.1h2.6v2.6h-2.6zM565.2,159.7h2.6v2.6h-2.6zM565.6,163.8h2.6v2.6h-2.6zM566.1,167.6h2.6v2.6h-2.6zM566.5,171.3h2.6v2.6h-2.6zM567.0,174.7h2.6v2.6h-2.6zM567.4,177.9h2.6v2.6h-2.6zM567.9,181.0h2.6v2.6h-2.6zM568.4,184.0h2.6v2.6h-2.6zM568.8,186.7h2.6v2.6h-2.6zM569.3,189.1h2.6v2.6h-2.6zM569.7,191.4h2.6v2.6h-2.6zM570.2,193.5h2.6v2.6h-2.6zM570.6,195.6h2.6v2.6h-2.6zM571.1,197.5h2.6v2.6h-2.6zM571.6,199.3h2.6v2.6h-2.6zM572.0,201.0h2.6v2.6h-2.6zM572.5,202.4h2.6v2.6h-2.6zM572.9,203.6h2.6v2.6h-2.6zM573.4,204.5h2.6v2.6h-2.6zM573.8,205.5h2.6v2.6h-2.6zM574.3,206.9h2.6v2.6h-2.6zM574.8,208.6h2.6v2.6h-2.6zM575.2,210.5h2.6v2.6h-2.6zM575.7,212.5h2.6v2.6h-2.6zM576.1,214.7h2.6v2.6h-2.6zM576.6,217.7h2.6v2.6h-2.6zM577.0,221.9h2.6v2.6h-2.6zM577.5,227.0h2.6v2.6h-2.6zM578.0,228.5h2.6v2.6h-2.6zM578.4,228.4h2.6v2.6h-2.6zM578.9,227.2h2.6v2.6h-2.6zM579.3,221.3h2.6v2.6h-2.6zM579.8,216.0h2.6v2.6h-2.6zM580.2,213.0h2.6v2.6h-2.6zM580.7,210.8h2.6v2.6h-2.6zM581.1,209.0h2.6v2.6h-2.6zM581.6,207.5h2.6v2.6h-2.6zM582.1,206.1h2.6v2.6h-2.6zM582.5,204.7h2.6v2.6h-2.6zM583.0,203.1h2.6v2.6h-2.6zM583.4,201.3h2.6v2.6h-2.6zM583.9,199.7h2.6v2.6h-2.6zM584.3,198.2h2.6v2.6h-2.6zM584.8,196.8h2.6v2.6h-2.6zM585.3,195.5h2.6v2.6h-2.6zM585.7,194.0h2.6v2.6h-2.6zM586.2,192.5h2.6v2.6h-2.6zM586.6,190.8h2.6v2.6h-2.6zM587.1,189.1h2.6v2.6h-2.6zM587.5,187.1h2.6v2.6h-2.6zM588.0,184.9h2.6v2.6h-2.6zM588.5,182.4h2.6v2.6h-2.6zM588.9,179.4h2.6v2.6h-2.6zM589.4,175.8h2.6v2.6h-2.6zM589.8,171.5h2.6v2.6h-2.6zM590.3,166.3h2.6v2.6h-2.6zM590.7,161.1h2.6v2.6h-2.6zM591.2,155.9h2.6v2.6h-2.6zM591.7,150.4h2.6v2.6h-2.6zM592.1,146.2h2.6v2.6h-2.6zM592.6,143.2h2.6v2.6h-2.6zM593.0,140.8h2.6v2.6h-2.6zM593.5,138.8h2.6v2.6h-2.6zM593.9,137.3h2.6v2.6h-2.6zM594.4,136.0h2.6v2.6h-2.6zM594.8,134.8h2.6v2.6h-2.6zM595.3,133.7h2.6v2.6h-2.6zM595.8,132.6h2.6v2.6h-2.6zM596.2,131.7h2.6v2.6h-2.6zM596.7,131.1h2.6v2.6h-2.6zM597.1,130.6h2.6v2.6h-2.6zM597.6,130.2h2.6v2.6h-2.6zM598.0,130.0h2.6v2.6h-2.6zM598.5,129.8h2.6v2.6h-2.6zM599.0,129.6h2.6v2.6h-2.6zM599.4,129.5h2.6v2.6h-2.6zM599.9,129.4h2.6v2.6h-2.6zM600.3,129.4h2.6v2.6h-2.6zM600.8,129.3h2.6v2.6h-2.6zM601.2,129.4h2.6v2.6h-2.6zM601.7,129.4h2.6v2.6h-2.6zM602.2,129.5h2.6v2.6h-2.6zM602.6,129.7h2.6v2.6h-2.6zM603.1,129.8h2.6v2.6h-2.6zM603.5,130.0h2.6v2.6h-2.6zM604.0,130.2h2.6v2.6h-2.6zM604.4,130.4h2.6v2.6h-2.6zM604.9,130.7h2.6v2.6h-2.6zM605.4,131.0h2.6v2.6h-2.6zM605.8,131.2h2.6v2.6h-2.6zM606.3,131.5h2.6v2.6h-2.6zM606.7,131.8h2.6v2.6h-2.6zM607.2,132.1h2.6v2.6h-2.6zM607.6,132.4h2.6v2.6h-2.6zM608.1,132.7h2.6v2.6h-2.6zM608.6,133.0h2.6v2.6h-2.6zM609.5,133.7h2.6v2.6h-2.6zM611.1,135.0h2.6v2.6h-2.6zM612.6,136.6h2.6v2.6h-2.6zM614.1,138.5h2.6v2.6h-2.6zM615.6,141.0h2.6v2.6h-2.6zM617.2,143.9h2.6v2.6h-2.6zM618.7,147.2h2.6v2.6h-2.6zM620.2,150.9h2.6v2.6h-2.6zM621.7,154.6h2.6v2.6h-2.6zM623.2,158.4h2.6v2.6h-2.6zM624.8,162.1h2.6v2.6h-2.6zM626.3,165.6h2.6v2.6h-2.6zM627.8,168.8h2.6v2.6h-2.6zM629.3,171.7h2.6v2.6h-2.6zM630.9,174.5h2.6v2.6h-2.6zM632.4,177.1h2.6v2.6h-2.6zM633.9,179.6h2.6v2.6h-2.6zM635.4,182.0h2.6v2.6h-2.6zM636.9,184.3h2.6v2.6h-2.6zM638.5,186.6h2.6v2.6h-2.6zM640.4,189.3h2.6v2.6h-2.6zM642.9,192.5h2.6v2.6h-2.6zM645.3,195.5h2.6v2.6h-2.6zM647.8,198.3h2.6v2.6h-2.6zM650.2,201.1h2.6v2.6h-2.6zM652.6,203.7h2.6v2.6h-2.6zM655.1,206.1h2.6v2.6h-2.6zM657.5,208.5h2.6v2.6h-2.6zM659.9,210.8h2.6v2.6h-2.6zM662.4,213.1h2.6v2.6h-2.6zM664.8,215.2h2.6v2.6h-2.6zM667.2,217.3h2.6v2.6h-2.6zM669.7,219.4h2.6v2.6h-2.6zM672.6,221.7h2.6v2.6h-2.6zM675.9,224.3h2.6v2.6h-2.6zM679.3,226.8h2.6v2.6h-2.6zM682.6,229.2h2.6v2.6h-2.6zM686.0,231.5h2.6v2.6h-2.6zM689.3,233.7h2.6v2.6h-2.6zM692.7,235.8h2.6v2.6h-2.6zM696.0,237.8h2.6v2.6h-2.6zM699.4,239.6h2.6v2.6h-2.6zM702.7,241.3h2.6v2.6h-2.6zM706.1,242.9h2.6v2.6h-2.6zM709.4,244.3h2.6v2.6h-2.6zM712.8,245.6h2.6v2.6h-2.6zM716.1,246.8h2.6v2.6h-2.6zM719.5,247.8h2.6v2.6h-2.6zM722.8,248.7h2.6v2.6h-2.6zM726.2,249.5h2.6v2.6h-2.6zM729.5,250.1h2.6v2.6h-2.6z"/>
<g fill="#fff" stroke="#1616da" stroke-width="0.95"><rect x="424.7" y="250.4" width="2.7" height="2.7"/><rect x="428.0" y="249.8" width="2.7" height="2.7"/><rect x="431.4" y="249.1" width="2.7" height="2.7"/><rect x="434.7" y="248.2" width="2.7" height="2.7"/><rect x="438.1" y="247.3" width="2.7" height="2.7"/><rect x="441.4" y="246.2" width="2.7" height="2.7"/><rect x="444.8" y="244.9" width="2.7" height="2.7"/><rect x="448.1" y="243.6" width="2.7" height="2.7"/><rect x="451.5" y="242.1" width="2.7" height="2.7"/><rect x="454.8" y="240.4" width="2.7" height="2.7"/><rect x="458.2" y="238.7" width="2.7" height="2.7"/><rect x="461.5" y="236.8" width="2.7" height="2.7"/><rect x="464.9" y="234.7" width="2.7" height="2.7"/><rect x="468.2" y="232.6" width="2.7" height="2.7"/><rect x="471.6" y="230.4" width="2.7" height="2.7"/><rect x="474.9" y="228.0" width="2.7" height="2.7"/><rect x="478.3" y="225.5" width="2.7" height="2.7"/><rect x="481.6" y="223.0" width="2.7" height="2.7"/><rect x="485.0" y="220.3" width="2.7" height="2.7"/><rect x="487.4" y="218.3" width="2.7" height="2.7"/><rect x="489.8" y="216.2" width="2.7" height="2.7"/><rect x="492.3" y="214.1" width="2.7" height="2.7"/><rect x="494.7" y="211.9" width="2.7" height="2.7"/><rect x="497.1" y="209.6" width="2.7" height="2.7"/><rect x="499.6" y="207.3" width="2.7" height="2.7"/><rect x="502.0" y="204.9" width="2.7" height="2.7"/><rect x="504.4" y="202.3" width="2.7" height="2.7"/><rect x="506.9" y="199.7" width="2.7" height="2.7"/><rect x="509.3" y="196.9" width="2.7" height="2.7"/><rect x="511.7" y="194.0" width="2.7" height="2.7"/><rect x="514.2" y="190.9" width="2.7" height="2.7"/><rect x="516.6" y="187.6" width="2.7" height="2.7"/><rect x="518.1" y="185.4" width="2.7" height="2.7"/><rect x="519.7" y="183.2" width="2.7" height="2.7"/><rect x="521.2" y="180.8" width="2.7" height="2.7"/><rect x="522.7" y="178.3" width="2.7" height="2.7"/><rect x="524.2" y="175.8" width="2.7" height="2.7"/><rect x="525.8" y="173.0" width="2.7" height="2.7"/><rect x="527.3" y="170.2" width="2.7" height="2.7"/><rect x="528.8" y="167.2" width="2.7" height="2.7"/><rect x="530.3" y="163.8" width="2.7" height="2.7"/><rect x="531.8" y="160.2" width="2.7" height="2.7"/><rect x="533.4" y="156.5" width="2.7" height="2.7"/><rect x="534.9" y="152.7" width="2.7" height="2.7"/><rect x="536.4" y="149.0" width="2.7" height="2.7"/><rect x="537.9" y="145.5" width="2.7" height="2.7"/><rect x="539.5" y="142.4" width="2.7" height="2.7"/><rect x="541.0" y="139.6" width="2.7" height="2.7"/><rect x="542.5" y="137.5" width="2.7" height="2.7"/><rect x="544.0" y="135.7" width="2.7" height="2.7"/><rect x="545.5" y="134.2" width="2.7" height="2.7"/><rect x="547.1" y="133.0" width="2.7" height="2.7"/><rect x="547.5" y="132.7" width="2.7" height="2.7"/><rect x="548.0" y="132.4" width="2.7" height="2.7"/><rect x="548.4" y="132.0" width="2.7" height="2.7"/><rect x="548.9" y="131.7" width="2.7" height="2.7"/><rect x="549.4" y="131.3" width="2.7" height="2.7"/><rect x="549.8" y="131.0" width="2.7" height="2.7"/><rect x="550.3" y="130.7" width="2.7" height="2.7"/><rect x="550.7" y="130.4" width="2.7" height="2.7"/><rect x="551.2" y="130.1" width="2.7" height="2.7"/><rect x="551.6" y="129.9" width="2.7" height="2.7"/><rect x="552.1" y="129.7" width="2.7" height="2.7"/><rect x="552.6" y="129.5" width="2.7" height="2.7"/><rect x="553.0" y="129.4" width="2.7" height="2.7"/><rect x="553.5" y="129.3" width="2.7" height="2.7"/><rect x="553.9" y="129.3" width="2.7" height="2.7"/><rect x="554.4" y="129.3" width="2.7" height="2.7"/><rect x="554.8" y="129.4" width="2.7" height="2.7"/><rect x="555.3" y="129.5" width="2.7" height="2.7"/><rect x="555.7" y="129.6" width="2.7" height="2.7"/><rect x="556.2" y="129.8" width="2.7" height="2.7"/><rect x="556.7" y="130.0" width="2.7" height="2.7"/><rect x="557.1" y="130.2" width="2.7" height="2.7"/><rect x="557.6" y="130.4" width="2.7" height="2.7"/><rect x="558.0" y="130.7" width="2.7" height="2.7"/><rect x="558.5" y="131.1" width="2.7" height="2.7"/><rect x="558.9" y="131.7" width="2.7" height="2.7"/><rect x="559.4" y="132.3" width="2.7" height="2.7"/><rect x="559.9" y="133.1" width="2.7" height="2.7"/><rect x="560.3" y="134.0" width="2.7" height="2.7"/><rect x="560.8" y="135.0" width="2.7" height="2.7"/><rect x="561.2" y="136.0" width="2.7" height="2.7"/><rect x="561.7" y="137.2" width="2.7" height="2.7"/><rect x="562.1" y="138.8" width="2.7" height="2.7"/><rect x="562.6" y="140.6" width="2.7" height="2.7"/><rect x="563.1" y="142.9" width="2.7" height="2.7"/><rect x="563.5" y="146.3" width="2.7" height="2.7"/><rect x="564.0" y="151.2" width="2.7" height="2.7"/><rect x="564.4" y="156.2" width="2.7" height="2.7"/><rect x="564.9" y="160.4" width="2.7" height="2.7"/><rect x="565.3" y="164.4" width="2.7" height="2.7"/><rect x="565.8" y="168.1" width="2.7" height="2.7"/><rect x="566.3" y="171.6" width="2.7" height="2.7"/><rect x="566.7" y="174.9" width="2.7" height="2.7"/><rect x="567.2" y="178.2" width="2.7" height="2.7"/><rect x="567.6" y="181.2" width="2.7" height="2.7"/><rect x="568.1" y="184.0" width="2.7" height="2.7"/><rect x="568.5" y="186.6" width="2.7" height="2.7"/><rect x="569.0" y="188.9" width="2.7" height="2.7"/><rect x="569.5" y="191.1" width="2.7" height="2.7"/><rect x="569.9" y="193.2" width="2.7" height="2.7"/><rect x="570.4" y="195.2" width="2.7" height="2.7"/><rect x="570.8" y="197.1" width="2.7" height="2.7"/><rect x="571.3" y="198.8" width="2.7" height="2.7"/><rect x="571.7" y="200.4" width="2.7" height="2.7"/><rect x="572.2" y="201.7" width="2.7" height="2.7"/><rect x="572.6" y="202.8" width="2.7" height="2.7"/><rect x="573.1" y="203.7" width="2.7" height="2.7"/><rect x="573.6" y="204.9" width="2.7" height="2.7"/><rect x="574.0" y="206.5" width="2.7" height="2.7"/><rect x="574.5" y="208.4" width="2.7" height="2.7"/><rect x="574.9" y="210.4" width="2.7" height="2.7"/><rect x="575.4" y="212.5" width="2.7" height="2.7"/><rect x="575.8" y="215.1" width="2.7" height="2.7"/><rect x="576.3" y="218.9" width="2.7" height="2.7"/><rect x="576.8" y="224.2" width="2.7" height="2.7"/><rect x="577.2" y="227.6" width="2.7" height="2.7"/><rect x="577.7" y="228.5" width="2.7" height="2.7"/><rect x="578.1" y="228.2" width="2.7" height="2.7"/><rect x="578.6" y="225.9" width="2.7" height="2.7"/><rect x="579.0" y="219.0" width="2.7" height="2.7"/><rect x="579.5" y="215.2" width="2.7" height="2.7"/><rect x="580.0" y="212.8" width="2.7" height="2.7"/><rect x="580.4" y="210.9" width="2.7" height="2.7"/><rect x="580.9" y="209.3" width="2.7" height="2.7"/><rect x="581.3" y="208.0" width="2.7" height="2.7"/><rect x="581.8" y="206.6" width="2.7" height="2.7"/><rect x="582.2" y="205.1" width="2.7" height="2.7"/><rect x="582.7" y="203.4" width="2.7" height="2.7"/><rect x="583.2" y="201.7" width="2.7" height="2.7"/><rect x="583.6" y="200.2" width="2.7" height="2.7"/><rect x="584.1" y="198.8" width="2.7" height="2.7"/><rect x="584.5" y="197.4" width="2.7" height="2.7"/><rect x="585.0" y="196.0" width="2.7" height="2.7"/><rect x="585.4" y="194.6" width="2.7" height="2.7"/><rect x="585.9" y="193.0" width="2.7" height="2.7"/><rect x="586.3" y="191.2" width="2.7" height="2.7"/><rect x="586.8" y="189.4" width="2.7" height="2.7"/><rect x="587.3" y="187.3" width="2.7" height="2.7"/><rect x="587.7" y="185.0" width="2.7" height="2.7"/><rect x="588.2" y="182.3" width="2.7" height="2.7"/><rect x="588.6" y="178.9" width="2.7" height="2.7"/><rect x="589.1" y="175.0" width="2.7" height="2.7"/><rect x="589.5" y="170.2" width="2.7" height="2.7"/><rect x="590.0" y="164.9" width="2.7" height="2.7"/><rect x="590.5" y="159.7" width="2.7" height="2.7"/><rect x="590.9" y="154.4" width="2.7" height="2.7"/><rect x="591.4" y="149.3" width="2.7" height="2.7"/><rect x="591.8" y="145.9" width="2.7" height="2.7"/><rect x="592.3" y="143.2" width="2.7" height="2.7"/><rect x="592.7" y="141.0" width="2.7" height="2.7"/><rect x="593.2" y="139.3" width="2.7" height="2.7"/><rect x="593.7" y="137.9" width="2.7" height="2.7"/><rect x="594.1" y="136.7" width="2.7" height="2.7"/><rect x="594.6" y="135.5" width="2.7" height="2.7"/><rect x="595.0" y="134.3" width="2.7" height="2.7"/><rect x="595.5" y="133.4" width="2.7" height="2.7"/><rect x="595.9" y="132.7" width="2.7" height="2.7"/><rect x="596.4" y="132.1" width="2.7" height="2.7"/><rect x="596.9" y="131.6" width="2.7" height="2.7"/><rect x="597.3" y="131.4" width="2.7" height="2.7"/><rect x="597.8" y="131.2" width="2.7" height="2.7"/><rect x="598.2" y="131.0" width="2.7" height="2.7"/><rect x="598.7" y="130.8" width="2.7" height="2.7"/><rect x="599.1" y="130.7" width="2.7" height="2.7"/><rect x="599.6" y="130.6" width="2.7" height="2.7"/><rect x="600.1" y="130.6" width="2.7" height="2.7"/><rect x="600.5" y="130.6" width="2.7" height="2.7"/><rect x="601.0" y="130.6" width="2.7" height="2.7"/><rect x="601.4" y="130.7" width="2.7" height="2.7"/><rect x="601.9" y="130.8" width="2.7" height="2.7"/><rect x="602.3" y="131.0" width="2.7" height="2.7"/><rect x="602.8" y="131.2" width="2.7" height="2.7"/><rect x="603.2" y="131.4" width="2.7" height="2.7"/><rect x="603.7" y="131.6" width="2.7" height="2.7"/><rect x="604.2" y="131.8" width="2.7" height="2.7"/><rect x="604.6" y="132.1" width="2.7" height="2.7"/><rect x="605.1" y="132.4" width="2.7" height="2.7"/><rect x="605.5" y="132.6" width="2.7" height="2.7"/><rect x="606.0" y="132.9" width="2.7" height="2.7"/><rect x="606.4" y="133.2" width="2.7" height="2.7"/><rect x="606.9" y="133.5" width="2.7" height="2.7"/><rect x="607.4" y="133.8" width="2.7" height="2.7"/><rect x="607.8" y="134.1" width="2.7" height="2.7"/><rect x="608.3" y="134.4" width="2.7" height="2.7"/><rect x="609.8" y="135.6" width="2.7" height="2.7"/><rect x="611.3" y="137.0" width="2.7" height="2.7"/><rect x="612.8" y="138.8" width="2.7" height="2.7"/><rect x="614.4" y="140.9" width="2.7" height="2.7"/><rect x="615.9" y="143.6" width="2.7" height="2.7"/><rect x="617.4" y="146.8" width="2.7" height="2.7"/><rect x="618.9" y="150.3" width="2.7" height="2.7"/><rect x="620.5" y="154.0" width="2.7" height="2.7"/><rect x="622.0" y="157.8" width="2.7" height="2.7"/><rect x="623.5" y="161.5" width="2.7" height="2.7"/><rect x="625.0" y="165.1" width="2.7" height="2.7"/><rect x="626.5" y="168.5" width="2.7" height="2.7"/><rect x="628.1" y="171.5" width="2.7" height="2.7"/><rect x="629.6" y="174.3" width="2.7" height="2.7"/><rect x="631.1" y="177.1" width="2.7" height="2.7"/><rect x="632.6" y="179.6" width="2.7" height="2.7"/><rect x="634.2" y="182.1" width="2.7" height="2.7"/><rect x="635.7" y="184.5" width="2.7" height="2.7"/><rect x="637.2" y="186.7" width="2.7" height="2.7"/><rect x="638.7" y="188.9" width="2.7" height="2.7"/><rect x="641.2" y="192.2" width="2.7" height="2.7"/><rect x="643.6" y="195.3" width="2.7" height="2.7"/><rect x="646.0" y="198.2" width="2.7" height="2.7"/><rect x="648.5" y="201.0" width="2.7" height="2.7"/><rect x="650.9" y="203.6" width="2.7" height="2.7"/><rect x="653.3" y="206.2" width="2.7" height="2.7"/><rect x="655.8" y="208.6" width="2.7" height="2.7"/><rect x="658.2" y="210.9" width="2.7" height="2.7"/><rect x="660.6" y="213.2" width="2.7" height="2.7"/><rect x="663.1" y="215.4" width="2.7" height="2.7"/><rect x="665.5" y="217.5" width="2.7" height="2.7"/><rect x="668.0" y="219.6" width="2.7" height="2.7"/><rect x="670.4" y="221.6" width="2.7" height="2.7"/><rect x="673.7" y="224.3" width="2.7" height="2.7"/><rect x="677.1" y="226.8" width="2.7" height="2.7"/><rect x="680.4" y="229.3" width="2.7" height="2.7"/><rect x="683.8" y="231.7" width="2.7" height="2.7"/><rect x="687.1" y="233.9" width="2.7" height="2.7"/><rect x="690.5" y="236.0" width="2.7" height="2.7"/><rect x="693.8" y="238.1" width="2.7" height="2.7"/><rect x="697.2" y="240.0" width="2.7" height="2.7"/><rect x="700.5" y="241.7" width="2.7" height="2.7"/><rect x="703.9" y="243.4" width="2.7" height="2.7"/><rect x="707.2" y="244.9" width="2.7" height="2.7"/><rect x="710.6" y="246.2" width="2.7" height="2.7"/><rect x="713.9" y="247.5" width="2.7" height="2.7"/><rect x="717.3" y="248.6" width="2.7" height="2.7"/><rect x="720.6" y="249.5" width="2.7" height="2.7"/><rect x="724.0" y="250.4" width="2.7" height="2.7"/><rect x="727.3" y="251.1" width="2.7" height="2.7"/><rect x="730.7" y="251.7" width="2.7" height="2.7"/></g>
<path d="M428.1,253.4 L431.5,252.8 L434.8,252.2 L438.2,251.5 L441.5,250.7 L444.9,249.8 L448.2,248.8 L451.6,247.6 L454.9,246.4 L458.3,245.0 L461.6,243.5 L465.0,241.9 L468.3,240.2 L471.7,238.4 L475.0,236.4 L478.4,234.4 L481.7,232.2 L485.1,229.8 L488.0,227.7 L490.4,225.8 L492.8,223.8 L495.3,221.6 L497.7,219.4 L500.2,217.0 L502.6,214.5 L505.0,211.8 L507.5,208.9 L509.9,205.7 L512.3,202.3 L514.8,198.6 L517.2,194.6 L519.2,191.0 L520.7,188.1 L522.2,184.9 L523.8,181.6 L525.3,178.0 L526.8,174.2 L528.3,170.2 L529.8,165.7 L531.4,160.3 L532.9,154.3 L534.4,147.7 L535.9,141.0 L537.5,134.1 L539.0,126.8 L540.5,120.4 L542.0,114.9 L543.5,109.6 L545.1,104.2 L546.6,98.8 L548.1,93.1 L549.1,89.2 L549.6,87.3 L550.0,85.3 L550.5,83.2 L550.9,81.0 L551.4,78.9 L551.8,76.7 L552.3,74.6 L552.8,72.4 L553.2,70.4 L553.7,68.2 L554.1,66.1 L554.6,64.0 L555.0,61.9 L555.5,59.8 L556.0,57.7 L556.4,55.6 L556.9,53.6 L557.3,51.7 L557.8,49.8 L558.2,47.9 L558.7,46.1 L559.2,44.3 L559.6,42.5 L560.1,40.7 L560.5,39.0 L561.0,37.3 L561.4,35.7 L561.9,34.2 L562.4,32.7 L562.8,31.3 L563.3,29.9 L563.7,28.5 L564.2,27.2 L564.6,25.9 L565.1,24.8 L565.5,23.7 L566.0,22.7 L566.5,21.7 L566.9,20.7 L567.4,19.9 L567.8,19.6 L568.3,19.9 L568.7,20.7 L569.2,21.9 L569.7,23.3 L570.1,25.8 L570.6,29.4 L571.0,34.0 L571.5,40.5 L571.9,46.4 L572.4,54.5 L572.9,64.7 L573.3,72.8 L573.8,78.6 L574.2,85.9 L574.7,92.6 L575.1,98.3 L575.6,102.2 L576.1,105.3 L576.5,108.2 L577.0,110.7 L577.4,113.2 L577.9,116.1 L578.3,120.4 L578.8,125.2 L579.2,129.1 L579.7,128.7 L580.2,124.3 L580.6,120.1 L581.1,116.0 L581.5,112.3 L582.0,108.8 L582.4,105.6 L582.9,103.1 L583.4,101.1 L583.8,98.5 L584.3,93.2 L584.7,85.3 L585.2,79.1 L585.6,73.3 L586.1,63.7 L586.6,51.4 L587.0,41.8 L587.5,35.0 L587.9,29.5 L588.4,25.5 L588.8,22.5 L589.3,20.2 L589.8,19.2 L590.2,18.6 L590.7,18.1 L591.1,17.9 L591.6,18.1 L592.0,18.9 L592.5,19.9 L593.0,20.8 L593.4,21.9 L593.9,23.0 L594.3,24.2 L594.8,25.4 L595.2,26.8 L595.7,28.2 L596.1,29.6 L596.6,31.2 L597.1,32.9 L597.5,34.7 L598.0,36.6 L598.4,38.5 L598.9,40.5 L599.3,42.4 L599.8,44.3 L600.3,46.1 L600.7,47.9 L601.2,49.8 L601.6,51.6 L602.1,53.4 L602.5,55.3 L603.0,57.1 L603.5,59.1 L603.9,61.1 L604.4,63.1 L604.8,65.2 L605.3,67.2 L605.7,69.3 L606.2,71.5 L606.7,73.5 L607.1,75.6 L607.6,77.7 L608.0,79.9 L608.5,82.0 L608.9,84.1 L609.4,86.1 L609.9,88.0 L610.8,91.9 L612.4,97.5 L613.9,102.9 L615.4,108.3 L616.9,113.6 L618.5,119.1 L620.0,125.5 L621.5,132.8 L623.0,139.7 L624.5,146.4 L626.1,153.0 L627.6,159.0 L629.1,164.4 L630.6,168.9 L632.2,172.9 L633.7,176.7 L635.2,180.3 L636.7,183.6 L638.2,186.8 L639.8,189.7 L641.7,193.3 L644.2,197.3 L646.6,201.0 L649.1,204.4 L651.5,207.6 L653.9,210.5 L656.4,213.2 L658.8,215.7 L661.2,218.1 L663.7,220.3 L666.1,222.5 L668.5,224.5 L671.0,226.4 L673.9,228.5 L677.2,230.9 L680.6,233.1 L683.9,235.1 L687.3,237.1 L690.6,238.9 L694.0,240.6 L697.3,242.2 L700.7,243.7 L704.0,245.1 L707.4,246.3 L710.7,247.5 L714.1,248.5 L717.4,249.4 L720.8,250.2 L724.1,250.9 L727.5,251.5 L730.8,252.1" fill="none" stroke="#127b7b" stroke-width="1.5"/>
<path fill="#127b7b" d="M426.8,252.1h2.6v2.6h-2.6zM430.2,251.5h2.6v2.6h-2.6zM433.5,250.9h2.6v2.6h-2.6zM436.9,250.2h2.6v2.6h-2.6zM440.2,249.4h2.6v2.6h-2.6zM443.6,248.5h2.6v2.6h-2.6zM446.9,247.5h2.6v2.6h-2.6zM450.3,246.3h2.6v2.6h-2.6zM453.6,245.1h2.6v2.6h-2.6zM457.0,243.7h2.6v2.6h-2.6zM460.3,242.2h2.6v2.6h-2.6zM463.7,240.6h2.6v2.6h-2.6zM467.0,238.9h2.6v2.6h-2.6zM470.4,237.1h2.6v2.6h-2.6zM473.7,235.1h2.6v2.6h-2.6zM477.1,233.1h2.6v2.6h-2.6zM480.4,230.9h2.6v2.6h-2.6zM483.8,228.5h2.6v2.6h-2.6zM486.7,226.4h2.6v2.6h-2.6zM489.1,224.5h2.6v2.6h-2.6zM491.5,222.5h2.6v2.6h-2.6zM494.0,220.3h2.6v2.6h-2.6zM496.4,218.1h2.6v2.6h-2.6zM498.9,215.7h2.6v2.6h-2.6zM501.3,213.2h2.6v2.6h-2.6zM503.7,210.5h2.6v2.6h-2.6zM506.2,207.6h2.6v2.6h-2.6zM508.6,204.4h2.6v2.6h-2.6zM511.0,201.0h2.6v2.6h-2.6zM513.5,197.3h2.6v2.6h-2.6zM515.9,193.3h2.6v2.6h-2.6zM517.9,189.7h2.6v2.6h-2.6zM519.4,186.8h2.6v2.6h-2.6zM520.9,183.6h2.6v2.6h-2.6zM522.5,180.3h2.6v2.6h-2.6zM524.0,176.7h2.6v2.6h-2.6zM525.5,172.9h2.6v2.6h-2.6zM527.0,168.9h2.6v2.6h-2.6zM528.5,164.4h2.6v2.6h-2.6zM530.1,159.0h2.6v2.6h-2.6zM531.6,153.0h2.6v2.6h-2.6zM533.1,146.4h2.6v2.6h-2.6zM534.6,139.7h2.6v2.6h-2.6zM536.2,132.8h2.6v2.6h-2.6zM537.7,125.5h2.6v2.6h-2.6zM539.2,119.1h2.6v2.6h-2.6zM540.7,113.6h2.6v2.6h-2.6zM542.2,108.3h2.6v2.6h-2.6zM543.8,102.9h2.6v2.6h-2.6zM545.3,97.5h2.6v2.6h-2.6zM546.8,91.8h2.6v2.6h-2.6zM547.8,87.9h2.6v2.6h-2.6zM548.3,86.0h2.6v2.6h-2.6zM548.7,84.0h2.6v2.6h-2.6zM549.2,81.9h2.6v2.6h-2.6zM549.6,79.7h2.6v2.6h-2.6zM550.1,77.6h2.6v2.6h-2.6zM550.5,75.4h2.6v2.6h-2.6zM551.0,73.3h2.6v2.6h-2.6zM551.5,71.1h2.6v2.6h-2.6zM551.9,69.1h2.6v2.6h-2.6zM552.4,66.9h2.6v2.6h-2.6zM552.8,64.8h2.6v2.6h-2.6zM553.3,62.7h2.6v2.6h-2.6zM553.7,60.6h2.6v2.6h-2.6zM554.2,58.5h2.6v2.6h-2.6zM554.7,56.4h2.6v2.6h-2.6zM555.1,54.3h2.6v2.6h-2.6zM555.6,52.3h2.6v2.6h-2.6zM556.0,50.4h2.6v2.6h-2.6zM556.5,48.5h2.6v2.6h-2.6zM556.9,46.6h2.6v2.6h-2.6zM557.4,44.8h2.6v2.6h-2.6zM557.9,43.0h2.6v2.6h-2.6zM558.3,41.2h2.6v2.6h-2.6zM558.8,39.4h2.6v2.6h-2.6zM559.2,37.7h2.6v2.6h-2.6zM559.7,36.0h2.6v2.6h-2.6zM560.1,34.4h2.6v2.6h-2.6zM560.6,32.9h2.6v2.6h-2.6zM561.1,31.4h2.6v2.6h-2.6zM561.5,30.0h2.6v2.6h-2.6zM562.0,28.6h2.6v2.6h-2.6zM562.4,27.2h2.6v2.6h-2.6zM562.9,25.9h2.6v2.6h-2.6zM563.3,24.6h2.6v2.6h-2.6zM563.8,23.5h2.6v2.6h-2.6zM564.2,22.4h2.6v2.6h-2.6zM564.7,21.4h2.6v2.6h-2.6zM565.2,20.4h2.6v2.6h-2.6zM565.6,19.4h2.6v2.6h-2.6zM566.1,18.6h2.6v2.6h-2.6zM566.5,18.3h2.6v2.6h-2.6zM567.0,18.6h2.6v2.6h-2.6zM567.4,19.4h2.6v2.6h-2.6zM567.9,20.6h2.6v2.6h-2.6zM568.4,22.0h2.6v2.6h-2.6zM568.8,24.5h2.6v2.6h-2.6zM569.3,28.1h2.6v2.6h-2.6zM569.7,32.7h2.6v2.6h-2.6zM570.2,39.2h2.6v2.6h-2.6zM570.6,45.1h2.6v2.6h-2.6zM571.1,53.2h2.6v2.6h-2.6zM571.6,63.4h2.6v2.6h-2.6zM572.0,71.5h2.6v2.6h-2.6zM572.5,77.3h2.6v2.6h-2.6zM572.9,84.6h2.6v2.6h-2.6zM573.4,91.3h2.6v2.6h-2.6zM573.8,97.0h2.6v2.6h-2.6zM574.3,100.9h2.6v2.6h-2.6zM574.8,104.0h2.6v2.6h-2.6zM575.2,106.9h2.6v2.6h-2.6zM575.7,109.4h2.6v2.6h-2.6zM576.1,111.9h2.6v2.6h-2.6zM576.6,114.8h2.6v2.6h-2.6zM577.0,119.1h2.6v2.6h-2.6zM577.5,123.9h2.6v2.6h-2.6zM578.0,127.8h2.6v2.6h-2.6zM578.4,127.4h2.6v2.6h-2.6zM578.9,123.0h2.6v2.6h-2.6zM579.3,118.8h2.6v2.6h-2.6zM579.8,114.7h2.6v2.6h-2.6zM580.2,111.0h2.6v2.6h-2.6zM580.7,107.5h2.6v2.6h-2.6zM581.1,104.3h2.6v2.6h-2.6zM581.6,101.8h2.6v2.6h-2.6zM582.1,99.8h2.6v2.6h-2.6zM582.5,97.2h2.6v2.6h-2.6zM583.0,91.9h2.6v2.6h-2.6zM583.4,84.0h2.6v2.6h-2.6zM583.9,77.8h2.6v2.6h-2.6zM584.3,72.0h2.6v2.6h-2.6zM584.8,62.4h2.6v2.6h-2.6zM585.3,50.1h2.6v2.6h-2.6zM585.7,40.5h2.6v2.6h-2.6zM586.2,33.7h2.6v2.6h-2.6zM586.6,28.2h2.6v2.6h-2.6zM587.1,24.2h2.6v2.6h-2.6zM587.5,21.2h2.6v2.6h-2.6zM588.0,18.9h2.6v2.6h-2.6zM588.5,17.9h2.6v2.6h-2.6zM588.9,17.3h2.6v2.6h-2.6zM589.4,16.8h2.6v2.6h-2.6zM589.8,16.6h2.6v2.6h-2.6zM590.3,16.8h2.6v2.6h-2.6zM590.7,17.6h2.6v2.6h-2.6zM591.2,18.6h2.6v2.6h-2.6zM591.7,19.5h2.6v2.6h-2.6zM592.1,20.6h2.6v2.6h-2.6zM592.6,21.7h2.6v2.6h-2.6zM593.0,22.9h2.6v2.6h-2.6zM593.5,24.1h2.6v2.6h-2.6zM593.9,25.5h2.6v2.6h-2.6zM594.4,26.9h2.6v2.6h-2.6zM594.8,28.3h2.6v2.6h-2.6zM595.3,29.9h2.6v2.6h-2.6zM595.8,31.6h2.6v2.6h-2.6zM596.2,33.4h2.6v2.6h-2.6zM596.7,35.3h2.6v2.6h-2.6zM597.1,37.2h2.6v2.6h-2.6zM597.6,39.2h2.6v2.6h-2.6zM598.0,41.1h2.6v2.6h-2.6zM598.5,43.0h2.6v2.6h-2.6zM599.0,44.8h2.6v2.6h-2.6zM599.4,46.6h2.6v2.6h-2.6zM599.9,48.5h2.6v2.6h-2.6zM600.3,50.3h2.6v2.6h-2.6zM600.8,52.1h2.6v2.6h-2.6zM601.2,54.0h2.6v2.6h-2.6zM601.7,55.8h2.6v2.6h-2.6zM602.2,57.8h2.6v2.6h-2.6zM602.6,59.8h2.6v2.6h-2.6zM603.1,61.8h2.6v2.6h-2.6zM603.5,63.9h2.6v2.6h-2.6zM604.0,65.9h2.6v2.6h-2.6zM604.4,68.0h2.6v2.6h-2.6zM604.9,70.2h2.6v2.6h-2.6zM605.4,72.2h2.6v2.6h-2.6zM605.8,74.3h2.6v2.6h-2.6zM606.3,76.4h2.6v2.6h-2.6zM606.7,78.6h2.6v2.6h-2.6zM607.2,80.7h2.6v2.6h-2.6zM607.6,82.8h2.6v2.6h-2.6zM608.1,84.8h2.6v2.6h-2.6zM608.6,86.7h2.6v2.6h-2.6zM609.5,90.6h2.6v2.6h-2.6zM611.1,96.2h2.6v2.6h-2.6zM612.6,101.6h2.6v2.6h-2.6zM614.1,107.0h2.6v2.6h-2.6zM615.6,112.3h2.6v2.6h-2.6zM617.2,117.8h2.6v2.6h-2.6zM618.7,124.2h2.6v2.6h-2.6zM620.2,131.5h2.6v2.6h-2.6zM621.7,138.4h2.6v2.6h-2.6zM623.2,145.1h2.6v2.6h-2.6zM624.8,151.7h2.6v2.6h-2.6zM626.3,157.7h2.6v2.6h-2.6zM627.8,163.1h2.6v2.6h-2.6zM629.3,167.6h2.6v2.6h-2.6zM630.9,171.6h2.6v2.6h-2.6zM632.4,175.4h2.6v2.6h-2.6zM633.9,179.0h2.6v2.6h-2.6zM635.4,182.3h2.6v2.6h-2.6zM636.9,185.5h2.6v2.6h-2.6zM638.5,188.4h2.6v2.6h-2.6zM640.4,192.0h2.6v2.6h-2.6zM642.9,196.0h2.6v2.6h-2.6zM645.3,199.7h2.6v2.6h-2.6zM647.8,203.1h2.6v2.6h-2.6zM650.2,206.3h2.6v2.6h-2.6zM652.6,209.2h2.6v2.6h-2.6zM655.1,211.9h2.6v2.6h-2.6zM657.5,214.4h2.6v2.6h-2.6zM659.9,216.8h2.6v2.6h-2.6zM662.4,219.0h2.6v2.6h-2.6zM664.8,221.2h2.6v2.6h-2.6zM667.2,223.2h2.6v2.6h-2.6zM669.7,225.1h2.6v2.6h-2.6zM672.6,227.2h2.6v2.6h-2.6zM675.9,229.6h2.6v2.6h-2.6zM679.3,231.8h2.6v2.6h-2.6zM682.6,233.8h2.6v2.6h-2.6zM686.0,235.8h2.6v2.6h-2.6zM689.3,237.6h2.6v2.6h-2.6zM692.7,239.3h2.6v2.6h-2.6zM696.0,240.9h2.6v2.6h-2.6zM699.4,242.4h2.6v2.6h-2.6zM702.7,243.8h2.6v2.6h-2.6zM706.1,245.0h2.6v2.6h-2.6zM709.4,246.2h2.6v2.6h-2.6zM712.8,247.2h2.6v2.6h-2.6zM716.1,248.1h2.6v2.6h-2.6zM719.5,248.9h2.6v2.6h-2.6zM722.8,249.6h2.6v2.6h-2.6zM726.2,250.2h2.6v2.6h-2.6zM729.5,250.8h2.6v2.6h-2.6z"/>
<g fill="#fff" stroke="#127b7b" stroke-width="0.95"><rect x="424.7" y="250.9" width="2.7" height="2.7"/><rect x="428.0" y="250.5" width="2.7" height="2.7"/><rect x="431.4" y="249.9" width="2.7" height="2.7"/><rect x="434.7" y="249.2" width="2.7" height="2.7"/><rect x="438.1" y="248.5" width="2.7" height="2.7"/><rect x="441.4" y="247.6" width="2.7" height="2.7"/><rect x="444.8" y="246.7" width="2.7" height="2.7"/><rect x="448.1" y="245.6" width="2.7" height="2.7"/><rect x="451.5" y="244.4" width="2.7" height="2.7"/><rect x="454.8" y="243.1" width="2.7" height="2.7"/><rect x="458.2" y="241.6" width="2.7" height="2.7"/><rect x="461.5" y="240.1" width="2.7" height="2.7"/><rect x="464.9" y="238.4" width="2.7" height="2.7"/><rect x="468.2" y="236.7" width="2.7" height="2.7"/><rect x="471.6" y="234.8" width="2.7" height="2.7"/><rect x="474.9" y="232.8" width="2.7" height="2.7"/><rect x="478.3" y="230.6" width="2.7" height="2.7"/><rect x="481.6" y="228.4" width="2.7" height="2.7"/><rect x="485.0" y="225.9" width="2.7" height="2.7"/><rect x="487.4" y="224.1" width="2.7" height="2.7"/><rect x="489.8" y="222.1" width="2.7" height="2.7"/><rect x="492.3" y="220.1" width="2.7" height="2.7"/><rect x="494.7" y="217.9" width="2.7" height="2.7"/><rect x="497.1" y="215.6" width="2.7" height="2.7"/><rect x="499.6" y="213.1" width="2.7" height="2.7"/><rect x="502.0" y="210.5" width="2.7" height="2.7"/><rect x="504.4" y="207.7" width="2.7" height="2.7"/><rect x="506.9" y="204.7" width="2.7" height="2.7"/><rect x="509.3" y="201.4" width="2.7" height="2.7"/><rect x="511.7" y="197.9" width="2.7" height="2.7"/><rect x="514.2" y="194.0" width="2.7" height="2.7"/><rect x="516.6" y="189.8" width="2.7" height="2.7"/><rect x="518.1" y="186.9" width="2.7" height="2.7"/><rect x="519.7" y="183.9" width="2.7" height="2.7"/><rect x="521.2" y="180.6" width="2.7" height="2.7"/><rect x="522.7" y="177.2" width="2.7" height="2.7"/><rect x="524.2" y="173.4" width="2.7" height="2.7"/><rect x="525.8" y="169.6" width="2.7" height="2.7"/><rect x="527.3" y="165.3" width="2.7" height="2.7"/><rect x="528.8" y="160.5" width="2.7" height="2.7"/><rect x="530.3" y="154.7" width="2.7" height="2.7"/><rect x="531.8" y="148.4" width="2.7" height="2.7"/><rect x="533.4" y="141.7" width="2.7" height="2.7"/><rect x="534.9" y="135.0" width="2.7" height="2.7"/><rect x="536.4" y="127.8" width="2.7" height="2.7"/><rect x="537.9" y="120.8" width="2.7" height="2.7"/><rect x="539.5" y="114.9" width="2.7" height="2.7"/><rect x="541.0" y="109.6" width="2.7" height="2.7"/><rect x="542.5" y="104.3" width="2.7" height="2.7"/><rect x="544.0" y="98.8" width="2.7" height="2.7"/><rect x="545.5" y="93.3" width="2.7" height="2.7"/><rect x="547.1" y="87.5" width="2.7" height="2.7"/><rect x="547.5" y="85.6" width="2.7" height="2.7"/><rect x="548.0" y="83.6" width="2.7" height="2.7"/><rect x="548.4" y="81.6" width="2.7" height="2.7"/><rect x="548.9" y="79.5" width="2.7" height="2.7"/><rect x="549.4" y="77.3" width="2.7" height="2.7"/><rect x="549.8" y="75.2" width="2.7" height="2.7"/><rect x="550.3" y="73.0" width="2.7" height="2.7"/><rect x="550.7" y="70.8" width="2.7" height="2.7"/><rect x="551.2" y="68.7" width="2.7" height="2.7"/><rect x="551.6" y="66.7" width="2.7" height="2.7"/><rect x="552.1" y="64.5" width="2.7" height="2.7"/><rect x="552.6" y="62.4" width="2.7" height="2.7"/><rect x="553.0" y="60.3" width="2.7" height="2.7"/><rect x="553.5" y="58.2" width="2.7" height="2.7"/><rect x="553.9" y="56.1" width="2.7" height="2.7"/><rect x="554.4" y="54.0" width="2.7" height="2.7"/><rect x="554.8" y="52.0" width="2.7" height="2.7"/><rect x="555.3" y="50.0" width="2.7" height="2.7"/><rect x="555.7" y="48.1" width="2.7" height="2.7"/><rect x="556.2" y="46.2" width="2.7" height="2.7"/><rect x="556.7" y="44.4" width="2.7" height="2.7"/><rect x="557.1" y="42.5" width="2.7" height="2.7"/><rect x="557.6" y="40.7" width="2.7" height="2.7"/><rect x="558.0" y="38.9" width="2.7" height="2.7"/><rect x="558.5" y="37.2" width="2.7" height="2.7"/><rect x="558.9" y="35.5" width="2.7" height="2.7"/><rect x="559.4" y="33.9" width="2.7" height="2.7"/><rect x="559.9" y="32.3" width="2.7" height="2.7"/><rect x="560.3" y="30.8" width="2.7" height="2.7"/><rect x="560.8" y="29.3" width="2.7" height="2.7"/><rect x="561.2" y="27.9" width="2.7" height="2.7"/><rect x="561.7" y="26.5" width="2.7" height="2.7"/><rect x="562.1" y="25.2" width="2.7" height="2.7"/><rect x="562.6" y="23.9" width="2.7" height="2.7"/><rect x="563.1" y="22.7" width="2.7" height="2.7"/><rect x="563.5" y="21.6" width="2.7" height="2.7"/><rect x="564.0" y="20.6" width="2.7" height="2.7"/><rect x="564.4" y="19.5" width="2.7" height="2.7"/><rect x="564.9" y="18.5" width="2.7" height="2.7"/><rect x="565.3" y="17.6" width="2.7" height="2.7"/><rect x="565.8" y="17.0" width="2.7" height="2.7"/><rect x="566.3" y="17.0" width="2.7" height="2.7"/><rect x="566.7" y="17.6" width="2.7" height="2.7"/><rect x="567.2" y="18.6" width="2.7" height="2.7"/><rect x="567.6" y="19.9" width="2.7" height="2.7"/><rect x="568.1" y="21.8" width="2.7" height="2.7"/><rect x="568.5" y="24.8" width="2.7" height="2.7"/><rect x="569.0" y="28.8" width="2.7" height="2.7"/><rect x="569.5" y="34.6" width="2.7" height="2.7"/><rect x="569.9" y="40.8" width="2.7" height="2.7"/><rect x="570.4" y="47.2" width="2.7" height="2.7"/><rect x="570.8" y="56.9" width="2.7" height="2.7"/><rect x="571.3" y="66.7" width="2.7" height="2.7"/><rect x="571.7" y="73.0" width="2.7" height="2.7"/><rect x="572.2" y="79.6" width="2.7" height="2.7"/><rect x="572.6" y="86.8" width="2.7" height="2.7"/><rect x="573.1" y="93.0" width="2.7" height="2.7"/><rect x="573.6" y="97.8" width="2.7" height="2.7"/><rect x="574.0" y="101.3" width="2.7" height="2.7"/><rect x="574.5" y="104.3" width="2.7" height="2.7"/><rect x="574.9" y="107.0" width="2.7" height="2.7"/><rect x="575.4" y="109.6" width="2.7" height="2.7"/><rect x="575.8" y="112.4" width="2.7" height="2.7"/><rect x="576.3" y="115.9" width="2.7" height="2.7"/><rect x="576.8" y="121.1" width="2.7" height="2.7"/><rect x="577.2" y="125.6" width="2.7" height="2.7"/><rect x="577.7" y="128.5" width="2.7" height="2.7"/><rect x="578.1" y="125.3" width="2.7" height="2.7"/><rect x="578.6" y="121.4" width="2.7" height="2.7"/><rect x="579.0" y="117.4" width="2.7" height="2.7"/><rect x="579.5" y="113.7" width="2.7" height="2.7"/><rect x="580.0" y="110.2" width="2.7" height="2.7"/><rect x="580.4" y="106.9" width="2.7" height="2.7"/><rect x="580.9" y="104.0" width="2.7" height="2.7"/><rect x="581.3" y="101.9" width="2.7" height="2.7"/><rect x="581.8" y="99.8" width="2.7" height="2.7"/><rect x="582.2" y="96.4" width="2.7" height="2.7"/><rect x="582.7" y="89.2" width="2.7" height="2.7"/><rect x="583.2" y="81.9" width="2.7" height="2.7"/><rect x="583.6" y="76.3" width="2.7" height="2.7"/><rect x="584.1" y="69.4" width="2.7" height="2.7"/><rect x="584.5" y="57.2" width="2.7" height="2.7"/><rect x="585.0" y="45.9" width="2.7" height="2.7"/><rect x="585.4" y="38.1" width="2.7" height="2.7"/><rect x="585.9" y="32.1" width="2.7" height="2.7"/><rect x="586.3" y="27.2" width="2.7" height="2.7"/><rect x="586.8" y="23.9" width="2.7" height="2.7"/><rect x="587.3" y="21.2" width="2.7" height="2.7"/><rect x="587.7" y="19.5" width="2.7" height="2.7"/><rect x="588.2" y="18.8" width="2.7" height="2.7"/><rect x="588.6" y="18.3" width="2.7" height="2.7"/><rect x="589.1" y="17.9" width="2.7" height="2.7"/><rect x="589.5" y="17.9" width="2.7" height="2.7"/><rect x="590.0" y="18.4" width="2.7" height="2.7"/><rect x="590.5" y="19.4" width="2.7" height="2.7"/><rect x="590.9" y="20.3" width="2.7" height="2.7"/><rect x="591.4" y="21.3" width="2.7" height="2.7"/><rect x="591.8" y="22.3" width="2.7" height="2.7"/><rect x="592.3" y="23.5" width="2.7" height="2.7"/><rect x="592.7" y="24.7" width="2.7" height="2.7"/><rect x="593.2" y="26.1" width="2.7" height="2.7"/><rect x="593.7" y="27.4" width="2.7" height="2.7"/><rect x="594.1" y="28.9" width="2.7" height="2.7"/><rect x="594.6" y="30.3" width="2.7" height="2.7"/><rect x="595.0" y="32.0" width="2.7" height="2.7"/><rect x="595.5" y="33.7" width="2.7" height="2.7"/><rect x="595.9" y="35.6" width="2.7" height="2.7"/><rect x="596.4" y="37.5" width="2.7" height="2.7"/><rect x="596.9" y="39.5" width="2.7" height="2.7"/><rect x="597.3" y="41.4" width="2.7" height="2.7"/><rect x="597.8" y="43.3" width="2.7" height="2.7"/><rect x="598.2" y="45.2" width="2.7" height="2.7"/><rect x="598.7" y="47.0" width="2.7" height="2.7"/><rect x="599.1" y="48.8" width="2.7" height="2.7"/><rect x="599.6" y="50.6" width="2.7" height="2.7"/><rect x="600.1" y="52.4" width="2.7" height="2.7"/><rect x="600.5" y="54.3" width="2.7" height="2.7"/><rect x="601.0" y="56.1" width="2.7" height="2.7"/><rect x="601.4" y="58.1" width="2.7" height="2.7"/><rect x="601.9" y="60.0" width="2.7" height="2.7"/><rect x="602.3" y="62.0" width="2.7" height="2.7"/><rect x="602.8" y="64.1" width="2.7" height="2.7"/><rect x="603.2" y="66.2" width="2.7" height="2.7"/><rect x="603.7" y="68.2" width="2.7" height="2.7"/><rect x="604.2" y="70.4" width="2.7" height="2.7"/><rect x="604.6" y="72.5" width="2.7" height="2.7"/><rect x="605.1" y="74.5" width="2.7" height="2.7"/><rect x="605.5" y="76.6" width="2.7" height="2.7"/><rect x="606.0" y="78.8" width="2.7" height="2.7"/><rect x="606.4" y="80.9" width="2.7" height="2.7"/><rect x="606.9" y="83.0" width="2.7" height="2.7"/><rect x="607.4" y="85.1" width="2.7" height="2.7"/><rect x="607.8" y="87.1" width="2.7" height="2.7"/><rect x="608.3" y="88.9" width="2.7" height="2.7"/><rect x="609.8" y="94.7" width="2.7" height="2.7"/><rect x="611.3" y="100.2" width="2.7" height="2.7"/><rect x="612.8" y="105.6" width="2.7" height="2.7"/><rect x="614.4" y="110.9" width="2.7" height="2.7"/><rect x="615.9" y="116.2" width="2.7" height="2.7"/><rect x="617.4" y="122.1" width="2.7" height="2.7"/><rect x="618.9" y="129.1" width="2.7" height="2.7"/><rect x="620.5" y="136.3" width="2.7" height="2.7"/><rect x="622.0" y="143.0" width="2.7" height="2.7"/><rect x="623.5" y="149.7" width="2.7" height="2.7"/><rect x="625.0" y="156.0" width="2.7" height="2.7"/><rect x="626.5" y="161.8" width="2.7" height="2.7"/><rect x="628.1" y="166.6" width="2.7" height="2.7"/><rect x="629.6" y="170.9" width="2.7" height="2.7"/><rect x="631.1" y="174.8" width="2.7" height="2.7"/><rect x="632.6" y="178.5" width="2.7" height="2.7"/><rect x="634.2" y="181.9" width="2.7" height="2.7"/><rect x="635.7" y="185.2" width="2.7" height="2.7"/><rect x="637.2" y="188.2" width="2.7" height="2.7"/><rect x="638.7" y="191.1" width="2.7" height="2.7"/><rect x="641.2" y="195.3" width="2.7" height="2.7"/><rect x="643.6" y="199.2" width="2.7" height="2.7"/><rect x="646.0" y="202.7" width="2.7" height="2.7"/><rect x="648.5" y="206.0" width="2.7" height="2.7"/><rect x="650.9" y="209.0" width="2.7" height="2.7"/><rect x="653.3" y="211.8" width="2.7" height="2.7"/><rect x="655.8" y="214.4" width="2.7" height="2.7"/><rect x="658.2" y="216.9" width="2.7" height="2.7"/><rect x="660.6" y="219.2" width="2.7" height="2.7"/><rect x="663.1" y="221.4" width="2.7" height="2.7"/><rect x="665.5" y="223.4" width="2.7" height="2.7"/><rect x="668.0" y="225.4" width="2.7" height="2.7"/><rect x="670.4" y="227.2" width="2.7" height="2.7"/><rect x="673.7" y="229.7" width="2.7" height="2.7"/><rect x="677.1" y="231.9" width="2.7" height="2.7"/><rect x="680.4" y="234.1" width="2.7" height="2.7"/><rect x="683.8" y="236.1" width="2.7" height="2.7"/><rect x="687.1" y="238.0" width="2.7" height="2.7"/><rect x="690.5" y="239.7" width="2.7" height="2.7"/><rect x="693.8" y="241.4" width="2.7" height="2.7"/><rect x="697.2" y="242.9" width="2.7" height="2.7"/><rect x="700.5" y="244.4" width="2.7" height="2.7"/><rect x="703.9" y="245.7" width="2.7" height="2.7"/><rect x="707.2" y="246.9" width="2.7" height="2.7"/><rect x="710.6" y="248.0" width="2.7" height="2.7"/><rect x="713.9" y="248.9" width="2.7" height="2.7"/><rect x="717.3" y="249.8" width="2.7" height="2.7"/><rect x="720.6" y="250.5" width="2.7" height="2.7"/><rect x="724.0" y="251.2" width="2.7" height="2.7"/><rect x="727.3" y="251.8" width="2.7" height="2.7"/><rect x="730.7" y="252.2" width="2.7" height="2.7"/></g>
</g>
<rect x="427.0" y="8.25" width="304.5" height="246.45" fill="none" stroke="#000" stroke-width="1.3"/>
<path d="M442.23,254.70v5.3 M487.90,254.70v5.3 M533.58,254.70v5.3 M579.25,254.70v5.3 M624.92,254.70v5.3 M670.60,254.70v5.3 M716.27,254.70v5.3 M465.06,254.70v2.8 M510.74,254.70v2.8 M556.41,254.70v2.8 M602.09,254.70v2.8 M647.76,254.70v2.8 M693.44,254.70v2.8 M427.00,254.70h-5.3 M427.00,208.20h-5.3 M427.00,161.70h-5.3 M427.00,115.20h-5.3 M427.00,68.70h-5.3 M427.00,22.20h-5.3 M427.00,231.45h-2.8 M427.00,184.95h-2.8 M427.00,138.45h-2.8 M427.00,91.95h-2.8 M427.00,45.45h-2.8" stroke="#000" stroke-width="1.2" fill="none"/>
<clipPath id="clipc"><rect x="51.0" y="307.33" width="312.0" height="256.85"/></clipPath>
<g clip-path="url(#clipc)">
<path d="M47.1,437.4 L52.2,434.7 L54.5,433.5 L56.8,432.2 L59.2,431.0 L61.5,429.7 L63.9,428.5 L66.2,427.3 L68.5,426.1 L70.9,425.0 L73.2,423.9 L75.6,422.9 L77.9,421.9 L80.2,421.0 L82.6,420.1 L84.9,419.2 L87.3,418.3 L89.6,417.4 L91.9,416.6 L94.3,415.8 L96.6,415.1 L99.0,414.4 L101.3,413.9 L103.6,413.4 L106.0,413.0 L108.3,412.7 L110.7,412.5 L113.0,412.2 L115.3,412.0 L117.7,411.8 L120.0,411.7 L122.4,411.6 L124.7,411.6 L127.0,411.9 L129.4,412.5 L131.7,413.3 L134.1,414.3 L136.4,415.4 L138.8,416.7 L141.1,418.8 L143.4,421.9 L145.8,426.1 L148.1,434.7 L150.5,444.9 L152.8,452.8 L155.1,460.0 L157.5,466.8 L159.8,473.3 L162.2,480.2 L164.5,487.2 L166.8,493.1 L169.2,498.3 L171.5,502.9 L173.8,506.9 L176.2,510.4 L178.5,513.5 L180.9,516.2 L183.2,518.9 L185.5,521.5 L187.9,523.9 L190.2,526.3 L192.6,529.0 L194.9,532.4 L197.2,537.3 L199.6,545.3 L201.9,551.5 L204.3,553.8 L206.6,554.0 L208.9,553.7 L211.3,552.3 L213.6,548.7 L216.0,541.9 L218.3,533.1 L220.7,527.8 L223.0,524.1 L225.3,521.9 L227.7,520.6 L230.0,519.5 L232.3,517.9 L234.7,515.4 L237.0,512.0 L239.4,508.2 L241.7,504.2 L244.0,499.9 L246.4,495.2 L248.7,490.1 L251.1,484.9 L253.4,479.2 L255.8,472.9 L258.1,465.6 L260.4,457.4 L262.8,449.8 L265.1,442.2 L267.4,433.4 L269.8,425.3 L272.1,419.3 L274.5,416.3 L276.8,414.3 L279.1,412.9 L281.5,412.0 L283.8,411.2 L286.2,410.6 L288.5,410.2 L290.9,409.9 L293.2,409.6 L295.5,409.4 L297.9,409.2 L300.2,409.2 L302.6,409.4 L304.9,409.8 L307.2,410.2 L309.6,410.8 L311.9,411.4 L314.3,412.0 L316.6,412.6 L318.9,413.3 L321.3,414.0 L323.6,414.9 L326.0,415.8 L328.3,416.8 L330.6,417.7 L333.0,418.8 L335.3,419.8 L337.7,420.8 L340.0,421.8 L342.3,422.8 L344.7,423.7 L347.0,424.6 L349.4,425.5 L351.7,426.4 L354.0,427.3 L356.4,428.3 L358.7,429.2 L361.1,430.2 L363.4,431.3 L368.5,433.9" fill="none" stroke="#000000" stroke-width="2.0"/>
<path fill="#000000" d="M45.3,435.6h3.6v3.6h-3.6zM50.4,432.9h3.6v3.6h-3.6zM52.7,431.7h3.6v3.6h-3.6zM55.0,430.4h3.6v3.6h-3.6zM57.4,429.2h3.6v3.6h-3.6zM59.7,427.9h3.6v3.6h-3.6zM62.1,426.7h3.6v3.6h-3.6zM64.4,425.5h3.6v3.6h-3.6zM66.7,424.3h3.6v3.6h-3.6zM69.1,423.2h3.6v3.6h-3.6zM71.4,422.1h3.6v3.6h-3.6zM73.8,421.1h3.6v3.6h-3.6zM76.1,420.1h3.6v3.6h-3.6zM78.4,419.2h3.6v3.6h-3.6zM80.8,418.3h3.6v3.6h-3.6zM83.1,417.4h3.6v3.6h-3.6zM85.5,416.5h3.6v3.6h-3.6zM87.8,415.6h3.6v3.6h-3.6zM90.1,414.8h3.6v3.6h-3.6zM92.5,414.0h3.6v3.6h-3.6zM94.8,413.3h3.6v3.6h-3.6zM97.2,412.6h3.6v3.6h-3.6zM99.5,412.1h3.6v3.6h-3.6zM101.8,411.6h3.6v3.6h-3.6zM104.2,411.2h3.6v3.6h-3.6zM106.5,410.9h3.6v3.6h-3.6zM108.9,410.7h3.6v3.6h-3.6zM111.2,410.4h3.6v3.6h-3.6zM113.5,410.2h3.6v3.6h-3.6zM115.9,410.0h3.6v3.6h-3.6zM118.2,409.9h3.6v3.6h-3.6zM120.6,409.8h3.6v3.6h-3.6zM122.9,409.8h3.6v3.6h-3.6zM125.2,410.1h3.6v3.6h-3.6zM127.6,410.7h3.6v3.6h-3.6zM129.9,411.5h3.6v3.6h-3.6zM132.3,412.5h3.6v3.6h-3.6zM134.6,413.6h3.6v3.6h-3.6zM136.9,414.9h3.6v3.6h-3.6zM139.3,417.0h3.6v3.6h-3.6zM141.6,420.1h3.6v3.6h-3.6zM144.0,424.3h3.6v3.6h-3.6zM146.3,432.9h3.6v3.6h-3.6zM148.7,443.1h3.6v3.6h-3.6zM151.0,451.0h3.6v3.6h-3.6zM153.3,458.2h3.6v3.6h-3.6zM155.7,465.0h3.6v3.6h-3.6zM158.0,471.5h3.6v3.6h-3.6zM160.3,478.4h3.6v3.6h-3.6zM162.7,485.4h3.6v3.6h-3.6zM165.0,491.3h3.6v3.6h-3.6zM167.4,496.5h3.6v3.6h-3.6zM169.7,501.1h3.6v3.6h-3.6zM172.0,505.1h3.6v3.6h-3.6zM174.4,508.6h3.6v3.6h-3.6zM176.7,511.7h3.6v3.6h-3.6zM179.1,514.4h3.6v3.6h-3.6zM181.4,517.1h3.6v3.6h-3.6zM183.7,519.7h3.6v3.6h-3.6zM186.1,522.1h3.6v3.6h-3.6zM188.4,524.5h3.6v3.6h-3.6zM190.8,527.2h3.6v3.6h-3.6zM193.1,530.6h3.6v3.6h-3.6zM195.4,535.5h3.6v3.6h-3.6zM197.8,543.5h3.6v3.6h-3.6zM200.1,549.7h3.6v3.6h-3.6zM202.5,552.0h3.6v3.6h-3.6zM204.8,552.2h3.6v3.6h-3.6zM207.1,551.9h3.6v3.6h-3.6zM209.5,550.5h3.6v3.6h-3.6zM211.8,546.9h3.6v3.6h-3.6zM214.2,540.1h3.6v3.6h-3.6zM216.5,531.3h3.6v3.6h-3.6zM218.8,526.0h3.6v3.6h-3.6zM221.2,522.3h3.6v3.6h-3.6zM223.5,520.1h3.6v3.6h-3.6zM225.9,518.8h3.6v3.6h-3.6zM228.2,517.7h3.6v3.6h-3.6zM230.5,516.1h3.6v3.6h-3.6zM232.9,513.6h3.6v3.6h-3.6zM235.2,510.2h3.6v3.6h-3.6zM237.6,506.4h3.6v3.6h-3.6zM239.9,502.4h3.6v3.6h-3.6zM242.2,498.1h3.6v3.6h-3.6zM244.6,493.4h3.6v3.6h-3.6zM246.9,488.3h3.6v3.6h-3.6zM249.3,483.1h3.6v3.6h-3.6zM251.6,477.4h3.6v3.6h-3.6zM253.9,471.1h3.6v3.6h-3.6zM256.3,463.8h3.6v3.6h-3.6zM258.6,455.6h3.6v3.6h-3.6zM261.0,448.0h3.6v3.6h-3.6zM263.3,440.4h3.6v3.6h-3.6zM265.6,431.6h3.6v3.6h-3.6zM268.0,423.5h3.6v3.6h-3.6zM270.3,417.5h3.6v3.6h-3.6zM272.7,414.5h3.6v3.6h-3.6zM275.0,412.5h3.6v3.6h-3.6zM277.3,411.1h3.6v3.6h-3.6zM279.7,410.2h3.6v3.6h-3.6zM282.0,409.4h3.6v3.6h-3.6zM284.4,408.8h3.6v3.6h-3.6zM286.7,408.4h3.6v3.6h-3.6zM289.1,408.1h3.6v3.6h-3.6zM291.4,407.8h3.6v3.6h-3.6zM293.7,407.6h3.6v3.6h-3.6zM296.1,407.4h3.6v3.6h-3.6zM298.4,407.4h3.6v3.6h-3.6zM300.8,407.6h3.6v3.6h-3.6zM303.1,408.0h3.6v3.6h-3.6zM305.4,408.4h3.6v3.6h-3.6zM307.8,409.0h3.6v3.6h-3.6zM310.1,409.6h3.6v3.6h-3.6zM312.5,410.2h3.6v3.6h-3.6zM314.8,410.8h3.6v3.6h-3.6zM317.1,411.5h3.6v3.6h-3.6zM319.5,412.2h3.6v3.6h-3.6zM321.8,413.1h3.6v3.6h-3.6zM324.2,414.0h3.6v3.6h-3.6zM326.5,415.0h3.6v3.6h-3.6zM328.8,415.9h3.6v3.6h-3.6zM331.2,417.0h3.6v3.6h-3.6zM333.5,418.0h3.6v3.6h-3.6zM335.9,419.0h3.6v3.6h-3.6zM338.2,420.0h3.6v3.6h-3.6zM340.5,421.0h3.6v3.6h-3.6zM342.9,421.9h3.6v3.6h-3.6zM345.2,422.8h3.6v3.6h-3.6zM347.6,423.7h3.6v3.6h-3.6zM349.9,424.6h3.6v3.6h-3.6zM352.2,425.5h3.6v3.6h-3.6zM354.6,426.5h3.6v3.6h-3.6zM356.9,427.4h3.6v3.6h-3.6zM359.3,428.4h3.6v3.6h-3.6zM361.6,429.5h3.6v3.6h-3.6zM366.7,432.1h3.6v3.6h-3.6z"/>
<g fill="#fff" stroke="#000000" stroke-width="1.0"><rect x="48.1" y="431.0" width="2.6" height="2.6"/><rect x="50.5" y="429.7" width="2.6" height="2.6"/><rect x="52.8" y="428.5" width="2.6" height="2.6"/><rect x="55.2" y="427.2" width="2.6" height="2.6"/><rect x="57.5" y="426.0" width="2.6" height="2.6"/><rect x="59.8" y="424.7" width="2.6" height="2.6"/><rect x="62.2" y="423.5" width="2.6" height="2.6"/><rect x="64.5" y="422.3" width="2.6" height="2.6"/><rect x="66.9" y="421.2" width="2.6" height="2.6"/><rect x="69.2" y="420.1" width="2.6" height="2.6"/><rect x="71.5" y="419.0" width="2.6" height="2.6"/><rect x="73.9" y="418.0" width="2.6" height="2.6"/><rect x="76.2" y="417.1" width="2.6" height="2.6"/><rect x="78.6" y="416.2" width="2.6" height="2.6"/><rect x="80.9" y="415.3" width="2.6" height="2.6"/><rect x="83.2" y="414.4" width="2.6" height="2.6"/><rect x="85.6" y="413.5" width="2.6" height="2.6"/><rect x="87.9" y="412.7" width="2.6" height="2.6"/><rect x="90.3" y="411.8" width="2.6" height="2.6"/><rect x="92.6" y="411.1" width="2.6" height="2.6"/><rect x="94.9" y="410.4" width="2.6" height="2.6"/><rect x="97.3" y="409.8" width="2.6" height="2.6"/><rect x="99.6" y="409.2" width="2.6" height="2.6"/><rect x="102.0" y="408.8" width="2.6" height="2.6"/><rect x="104.3" y="408.5" width="2.6" height="2.6"/><rect x="106.6" y="408.2" width="2.6" height="2.6"/><rect x="109.0" y="408.0" width="2.6" height="2.6"/><rect x="111.3" y="407.7" width="2.6" height="2.6"/><rect x="113.7" y="407.5" width="2.6" height="2.6"/><rect x="116.0" y="407.4" width="2.6" height="2.6"/><rect x="118.3" y="407.3" width="2.6" height="2.6"/><rect x="120.7" y="407.2" width="2.6" height="2.6"/><rect x="123.0" y="407.4" width="2.6" height="2.6"/><rect x="125.4" y="407.8" width="2.6" height="2.6"/><rect x="127.7" y="408.5" width="2.6" height="2.6"/><rect x="130.0" y="409.4" width="2.6" height="2.6"/><rect x="132.4" y="410.4" width="2.6" height="2.6"/><rect x="134.7" y="411.6" width="2.6" height="2.6"/><rect x="137.1" y="413.3" width="2.6" height="2.6"/><rect x="139.4" y="415.9" width="2.6" height="2.6"/><rect x="141.7" y="419.5" width="2.6" height="2.6"/><rect x="144.1" y="424.9" width="2.6" height="2.6"/><rect x="146.4" y="436.0" width="2.6" height="2.6"/><rect x="148.8" y="444.6" width="2.6" height="2.6"/><rect x="151.1" y="452.1" width="2.6" height="2.6"/><rect x="153.4" y="459.1" width="2.6" height="2.6"/><rect x="155.8" y="465.7" width="2.6" height="2.6"/><rect x="158.1" y="472.4" width="2.6" height="2.6"/><rect x="160.5" y="479.4" width="2.6" height="2.6"/><rect x="162.8" y="486.0" width="2.6" height="2.6"/><rect x="165.1" y="491.4" width="2.6" height="2.6"/><rect x="167.5" y="496.3" width="2.6" height="2.6"/><rect x="169.8" y="500.6" width="2.6" height="2.6"/><rect x="172.2" y="504.4" width="2.6" height="2.6"/><rect x="174.5" y="507.6" width="2.6" height="2.6"/><rect x="176.8" y="510.6" width="2.6" height="2.6"/><rect x="179.2" y="513.3" width="2.6" height="2.6"/><rect x="181.5" y="515.9" width="2.6" height="2.6"/><rect x="183.9" y="518.5" width="2.6" height="2.6"/><rect x="186.2" y="521.0" width="2.6" height="2.6"/><rect x="188.5" y="523.6" width="2.6" height="2.6"/><rect x="190.9" y="526.7" width="2.6" height="2.6"/><rect x="193.2" y="531.0" width="2.6" height="2.6"/><rect x="195.6" y="537.7" width="2.6" height="2.6"/><rect x="197.9" y="545.7" width="2.6" height="2.6"/><rect x="200.2" y="551.0" width="2.6" height="2.6"/><rect x="202.6" y="552.0" width="2.6" height="2.6"/><rect x="204.9" y="552.6" width="2.6" height="2.6"/><rect x="207.3" y="552.4" width="2.6" height="2.6"/><rect x="209.6" y="551.0" width="2.6" height="2.6"/><rect x="211.9" y="545.7" width="2.6" height="2.6"/><rect x="214.3" y="538.2" width="2.6" height="2.6"/><rect x="216.6" y="531.1" width="2.6" height="2.6"/><rect x="219.0" y="527.0" width="2.6" height="2.6"/><rect x="221.3" y="524.3" width="2.6" height="2.6"/><rect x="223.6" y="522.7" width="2.6" height="2.6"/><rect x="226.0" y="521.6" width="2.6" height="2.6"/><rect x="228.3" y="520.4" width="2.6" height="2.6"/><rect x="230.7" y="518.4" width="2.6" height="2.6"/><rect x="233.0" y="515.5" width="2.6" height="2.6"/><rect x="235.3" y="511.9" width="2.6" height="2.6"/><rect x="237.7" y="507.9" width="2.6" height="2.6"/><rect x="240.0" y="503.9" width="2.6" height="2.6"/><rect x="242.4" y="499.4" width="2.6" height="2.6"/><rect x="244.7" y="494.5" width="2.6" height="2.6"/><rect x="247.0" y="489.3" width="2.6" height="2.6"/><rect x="249.4" y="483.8" width="2.6" height="2.6"/><rect x="251.7" y="477.9" width="2.6" height="2.6"/><rect x="254.1" y="471.2" width="2.6" height="2.6"/><rect x="256.4" y="463.3" width="2.6" height="2.6"/><rect x="258.7" y="455.3" width="2.6" height="2.6"/><rect x="261.1" y="447.8" width="2.6" height="2.6"/><rect x="263.4" y="439.8" width="2.6" height="2.6"/><rect x="265.8" y="430.7" width="2.6" height="2.6"/><rect x="268.1" y="423.7" width="2.6" height="2.6"/><rect x="270.4" y="419.3" width="2.6" height="2.6"/><rect x="272.8" y="417.0" width="2.6" height="2.6"/><rect x="275.1" y="415.3" width="2.6" height="2.6"/><rect x="277.5" y="414.2" width="2.6" height="2.6"/><rect x="279.8" y="413.4" width="2.6" height="2.6"/><rect x="282.1" y="412.7" width="2.6" height="2.6"/><rect x="284.5" y="412.2" width="2.6" height="2.6"/><rect x="286.8" y="411.8" width="2.6" height="2.6"/><rect x="289.2" y="411.5" width="2.6" height="2.6"/><rect x="291.5" y="411.2" width="2.6" height="2.6"/><rect x="293.8" y="411.0" width="2.6" height="2.6"/><rect x="296.2" y="411.0" width="2.6" height="2.6"/><rect x="298.5" y="411.1" width="2.6" height="2.6"/><rect x="300.9" y="411.3" width="2.6" height="2.6"/><rect x="303.2" y="411.7" width="2.6" height="2.6"/><rect x="305.5" y="412.3" width="2.6" height="2.6"/><rect x="307.9" y="412.8" width="2.6" height="2.6"/><rect x="310.2" y="413.4" width="2.6" height="2.6"/><rect x="312.6" y="414.0" width="2.6" height="2.6"/><rect x="314.9" y="414.7" width="2.6" height="2.6"/><rect x="317.2" y="415.4" width="2.6" height="2.6"/><rect x="319.6" y="416.2" width="2.6" height="2.6"/><rect x="321.9" y="417.1" width="2.6" height="2.6"/><rect x="324.3" y="418.0" width="2.6" height="2.6"/><rect x="326.6" y="419.0" width="2.6" height="2.6"/><rect x="328.9" y="420.0" width="2.6" height="2.6"/><rect x="331.3" y="421.0" width="2.6" height="2.6"/><rect x="333.6" y="422.0" width="2.6" height="2.6"/><rect x="336.0" y="423.1" width="2.6" height="2.6"/><rect x="338.3" y="424.1" width="2.6" height="2.6"/><rect x="340.6" y="425.0" width="2.6" height="2.6"/><rect x="343.0" y="425.9" width="2.6" height="2.6"/><rect x="345.3" y="426.8" width="2.6" height="2.6"/><rect x="347.7" y="427.7" width="2.6" height="2.6"/><rect x="350.0" y="428.6" width="2.6" height="2.6"/><rect x="352.3" y="429.6" width="2.6" height="2.6"/><rect x="354.7" y="430.5" width="2.6" height="2.6"/><rect x="357.0" y="431.5" width="2.6" height="2.6"/><rect x="359.4" y="432.5" width="2.6" height="2.6"/><rect x="361.7" y="433.6" width="2.6" height="2.6"/></g>
<path d="M47.1,449.6 L52.2,447.4 L54.5,446.4 L56.8,445.4 L59.2,444.4 L61.5,443.5 L63.9,442.5 L66.2,441.6 L68.5,440.6 L70.9,439.7 L73.2,438.9 L75.6,438.0 L77.9,437.2 L80.2,436.3 L82.6,435.4 L84.9,434.5 L87.3,433.5 L89.6,432.6 L91.9,431.7 L94.3,430.8 L96.6,430.0 L99.0,429.3 L101.3,428.8 L103.6,428.5 L106.0,428.3 L108.3,428.4 L110.7,428.5 L113.0,428.7 L115.3,428.9 L117.7,429.3 L120.0,429.7 L122.4,430.5 L124.7,432.3 L127.0,434.8 L129.4,440.2 L131.7,448.4 L134.1,454.5 L136.4,459.9 L138.8,464.7 L141.1,468.9 L143.4,472.5 L145.8,477.2 L148.1,483.1 L150.5,488.2 L152.8,492.2 L155.1,495.1 L157.5,497.5 L159.8,499.8 L162.2,502.0 L164.5,504.0 L166.8,506.1 L169.2,508.3 L171.5,510.9 L173.8,513.6 L176.2,516.2 L178.5,519.0 L180.9,521.8 L183.2,524.0 L185.5,525.3 L187.9,527.2 L190.2,529.8 L192.6,533.1 L194.9,537.3 L197.2,545.4 L199.6,551.5 L201.9,555.6 L204.3,558.1 L206.6,558.9 L208.9,558.5 L211.3,556.4 L213.6,553.3 L216.0,548.9 L218.3,542.5 L220.7,534.5 L223.0,530.3 L225.3,527.0 L227.7,524.1 L230.0,521.2 L232.3,518.4 L234.7,515.7 L237.0,513.2 L239.4,510.8 L241.7,508.4 L244.0,506.1 L246.4,503.8 L248.7,501.5 L251.1,499.2 L253.4,496.8 L255.8,494.3 L258.1,491.8 L260.4,489.0 L262.8,485.9 L265.1,482.4 L267.4,479.5 L269.8,476.7 L272.1,472.3 L274.5,467.0 L276.8,461.7 L279.1,456.1 L281.5,450.4 L283.8,445.1 L286.2,439.9 L288.5,433.9 L290.9,429.7 L293.2,428.1 L295.5,427.2 L297.9,426.5 L300.2,425.9 L302.6,425.5 L304.9,425.3 L307.2,425.3 L309.6,425.5 L311.9,425.7 L314.3,426.1 L316.6,426.5 L318.9,427.0 L321.3,427.6 L323.6,428.1 L326.0,428.7 L328.3,429.3 L330.6,430.0 L333.0,430.8 L335.3,431.6 L337.7,432.6 L340.0,433.6 L342.3,434.6 L344.7,435.7 L347.0,436.8 L349.4,438.0 L351.7,439.1 L354.0,440.3 L356.4,441.4 L358.7,442.5 L361.1,443.6 L363.4,444.7 L368.5,446.9" fill="none" stroke="#ee1414" stroke-width="2.0"/>
<path fill="#ee1414" d="M45.3,447.8h3.6v3.6h-3.6zM50.4,445.6h3.6v3.6h-3.6zM52.7,444.6h3.6v3.6h-3.6zM55.0,443.6h3.6v3.6h-3.6zM57.4,442.6h3.6v3.6h-3.6zM59.7,441.7h3.6v3.6h-3.6zM62.1,440.7h3.6v3.6h-3.6zM64.4,439.8h3.6v3.6h-3.6zM66.7,438.8h3.6v3.6h-3.6zM69.1,437.9h3.6v3.6h-3.6zM71.4,437.1h3.6v3.6h-3.6zM73.8,436.2h3.6v3.6h-3.6zM76.1,435.4h3.6v3.6h-3.6zM78.4,434.5h3.6v3.6h-3.6zM80.8,433.6h3.6v3.6h-3.6zM83.1,432.7h3.6v3.6h-3.6zM85.5,431.7h3.6v3.6h-3.6zM87.8,430.8h3.6v3.6h-3.6zM90.1,429.9h3.6v3.6h-3.6zM92.5,429.0h3.6v3.6h-3.6zM94.8,428.2h3.6v3.6h-3.6zM97.2,427.5h3.6v3.6h-3.6zM99.5,427.0h3.6v3.6h-3.6zM101.8,426.7h3.6v3.6h-3.6zM104.2,426.5h3.6v3.6h-3.6zM106.5,426.6h3.6v3.6h-3.6zM108.9,426.7h3.6v3.6h-3.6zM111.2,426.9h3.6v3.6h-3.6zM113.5,427.1h3.6v3.6h-3.6zM115.9,427.5h3.6v3.6h-3.6zM118.2,427.9h3.6v3.6h-3.6zM120.6,428.7h3.6v3.6h-3.6zM122.9,430.5h3.6v3.6h-3.6zM125.2,433.0h3.6v3.6h-3.6zM127.6,438.4h3.6v3.6h-3.6zM129.9,446.6h3.6v3.6h-3.6zM132.3,452.7h3.6v3.6h-3.6zM134.6,458.1h3.6v3.6h-3.6zM136.9,462.9h3.6v3.6h-3.6zM139.3,467.1h3.6v3.6h-3.6zM141.6,470.7h3.6v3.6h-3.6zM144.0,475.4h3.6v3.6h-3.6zM146.3,481.3h3.6v3.6h-3.6zM148.7,486.4h3.6v3.6h-3.6zM151.0,490.4h3.6v3.6h-3.6zM153.3,493.3h3.6v3.6h-3.6zM155.7,495.7h3.6v3.6h-3.6zM158.0,498.0h3.6v3.6h-3.6zM160.3,500.2h3.6v3.6h-3.6zM162.7,502.2h3.6v3.6h-3.6zM165.0,504.3h3.6v3.6h-3.6zM167.4,506.5h3.6v3.6h-3.6zM169.7,509.1h3.6v3.6h-3.6zM172.0,511.8h3.6v3.6h-3.6zM174.4,514.4h3.6v3.6h-3.6zM176.7,517.2h3.6v3.6h-3.6zM179.1,520.0h3.6v3.6h-3.6zM181.4,522.2h3.6v3.6h-3.6zM183.7,523.5h3.6v3.6h-3.6zM186.1,525.4h3.6v3.6h-3.6zM188.4,528.0h3.6v3.6h-3.6zM190.8,531.3h3.6v3.6h-3.6zM193.1,535.5h3.6v3.6h-3.6zM195.4,543.6h3.6v3.6h-3.6zM197.8,549.7h3.6v3.6h-3.6zM200.1,553.8h3.6v3.6h-3.6zM202.5,556.3h3.6v3.6h-3.6zM204.8,557.1h3.6v3.6h-3.6zM207.1,556.7h3.6v3.6h-3.6zM209.5,554.6h3.6v3.6h-3.6zM211.8,551.5h3.6v3.6h-3.6zM214.2,547.1h3.6v3.6h-3.6zM216.5,540.7h3.6v3.6h-3.6zM218.8,532.7h3.6v3.6h-3.6zM221.2,528.5h3.6v3.6h-3.6zM223.5,525.2h3.6v3.6h-3.6zM225.9,522.3h3.6v3.6h-3.6zM228.2,519.4h3.6v3.6h-3.6zM230.5,516.6h3.6v3.6h-3.6zM232.9,513.9h3.6v3.6h-3.6zM235.2,511.4h3.6v3.6h-3.6zM237.6,509.0h3.6v3.6h-3.6zM239.9,506.6h3.6v3.6h-3.6zM242.2,504.3h3.6v3.6h-3.6zM244.6,502.0h3.6v3.6h-3.6zM246.9,499.7h3.6v3.6h-3.6zM249.3,497.4h3.6v3.6h-3.6zM251.6,495.0h3.6v3.6h-3.6zM253.9,492.5h3.6v3.6h-3.6zM256.3,490.0h3.6v3.6h-3.6zM258.6,487.2h3.6v3.6h-3.6zM261.0,484.1h3.6v3.6h-3.6zM263.3,480.6h3.6v3.6h-3.6zM265.6,477.7h3.6v3.6h-3.6zM268.0,474.9h3.6v3.6h-3.6zM270.3,470.5h3.6v3.6h-3.6zM272.7,465.2h3.6v3.6h-3.6zM275.0,459.9h3.6v3.6h-3.6zM277.3,454.3h3.6v3.6h-3.6zM279.7,448.6h3.6v3.6h-3.6zM282.0,443.3h3.6v3.6h-3.6zM284.4,438.1h3.6v3.6h-3.6zM286.7,432.1h3.6v3.6h-3.6zM289.1,427.9h3.6v3.6h-3.6zM291.4,426.3h3.6v3.6h-3.6zM293.7,425.4h3.6v3.6h-3.6zM296.1,424.7h3.6v3.6h-3.6zM298.4,424.1h3.6v3.6h-3.6zM300.8,423.7h3.6v3.6h-3.6zM303.1,423.5h3.6v3.6h-3.6zM305.4,423.5h3.6v3.6h-3.6zM307.8,423.7h3.6v3.6h-3.6zM310.1,423.9h3.6v3.6h-3.6zM312.5,424.3h3.6v3.6h-3.6zM314.8,424.7h3.6v3.6h-3.6zM317.1,425.2h3.6v3.6h-3.6zM319.5,425.8h3.6v3.6h-3.6zM321.8,426.3h3.6v3.6h-3.6zM324.2,426.9h3.6v3.6h-3.6zM326.5,427.5h3.6v3.6h-3.6zM328.8,428.2h3.6v3.6h-3.6zM331.2,429.0h3.6v3.6h-3.6zM333.5,429.8h3.6v3.6h-3.6zM335.9,430.8h3.6v3.6h-3.6zM338.2,431.8h3.6v3.6h-3.6zM340.5,432.8h3.6v3.6h-3.6zM342.9,433.9h3.6v3.6h-3.6zM345.2,435.0h3.6v3.6h-3.6zM347.6,436.2h3.6v3.6h-3.6zM349.9,437.3h3.6v3.6h-3.6zM352.2,438.5h3.6v3.6h-3.6zM354.6,439.6h3.6v3.6h-3.6zM356.9,440.7h3.6v3.6h-3.6zM359.3,441.8h3.6v3.6h-3.6zM361.6,442.9h3.6v3.6h-3.6zM366.7,445.1h3.6v3.6h-3.6z"/>
<g fill="#fff" stroke="#ee1414" stroke-width="1.0"><rect x="48.1" y="443.5" width="2.6" height="2.6"/><rect x="50.5" y="442.5" width="2.6" height="2.6"/><rect x="52.8" y="441.5" width="2.6" height="2.6"/><rect x="55.2" y="440.6" width="2.6" height="2.6"/><rect x="57.5" y="439.6" width="2.6" height="2.6"/><rect x="59.8" y="438.6" width="2.6" height="2.6"/><rect x="62.2" y="437.7" width="2.6" height="2.6"/><rect x="64.5" y="436.7" width="2.6" height="2.6"/><rect x="66.9" y="435.8" width="2.6" height="2.6"/><rect x="69.2" y="434.9" width="2.6" height="2.6"/><rect x="71.5" y="434.1" width="2.6" height="2.6"/><rect x="73.9" y="433.2" width="2.6" height="2.6"/><rect x="76.2" y="432.4" width="2.6" height="2.6"/><rect x="78.6" y="431.5" width="2.6" height="2.6"/><rect x="80.9" y="430.6" width="2.6" height="2.6"/><rect x="83.2" y="429.7" width="2.6" height="2.6"/><rect x="85.6" y="428.7" width="2.6" height="2.6"/><rect x="87.9" y="427.7" width="2.6" height="2.6"/><rect x="90.3" y="426.8" width="2.6" height="2.6"/><rect x="92.6" y="426.0" width="2.6" height="2.6"/><rect x="94.9" y="425.3" width="2.6" height="2.6"/><rect x="97.3" y="424.7" width="2.6" height="2.6"/><rect x="99.6" y="424.3" width="2.6" height="2.6"/><rect x="102.0" y="424.0" width="2.6" height="2.6"/><rect x="104.3" y="424.0" width="2.6" height="2.6"/><rect x="106.6" y="424.0" width="2.6" height="2.6"/><rect x="109.0" y="424.2" width="2.6" height="2.6"/><rect x="111.3" y="424.4" width="2.6" height="2.6"/><rect x="113.7" y="424.7" width="2.6" height="2.6"/><rect x="116.0" y="425.1" width="2.6" height="2.6"/><rect x="118.3" y="425.6" width="2.6" height="2.6"/><rect x="120.7" y="426.9" width="2.6" height="2.6"/><rect x="123.0" y="429.1" width="2.6" height="2.6"/><rect x="125.4" y="432.4" width="2.6" height="2.6"/><rect x="127.7" y="440.0" width="2.6" height="2.6"/><rect x="130.0" y="447.2" width="2.6" height="2.6"/><rect x="132.4" y="452.9" width="2.6" height="2.6"/><rect x="134.7" y="458.0" width="2.6" height="2.6"/><rect x="137.1" y="462.6" width="2.6" height="2.6"/><rect x="139.4" y="466.4" width="2.6" height="2.6"/><rect x="141.7" y="470.2" width="2.6" height="2.6"/><rect x="144.1" y="475.9" width="2.6" height="2.6"/><rect x="146.4" y="481.3" width="2.6" height="2.6"/><rect x="148.8" y="486.1" width="2.6" height="2.6"/><rect x="151.1" y="489.3" width="2.6" height="2.6"/><rect x="153.4" y="492.0" width="2.6" height="2.6"/><rect x="155.8" y="494.3" width="2.6" height="2.6"/><rect x="158.1" y="496.6" width="2.6" height="2.6"/><rect x="160.5" y="498.7" width="2.6" height="2.6"/><rect x="162.8" y="500.7" width="2.6" height="2.6"/><rect x="165.1" y="502.8" width="2.6" height="2.6"/><rect x="167.5" y="505.2" width="2.6" height="2.6"/><rect x="169.8" y="507.9" width="2.6" height="2.6"/><rect x="172.2" y="510.6" width="2.6" height="2.6"/><rect x="174.5" y="513.3" width="2.6" height="2.6"/><rect x="176.8" y="516.2" width="2.6" height="2.6"/><rect x="179.2" y="518.7" width="2.6" height="2.6"/><rect x="181.5" y="520.5" width="2.6" height="2.6"/><rect x="183.9" y="522.0" width="2.6" height="2.6"/><rect x="186.2" y="524.3" width="2.6" height="2.6"/><rect x="188.5" y="527.3" width="2.6" height="2.6"/><rect x="190.9" y="531.2" width="2.6" height="2.6"/><rect x="193.2" y="537.3" width="2.6" height="2.6"/><rect x="195.6" y="545.5" width="2.6" height="2.6"/><rect x="197.9" y="550.9" width="2.6" height="2.6"/><rect x="200.2" y="554.5" width="2.6" height="2.6"/><rect x="202.6" y="556.9" width="2.6" height="2.6"/><rect x="204.9" y="557.4" width="2.6" height="2.6"/><rect x="207.3" y="557.0" width="2.6" height="2.6"/><rect x="209.6" y="554.8" width="2.6" height="2.6"/><rect x="211.9" y="551.6" width="2.6" height="2.6"/><rect x="214.3" y="547.0" width="2.6" height="2.6"/><rect x="216.6" y="539.1" width="2.6" height="2.6"/><rect x="219.0" y="533.5" width="2.6" height="2.6"/><rect x="221.3" y="529.9" width="2.6" height="2.6"/><rect x="223.6" y="527.1" width="2.6" height="2.6"/><rect x="226.0" y="524.2" width="2.6" height="2.6"/><rect x="228.3" y="521.4" width="2.6" height="2.6"/><rect x="230.7" y="518.7" width="2.6" height="2.6"/><rect x="233.0" y="516.2" width="2.6" height="2.6"/><rect x="235.3" y="513.7" width="2.6" height="2.6"/><rect x="237.7" y="511.3" width="2.6" height="2.6"/><rect x="240.0" y="509.0" width="2.6" height="2.6"/><rect x="242.4" y="506.7" width="2.6" height="2.6"/><rect x="244.7" y="504.4" width="2.6" height="2.6"/><rect x="247.0" y="502.1" width="2.6" height="2.6"/><rect x="249.4" y="499.8" width="2.6" height="2.6"/><rect x="251.7" y="497.4" width="2.6" height="2.6"/><rect x="254.1" y="494.8" width="2.6" height="2.6"/><rect x="256.4" y="492.2" width="2.6" height="2.6"/><rect x="258.7" y="489.3" width="2.6" height="2.6"/><rect x="261.1" y="485.9" width="2.6" height="2.6"/><rect x="263.4" y="482.6" width="2.6" height="2.6"/><rect x="265.8" y="480.1" width="2.6" height="2.6"/><rect x="268.1" y="476.4" width="2.6" height="2.6"/><rect x="270.4" y="471.4" width="2.6" height="2.6"/><rect x="272.8" y="466.1" width="2.6" height="2.6"/><rect x="275.1" y="460.7" width="2.6" height="2.6"/><rect x="277.5" y="455.0" width="2.6" height="2.6"/><rect x="279.8" y="449.5" width="2.6" height="2.6"/><rect x="282.1" y="444.3" width="2.6" height="2.6"/><rect x="284.5" y="438.9" width="2.6" height="2.6"/><rect x="286.8" y="432.7" width="2.6" height="2.6"/><rect x="289.2" y="430.5" width="2.6" height="2.6"/><rect x="291.5" y="429.3" width="2.6" height="2.6"/><rect x="293.8" y="428.6" width="2.6" height="2.6"/><rect x="296.2" y="427.9" width="2.6" height="2.6"/><rect x="298.5" y="427.4" width="2.6" height="2.6"/><rect x="300.9" y="427.1" width="2.6" height="2.6"/><rect x="303.2" y="427.0" width="2.6" height="2.6"/><rect x="305.5" y="427.1" width="2.6" height="2.6"/><rect x="307.9" y="427.3" width="2.6" height="2.6"/><rect x="310.2" y="427.7" width="2.6" height="2.6"/><rect x="312.6" y="428.1" width="2.6" height="2.6"/><rect x="314.9" y="428.5" width="2.6" height="2.6"/><rect x="317.2" y="429.1" width="2.6" height="2.6"/><rect x="319.6" y="429.6" width="2.6" height="2.6"/><rect x="321.9" y="430.1" width="2.6" height="2.6"/><rect x="324.3" y="430.7" width="2.6" height="2.6"/><rect x="326.6" y="431.4" width="2.6" height="2.6"/><rect x="328.9" y="432.1" width="2.6" height="2.6"/><rect x="331.3" y="432.9" width="2.6" height="2.6"/><rect x="333.6" y="433.9" width="2.6" height="2.6"/><rect x="336.0" y="434.8" width="2.6" height="2.6"/><rect x="338.3" y="435.8" width="2.6" height="2.6"/><rect x="340.6" y="436.9" width="2.6" height="2.6"/><rect x="343.0" y="438.0" width="2.6" height="2.6"/><rect x="345.3" y="439.1" width="2.6" height="2.6"/><rect x="347.7" y="440.3" width="2.6" height="2.6"/><rect x="350.0" y="441.4" width="2.6" height="2.6"/><rect x="352.3" y="442.6" width="2.6" height="2.6"/><rect x="354.7" y="443.7" width="2.6" height="2.6"/><rect x="357.0" y="444.8" width="2.6" height="2.6"/><rect x="359.4" y="445.9" width="2.6" height="2.6"/><rect x="361.7" y="446.9" width="2.6" height="2.6"/></g>
<path d="M47.1,455.7 L52.2,454.7 L54.5,454.4 L56.8,454.1 L59.2,453.8 L61.5,453.5 L63.9,453.3 L66.2,453.0 L68.5,452.8 L70.9,452.5 L73.2,452.3 L75.6,452.1 L77.9,452.0 L80.2,451.8 L82.6,451.7 L84.9,451.5 L87.3,451.4 L89.6,451.4 L91.9,451.3 L94.3,451.3 L96.6,451.3 L99.0,451.4 L101.3,451.6 L103.6,451.9 L106.0,452.2 L108.3,452.6 L110.7,453.1 L113.0,453.7 L115.3,454.5 L117.7,455.5 L120.0,456.4 L122.4,457.4 L124.7,458.4 L127.0,459.5 L129.4,460.8 L131.7,462.6 L134.1,465.0 L136.4,468.2 L138.8,472.8 L141.1,478.0 L143.4,484.1 L145.8,490.0 L148.1,494.5 L150.5,498.3 L152.8,501.6 L155.1,504.6 L157.5,507.3 L159.8,510.1 L162.2,512.7 L164.5,515.2 L166.8,517.4 L169.2,519.4 L171.5,521.3 L173.8,523.2 L176.2,524.9 L178.5,526.7 L180.9,528.3 L183.2,529.9 L185.5,531.6 L187.9,533.2 L190.2,534.8 L192.6,536.6 L194.9,538.6 L197.2,541.2 L199.6,545.7 L201.9,551.2 L204.3,554.4 L206.6,555.4 L208.9,555.0 L211.3,552.8 L213.6,547.0 L216.0,539.4 L218.3,534.8 L220.7,532.1 L223.0,530.1 L225.3,528.5 L227.7,527.2 L230.0,526.1 L232.3,525.2 L234.7,524.3 L237.0,523.4 L239.4,522.3 L241.7,520.9 L244.0,519.2 L246.4,517.0 L248.7,514.7 L251.1,512.3 L253.4,509.9 L255.8,507.3 L258.1,504.4 L260.4,501.2 L262.8,497.6 L265.1,494.0 L267.4,490.2 L269.8,485.5 L272.1,479.6 L274.5,474.5 L276.8,469.6 L279.1,465.2 L281.5,461.4 L283.8,457.9 L286.2,455.4 L288.5,453.7 L290.9,452.2 L293.2,451.1 L295.5,450.2 L297.9,449.5 L300.2,448.9 L302.6,448.3 L304.9,447.9 L307.2,447.7 L309.6,447.7 L311.9,447.7 L314.3,447.7 L316.6,447.7 L318.9,447.7 L321.3,447.7 L323.6,447.7 L326.0,447.7 L328.3,447.7 L330.6,447.7 L333.0,447.7 L335.3,447.7 L337.7,447.9 L340.0,448.0 L342.3,448.3 L344.7,448.5 L347.0,448.8 L349.4,449.2 L351.7,449.6 L354.0,449.9 L356.4,450.4 L358.7,450.8 L361.1,451.2 L363.4,451.6 L368.5,452.8" fill="none" stroke="#1616da" stroke-width="2.0"/>
<path fill="#1616da" d="M45.3,453.9h3.6v3.6h-3.6zM50.4,452.9h3.6v3.6h-3.6zM52.7,452.6h3.6v3.6h-3.6zM55.0,452.3h3.6v3.6h-3.6zM57.4,452.0h3.6v3.6h-3.6zM59.7,451.7h3.6v3.6h-3.6zM62.1,451.5h3.6v3.6h-3.6zM64.4,451.2h3.6v3.6h-3.6zM66.7,451.0h3.6v3.6h-3.6zM69.1,450.7h3.6v3.6h-3.6zM71.4,450.5h3.6v3.6h-3.6zM73.8,450.3h3.6v3.6h-3.6zM76.1,450.2h3.6v3.6h-3.6zM78.4,450.0h3.6v3.6h-3.6zM80.8,449.9h3.6v3.6h-3.6zM83.1,449.7h3.6v3.6h-3.6zM85.5,449.6h3.6v3.6h-3.6zM87.8,449.6h3.6v3.6h-3.6zM90.1,449.5h3.6v3.6h-3.6zM92.5,449.5h3.6v3.6h-3.6zM94.8,449.5h3.6v3.6h-3.6zM97.2,449.6h3.6v3.6h-3.6zM99.5,449.8h3.6v3.6h-3.6zM101.8,450.1h3.6v3.6h-3.6zM104.2,450.4h3.6v3.6h-3.6zM106.5,450.8h3.6v3.6h-3.6zM108.9,451.3h3.6v3.6h-3.6zM111.2,451.9h3.6v3.6h-3.6zM113.5,452.7h3.6v3.6h-3.6zM115.9,453.7h3.6v3.6h-3.6zM118.2,454.6h3.6v3.6h-3.6zM120.6,455.6h3.6v3.6h-3.6zM122.9,456.6h3.6v3.6h-3.6zM125.2,457.7h3.6v3.6h-3.6zM127.6,459.0h3.6v3.6h-3.6zM129.9,460.8h3.6v3.6h-3.6zM132.3,463.2h3.6v3.6h-3.6zM134.6,466.4h3.6v3.6h-3.6zM136.9,471.0h3.6v3.6h-3.6zM139.3,476.2h3.6v3.6h-3.6zM141.6,482.3h3.6v3.6h-3.6zM144.0,488.2h3.6v3.6h-3.6zM146.3,492.7h3.6v3.6h-3.6zM148.7,496.5h3.6v3.6h-3.6zM151.0,499.8h3.6v3.6h-3.6zM153.3,502.8h3.6v3.6h-3.6zM155.7,505.5h3.6v3.6h-3.6zM158.0,508.3h3.6v3.6h-3.6zM160.3,510.9h3.6v3.6h-3.6zM162.7,513.4h3.6v3.6h-3.6zM165.0,515.6h3.6v3.6h-3.6zM167.4,517.6h3.6v3.6h-3.6zM169.7,519.5h3.6v3.6h-3.6zM172.0,521.4h3.6v3.6h-3.6zM174.4,523.1h3.6v3.6h-3.6zM176.7,524.9h3.6v3.6h-3.6zM179.1,526.5h3.6v3.6h-3.6zM181.4,528.1h3.6v3.6h-3.6zM183.7,529.8h3.6v3.6h-3.6zM186.1,531.4h3.6v3.6h-3.6zM188.4,533.0h3.6v3.6h-3.6zM190.8,534.8h3.6v3.6h-3.6zM193.1,536.8h3.6v3.6h-3.6zM195.4,539.4h3.6v3.6h-3.6zM197.8,543.9h3.6v3.6h-3.6zM200.1,549.4h3.6v3.6h-3.6zM202.5,552.6h3.6v3.6h-3.6zM204.8,553.6h3.6v3.6h-3.6zM207.1,553.2h3.6v3.6h-3.6zM209.5,551.0h3.6v3.6h-3.6zM211.8,545.2h3.6v3.6h-3.6zM214.2,537.6h3.6v3.6h-3.6zM216.5,533.0h3.6v3.6h-3.6zM218.8,530.3h3.6v3.6h-3.6zM221.2,528.3h3.6v3.6h-3.6zM223.5,526.7h3.6v3.6h-3.6zM225.9,525.4h3.6v3.6h-3.6zM228.2,524.3h3.6v3.6h-3.6zM230.5,523.4h3.6v3.6h-3.6zM232.9,522.5h3.6v3.6h-3.6zM235.2,521.6h3.6v3.6h-3.6zM237.6,520.5h3.6v3.6h-3.6zM239.9,519.1h3.6v3.6h-3.6zM242.2,517.4h3.6v3.6h-3.6zM244.6,515.2h3.6v3.6h-3.6zM246.9,512.9h3.6v3.6h-3.6zM249.3,510.5h3.6v3.6h-3.6zM251.6,508.1h3.6v3.6h-3.6zM253.9,505.5h3.6v3.6h-3.6zM256.3,502.6h3.6v3.6h-3.6zM258.6,499.4h3.6v3.6h-3.6zM261.0,495.8h3.6v3.6h-3.6zM263.3,492.2h3.6v3.6h-3.6zM265.6,488.4h3.6v3.6h-3.6zM268.0,483.7h3.6v3.6h-3.6zM270.3,477.8h3.6v3.6h-3.6zM272.7,472.7h3.6v3.6h-3.6zM275.0,467.8h3.6v3.6h-3.6zM277.3,463.4h3.6v3.6h-3.6zM279.7,459.6h3.6v3.6h-3.6zM282.0,456.1h3.6v3.6h-3.6zM284.4,453.6h3.6v3.6h-3.6zM286.7,451.9h3.6v3.6h-3.6zM289.1,450.4h3.6v3.6h-3.6zM291.4,449.3h3.6v3.6h-3.6zM293.7,448.4h3.6v3.6h-3.6zM296.1,447.7h3.6v3.6h-3.6zM298.4,447.1h3.6v3.6h-3.6zM300.8,446.5h3.6v3.6h-3.6zM303.1,446.1h3.6v3.6h-3.6zM305.4,445.9h3.6v3.6h-3.6zM307.8,445.9h3.6v3.6h-3.6zM310.1,445.9h3.6v3.6h-3.6zM312.5,445.9h3.6v3.6h-3.6zM314.8,445.9h3.6v3.6h-3.6zM317.1,445.9h3.6v3.6h-3.6zM319.5,445.9h3.6v3.6h-3.6zM321.8,445.9h3.6v3.6h-3.6zM324.2,445.9h3.6v3.6h-3.6zM326.5,445.9h3.6v3.6h-3.6zM328.8,445.9h3.6v3.6h-3.6zM331.2,445.9h3.6v3.6h-3.6zM333.5,445.9h3.6v3.6h-3.6zM335.9,446.1h3.6v3.6h-3.6zM338.2,446.2h3.6v3.6h-3.6zM340.5,446.5h3.6v3.6h-3.6zM342.9,446.7h3.6v3.6h-3.6zM345.2,447.0h3.6v3.6h-3.6zM347.6,447.4h3.6v3.6h-3.6zM349.9,447.8h3.6v3.6h-3.6zM352.2,448.1h3.6v3.6h-3.6zM354.6,448.6h3.6v3.6h-3.6zM356.9,449.0h3.6v3.6h-3.6zM359.3,449.4h3.6v3.6h-3.6zM361.6,449.8h3.6v3.6h-3.6zM366.7,451.0h3.6v3.6h-3.6z"/>
<g fill="#fff" stroke="#1616da" stroke-width="1.0"><rect x="48.1" y="450.5" width="2.6" height="2.6"/><rect x="50.5" y="450.2" width="2.6" height="2.6"/><rect x="52.8" y="449.9" width="2.6" height="2.6"/><rect x="55.2" y="449.6" width="2.6" height="2.6"/><rect x="57.5" y="449.3" width="2.6" height="2.6"/><rect x="59.8" y="449.0" width="2.6" height="2.6"/><rect x="62.2" y="448.8" width="2.6" height="2.6"/><rect x="64.5" y="448.5" width="2.6" height="2.6"/><rect x="66.9" y="448.3" width="2.6" height="2.6"/><rect x="69.2" y="448.1" width="2.6" height="2.6"/><rect x="71.5" y="447.9" width="2.6" height="2.6"/><rect x="73.9" y="447.7" width="2.6" height="2.6"/><rect x="76.2" y="447.5" width="2.6" height="2.6"/><rect x="78.6" y="447.4" width="2.6" height="2.6"/><rect x="80.9" y="447.2" width="2.6" height="2.6"/><rect x="83.2" y="447.1" width="2.6" height="2.6"/><rect x="85.6" y="447.0" width="2.6" height="2.6"/><rect x="87.9" y="447.0" width="2.6" height="2.6"/><rect x="90.3" y="446.9" width="2.6" height="2.6"/><rect x="92.6" y="446.9" width="2.6" height="2.6"/><rect x="94.9" y="447.0" width="2.6" height="2.6"/><rect x="97.3" y="447.1" width="2.6" height="2.6"/><rect x="99.6" y="447.4" width="2.6" height="2.6"/><rect x="102.0" y="447.7" width="2.6" height="2.6"/><rect x="104.3" y="448.1" width="2.6" height="2.6"/><rect x="106.6" y="448.4" width="2.6" height="2.6"/><rect x="109.0" y="449.0" width="2.6" height="2.6"/><rect x="111.3" y="449.7" width="2.6" height="2.6"/><rect x="113.7" y="450.6" width="2.6" height="2.6"/><rect x="116.0" y="451.6" width="2.6" height="2.6"/><rect x="118.3" y="452.6" width="2.6" height="2.6"/><rect x="120.7" y="453.5" width="2.6" height="2.6"/><rect x="123.0" y="454.6" width="2.6" height="2.6"/><rect x="125.4" y="455.8" width="2.6" height="2.6"/><rect x="127.7" y="457.3" width="2.6" height="2.6"/><rect x="130.0" y="459.4" width="2.6" height="2.6"/><rect x="132.4" y="462.1" width="2.6" height="2.6"/><rect x="134.7" y="466.0" width="2.6" height="2.6"/><rect x="137.1" y="470.9" width="2.6" height="2.6"/><rect x="139.4" y="476.6" width="2.6" height="2.6"/><rect x="141.7" y="482.8" width="2.6" height="2.6"/><rect x="144.1" y="488.0" width="2.6" height="2.6"/><rect x="146.4" y="492.1" width="2.6" height="2.6"/><rect x="148.8" y="495.7" width="2.6" height="2.6"/><rect x="151.1" y="498.8" width="2.6" height="2.6"/><rect x="153.4" y="501.6" width="2.6" height="2.6"/><rect x="155.8" y="504.3" width="2.6" height="2.6"/><rect x="158.1" y="507.1" width="2.6" height="2.6"/><rect x="160.5" y="509.7" width="2.6" height="2.6"/><rect x="162.8" y="512.0" width="2.6" height="2.6"/><rect x="165.1" y="514.1" width="2.6" height="2.6"/><rect x="167.5" y="516.1" width="2.6" height="2.6"/><rect x="169.8" y="517.9" width="2.6" height="2.6"/><rect x="172.2" y="519.7" width="2.6" height="2.6"/><rect x="174.5" y="521.5" width="2.6" height="2.6"/><rect x="176.8" y="523.2" width="2.6" height="2.6"/><rect x="179.2" y="524.8" width="2.6" height="2.6"/><rect x="181.5" y="526.5" width="2.6" height="2.6"/><rect x="183.9" y="528.2" width="2.6" height="2.6"/><rect x="186.2" y="529.9" width="2.6" height="2.6"/><rect x="188.5" y="531.7" width="2.6" height="2.6"/><rect x="190.9" y="533.8" width="2.6" height="2.6"/><rect x="193.2" y="536.2" width="2.6" height="2.6"/><rect x="195.6" y="539.6" width="2.6" height="2.6"/><rect x="197.9" y="545.7" width="2.6" height="2.6"/><rect x="200.2" y="550.8" width="2.6" height="2.6"/><rect x="202.6" y="553.3" width="2.6" height="2.6"/><rect x="204.9" y="554.0" width="2.6" height="2.6"/><rect x="207.3" y="553.4" width="2.6" height="2.6"/><rect x="209.6" y="550.4" width="2.6" height="2.6"/><rect x="211.9" y="543.2" width="2.6" height="2.6"/><rect x="214.3" y="537.5" width="2.6" height="2.6"/><rect x="216.6" y="534.4" width="2.6" height="2.6"/><rect x="219.0" y="532.3" width="2.6" height="2.6"/><rect x="221.3" y="530.7" width="2.6" height="2.6"/><rect x="223.6" y="529.4" width="2.6" height="2.6"/><rect x="226.0" y="528.3" width="2.6" height="2.6"/><rect x="228.3" y="527.3" width="2.6" height="2.6"/><rect x="230.7" y="526.5" width="2.6" height="2.6"/><rect x="233.0" y="525.6" width="2.6" height="2.6"/><rect x="235.3" y="524.6" width="2.6" height="2.6"/><rect x="237.7" y="523.4" width="2.6" height="2.6"/><rect x="240.0" y="521.8" width="2.6" height="2.6"/><rect x="242.4" y="519.9" width="2.6" height="2.6"/><rect x="244.7" y="517.6" width="2.6" height="2.6"/><rect x="247.0" y="515.2" width="2.6" height="2.6"/><rect x="249.4" y="512.9" width="2.6" height="2.6"/><rect x="251.7" y="510.4" width="2.6" height="2.6"/><rect x="254.1" y="507.7" width="2.6" height="2.6"/><rect x="256.4" y="504.6" width="2.6" height="2.6"/><rect x="258.7" y="501.2" width="2.6" height="2.6"/><rect x="261.1" y="497.6" width="2.6" height="2.6"/><rect x="263.4" y="494.0" width="2.6" height="2.6"/><rect x="265.8" y="489.8" width="2.6" height="2.6"/><rect x="268.1" y="484.3" width="2.6" height="2.6"/><rect x="270.4" y="478.8" width="2.6" height="2.6"/><rect x="272.8" y="473.7" width="2.6" height="2.6"/><rect x="275.1" y="469.1" width="2.6" height="2.6"/><rect x="277.5" y="465.1" width="2.6" height="2.6"/><rect x="279.8" y="461.3" width="2.6" height="2.6"/><rect x="282.1" y="458.3" width="2.6" height="2.6"/><rect x="284.5" y="456.3" width="2.6" height="2.6"/><rect x="286.8" y="454.7" width="2.6" height="2.6"/><rect x="289.2" y="453.4" width="2.6" height="2.6"/><rect x="291.5" y="452.4" width="2.6" height="2.6"/><rect x="293.8" y="451.6" width="2.6" height="2.6"/><rect x="296.2" y="451.0" width="2.6" height="2.6"/><rect x="298.5" y="450.4" width="2.6" height="2.6"/><rect x="300.9" y="449.9" width="2.6" height="2.6"/><rect x="303.2" y="449.6" width="2.6" height="2.6"/><rect x="305.5" y="449.4" width="2.6" height="2.6"/><rect x="307.9" y="449.4" width="2.6" height="2.6"/><rect x="310.2" y="449.4" width="2.6" height="2.6"/><rect x="312.6" y="449.4" width="2.6" height="2.6"/><rect x="314.9" y="449.4" width="2.6" height="2.6"/><rect x="317.2" y="449.4" width="2.6" height="2.6"/><rect x="319.6" y="449.4" width="2.6" height="2.6"/><rect x="321.9" y="449.4" width="2.6" height="2.6"/><rect x="324.3" y="449.4" width="2.6" height="2.6"/><rect x="326.6" y="449.4" width="2.6" height="2.6"/><rect x="328.9" y="449.4" width="2.6" height="2.6"/><rect x="331.3" y="449.5" width="2.6" height="2.6"/><rect x="333.6" y="449.6" width="2.6" height="2.6"/><rect x="336.0" y="449.7" width="2.6" height="2.6"/><rect x="338.3" y="449.9" width="2.6" height="2.6"/><rect x="340.6" y="450.2" width="2.6" height="2.6"/><rect x="343.0" y="450.4" width="2.6" height="2.6"/><rect x="345.3" y="450.8" width="2.6" height="2.6"/><rect x="347.7" y="451.1" width="2.6" height="2.6"/><rect x="350.0" y="451.5" width="2.6" height="2.6"/><rect x="352.3" y="451.9" width="2.6" height="2.6"/><rect x="354.7" y="452.3" width="2.6" height="2.6"/><rect x="357.0" y="452.8" width="2.6" height="2.6"/><rect x="359.4" y="453.2" width="2.6" height="2.6"/><rect x="361.7" y="453.6" width="2.6" height="2.6"/></g>
<path d="M47.1,409.8 L52.2,404.5 L54.5,402.1 L56.8,399.7 L59.2,397.3 L61.5,394.8 L63.9,392.4 L66.2,389.9 L68.5,387.5 L70.9,384.9 L73.2,382.4 L75.6,379.8 L77.9,377.2 L80.2,374.4 L82.6,371.7 L84.9,368.9 L87.3,366.2 L89.6,363.5 L91.9,360.8 L94.3,358.3 L96.6,355.8 L99.0,353.5 L101.3,351.2 L103.6,348.9 L106.0,346.7 L108.3,344.5 L110.7,342.4 L113.0,340.4 L115.3,338.3 L117.7,336.4 L120.0,334.5 L122.4,332.5 L124.7,330.6 L127.0,328.7 L129.4,326.9 L131.7,325.1 L134.1,323.5 L136.4,322.0 L138.8,320.8 L141.1,319.6 L143.4,318.3 L145.8,317.3 L148.1,316.5 L150.5,316.2 L152.8,316.7 L155.1,318.1 L157.5,320.0 L159.8,322.0 L162.2,324.4 L164.5,327.7 L166.8,332.7 L169.2,341.0 L171.5,351.5 L173.8,362.7 L176.2,371.6 L178.5,379.1 L180.9,386.1 L183.2,392.9 L185.5,399.1 L187.9,404.8 L190.2,409.3 L192.6,412.2 L194.9,414.4 L197.2,416.9 L199.6,420.4 L201.9,425.6 L204.3,431.7 L206.6,436.6 L208.9,436.4 L211.3,433.0 L213.6,425.6 L216.0,420.9 L218.3,417.4 L220.7,414.0 L223.0,410.5 L225.3,406.5 L227.7,401.5 L230.0,395.8 L232.3,389.8 L234.7,383.2 L237.0,376.4 L239.4,369.7 L241.7,360.8 L244.0,345.2 L246.4,336.7 L248.7,330.2 L251.1,324.7 L253.4,320.9 L255.8,317.7 L258.1,315.8 L260.4,315.2 L262.8,314.8 L265.1,314.7 L267.4,314.9 L269.8,315.5 L272.1,316.4 L274.5,317.6 L276.8,318.9 L279.1,320.4 L281.5,322.0 L283.8,323.8 L286.2,325.7 L288.5,327.7 L290.9,329.8 L293.2,331.9 L295.5,333.9 L297.9,335.9 L300.2,337.9 L302.6,339.9 L304.9,342.0 L307.2,344.1 L309.6,346.2 L311.9,348.4 L314.3,350.7 L316.6,353.0 L318.9,355.3 L321.3,357.7 L323.6,360.1 L326.0,362.5 L328.3,364.9 L330.6,367.2 L333.0,369.5 L335.3,371.8 L337.7,374.1 L340.0,376.4 L342.3,378.7 L344.7,381.0 L347.0,383.5 L349.4,386.0 L351.7,388.5 L354.0,391.2 L356.4,393.8 L358.7,396.5 L361.1,399.1 L363.4,401.7 L368.5,407.2" fill="none" stroke="#127b7b" stroke-width="2.0"/>
<path fill="#127b7b" d="M45.3,408.0h3.6v3.6h-3.6zM50.4,402.7h3.6v3.6h-3.6zM52.7,400.3h3.6v3.6h-3.6zM55.0,397.9h3.6v3.6h-3.6zM57.4,395.5h3.6v3.6h-3.6zM59.7,393.0h3.6v3.6h-3.6zM62.1,390.6h3.6v3.6h-3.6zM64.4,388.1h3.6v3.6h-3.6zM66.7,385.7h3.6v3.6h-3.6zM69.1,383.1h3.6v3.6h-3.6zM71.4,380.6h3.6v3.6h-3.6zM73.8,378.0h3.6v3.6h-3.6zM76.1,375.4h3.6v3.6h-3.6zM78.4,372.6h3.6v3.6h-3.6zM80.8,369.9h3.6v3.6h-3.6zM83.1,367.1h3.6v3.6h-3.6zM85.5,364.4h3.6v3.6h-3.6zM87.8,361.7h3.6v3.6h-3.6zM90.1,359.0h3.6v3.6h-3.6zM92.5,356.5h3.6v3.6h-3.6zM94.8,354.0h3.6v3.6h-3.6zM97.2,351.7h3.6v3.6h-3.6zM99.5,349.4h3.6v3.6h-3.6zM101.8,347.1h3.6v3.6h-3.6zM104.2,344.9h3.6v3.6h-3.6zM106.5,342.7h3.6v3.6h-3.6zM108.9,340.6h3.6v3.6h-3.6zM111.2,338.6h3.6v3.6h-3.6zM113.5,336.5h3.6v3.6h-3.6zM115.9,334.6h3.6v3.6h-3.6zM118.2,332.7h3.6v3.6h-3.6zM120.6,330.7h3.6v3.6h-3.6zM122.9,328.8h3.6v3.6h-3.6zM125.2,326.9h3.6v3.6h-3.6zM127.6,325.1h3.6v3.6h-3.6zM129.9,323.3h3.6v3.6h-3.6zM132.3,321.7h3.6v3.6h-3.6zM134.6,320.2h3.6v3.6h-3.6zM136.9,319.0h3.6v3.6h-3.6zM139.3,317.8h3.6v3.6h-3.6zM141.6,316.5h3.6v3.6h-3.6zM144.0,315.5h3.6v3.6h-3.6zM146.3,314.7h3.6v3.6h-3.6zM148.7,314.4h3.6v3.6h-3.6zM151.0,314.9h3.6v3.6h-3.6zM153.3,316.3h3.6v3.6h-3.6zM155.7,318.2h3.6v3.6h-3.6zM158.0,320.2h3.6v3.6h-3.6zM160.3,322.6h3.6v3.6h-3.6zM162.7,325.9h3.6v3.6h-3.6zM165.0,330.9h3.6v3.6h-3.6zM167.4,339.2h3.6v3.6h-3.6zM169.7,349.7h3.6v3.6h-3.6zM172.0,360.9h3.6v3.6h-3.6zM174.4,369.8h3.6v3.6h-3.6zM176.7,377.3h3.6v3.6h-3.6zM179.1,384.3h3.6v3.6h-3.6zM181.4,391.1h3.6v3.6h-3.6zM183.7,397.3h3.6v3.6h-3.6zM186.1,403.0h3.6v3.6h-3.6zM188.4,407.5h3.6v3.6h-3.6zM190.8,410.4h3.6v3.6h-3.6zM193.1,412.6h3.6v3.6h-3.6zM195.4,415.1h3.6v3.6h-3.6zM197.8,418.6h3.6v3.6h-3.6zM200.1,423.8h3.6v3.6h-3.6zM202.5,429.9h3.6v3.6h-3.6zM204.8,434.8h3.6v3.6h-3.6zM207.1,434.6h3.6v3.6h-3.6zM209.5,431.2h3.6v3.6h-3.6zM211.8,423.8h3.6v3.6h-3.6zM214.2,419.1h3.6v3.6h-3.6zM216.5,415.6h3.6v3.6h-3.6zM218.8,412.2h3.6v3.6h-3.6zM221.2,408.7h3.6v3.6h-3.6zM223.5,404.7h3.6v3.6h-3.6zM225.9,399.7h3.6v3.6h-3.6zM228.2,394.0h3.6v3.6h-3.6zM230.5,388.0h3.6v3.6h-3.6zM232.9,381.4h3.6v3.6h-3.6zM235.2,374.6h3.6v3.6h-3.6zM237.6,367.9h3.6v3.6h-3.6zM239.9,359.0h3.6v3.6h-3.6zM242.2,343.4h3.6v3.6h-3.6zM244.6,334.9h3.6v3.6h-3.6zM246.9,328.4h3.6v3.6h-3.6zM249.3,322.9h3.6v3.6h-3.6zM251.6,319.1h3.6v3.6h-3.6zM253.9,315.9h3.6v3.6h-3.6zM256.3,314.0h3.6v3.6h-3.6zM258.6,313.4h3.6v3.6h-3.6zM261.0,313.0h3.6v3.6h-3.6zM263.3,312.9h3.6v3.6h-3.6zM265.6,313.1h3.6v3.6h-3.6zM268.0,313.7h3.6v3.6h-3.6zM270.3,314.6h3.6v3.6h-3.6zM272.7,315.8h3.6v3.6h-3.6zM275.0,317.1h3.6v3.6h-3.6zM277.3,318.6h3.6v3.6h-3.6zM279.7,320.2h3.6v3.6h-3.6zM282.0,322.0h3.6v3.6h-3.6zM284.4,323.9h3.6v3.6h-3.6zM286.7,325.9h3.6v3.6h-3.6zM289.1,328.0h3.6v3.6h-3.6zM291.4,330.1h3.6v3.6h-3.6zM293.7,332.1h3.6v3.6h-3.6zM296.1,334.1h3.6v3.6h-3.6zM298.4,336.1h3.6v3.6h-3.6zM300.8,338.1h3.6v3.6h-3.6zM303.1,340.2h3.6v3.6h-3.6zM305.4,342.3h3.6v3.6h-3.6zM307.8,344.4h3.6v3.6h-3.6zM310.1,346.6h3.6v3.6h-3.6zM312.5,348.9h3.6v3.6h-3.6zM314.8,351.2h3.6v3.6h-3.6zM317.1,353.5h3.6v3.6h-3.6zM319.5,355.9h3.6v3.6h-3.6zM321.8,358.3h3.6v3.6h-3.6zM324.2,360.7h3.6v3.6h-3.6zM326.5,363.1h3.6v3.6h-3.6zM328.8,365.4h3.6v3.6h-3.6zM331.2,367.7h3.6v3.6h-3.6zM333.5,370.0h3.6v3.6h-3.6zM335.9,372.3h3.6v3.6h-3.6zM338.2,374.6h3.6v3.6h-3.6zM340.5,376.9h3.6v3.6h-3.6zM342.9,379.2h3.6v3.6h-3.6zM345.2,381.7h3.6v3.6h-3.6zM347.6,384.2h3.6v3.6h-3.6zM349.9,386.7h3.6v3.6h-3.6zM352.2,389.4h3.6v3.6h-3.6zM354.6,392.0h3.6v3.6h-3.6zM356.9,394.7h3.6v3.6h-3.6zM359.3,397.3h3.6v3.6h-3.6zM361.6,399.9h3.6v3.6h-3.6zM366.7,405.4h3.6v3.6h-3.6z"/>
<g fill="#fff" stroke="#127b7b" stroke-width="1.0"><rect x="48.1" y="402.9" width="2.6" height="2.6"/><rect x="50.5" y="400.5" width="2.6" height="2.6"/><rect x="52.8" y="398.1" width="2.6" height="2.6"/><rect x="55.2" y="395.7" width="2.6" height="2.6"/><rect x="57.5" y="393.2" width="2.6" height="2.6"/><rect x="59.8" y="390.8" width="2.6" height="2.6"/><rect x="62.2" y="388.3" width="2.6" height="2.6"/><rect x="64.5" y="385.9" width="2.6" height="2.6"/><rect x="66.9" y="383.4" width="2.6" height="2.6"/><rect x="69.2" y="380.9" width="2.6" height="2.6"/><rect x="71.5" y="378.3" width="2.6" height="2.6"/><rect x="73.9" y="375.7" width="2.6" height="2.6"/><rect x="76.2" y="373.0" width="2.6" height="2.6"/><rect x="78.6" y="370.2" width="2.6" height="2.6"/><rect x="80.9" y="367.5" width="2.6" height="2.6"/><rect x="83.2" y="364.7" width="2.6" height="2.6"/><rect x="85.6" y="362.0" width="2.6" height="2.6"/><rect x="87.9" y="359.3" width="2.6" height="2.6"/><rect x="90.3" y="356.7" width="2.6" height="2.6"/><rect x="92.6" y="354.2" width="2.6" height="2.6"/><rect x="94.9" y="351.8" width="2.6" height="2.6"/><rect x="97.3" y="349.5" width="2.6" height="2.6"/><rect x="99.6" y="347.2" width="2.6" height="2.6"/><rect x="102.0" y="345.0" width="2.6" height="2.6"/><rect x="104.3" y="342.8" width="2.6" height="2.6"/><rect x="106.6" y="340.6" width="2.6" height="2.6"/><rect x="109.0" y="338.6" width="2.6" height="2.6"/><rect x="111.3" y="336.5" width="2.6" height="2.6"/><rect x="113.7" y="334.5" width="2.6" height="2.6"/><rect x="116.0" y="332.6" width="2.6" height="2.6"/><rect x="118.3" y="330.7" width="2.6" height="2.6"/><rect x="120.7" y="328.7" width="2.6" height="2.6"/><rect x="123.0" y="326.8" width="2.6" height="2.6"/><rect x="125.4" y="324.9" width="2.6" height="2.6"/><rect x="127.7" y="323.1" width="2.6" height="2.6"/><rect x="130.0" y="321.5" width="2.6" height="2.6"/><rect x="132.4" y="319.9" width="2.6" height="2.6"/><rect x="134.7" y="318.6" width="2.6" height="2.6"/><rect x="137.1" y="317.4" width="2.6" height="2.6"/><rect x="139.4" y="316.1" width="2.6" height="2.6"/><rect x="141.7" y="315.0" width="2.6" height="2.6"/><rect x="144.1" y="314.0" width="2.6" height="2.6"/><rect x="146.4" y="313.5" width="2.6" height="2.6"/><rect x="148.8" y="313.5" width="2.6" height="2.6"/><rect x="151.1" y="314.5" width="2.6" height="2.6"/><rect x="153.4" y="316.2" width="2.6" height="2.6"/><rect x="155.8" y="318.2" width="2.6" height="2.6"/><rect x="158.1" y="320.3" width="2.6" height="2.6"/><rect x="160.5" y="323.1" width="2.6" height="2.6"/><rect x="162.8" y="326.9" width="2.6" height="2.6"/><rect x="165.1" y="333.8" width="2.6" height="2.6"/><rect x="167.5" y="343.0" width="2.6" height="2.6"/><rect x="169.8" y="354.3" width="2.6" height="2.6"/><rect x="172.2" y="364.7" width="2.6" height="2.6"/><rect x="174.5" y="372.6" width="2.6" height="2.6"/><rect x="176.8" y="379.9" width="2.6" height="2.6"/><rect x="179.2" y="386.7" width="2.6" height="2.6"/><rect x="181.5" y="393.4" width="2.6" height="2.6"/><rect x="183.9" y="399.3" width="2.6" height="2.6"/><rect x="186.2" y="404.5" width="2.6" height="2.6"/><rect x="188.5" y="408.2" width="2.6" height="2.6"/><rect x="190.9" y="410.8" width="2.6" height="2.6"/><rect x="193.2" y="413.1" width="2.6" height="2.6"/><rect x="195.6" y="416.1" width="2.6" height="2.6"/><rect x="197.9" y="420.7" width="2.6" height="2.6"/><rect x="200.2" y="426.5" width="2.6" height="2.6"/><rect x="202.6" y="433.6" width="2.6" height="2.6"/><rect x="204.9" y="435.7" width="2.6" height="2.6"/><rect x="207.3" y="434.1" width="2.6" height="2.6"/><rect x="209.6" y="428.7" width="2.6" height="2.6"/><rect x="211.9" y="422.4" width="2.6" height="2.6"/><rect x="214.3" y="418.8" width="2.6" height="2.6"/><rect x="216.6" y="415.7" width="2.6" height="2.6"/><rect x="219.0" y="412.2" width="2.6" height="2.6"/><rect x="221.3" y="408.6" width="2.6" height="2.6"/><rect x="223.6" y="404.2" width="2.6" height="2.6"/><rect x="226.0" y="398.8" width="2.6" height="2.6"/><rect x="228.3" y="393.0" width="2.6" height="2.6"/><rect x="230.7" y="386.8" width="2.6" height="2.6"/><rect x="233.0" y="380.0" width="2.6" height="2.6"/><rect x="235.3" y="373.2" width="2.6" height="2.6"/><rect x="237.7" y="366.1" width="2.6" height="2.6"/><rect x="240.0" y="352.7" width="2.6" height="2.6"/><rect x="242.4" y="340.8" width="2.6" height="2.6"/><rect x="244.7" y="333.6" width="2.6" height="2.6"/><rect x="247.0" y="327.5" width="2.6" height="2.6"/><rect x="249.4" y="323.0" width="2.6" height="2.6"/><rect x="251.7" y="319.5" width="2.6" height="2.6"/><rect x="254.1" y="316.8" width="2.6" height="2.6"/><rect x="256.4" y="315.6" width="2.6" height="2.6"/><rect x="258.7" y="315.2" width="2.6" height="2.6"/><rect x="261.1" y="314.9" width="2.6" height="2.6"/><rect x="263.4" y="315.0" width="2.6" height="2.6"/><rect x="265.8" y="315.5" width="2.6" height="2.6"/><rect x="268.1" y="316.1" width="2.6" height="2.6"/><rect x="270.4" y="317.2" width="2.6" height="2.6"/><rect x="272.8" y="318.5" width="2.6" height="2.6"/><rect x="275.1" y="319.9" width="2.6" height="2.6"/><rect x="277.5" y="321.4" width="2.6" height="2.6"/><rect x="279.8" y="323.1" width="2.6" height="2.6"/><rect x="282.1" y="325.0" width="2.6" height="2.6"/><rect x="284.5" y="326.9" width="2.6" height="2.6"/><rect x="286.8" y="329.0" width="2.6" height="2.6"/><rect x="289.2" y="331.1" width="2.6" height="2.6"/><rect x="291.5" y="333.1" width="2.6" height="2.6"/><rect x="293.8" y="335.1" width="2.6" height="2.6"/><rect x="296.2" y="337.1" width="2.6" height="2.6"/><rect x="298.5" y="339.1" width="2.6" height="2.6"/><rect x="300.9" y="341.2" width="2.6" height="2.6"/><rect x="303.2" y="343.3" width="2.6" height="2.6"/><rect x="305.5" y="345.4" width="2.6" height="2.6"/><rect x="307.9" y="347.6" width="2.6" height="2.6"/><rect x="310.2" y="349.8" width="2.6" height="2.6"/><rect x="312.6" y="352.0" width="2.6" height="2.6"/><rect x="314.9" y="354.4" width="2.6" height="2.6"/><rect x="317.2" y="356.7" width="2.6" height="2.6"/><rect x="319.6" y="359.1" width="2.6" height="2.6"/><rect x="321.9" y="361.5" width="2.6" height="2.6"/><rect x="324.3" y="363.9" width="2.6" height="2.6"/><rect x="326.6" y="366.3" width="2.6" height="2.6"/><rect x="328.9" y="368.6" width="2.6" height="2.6"/><rect x="331.3" y="370.9" width="2.6" height="2.6"/><rect x="333.6" y="373.2" width="2.6" height="2.6"/><rect x="336.0" y="375.5" width="2.6" height="2.6"/><rect x="338.3" y="377.8" width="2.6" height="2.6"/><rect x="340.6" y="380.1" width="2.6" height="2.6"/><rect x="343.0" y="382.5" width="2.6" height="2.6"/><rect x="345.3" y="384.9" width="2.6" height="2.6"/><rect x="347.7" y="387.5" width="2.6" height="2.6"/><rect x="350.0" y="390.1" width="2.6" height="2.6"/><rect x="352.3" y="392.7" width="2.6" height="2.6"/><rect x="354.7" y="395.4" width="2.6" height="2.6"/><rect x="357.0" y="398.0" width="2.6" height="2.6"/><rect x="359.4" y="400.6" width="2.6" height="2.6"/><rect x="361.7" y="403.2" width="2.6" height="2.6"/></g>
</g>
<rect x="51.0" y="307.33" width="312.0" height="256.85" fill="none" stroke="#333" stroke-width="1.3"/>
<path d="M51.00,564.19v5.3 M90.00,564.19v5.3 M129.00,564.19v5.3 M168.00,564.19v5.3 M207.00,564.19v5.3 M246.00,564.19v5.3 M285.00,564.19v5.3 M324.00,564.19v5.3 M363.00,564.19v5.3 M70.50,564.19v2.8 M109.50,564.19v2.8 M148.50,564.19v2.8 M187.50,564.19v2.8 M226.50,564.19v2.8 M265.50,564.19v2.8 M304.50,564.19v2.8 M343.50,564.19v2.8 M51.00,531.40h-5.3 M51.00,476.75h-5.3 M51.00,422.10h-5.3 M51.00,367.45h-5.3 M51.00,312.80h-5.3 M51.00,558.72h-2.8 M51.00,504.07h-2.8 M51.00,449.42h-2.8 M51.00,394.77h-2.8 M51.00,340.12h-2.8" stroke="#333" stroke-width="1.2" fill="none"/>
<clipPath id="clipd"><rect x="428.0" y="310.83" width="307.5" height="255.90"/></clipPath>
<g clip-path="url(#clipd)">
<path d="M424.2,428.0 L429.2,425.1 L431.5,423.8 L433.8,422.5 L436.1,421.3 L438.4,420.0 L440.7,418.8 L443.0,417.6 L445.3,416.4 L447.6,415.2 L449.9,414.1 L452.2,412.8 L454.5,411.5 L456.8,410.3 L459.1,409.0 L461.4,407.8 L463.7,406.6 L466.1,405.5 L468.4,404.5 L470.7,403.6 L473.0,402.8 L475.3,402.0 L477.6,401.2 L479.9,400.5 L482.2,399.8 L484.5,399.2 L486.8,398.8 L489.1,398.6 L491.4,398.6 L493.7,398.6 L496.0,398.7 L498.3,398.9 L500.6,399.1 L503.0,399.3 L505.3,399.6 L507.6,400.0 L509.9,400.8 L512.2,402.3 L514.5,404.2 L516.8,406.5 L519.1,409.4 L521.4,414.4 L523.7,421.7 L526.0,433.5 L528.3,446.9 L530.6,455.8 L532.9,463.3 L535.2,469.9 L537.5,476.1 L539.9,482.2 L542.2,487.8 L544.5,492.6 L546.8,497.1 L549.1,501.2 L551.4,504.7 L553.7,507.5 L556.0,509.4 L558.3,511.8 L560.6,515.1 L562.9,518.9 L565.2,522.7 L567.5,526.3 L569.8,530.1 L572.1,535.2 L574.4,541.6 L576.8,546.7 L579.1,549.7 L581.4,550.6 L583.7,550.2 L586.0,548.4 L588.3,544.7 L590.6,538.6 L592.9,531.8 L595.2,526.2 L597.5,522.3 L599.8,519.1 L602.1,516.3 L604.4,513.5 L606.7,510.5 L609.0,507.3 L611.3,504.3 L613.7,501.2 L616.0,497.8 L618.3,493.9 L620.6,489.1 L622.9,482.7 L625.2,475.6 L627.5,467.9 L629.8,459.9 L632.1,452.2 L634.4,444.4 L636.7,436.7 L639.0,428.3 L641.3,420.7 L643.6,415.9 L645.9,412.4 L648.2,408.5 L650.6,404.6 L652.9,401.6 L655.2,399.7 L657.5,398.1 L659.8,396.8 L662.1,395.9 L664.4,395.5 L666.7,395.1 L669.0,394.9 L671.3,394.7 L673.6,394.5 L675.9,394.5 L678.2,394.8 L680.5,395.3 L682.8,396.2 L685.1,397.2 L687.5,398.3 L689.8,399.4 L692.1,400.6 L694.4,401.5 L696.7,402.5 L699.0,403.5 L701.3,404.5 L703.6,405.5 L705.9,406.5 L708.2,407.6 L710.5,408.7 L712.8,409.7 L715.1,410.8 L717.4,411.9 L719.7,413.0 L722.0,414.1 L724.4,415.2 L726.7,416.3 L729.0,417.4 L731.3,418.6 L733.6,419.9 L735.9,421.1 L740.9,424.1" fill="none" stroke="#000000" stroke-width="2.0"/>
<path fill="#000000" d="M422.4,426.2h3.6v3.6h-3.6zM427.4,423.3h3.6v3.6h-3.6zM429.7,422.0h3.6v3.6h-3.6zM432.0,420.7h3.6v3.6h-3.6zM434.3,419.5h3.6v3.6h-3.6zM436.6,418.2h3.6v3.6h-3.6zM438.9,417.0h3.6v3.6h-3.6zM441.2,415.8h3.6v3.6h-3.6zM443.5,414.6h3.6v3.6h-3.6zM445.8,413.4h3.6v3.6h-3.6zM448.1,412.3h3.6v3.6h-3.6zM450.4,411.0h3.6v3.6h-3.6zM452.7,409.7h3.6v3.6h-3.6zM455.0,408.5h3.6v3.6h-3.6zM457.3,407.2h3.6v3.6h-3.6zM459.6,406.0h3.6v3.6h-3.6zM461.9,404.8h3.6v3.6h-3.6zM464.3,403.7h3.6v3.6h-3.6zM466.6,402.7h3.6v3.6h-3.6zM468.9,401.8h3.6v3.6h-3.6zM471.2,401.0h3.6v3.6h-3.6zM473.5,400.2h3.6v3.6h-3.6zM475.8,399.4h3.6v3.6h-3.6zM478.1,398.7h3.6v3.6h-3.6zM480.4,398.0h3.6v3.6h-3.6zM482.7,397.4h3.6v3.6h-3.6zM485.0,397.0h3.6v3.6h-3.6zM487.3,396.8h3.6v3.6h-3.6zM489.6,396.8h3.6v3.6h-3.6zM491.9,396.8h3.6v3.6h-3.6zM494.2,396.9h3.6v3.6h-3.6zM496.5,397.1h3.6v3.6h-3.6zM498.8,397.3h3.6v3.6h-3.6zM501.2,397.5h3.6v3.6h-3.6zM503.5,397.8h3.6v3.6h-3.6zM505.8,398.2h3.6v3.6h-3.6zM508.1,399.0h3.6v3.6h-3.6zM510.4,400.5h3.6v3.6h-3.6zM512.7,402.4h3.6v3.6h-3.6zM515.0,404.7h3.6v3.6h-3.6zM517.3,407.6h3.6v3.6h-3.6zM519.6,412.6h3.6v3.6h-3.6zM521.9,419.9h3.6v3.6h-3.6zM524.2,431.7h3.6v3.6h-3.6zM526.5,445.1h3.6v3.6h-3.6zM528.8,454.0h3.6v3.6h-3.6zM531.1,461.5h3.6v3.6h-3.6zM533.4,468.1h3.6v3.6h-3.6zM535.7,474.3h3.6v3.6h-3.6zM538.1,480.4h3.6v3.6h-3.6zM540.4,486.0h3.6v3.6h-3.6zM542.7,490.8h3.6v3.6h-3.6zM545.0,495.3h3.6v3.6h-3.6zM547.3,499.4h3.6v3.6h-3.6zM549.6,502.9h3.6v3.6h-3.6zM551.9,505.7h3.6v3.6h-3.6zM554.2,507.6h3.6v3.6h-3.6zM556.5,510.0h3.6v3.6h-3.6zM558.8,513.3h3.6v3.6h-3.6zM561.1,517.1h3.6v3.6h-3.6zM563.4,520.9h3.6v3.6h-3.6zM565.7,524.5h3.6v3.6h-3.6zM568.0,528.3h3.6v3.6h-3.6zM570.3,533.4h3.6v3.6h-3.6zM572.6,539.8h3.6v3.6h-3.6zM575.0,544.9h3.6v3.6h-3.6zM577.3,547.9h3.6v3.6h-3.6zM579.6,548.8h3.6v3.6h-3.6zM581.9,548.4h3.6v3.6h-3.6zM584.2,546.6h3.6v3.6h-3.6zM586.5,542.9h3.6v3.6h-3.6zM588.8,536.8h3.6v3.6h-3.6zM591.1,530.0h3.6v3.6h-3.6zM593.4,524.4h3.6v3.6h-3.6zM595.7,520.5h3.6v3.6h-3.6zM598.0,517.3h3.6v3.6h-3.6zM600.3,514.5h3.6v3.6h-3.6zM602.6,511.7h3.6v3.6h-3.6zM604.9,508.7h3.6v3.6h-3.6zM607.2,505.5h3.6v3.6h-3.6zM609.5,502.5h3.6v3.6h-3.6zM611.9,499.4h3.6v3.6h-3.6zM614.2,496.0h3.6v3.6h-3.6zM616.5,492.1h3.6v3.6h-3.6zM618.8,487.3h3.6v3.6h-3.6zM621.1,480.9h3.6v3.6h-3.6zM623.4,473.8h3.6v3.6h-3.6zM625.7,466.1h3.6v3.6h-3.6zM628.0,458.1h3.6v3.6h-3.6zM630.3,450.4h3.6v3.6h-3.6zM632.6,442.6h3.6v3.6h-3.6zM634.9,434.9h3.6v3.6h-3.6zM637.2,426.5h3.6v3.6h-3.6zM639.5,418.9h3.6v3.6h-3.6zM641.8,414.1h3.6v3.6h-3.6zM644.1,410.6h3.6v3.6h-3.6zM646.4,406.7h3.6v3.6h-3.6zM648.8,402.8h3.6v3.6h-3.6zM651.1,399.8h3.6v3.6h-3.6zM653.4,397.9h3.6v3.6h-3.6zM655.7,396.3h3.6v3.6h-3.6zM658.0,395.0h3.6v3.6h-3.6zM660.3,394.1h3.6v3.6h-3.6zM662.6,393.7h3.6v3.6h-3.6zM664.9,393.3h3.6v3.6h-3.6zM667.2,393.1h3.6v3.6h-3.6zM669.5,392.9h3.6v3.6h-3.6zM671.8,392.7h3.6v3.6h-3.6zM674.1,392.7h3.6v3.6h-3.6zM676.4,393.0h3.6v3.6h-3.6zM678.7,393.5h3.6v3.6h-3.6zM681.0,394.4h3.6v3.6h-3.6zM683.3,395.4h3.6v3.6h-3.6zM685.7,396.5h3.6v3.6h-3.6zM688.0,397.6h3.6v3.6h-3.6zM690.3,398.8h3.6v3.6h-3.6zM692.6,399.7h3.6v3.6h-3.6zM694.9,400.7h3.6v3.6h-3.6zM697.2,401.7h3.6v3.6h-3.6zM699.5,402.7h3.6v3.6h-3.6zM701.8,403.7h3.6v3.6h-3.6zM704.1,404.7h3.6v3.6h-3.6zM706.4,405.8h3.6v3.6h-3.6zM708.7,406.9h3.6v3.6h-3.6zM711.0,407.9h3.6v3.6h-3.6zM713.3,409.0h3.6v3.6h-3.6zM715.6,410.1h3.6v3.6h-3.6zM717.9,411.2h3.6v3.6h-3.6zM720.2,412.3h3.6v3.6h-3.6zM722.6,413.4h3.6v3.6h-3.6zM724.9,414.5h3.6v3.6h-3.6zM727.2,415.6h3.6v3.6h-3.6zM729.5,416.8h3.6v3.6h-3.6zM731.8,418.1h3.6v3.6h-3.6zM734.1,419.3h3.6v3.6h-3.6zM739.1,422.3h3.6v3.6h-3.6z"/>
<g fill="#fff" stroke="#000000" stroke-width="1.0"><rect x="425.2" y="421.5" width="2.6" height="2.6"/><rect x="427.5" y="420.2" width="2.6" height="2.6"/><rect x="429.8" y="418.9" width="2.6" height="2.6"/><rect x="432.1" y="417.7" width="2.6" height="2.6"/><rect x="434.4" y="416.4" width="2.6" height="2.6"/><rect x="436.7" y="415.2" width="2.6" height="2.6"/><rect x="439.0" y="414.0" width="2.6" height="2.6"/><rect x="441.3" y="412.8" width="2.6" height="2.6"/><rect x="443.6" y="411.6" width="2.6" height="2.6"/><rect x="445.9" y="410.4" width="2.6" height="2.6"/><rect x="448.2" y="409.2" width="2.6" height="2.6"/><rect x="450.5" y="408.0" width="2.6" height="2.6"/><rect x="452.8" y="406.7" width="2.6" height="2.6"/><rect x="455.1" y="405.4" width="2.6" height="2.6"/><rect x="457.4" y="404.1" width="2.6" height="2.6"/><rect x="459.8" y="402.9" width="2.6" height="2.6"/><rect x="462.1" y="401.8" width="2.6" height="2.6"/><rect x="464.4" y="400.7" width="2.6" height="2.6"/><rect x="466.7" y="399.8" width="2.6" height="2.6"/><rect x="469.0" y="398.9" width="2.6" height="2.6"/><rect x="471.3" y="398.2" width="2.6" height="2.6"/><rect x="473.6" y="397.4" width="2.6" height="2.6"/><rect x="475.9" y="396.6" width="2.6" height="2.6"/><rect x="478.2" y="395.9" width="2.6" height="2.6"/><rect x="480.5" y="395.3" width="2.6" height="2.6"/><rect x="482.8" y="394.8" width="2.6" height="2.6"/><rect x="485.1" y="394.5" width="2.6" height="2.6"/><rect x="487.4" y="394.3" width="2.6" height="2.6"/><rect x="489.7" y="394.4" width="2.6" height="2.6"/><rect x="492.0" y="394.4" width="2.6" height="2.6"/><rect x="494.3" y="394.6" width="2.6" height="2.6"/><rect x="496.7" y="394.7" width="2.6" height="2.6"/><rect x="499.0" y="394.9" width="2.6" height="2.6"/><rect x="501.3" y="395.2" width="2.6" height="2.6"/><rect x="503.6" y="395.5" width="2.6" height="2.6"/><rect x="505.9" y="396.1" width="2.6" height="2.6"/><rect x="508.2" y="397.3" width="2.6" height="2.6"/><rect x="510.5" y="398.9" width="2.6" height="2.6"/><rect x="512.8" y="401.0" width="2.6" height="2.6"/><rect x="515.1" y="403.5" width="2.6" height="2.6"/><rect x="517.4" y="407.4" width="2.6" height="2.6"/><rect x="519.7" y="413.6" width="2.6" height="2.6"/><rect x="522.0" y="421.9" width="2.6" height="2.6"/><rect x="524.3" y="437.3" width="2.6" height="2.6"/><rect x="526.6" y="447.4" width="2.6" height="2.6"/><rect x="528.9" y="455.5" width="2.6" height="2.6"/><rect x="531.2" y="462.4" width="2.6" height="2.6"/><rect x="533.6" y="468.7" width="2.6" height="2.6"/><rect x="535.9" y="474.9" width="2.6" height="2.6"/><rect x="538.2" y="480.8" width="2.6" height="2.6"/><rect x="540.5" y="486.1" width="2.6" height="2.6"/><rect x="542.8" y="490.7" width="2.6" height="2.6"/><rect x="545.1" y="495.0" width="2.6" height="2.6"/><rect x="547.4" y="498.8" width="2.6" height="2.6"/><rect x="549.7" y="502.0" width="2.6" height="2.6"/><rect x="552.0" y="504.4" width="2.6" height="2.6"/><rect x="554.3" y="506.3" width="2.6" height="2.6"/><rect x="556.6" y="509.2" width="2.6" height="2.6"/><rect x="558.9" y="512.9" width="2.6" height="2.6"/><rect x="561.2" y="516.9" width="2.6" height="2.6"/><rect x="563.5" y="520.6" width="2.6" height="2.6"/><rect x="565.8" y="524.4" width="2.6" height="2.6"/><rect x="568.2" y="528.8" width="2.6" height="2.6"/><rect x="570.5" y="535.3" width="2.6" height="2.6"/><rect x="572.8" y="541.4" width="2.6" height="2.6"/><rect x="575.1" y="546.3" width="2.6" height="2.6"/><rect x="577.4" y="548.4" width="2.6" height="2.6"/><rect x="579.7" y="549.1" width="2.6" height="2.6"/><rect x="582.0" y="548.7" width="2.6" height="2.6"/><rect x="584.3" y="546.8" width="2.6" height="2.6"/><rect x="586.6" y="542.3" width="2.6" height="2.6"/><rect x="588.9" y="535.8" width="2.6" height="2.6"/><rect x="591.2" y="529.6" width="2.6" height="2.6"/><rect x="593.5" y="525.3" width="2.6" height="2.6"/><rect x="595.8" y="521.9" width="2.6" height="2.6"/><rect x="598.1" y="519.1" width="2.6" height="2.6"/><rect x="600.4" y="516.4" width="2.6" height="2.6"/><rect x="602.7" y="513.6" width="2.6" height="2.6"/><rect x="605.1" y="510.4" width="2.6" height="2.6"/><rect x="607.4" y="507.4" width="2.6" height="2.6"/><rect x="609.7" y="504.4" width="2.6" height="2.6"/><rect x="612.0" y="501.2" width="2.6" height="2.6"/><rect x="614.3" y="497.5" width="2.6" height="2.6"/><rect x="616.6" y="493.3" width="2.6" height="2.6"/><rect x="618.9" y="487.7" width="2.6" height="2.6"/><rect x="621.2" y="480.8" width="2.6" height="2.6"/><rect x="623.5" y="473.5" width="2.6" height="2.6"/><rect x="625.8" y="465.5" width="2.6" height="2.6"/><rect x="628.1" y="457.7" width="2.6" height="2.6"/><rect x="630.4" y="449.9" width="2.6" height="2.6"/><rect x="632.7" y="442.2" width="2.6" height="2.6"/><rect x="635.0" y="434.1" width="2.6" height="2.6"/><rect x="637.3" y="425.8" width="2.6" height="2.6"/><rect x="639.6" y="419.6" width="2.6" height="2.6"/><rect x="642.0" y="415.8" width="2.6" height="2.6"/><rect x="644.3" y="412.1" width="2.6" height="2.6"/><rect x="646.6" y="408.1" width="2.6" height="2.6"/><rect x="648.9" y="404.6" width="2.6" height="2.6"/><rect x="651.2" y="402.3" width="2.6" height="2.6"/><rect x="653.5" y="400.5" width="2.6" height="2.6"/><rect x="655.8" y="399.0" width="2.6" height="2.6"/><rect x="658.1" y="397.9" width="2.6" height="2.6"/><rect x="660.4" y="397.3" width="2.6" height="2.6"/><rect x="662.7" y="396.9" width="2.6" height="2.6"/><rect x="665.0" y="396.6" width="2.6" height="2.6"/><rect x="667.3" y="396.4" width="2.6" height="2.6"/><rect x="669.6" y="396.2" width="2.6" height="2.6"/><rect x="671.9" y="396.1" width="2.6" height="2.6"/><rect x="674.2" y="396.2" width="2.6" height="2.6"/><rect x="676.5" y="396.6" width="2.6" height="2.6"/><rect x="678.9" y="397.4" width="2.6" height="2.6"/><rect x="681.2" y="398.3" width="2.6" height="2.6"/><rect x="683.5" y="399.4" width="2.6" height="2.6"/><rect x="685.8" y="400.5" width="2.6" height="2.6"/><rect x="688.1" y="401.6" width="2.6" height="2.6"/><rect x="690.4" y="402.7" width="2.6" height="2.6"/><rect x="692.7" y="403.6" width="2.6" height="2.6"/><rect x="695.0" y="404.6" width="2.6" height="2.6"/><rect x="697.3" y="405.6" width="2.6" height="2.6"/><rect x="699.6" y="406.6" width="2.6" height="2.6"/><rect x="701.9" y="407.6" width="2.6" height="2.6"/><rect x="704.2" y="408.7" width="2.6" height="2.6"/><rect x="706.5" y="409.8" width="2.6" height="2.6"/><rect x="708.8" y="410.8" width="2.6" height="2.6"/><rect x="711.1" y="411.9" width="2.6" height="2.6"/><rect x="713.4" y="413.0" width="2.6" height="2.6"/><rect x="715.8" y="414.1" width="2.6" height="2.6"/><rect x="718.1" y="415.2" width="2.6" height="2.6"/><rect x="720.4" y="416.3" width="2.6" height="2.6"/><rect x="722.7" y="417.4" width="2.6" height="2.6"/><rect x="725.0" y="418.5" width="2.6" height="2.6"/><rect x="727.3" y="419.7" width="2.6" height="2.6"/><rect x="729.6" y="420.9" width="2.6" height="2.6"/><rect x="731.9" y="422.1" width="2.6" height="2.6"/><rect x="734.2" y="423.4" width="2.6" height="2.6"/></g>
<path d="M424.2,449.0 L429.2,446.1 L431.5,444.7 L433.8,443.4 L436.1,442.0 L438.4,440.7 L440.7,439.4 L443.0,438.0 L445.3,436.8 L447.6,435.5 L449.9,434.3 L452.2,433.1 L454.5,432.1 L456.8,431.0 L459.1,429.9 L461.4,428.9 L463.7,427.8 L466.1,426.8 L468.4,425.9 L470.7,424.9 L473.0,424.1 L475.3,423.2 L477.6,422.4 L479.9,421.7 L482.2,421.0 L484.5,420.3 L486.8,419.6 L489.1,419.1 L491.4,418.8 L493.7,418.9 L496.0,419.1 L498.3,420.3 L500.6,425.2 L503.0,431.5 L505.3,439.2 L507.6,444.8 L509.9,448.3 L512.2,451.0 L514.5,453.7 L516.8,457.1 L519.1,462.1 L521.4,468.6 L523.7,474.1 L526.0,478.0 L528.3,481.3 L530.6,484.3 L532.9,487.0 L535.2,489.7 L537.5,492.4 L539.9,495.0 L542.2,497.5 L544.5,499.9 L546.8,502.2 L549.1,504.6 L551.4,506.9 L553.7,509.1 L556.0,511.2 L558.3,513.4 L560.6,516.0 L562.9,519.2 L565.2,523.0 L567.5,527.2 L569.8,532.3 L572.1,538.2 L574.4,544.3 L576.8,547.9 L579.1,549.7 L581.4,550.4 L583.7,550.0 L586.0,548.2 L588.3,545.0 L590.6,540.5 L592.9,533.5 L595.2,525.9 L597.5,522.3 L599.8,519.6 L602.1,516.8 L604.4,513.5 L606.7,510.1 L609.0,506.9 L611.3,503.9 L613.7,500.9 L616.0,498.2 L618.3,495.7 L620.6,493.4 L622.9,491.1 L625.2,488.9 L627.5,486.5 L629.8,484.0 L632.1,481.5 L634.4,478.8 L636.7,475.9 L639.0,472.9 L641.3,469.7 L643.6,466.2 L645.9,462.3 L648.2,457.8 L650.6,451.6 L652.9,444.3 L655.2,437.7 L657.5,431.5 L659.8,425.5 L662.1,420.8 L664.4,418.2 L666.7,416.9 L669.0,415.9 L671.3,415.3 L673.6,414.8 L675.9,414.3 L678.2,413.9 L680.5,413.7 L682.8,413.6 L685.1,413.8 L687.5,414.4 L689.8,415.2 L692.1,416.1 L694.4,417.3 L696.7,418.5 L699.0,419.8 L701.3,421.1 L703.6,422.3 L705.9,423.4 L708.2,424.5 L710.5,425.6 L712.8,426.7 L715.1,427.9 L717.4,429.1 L719.7,430.3 L722.0,431.5 L724.4,432.8 L726.7,434.1 L729.0,435.4 L731.3,436.8 L733.6,438.2 L735.9,439.7 L740.9,443.2" fill="none" stroke="#ee1414" stroke-width="2.0"/>
<path fill="#ee1414" d="M422.4,447.2h3.6v3.6h-3.6zM427.4,444.3h3.6v3.6h-3.6zM429.7,442.9h3.6v3.6h-3.6zM432.0,441.6h3.6v3.6h-3.6zM434.3,440.2h3.6v3.6h-3.6zM436.6,438.9h3.6v3.6h-3.6zM438.9,437.6h3.6v3.6h-3.6zM441.2,436.2h3.6v3.6h-3.6zM443.5,435.0h3.6v3.6h-3.6zM445.8,433.7h3.6v3.6h-3.6zM448.1,432.5h3.6v3.6h-3.6zM450.4,431.3h3.6v3.6h-3.6zM452.7,430.3h3.6v3.6h-3.6zM455.0,429.2h3.6v3.6h-3.6zM457.3,428.1h3.6v3.6h-3.6zM459.6,427.1h3.6v3.6h-3.6zM461.9,426.0h3.6v3.6h-3.6zM464.3,425.0h3.6v3.6h-3.6zM466.6,424.1h3.6v3.6h-3.6zM468.9,423.1h3.6v3.6h-3.6zM471.2,422.3h3.6v3.6h-3.6zM473.5,421.4h3.6v3.6h-3.6zM475.8,420.6h3.6v3.6h-3.6zM478.1,419.9h3.6v3.6h-3.6zM480.4,419.2h3.6v3.6h-3.6zM482.7,418.5h3.6v3.6h-3.6zM485.0,417.8h3.6v3.6h-3.6zM487.3,417.3h3.6v3.6h-3.6zM489.6,417.0h3.6v3.6h-3.6zM491.9,417.1h3.6v3.6h-3.6zM494.2,417.3h3.6v3.6h-3.6zM496.5,418.5h3.6v3.6h-3.6zM498.8,423.4h3.6v3.6h-3.6zM501.2,429.7h3.6v3.6h-3.6zM503.5,437.4h3.6v3.6h-3.6zM505.8,443.0h3.6v3.6h-3.6zM508.1,446.5h3.6v3.6h-3.6zM510.4,449.2h3.6v3.6h-3.6zM512.7,451.9h3.6v3.6h-3.6zM515.0,455.3h3.6v3.6h-3.6zM517.3,460.3h3.6v3.6h-3.6zM519.6,466.8h3.6v3.6h-3.6zM521.9,472.3h3.6v3.6h-3.6zM524.2,476.2h3.6v3.6h-3.6zM526.5,479.5h3.6v3.6h-3.6zM528.8,482.5h3.6v3.6h-3.6zM531.1,485.2h3.6v3.6h-3.6zM533.4,487.9h3.6v3.6h-3.6zM535.7,490.6h3.6v3.6h-3.6zM538.1,493.2h3.6v3.6h-3.6zM540.4,495.7h3.6v3.6h-3.6zM542.7,498.1h3.6v3.6h-3.6zM545.0,500.4h3.6v3.6h-3.6zM547.3,502.8h3.6v3.6h-3.6zM549.6,505.1h3.6v3.6h-3.6zM551.9,507.3h3.6v3.6h-3.6zM554.2,509.4h3.6v3.6h-3.6zM556.5,511.6h3.6v3.6h-3.6zM558.8,514.2h3.6v3.6h-3.6zM561.1,517.4h3.6v3.6h-3.6zM563.4,521.2h3.6v3.6h-3.6zM565.7,525.4h3.6v3.6h-3.6zM568.0,530.5h3.6v3.6h-3.6zM570.3,536.4h3.6v3.6h-3.6zM572.6,542.5h3.6v3.6h-3.6zM575.0,546.1h3.6v3.6h-3.6zM577.3,547.9h3.6v3.6h-3.6zM579.6,548.6h3.6v3.6h-3.6zM581.9,548.2h3.6v3.6h-3.6zM584.2,546.4h3.6v3.6h-3.6zM586.5,543.2h3.6v3.6h-3.6zM588.8,538.7h3.6v3.6h-3.6zM591.1,531.7h3.6v3.6h-3.6zM593.4,524.1h3.6v3.6h-3.6zM595.7,520.5h3.6v3.6h-3.6zM598.0,517.8h3.6v3.6h-3.6zM600.3,515.0h3.6v3.6h-3.6zM602.6,511.7h3.6v3.6h-3.6zM604.9,508.3h3.6v3.6h-3.6zM607.2,505.1h3.6v3.6h-3.6zM609.5,502.1h3.6v3.6h-3.6zM611.9,499.1h3.6v3.6h-3.6zM614.2,496.4h3.6v3.6h-3.6zM616.5,493.9h3.6v3.6h-3.6zM618.8,491.6h3.6v3.6h-3.6zM621.1,489.3h3.6v3.6h-3.6zM623.4,487.1h3.6v3.6h-3.6zM625.7,484.7h3.6v3.6h-3.6zM628.0,482.2h3.6v3.6h-3.6zM630.3,479.7h3.6v3.6h-3.6zM632.6,477.0h3.6v3.6h-3.6zM634.9,474.1h3.6v3.6h-3.6zM637.2,471.1h3.6v3.6h-3.6zM639.5,467.9h3.6v3.6h-3.6zM641.8,464.4h3.6v3.6h-3.6zM644.1,460.5h3.6v3.6h-3.6zM646.4,456.0h3.6v3.6h-3.6zM648.8,449.8h3.6v3.6h-3.6zM651.1,442.5h3.6v3.6h-3.6zM653.4,435.9h3.6v3.6h-3.6zM655.7,429.7h3.6v3.6h-3.6zM658.0,423.7h3.6v3.6h-3.6zM660.3,419.0h3.6v3.6h-3.6zM662.6,416.4h3.6v3.6h-3.6zM664.9,415.1h3.6v3.6h-3.6zM667.2,414.1h3.6v3.6h-3.6zM669.5,413.5h3.6v3.6h-3.6zM671.8,413.0h3.6v3.6h-3.6zM674.1,412.5h3.6v3.6h-3.6zM676.4,412.1h3.6v3.6h-3.6zM678.7,411.9h3.6v3.6h-3.6zM681.0,411.8h3.6v3.6h-3.6zM683.3,412.0h3.6v3.6h-3.6zM685.7,412.6h3.6v3.6h-3.6zM688.0,413.4h3.6v3.6h-3.6zM690.3,414.3h3.6v3.6h-3.6zM692.6,415.5h3.6v3.6h-3.6zM694.9,416.7h3.6v3.6h-3.6zM697.2,418.0h3.6v3.6h-3.6zM699.5,419.3h3.6v3.6h-3.6zM701.8,420.5h3.6v3.6h-3.6zM704.1,421.6h3.6v3.6h-3.6zM706.4,422.7h3.6v3.6h-3.6zM708.7,423.8h3.6v3.6h-3.6zM711.0,424.9h3.6v3.6h-3.6zM713.3,426.1h3.6v3.6h-3.6zM715.6,427.3h3.6v3.6h-3.6zM717.9,428.5h3.6v3.6h-3.6zM720.2,429.7h3.6v3.6h-3.6zM722.6,431.0h3.6v3.6h-3.6zM724.9,432.3h3.6v3.6h-3.6zM727.2,433.6h3.6v3.6h-3.6zM729.5,435.0h3.6v3.6h-3.6zM731.8,436.4h3.6v3.6h-3.6zM734.1,437.9h3.6v3.6h-3.6zM739.1,441.4h3.6v3.6h-3.6z"/>
<g fill="#fff" stroke="#ee1414" stroke-width="1.0"><rect x="425.2" y="442.5" width="2.6" height="2.6"/><rect x="427.5" y="441.2" width="2.6" height="2.6"/><rect x="429.8" y="439.8" width="2.6" height="2.6"/><rect x="432.1" y="438.5" width="2.6" height="2.6"/><rect x="434.4" y="437.1" width="2.6" height="2.6"/><rect x="436.7" y="435.8" width="2.6" height="2.6"/><rect x="439.0" y="434.5" width="2.6" height="2.6"/><rect x="441.3" y="433.2" width="2.6" height="2.6"/><rect x="443.6" y="431.9" width="2.6" height="2.6"/><rect x="445.9" y="430.7" width="2.6" height="2.6"/><rect x="448.2" y="429.5" width="2.6" height="2.6"/><rect x="450.5" y="428.4" width="2.6" height="2.6"/><rect x="452.8" y="427.3" width="2.6" height="2.6"/><rect x="455.1" y="426.2" width="2.6" height="2.6"/><rect x="457.4" y="425.2" width="2.6" height="2.6"/><rect x="459.8" y="424.1" width="2.6" height="2.6"/><rect x="462.1" y="423.1" width="2.6" height="2.6"/><rect x="464.4" y="422.1" width="2.6" height="2.6"/><rect x="466.7" y="421.2" width="2.6" height="2.6"/><rect x="469.0" y="420.3" width="2.6" height="2.6"/><rect x="471.3" y="419.4" width="2.6" height="2.6"/><rect x="473.6" y="418.6" width="2.6" height="2.6"/><rect x="475.9" y="417.8" width="2.6" height="2.6"/><rect x="478.2" y="417.1" width="2.6" height="2.6"/><rect x="480.5" y="416.5" width="2.6" height="2.6"/><rect x="482.8" y="415.7" width="2.6" height="2.6"/><rect x="485.1" y="415.1" width="2.6" height="2.6"/><rect x="487.4" y="414.7" width="2.6" height="2.6"/><rect x="489.7" y="414.6" width="2.6" height="2.6"/><rect x="492.0" y="414.7" width="2.6" height="2.6"/><rect x="494.3" y="415.0" width="2.6" height="2.6"/><rect x="496.7" y="418.3" width="2.6" height="2.6"/><rect x="499.0" y="423.8" width="2.6" height="2.6"/><rect x="501.3" y="431.2" width="2.6" height="2.6"/><rect x="503.6" y="438.2" width="2.6" height="2.6"/><rect x="505.9" y="442.4" width="2.6" height="2.6"/><rect x="508.2" y="445.5" width="2.6" height="2.6"/><rect x="510.5" y="448.1" width="2.6" height="2.6"/><rect x="512.8" y="451.1" width="2.6" height="2.6"/><rect x="515.1" y="455.1" width="2.6" height="2.6"/><rect x="517.4" y="461.1" width="2.6" height="2.6"/><rect x="519.7" y="467.4" width="2.6" height="2.6"/><rect x="522.0" y="471.9" width="2.6" height="2.6"/><rect x="524.3" y="475.5" width="2.6" height="2.6"/><rect x="526.6" y="478.6" width="2.6" height="2.6"/><rect x="528.9" y="481.5" width="2.6" height="2.6"/><rect x="531.2" y="484.2" width="2.6" height="2.6"/><rect x="533.6" y="486.8" width="2.6" height="2.6"/><rect x="535.9" y="489.5" width="2.6" height="2.6"/><rect x="538.2" y="492.0" width="2.6" height="2.6"/><rect x="540.5" y="494.5" width="2.6" height="2.6"/><rect x="542.8" y="496.8" width="2.6" height="2.6"/><rect x="545.1" y="499.2" width="2.6" height="2.6"/><rect x="547.4" y="501.5" width="2.6" height="2.6"/><rect x="549.7" y="503.9" width="2.6" height="2.6"/><rect x="552.0" y="506.0" width="2.6" height="2.6"/><rect x="554.3" y="508.2" width="2.6" height="2.6"/><rect x="556.6" y="510.5" width="2.6" height="2.6"/><rect x="558.9" y="513.5" width="2.6" height="2.6"/><rect x="561.2" y="517.0" width="2.6" height="2.6"/><rect x="563.5" y="521.1" width="2.6" height="2.6"/><rect x="565.8" y="525.8" width="2.6" height="2.6"/><rect x="568.2" y="531.7" width="2.6" height="2.6"/><rect x="570.5" y="537.9" width="2.6" height="2.6"/><rect x="572.8" y="543.7" width="2.6" height="2.6"/><rect x="575.1" y="546.6" width="2.6" height="2.6"/><rect x="577.4" y="548.3" width="2.6" height="2.6"/><rect x="579.7" y="549.1" width="2.6" height="2.6"/><rect x="582.0" y="548.5" width="2.6" height="2.6"/><rect x="584.3" y="546.6" width="2.6" height="2.6"/><rect x="586.6" y="543.2" width="2.6" height="2.6"/><rect x="588.9" y="538.2" width="2.6" height="2.6"/><rect x="591.2" y="530.1" width="2.6" height="2.6"/><rect x="593.5" y="525.0" width="2.6" height="2.6"/><rect x="595.8" y="522.2" width="2.6" height="2.6"/><rect x="598.1" y="519.7" width="2.6" height="2.6"/><rect x="600.4" y="516.6" width="2.6" height="2.6"/><rect x="602.7" y="513.3" width="2.6" height="2.6"/><rect x="605.1" y="510.0" width="2.6" height="2.6"/><rect x="607.4" y="507.0" width="2.6" height="2.6"/><rect x="609.7" y="504.0" width="2.6" height="2.6"/><rect x="612.0" y="501.1" width="2.6" height="2.6"/><rect x="614.3" y="498.5" width="2.6" height="2.6"/><rect x="616.6" y="496.1" width="2.6" height="2.6"/><rect x="618.9" y="493.9" width="2.6" height="2.6"/><rect x="621.2" y="491.6" width="2.6" height="2.6"/><rect x="623.5" y="489.3" width="2.6" height="2.6"/><rect x="625.8" y="486.9" width="2.6" height="2.6"/><rect x="628.1" y="484.4" width="2.6" height="2.6"/><rect x="630.4" y="481.8" width="2.6" height="2.6"/><rect x="632.7" y="479.0" width="2.6" height="2.6"/><rect x="635.0" y="476.0" width="2.6" height="2.6"/><rect x="637.3" y="472.9" width="2.6" height="2.6"/><rect x="639.6" y="469.6" width="2.6" height="2.6"/><rect x="642.0" y="465.9" width="2.6" height="2.6"/><rect x="644.3" y="461.7" width="2.6" height="2.6"/><rect x="646.6" y="456.6" width="2.6" height="2.6"/><rect x="648.9" y="449.6" width="2.6" height="2.6"/><rect x="651.2" y="442.4" width="2.6" height="2.6"/><rect x="653.5" y="436.3" width="2.6" height="2.6"/><rect x="655.8" y="430.0" width="2.6" height="2.6"/><rect x="658.1" y="424.5" width="2.6" height="2.6"/><rect x="660.4" y="420.8" width="2.6" height="2.6"/><rect x="662.7" y="419.1" width="2.6" height="2.6"/><rect x="665.0" y="418.0" width="2.6" height="2.6"/><rect x="667.3" y="417.2" width="2.6" height="2.6"/><rect x="669.6" y="416.6" width="2.6" height="2.6"/><rect x="671.9" y="416.1" width="2.6" height="2.6"/><rect x="674.2" y="415.7" width="2.6" height="2.6"/><rect x="676.5" y="415.4" width="2.6" height="2.6"/><rect x="678.9" y="415.2" width="2.6" height="2.6"/><rect x="681.2" y="415.3" width="2.6" height="2.6"/><rect x="683.5" y="415.7" width="2.6" height="2.6"/><rect x="685.8" y="416.4" width="2.6" height="2.6"/><rect x="688.1" y="417.2" width="2.6" height="2.6"/><rect x="690.4" y="418.3" width="2.6" height="2.6"/><rect x="692.7" y="419.5" width="2.6" height="2.6"/><rect x="695.0" y="420.8" width="2.6" height="2.6"/><rect x="697.3" y="422.0" width="2.6" height="2.6"/><rect x="699.6" y="423.3" width="2.6" height="2.6"/><rect x="701.9" y="424.5" width="2.6" height="2.6"/><rect x="704.2" y="425.6" width="2.6" height="2.6"/><rect x="706.5" y="426.7" width="2.6" height="2.6"/><rect x="708.8" y="427.8" width="2.6" height="2.6"/><rect x="711.1" y="428.9" width="2.6" height="2.6"/><rect x="713.4" y="430.1" width="2.6" height="2.6"/><rect x="715.8" y="431.3" width="2.6" height="2.6"/><rect x="718.1" y="432.5" width="2.6" height="2.6"/><rect x="720.4" y="433.8" width="2.6" height="2.6"/><rect x="722.7" y="435.1" width="2.6" height="2.6"/><rect x="725.0" y="436.4" width="2.6" height="2.6"/><rect x="727.3" y="437.7" width="2.6" height="2.6"/><rect x="729.6" y="439.1" width="2.6" height="2.6"/><rect x="731.9" y="440.6" width="2.6" height="2.6"/><rect x="734.2" y="442.0" width="2.6" height="2.6"/></g>
<path d="M424.2,455.3 L429.2,454.5 L431.5,454.1 L433.8,453.7 L436.1,453.4 L438.4,453.0 L440.7,452.6 L443.0,452.2 L445.3,451.9 L447.6,451.6 L449.9,451.3 L452.2,451.0 L454.5,450.8 L456.8,450.6 L459.1,450.5 L461.4,450.5 L463.7,450.5 L466.1,450.5 L468.4,450.6 L470.7,450.8 L473.0,450.9 L475.3,451.1 L477.6,451.4 L479.9,451.6 L482.2,451.9 L484.5,452.3 L486.8,452.8 L489.1,453.5 L491.4,454.3 L493.7,455.3 L496.0,456.3 L498.3,457.4 L500.6,458.7 L503.0,460.2 L505.3,462.1 L507.6,464.4 L509.9,467.4 L512.2,472.2 L514.5,478.0 L516.8,483.2 L519.1,487.7 L521.4,492.0 L523.7,496.1 L526.0,499.9 L528.3,503.6 L530.6,507.1 L532.9,510.4 L535.2,513.4 L537.5,516.1 L539.9,518.7 L542.2,521.1 L544.5,523.4 L546.8,525.6 L549.1,527.6 L551.4,529.4 L553.7,531.1 L556.0,532.4 L558.3,533.4 L560.6,534.6 L562.9,536.1 L565.2,538.0 L567.5,540.1 L569.8,542.3 L572.1,544.7 L574.4,547.9 L576.8,552.5 L579.1,558.2 L581.4,559.7 L583.7,559.5 L586.0,558.0 L588.3,551.3 L590.6,545.2 L592.9,541.7 L595.2,539.2 L597.5,537.1 L599.8,535.4 L602.1,533.9 L604.4,532.3 L606.7,530.4 L609.0,528.4 L611.3,526.6 L613.7,524.9 L616.0,523.4 L618.3,521.8 L620.6,520.2 L622.9,518.5 L625.2,516.6 L627.5,514.6 L629.8,512.4 L632.1,510.0 L634.4,507.2 L636.7,503.8 L639.0,499.7 L641.3,494.9 L643.6,489.0 L645.9,483.2 L648.2,477.4 L650.6,471.2 L652.9,466.5 L655.2,463.2 L657.5,460.4 L659.8,458.2 L662.1,456.5 L664.4,455.0 L666.7,453.7 L669.0,452.4 L671.3,451.2 L673.6,450.2 L675.9,449.5 L678.2,448.9 L680.5,448.5 L682.8,448.3 L685.1,448.1 L687.5,447.9 L689.8,447.8 L692.1,447.6 L694.4,447.6 L696.7,447.6 L699.0,447.6 L701.3,447.7 L703.6,447.8 L705.9,447.9 L708.2,448.1 L710.5,448.3 L712.8,448.5 L715.1,448.8 L717.4,449.1 L719.7,449.4 L722.0,449.7 L724.4,450.0 L726.7,450.3 L729.0,450.7 L731.3,451.0 L733.6,451.4 L735.9,451.7 L740.9,452.5" fill="none" stroke="#1616da" stroke-width="2.0"/>
<path fill="#1616da" d="M422.4,453.5h3.6v3.6h-3.6zM427.4,452.7h3.6v3.6h-3.6zM429.7,452.3h3.6v3.6h-3.6zM432.0,451.9h3.6v3.6h-3.6zM434.3,451.6h3.6v3.6h-3.6zM436.6,451.2h3.6v3.6h-3.6zM438.9,450.8h3.6v3.6h-3.6zM441.2,450.4h3.6v3.6h-3.6zM443.5,450.1h3.6v3.6h-3.6zM445.8,449.8h3.6v3.6h-3.6zM448.1,449.5h3.6v3.6h-3.6zM450.4,449.2h3.6v3.6h-3.6zM452.7,449.0h3.6v3.6h-3.6zM455.0,448.8h3.6v3.6h-3.6zM457.3,448.7h3.6v3.6h-3.6zM459.6,448.7h3.6v3.6h-3.6zM461.9,448.7h3.6v3.6h-3.6zM464.3,448.7h3.6v3.6h-3.6zM466.6,448.8h3.6v3.6h-3.6zM468.9,449.0h3.6v3.6h-3.6zM471.2,449.1h3.6v3.6h-3.6zM473.5,449.3h3.6v3.6h-3.6zM475.8,449.6h3.6v3.6h-3.6zM478.1,449.8h3.6v3.6h-3.6zM480.4,450.1h3.6v3.6h-3.6zM482.7,450.5h3.6v3.6h-3.6zM485.0,451.0h3.6v3.6h-3.6zM487.3,451.7h3.6v3.6h-3.6zM489.6,452.5h3.6v3.6h-3.6zM491.9,453.5h3.6v3.6h-3.6zM494.2,454.5h3.6v3.6h-3.6zM496.5,455.6h3.6v3.6h-3.6zM498.8,456.9h3.6v3.6h-3.6zM501.2,458.4h3.6v3.6h-3.6zM503.5,460.3h3.6v3.6h-3.6zM505.8,462.6h3.6v3.6h-3.6zM508.1,465.6h3.6v3.6h-3.6zM510.4,470.4h3.6v3.6h-3.6zM512.7,476.2h3.6v3.6h-3.6zM515.0,481.4h3.6v3.6h-3.6zM517.3,485.9h3.6v3.6h-3.6zM519.6,490.2h3.6v3.6h-3.6zM521.9,494.3h3.6v3.6h-3.6zM524.2,498.1h3.6v3.6h-3.6zM526.5,501.8h3.6v3.6h-3.6zM528.8,505.3h3.6v3.6h-3.6zM531.1,508.6h3.6v3.6h-3.6zM533.4,511.6h3.6v3.6h-3.6zM535.7,514.3h3.6v3.6h-3.6zM538.1,516.9h3.6v3.6h-3.6zM540.4,519.3h3.6v3.6h-3.6zM542.7,521.6h3.6v3.6h-3.6zM545.0,523.8h3.6v3.6h-3.6zM547.3,525.8h3.6v3.6h-3.6zM549.6,527.6h3.6v3.6h-3.6zM551.9,529.3h3.6v3.6h-3.6zM554.2,530.6h3.6v3.6h-3.6zM556.5,531.6h3.6v3.6h-3.6zM558.8,532.8h3.6v3.6h-3.6zM561.1,534.3h3.6v3.6h-3.6zM563.4,536.2h3.6v3.6h-3.6zM565.7,538.3h3.6v3.6h-3.6zM568.0,540.5h3.6v3.6h-3.6zM570.3,542.9h3.6v3.6h-3.6zM572.6,546.1h3.6v3.6h-3.6zM575.0,550.7h3.6v3.6h-3.6zM577.3,556.4h3.6v3.6h-3.6zM579.6,557.9h3.6v3.6h-3.6zM581.9,557.7h3.6v3.6h-3.6zM584.2,556.2h3.6v3.6h-3.6zM586.5,549.5h3.6v3.6h-3.6zM588.8,543.4h3.6v3.6h-3.6zM591.1,539.9h3.6v3.6h-3.6zM593.4,537.4h3.6v3.6h-3.6zM595.7,535.3h3.6v3.6h-3.6zM598.0,533.6h3.6v3.6h-3.6zM600.3,532.1h3.6v3.6h-3.6zM602.6,530.5h3.6v3.6h-3.6zM604.9,528.6h3.6v3.6h-3.6zM607.2,526.6h3.6v3.6h-3.6zM609.5,524.8h3.6v3.6h-3.6zM611.9,523.1h3.6v3.6h-3.6zM614.2,521.6h3.6v3.6h-3.6zM616.5,520.0h3.6v3.6h-3.6zM618.8,518.4h3.6v3.6h-3.6zM621.1,516.7h3.6v3.6h-3.6zM623.4,514.8h3.6v3.6h-3.6zM625.7,512.8h3.6v3.6h-3.6zM628.0,510.6h3.6v3.6h-3.6zM630.3,508.2h3.6v3.6h-3.6zM632.6,505.4h3.6v3.6h-3.6zM634.9,502.0h3.6v3.6h-3.6zM637.2,497.9h3.6v3.6h-3.6zM639.5,493.1h3.6v3.6h-3.6zM641.8,487.2h3.6v3.6h-3.6zM644.1,481.4h3.6v3.6h-3.6zM646.4,475.6h3.6v3.6h-3.6zM648.8,469.4h3.6v3.6h-3.6zM651.1,464.7h3.6v3.6h-3.6zM653.4,461.4h3.6v3.6h-3.6zM655.7,458.6h3.6v3.6h-3.6zM658.0,456.4h3.6v3.6h-3.6zM660.3,454.7h3.6v3.6h-3.6zM662.6,453.2h3.6v3.6h-3.6zM664.9,451.9h3.6v3.6h-3.6zM667.2,450.6h3.6v3.6h-3.6zM669.5,449.4h3.6v3.6h-3.6zM671.8,448.4h3.6v3.6h-3.6zM674.1,447.7h3.6v3.6h-3.6zM676.4,447.1h3.6v3.6h-3.6zM678.7,446.7h3.6v3.6h-3.6zM681.0,446.5h3.6v3.6h-3.6zM683.3,446.3h3.6v3.6h-3.6zM685.7,446.1h3.6v3.6h-3.6zM688.0,446.0h3.6v3.6h-3.6zM690.3,445.8h3.6v3.6h-3.6zM692.6,445.8h3.6v3.6h-3.6zM694.9,445.8h3.6v3.6h-3.6zM697.2,445.8h3.6v3.6h-3.6zM699.5,445.9h3.6v3.6h-3.6zM701.8,446.0h3.6v3.6h-3.6zM704.1,446.1h3.6v3.6h-3.6zM706.4,446.3h3.6v3.6h-3.6zM708.7,446.5h3.6v3.6h-3.6zM711.0,446.7h3.6v3.6h-3.6zM713.3,447.0h3.6v3.6h-3.6zM715.6,447.3h3.6v3.6h-3.6zM717.9,447.6h3.6v3.6h-3.6zM720.2,447.9h3.6v3.6h-3.6zM722.6,448.2h3.6v3.6h-3.6zM724.9,448.5h3.6v3.6h-3.6zM727.2,448.9h3.6v3.6h-3.6zM729.5,449.2h3.6v3.6h-3.6zM731.8,449.6h3.6v3.6h-3.6zM734.1,449.9h3.6v3.6h-3.6zM739.1,450.7h3.6v3.6h-3.6z"/>
<g fill="#fff" stroke="#1616da" stroke-width="1.0"><rect x="425.2" y="450.5" width="2.6" height="2.6"/><rect x="427.5" y="450.1" width="2.6" height="2.6"/><rect x="429.8" y="449.7" width="2.6" height="2.6"/><rect x="432.1" y="449.3" width="2.6" height="2.6"/><rect x="434.4" y="448.9" width="2.6" height="2.6"/><rect x="436.7" y="448.6" width="2.6" height="2.6"/><rect x="439.0" y="448.2" width="2.6" height="2.6"/><rect x="441.3" y="447.8" width="2.6" height="2.6"/><rect x="443.6" y="447.5" width="2.6" height="2.6"/><rect x="445.9" y="447.2" width="2.6" height="2.6"/><rect x="448.2" y="446.9" width="2.6" height="2.6"/><rect x="450.5" y="446.7" width="2.6" height="2.6"/><rect x="452.8" y="446.5" width="2.6" height="2.6"/><rect x="455.1" y="446.4" width="2.6" height="2.6"/><rect x="457.4" y="446.3" width="2.6" height="2.6"/><rect x="459.8" y="446.3" width="2.6" height="2.6"/><rect x="462.1" y="446.3" width="2.6" height="2.6"/><rect x="464.4" y="446.4" width="2.6" height="2.6"/><rect x="466.7" y="446.5" width="2.6" height="2.6"/><rect x="469.0" y="446.6" width="2.6" height="2.6"/><rect x="471.3" y="446.8" width="2.6" height="2.6"/><rect x="473.6" y="447.0" width="2.6" height="2.6"/><rect x="475.9" y="447.3" width="2.6" height="2.6"/><rect x="478.2" y="447.5" width="2.6" height="2.6"/><rect x="480.5" y="447.8" width="2.6" height="2.6"/><rect x="482.8" y="448.3" width="2.6" height="2.6"/><rect x="485.1" y="448.9" width="2.6" height="2.6"/><rect x="487.4" y="449.7" width="2.6" height="2.6"/><rect x="489.7" y="450.6" width="2.6" height="2.6"/><rect x="492.0" y="451.6" width="2.6" height="2.6"/><rect x="494.3" y="452.6" width="2.6" height="2.6"/><rect x="496.7" y="453.8" width="2.6" height="2.6"/><rect x="499.0" y="455.2" width="2.6" height="2.6"/><rect x="501.3" y="456.9" width="2.6" height="2.6"/><rect x="503.6" y="459.0" width="2.6" height="2.6"/><rect x="505.9" y="461.6" width="2.6" height="2.6"/><rect x="508.2" y="465.4" width="2.6" height="2.6"/><rect x="510.5" y="470.8" width="2.6" height="2.6"/><rect x="512.8" y="476.5" width="2.6" height="2.6"/><rect x="515.1" y="481.2" width="2.6" height="2.6"/><rect x="517.4" y="485.7" width="2.6" height="2.6"/><rect x="519.7" y="489.9" width="2.6" height="2.6"/><rect x="522.0" y="493.8" width="2.6" height="2.6"/><rect x="524.3" y="497.5" width="2.6" height="2.6"/><rect x="526.6" y="501.1" width="2.6" height="2.6"/><rect x="528.9" y="504.6" width="2.6" height="2.6"/><rect x="531.2" y="507.7" width="2.6" height="2.6"/><rect x="533.6" y="510.6" width="2.6" height="2.6"/><rect x="535.9" y="513.2" width="2.6" height="2.6"/><rect x="538.2" y="515.7" width="2.6" height="2.6"/><rect x="540.5" y="518.1" width="2.6" height="2.6"/><rect x="542.8" y="520.3" width="2.6" height="2.6"/><rect x="545.1" y="522.4" width="2.6" height="2.6"/><rect x="547.4" y="524.4" width="2.6" height="2.6"/><rect x="549.7" y="526.1" width="2.6" height="2.6"/><rect x="552.0" y="527.6" width="2.6" height="2.6"/><rect x="554.3" y="528.8" width="2.6" height="2.6"/><rect x="556.6" y="529.8" width="2.6" height="2.6"/><rect x="558.9" y="531.2" width="2.6" height="2.6"/><rect x="561.2" y="533.0" width="2.6" height="2.6"/><rect x="563.5" y="535.2" width="2.6" height="2.6"/><rect x="565.8" y="537.4" width="2.6" height="2.6"/><rect x="568.2" y="539.9" width="2.6" height="2.6"/><rect x="570.5" y="542.9" width="2.6" height="2.6"/><rect x="572.8" y="547.3" width="2.6" height="2.6"/><rect x="575.1" y="553.3" width="2.6" height="2.6"/><rect x="577.4" y="557.3" width="2.6" height="2.6"/><rect x="579.7" y="558.4" width="2.6" height="2.6"/><rect x="582.0" y="558.2" width="2.6" height="2.6"/><rect x="584.3" y="555.8" width="2.6" height="2.6"/><rect x="586.6" y="548.2" width="2.6" height="2.6"/><rect x="588.9" y="543.9" width="2.6" height="2.6"/><rect x="591.2" y="541.3" width="2.6" height="2.6"/><rect x="593.5" y="539.3" width="2.6" height="2.6"/><rect x="595.8" y="537.5" width="2.6" height="2.6"/><rect x="598.1" y="536.0" width="2.6" height="2.6"/><rect x="600.4" y="534.6" width="2.6" height="2.6"/><rect x="602.7" y="532.9" width="2.6" height="2.6"/><rect x="605.1" y="531.0" width="2.6" height="2.6"/><rect x="607.4" y="529.1" width="2.6" height="2.6"/><rect x="609.7" y="527.3" width="2.6" height="2.6"/><rect x="612.0" y="525.7" width="2.6" height="2.6"/><rect x="614.3" y="524.2" width="2.6" height="2.6"/><rect x="616.6" y="522.7" width="2.6" height="2.6"/><rect x="618.9" y="521.0" width="2.6" height="2.6"/><rect x="621.2" y="519.2" width="2.6" height="2.6"/><rect x="623.5" y="517.3" width="2.6" height="2.6"/><rect x="625.8" y="515.2" width="2.6" height="2.6"/><rect x="628.1" y="512.9" width="2.6" height="2.6"/><rect x="630.4" y="510.3" width="2.6" height="2.6"/><rect x="632.7" y="507.2" width="2.6" height="2.6"/><rect x="635.0" y="503.5" width="2.6" height="2.6"/><rect x="637.3" y="499.1" width="2.6" height="2.6"/><rect x="639.6" y="493.6" width="2.6" height="2.6"/><rect x="642.0" y="487.7" width="2.6" height="2.6"/><rect x="644.3" y="481.9" width="2.6" height="2.6"/><rect x="646.6" y="475.9" width="2.6" height="2.6"/><rect x="648.9" y="470.2" width="2.6" height="2.6"/><rect x="651.2" y="466.4" width="2.6" height="2.6"/><rect x="653.5" y="463.4" width="2.6" height="2.6"/><rect x="655.8" y="460.9" width="2.6" height="2.6"/><rect x="658.1" y="458.9" width="2.6" height="2.6"/><rect x="660.4" y="457.4" width="2.6" height="2.6"/><rect x="662.7" y="456.0" width="2.6" height="2.6"/><rect x="665.0" y="454.7" width="2.6" height="2.6"/><rect x="667.3" y="453.4" width="2.6" height="2.6"/><rect x="669.6" y="452.3" width="2.6" height="2.6"/><rect x="671.9" y="451.5" width="2.6" height="2.6"/><rect x="674.2" y="450.8" width="2.6" height="2.6"/><rect x="676.5" y="450.3" width="2.6" height="2.6"/><rect x="678.9" y="450.0" width="2.6" height="2.6"/><rect x="681.2" y="449.8" width="2.6" height="2.6"/><rect x="683.5" y="449.6" width="2.6" height="2.6"/><rect x="685.8" y="449.5" width="2.6" height="2.6"/><rect x="688.1" y="449.3" width="2.6" height="2.6"/><rect x="690.4" y="449.2" width="2.6" height="2.6"/><rect x="692.7" y="449.2" width="2.6" height="2.6"/><rect x="695.0" y="449.2" width="2.6" height="2.6"/><rect x="697.3" y="449.2" width="2.6" height="2.6"/><rect x="699.6" y="449.3" width="2.6" height="2.6"/><rect x="701.9" y="449.5" width="2.6" height="2.6"/><rect x="704.2" y="449.6" width="2.6" height="2.6"/><rect x="706.5" y="449.8" width="2.6" height="2.6"/><rect x="708.8" y="450.0" width="2.6" height="2.6"/><rect x="711.1" y="450.3" width="2.6" height="2.6"/><rect x="713.4" y="450.6" width="2.6" height="2.6"/><rect x="715.8" y="450.9" width="2.6" height="2.6"/><rect x="718.1" y="451.2" width="2.6" height="2.6"/><rect x="720.4" y="451.5" width="2.6" height="2.6"/><rect x="722.7" y="451.8" width="2.6" height="2.6"/><rect x="725.0" y="452.1" width="2.6" height="2.6"/><rect x="727.3" y="452.5" width="2.6" height="2.6"/><rect x="729.6" y="452.8" width="2.6" height="2.6"/><rect x="731.9" y="453.1" width="2.6" height="2.6"/><rect x="734.2" y="453.5" width="2.6" height="2.6"/></g>
<path d="M424.2,406.2 L429.2,401.8 L431.5,399.6 L433.8,397.3 L436.1,395.0 L438.4,392.6 L440.7,390.2 L443.0,387.7 L445.3,385.3 L447.6,382.9 L449.9,380.6 L452.2,378.2 L454.5,375.8 L456.8,373.5 L459.1,371.1 L461.4,368.7 L463.7,366.4 L466.1,364.1 L468.4,361.8 L470.7,359.6 L473.0,357.5 L475.3,355.4 L477.6,353.3 L479.9,351.3 L482.2,349.3 L484.5,347.3 L486.8,345.4 L489.1,343.5 L491.4,341.7 L493.7,340.0 L496.0,338.3 L498.3,336.7 L500.6,335.1 L503.0,333.6 L505.3,332.1 L507.6,330.7 L509.9,329.4 L512.2,328.2 L514.5,327.1 L516.8,325.9 L519.1,324.8 L521.4,323.9 L523.7,323.6 L526.0,323.9 L528.3,324.8 L530.6,326.1 L532.9,327.8 L535.2,330.6 L537.5,334.5 L539.9,339.7 L542.2,347.1 L544.5,353.7 L546.8,362.8 L549.1,374.2 L551.4,383.3 L553.7,389.9 L556.0,398.1 L558.3,405.6 L560.6,411.9 L562.9,416.3 L565.2,419.9 L567.5,423.1 L569.8,425.9 L572.1,428.7 L574.4,432.0 L576.8,436.7 L579.1,442.2 L581.4,446.6 L583.7,446.2 L586.0,441.2 L588.3,436.5 L590.6,431.9 L592.9,427.7 L595.2,423.8 L597.5,420.2 L599.8,417.3 L602.1,415.1 L604.4,412.2 L606.7,406.3 L609.0,397.4 L611.3,390.4 L613.7,383.9 L616.0,373.1 L618.3,359.3 L620.6,348.5 L622.9,340.9 L625.2,334.7 L627.5,330.2 L629.8,326.8 L632.1,324.3 L634.4,323.1 L636.7,322.4 L639.0,321.9 L641.3,321.7 L643.6,322.0 L645.9,322.8 L648.2,323.9 L650.6,325.0 L652.9,326.1 L655.2,327.4 L657.5,328.7 L659.8,330.1 L662.1,331.6 L664.4,333.2 L666.7,334.8 L669.0,336.6 L671.3,338.5 L673.6,340.5 L675.9,342.6 L678.2,344.8 L680.5,347.0 L682.8,349.2 L685.1,351.3 L687.5,353.4 L689.8,355.4 L692.1,357.5 L694.4,359.5 L696.7,361.5 L699.0,363.6 L701.3,365.7 L703.6,367.9 L705.9,370.1 L708.2,372.4 L710.5,374.7 L712.8,377.1 L715.1,379.5 L717.4,381.8 L719.7,384.2 L722.0,386.5 L724.4,388.9 L726.7,391.3 L729.0,393.7 L731.3,396.0 L733.6,398.3 L735.9,400.5 L740.9,404.8" fill="none" stroke="#127b7b" stroke-width="2.0"/>
<path fill="#127b7b" d="M422.4,404.4h3.6v3.6h-3.6zM427.4,400.0h3.6v3.6h-3.6zM429.7,397.8h3.6v3.6h-3.6zM432.0,395.5h3.6v3.6h-3.6zM434.3,393.2h3.6v3.6h-3.6zM436.6,390.8h3.6v3.6h-3.6zM438.9,388.4h3.6v3.6h-3.6zM441.2,385.9h3.6v3.6h-3.6zM443.5,383.5h3.6v3.6h-3.6zM445.8,381.1h3.6v3.6h-3.6zM448.1,378.8h3.6v3.6h-3.6zM450.4,376.4h3.6v3.6h-3.6zM452.7,374.0h3.6v3.6h-3.6zM455.0,371.7h3.6v3.6h-3.6zM457.3,369.3h3.6v3.6h-3.6zM459.6,366.9h3.6v3.6h-3.6zM461.9,364.6h3.6v3.6h-3.6zM464.3,362.3h3.6v3.6h-3.6zM466.6,360.0h3.6v3.6h-3.6zM468.9,357.8h3.6v3.6h-3.6zM471.2,355.7h3.6v3.6h-3.6zM473.5,353.6h3.6v3.6h-3.6zM475.8,351.5h3.6v3.6h-3.6zM478.1,349.5h3.6v3.6h-3.6zM480.4,347.5h3.6v3.6h-3.6zM482.7,345.5h3.6v3.6h-3.6zM485.0,343.6h3.6v3.6h-3.6zM487.3,341.7h3.6v3.6h-3.6zM489.6,339.9h3.6v3.6h-3.6zM491.9,338.2h3.6v3.6h-3.6zM494.2,336.5h3.6v3.6h-3.6zM496.5,334.9h3.6v3.6h-3.6zM498.8,333.3h3.6v3.6h-3.6zM501.2,331.8h3.6v3.6h-3.6zM503.5,330.3h3.6v3.6h-3.6zM505.8,328.9h3.6v3.6h-3.6zM508.1,327.6h3.6v3.6h-3.6zM510.4,326.4h3.6v3.6h-3.6zM512.7,325.3h3.6v3.6h-3.6zM515.0,324.1h3.6v3.6h-3.6zM517.3,323.0h3.6v3.6h-3.6zM519.6,322.1h3.6v3.6h-3.6zM521.9,321.8h3.6v3.6h-3.6zM524.2,322.1h3.6v3.6h-3.6zM526.5,323.0h3.6v3.6h-3.6zM528.8,324.3h3.6v3.6h-3.6zM531.1,326.0h3.6v3.6h-3.6zM533.4,328.8h3.6v3.6h-3.6zM535.7,332.7h3.6v3.6h-3.6zM538.1,337.9h3.6v3.6h-3.6zM540.4,345.3h3.6v3.6h-3.6zM542.7,351.9h3.6v3.6h-3.6zM545.0,361.0h3.6v3.6h-3.6zM547.3,372.4h3.6v3.6h-3.6zM549.6,381.5h3.6v3.6h-3.6zM551.9,388.1h3.6v3.6h-3.6zM554.2,396.3h3.6v3.6h-3.6zM556.5,403.8h3.6v3.6h-3.6zM558.8,410.1h3.6v3.6h-3.6zM561.1,414.5h3.6v3.6h-3.6zM563.4,418.1h3.6v3.6h-3.6zM565.7,421.3h3.6v3.6h-3.6zM568.0,424.1h3.6v3.6h-3.6zM570.3,426.9h3.6v3.6h-3.6zM572.6,430.2h3.6v3.6h-3.6zM575.0,434.9h3.6v3.6h-3.6zM577.3,440.4h3.6v3.6h-3.6zM579.6,444.8h3.6v3.6h-3.6zM581.9,444.4h3.6v3.6h-3.6zM584.2,439.4h3.6v3.6h-3.6zM586.5,434.7h3.6v3.6h-3.6zM588.8,430.1h3.6v3.6h-3.6zM591.1,425.9h3.6v3.6h-3.6zM593.4,422.0h3.6v3.6h-3.6zM595.7,418.4h3.6v3.6h-3.6zM598.0,415.5h3.6v3.6h-3.6zM600.3,413.3h3.6v3.6h-3.6zM602.6,410.4h3.6v3.6h-3.6zM604.9,404.5h3.6v3.6h-3.6zM607.2,395.6h3.6v3.6h-3.6zM609.5,388.6h3.6v3.6h-3.6zM611.9,382.1h3.6v3.6h-3.6zM614.2,371.3h3.6v3.6h-3.6zM616.5,357.5h3.6v3.6h-3.6zM618.8,346.7h3.6v3.6h-3.6zM621.1,339.1h3.6v3.6h-3.6zM623.4,332.9h3.6v3.6h-3.6zM625.7,328.4h3.6v3.6h-3.6zM628.0,325.0h3.6v3.6h-3.6zM630.3,322.5h3.6v3.6h-3.6zM632.6,321.3h3.6v3.6h-3.6zM634.9,320.6h3.6v3.6h-3.6zM637.2,320.1h3.6v3.6h-3.6zM639.5,319.9h3.6v3.6h-3.6zM641.8,320.2h3.6v3.6h-3.6zM644.1,321.0h3.6v3.6h-3.6zM646.4,322.1h3.6v3.6h-3.6zM648.8,323.2h3.6v3.6h-3.6zM651.1,324.3h3.6v3.6h-3.6zM653.4,325.6h3.6v3.6h-3.6zM655.7,326.9h3.6v3.6h-3.6zM658.0,328.3h3.6v3.6h-3.6zM660.3,329.8h3.6v3.6h-3.6zM662.6,331.4h3.6v3.6h-3.6zM664.9,333.0h3.6v3.6h-3.6zM667.2,334.8h3.6v3.6h-3.6zM669.5,336.7h3.6v3.6h-3.6zM671.8,338.7h3.6v3.6h-3.6zM674.1,340.8h3.6v3.6h-3.6zM676.4,343.0h3.6v3.6h-3.6zM678.7,345.2h3.6v3.6h-3.6zM681.0,347.4h3.6v3.6h-3.6zM683.3,349.5h3.6v3.6h-3.6zM685.7,351.6h3.6v3.6h-3.6zM688.0,353.6h3.6v3.6h-3.6zM690.3,355.7h3.6v3.6h-3.6zM692.6,357.7h3.6v3.6h-3.6zM694.9,359.7h3.6v3.6h-3.6zM697.2,361.8h3.6v3.6h-3.6zM699.5,363.9h3.6v3.6h-3.6zM701.8,366.1h3.6v3.6h-3.6zM704.1,368.3h3.6v3.6h-3.6zM706.4,370.6h3.6v3.6h-3.6zM708.7,372.9h3.6v3.6h-3.6zM711.0,375.3h3.6v3.6h-3.6zM713.3,377.7h3.6v3.6h-3.6zM715.6,380.0h3.6v3.6h-3.6zM717.9,382.4h3.6v3.6h-3.6zM720.2,384.7h3.6v3.6h-3.6zM722.6,387.1h3.6v3.6h-3.6zM724.9,389.5h3.6v3.6h-3.6zM727.2,391.9h3.6v3.6h-3.6zM729.5,394.2h3.6v3.6h-3.6zM731.8,396.5h3.6v3.6h-3.6zM734.1,398.7h3.6v3.6h-3.6zM739.1,403.0h3.6v3.6h-3.6z"/>
<g fill="#fff" stroke="#127b7b" stroke-width="1.0"><rect x="425.2" y="400.1" width="2.6" height="2.6"/><rect x="427.5" y="397.9" width="2.6" height="2.6"/><rect x="429.8" y="395.7" width="2.6" height="2.6"/><rect x="432.1" y="393.4" width="2.6" height="2.6"/><rect x="434.4" y="391.0" width="2.6" height="2.6"/><rect x="436.7" y="388.6" width="2.6" height="2.6"/><rect x="439.0" y="386.2" width="2.6" height="2.6"/><rect x="441.3" y="383.8" width="2.6" height="2.6"/><rect x="443.6" y="381.4" width="2.6" height="2.6"/><rect x="445.9" y="379.0" width="2.6" height="2.6"/><rect x="448.2" y="376.6" width="2.6" height="2.6"/><rect x="450.5" y="374.3" width="2.6" height="2.6"/><rect x="452.8" y="371.9" width="2.6" height="2.6"/><rect x="455.1" y="369.5" width="2.6" height="2.6"/><rect x="457.4" y="367.1" width="2.6" height="2.6"/><rect x="459.8" y="364.8" width="2.6" height="2.6"/><rect x="462.1" y="362.4" width="2.6" height="2.6"/><rect x="464.4" y="360.2" width="2.6" height="2.6"/><rect x="466.7" y="358.0" width="2.6" height="2.6"/><rect x="469.0" y="355.8" width="2.6" height="2.6"/><rect x="471.3" y="353.7" width="2.6" height="2.6"/><rect x="473.6" y="351.6" width="2.6" height="2.6"/><rect x="475.9" y="349.5" width="2.6" height="2.6"/><rect x="478.2" y="347.5" width="2.6" height="2.6"/><rect x="480.5" y="345.5" width="2.6" height="2.6"/><rect x="482.8" y="343.6" width="2.6" height="2.6"/><rect x="485.1" y="341.7" width="2.6" height="2.6"/><rect x="487.4" y="339.8" width="2.6" height="2.6"/><rect x="489.7" y="338.1" width="2.6" height="2.6"/><rect x="492.0" y="336.4" width="2.6" height="2.6"/><rect x="494.3" y="334.7" width="2.6" height="2.6"/><rect x="496.7" y="333.1" width="2.6" height="2.6"/><rect x="499.0" y="331.6" width="2.6" height="2.6"/><rect x="501.3" y="330.1" width="2.6" height="2.6"/><rect x="503.6" y="328.6" width="2.6" height="2.6"/><rect x="505.9" y="327.3" width="2.6" height="2.6"/><rect x="508.2" y="326.0" width="2.6" height="2.6"/><rect x="510.5" y="324.9" width="2.6" height="2.6"/><rect x="512.8" y="323.7" width="2.6" height="2.6"/><rect x="515.1" y="322.6" width="2.6" height="2.6"/><rect x="517.4" y="321.6" width="2.6" height="2.6"/><rect x="519.7" y="320.9" width="2.6" height="2.6"/><rect x="522.0" y="320.9" width="2.6" height="2.6"/><rect x="524.3" y="321.5" width="2.6" height="2.6"/><rect x="526.6" y="322.7" width="2.6" height="2.6"/><rect x="528.9" y="324.2" width="2.6" height="2.6"/><rect x="531.2" y="326.3" width="2.6" height="2.6"/><rect x="533.6" y="329.7" width="2.6" height="2.6"/><rect x="535.9" y="334.1" width="2.6" height="2.6"/><rect x="538.2" y="340.6" width="2.6" height="2.6"/><rect x="540.5" y="347.6" width="2.6" height="2.6"/><rect x="542.8" y="354.8" width="2.6" height="2.6"/><rect x="545.1" y="365.7" width="2.6" height="2.6"/><rect x="547.4" y="376.7" width="2.6" height="2.6"/><rect x="549.7" y="383.8" width="2.6" height="2.6"/><rect x="552.0" y="391.1" width="2.6" height="2.6"/><rect x="554.3" y="399.2" width="2.6" height="2.6"/><rect x="556.6" y="406.2" width="2.6" height="2.6"/><rect x="558.9" y="411.6" width="2.6" height="2.6"/><rect x="561.2" y="415.5" width="2.6" height="2.6"/><rect x="563.5" y="418.9" width="2.6" height="2.6"/><rect x="565.8" y="422.0" width="2.6" height="2.6"/><rect x="568.2" y="424.8" width="2.6" height="2.6"/><rect x="570.5" y="428.0" width="2.6" height="2.6"/><rect x="572.8" y="432.0" width="2.6" height="2.6"/><rect x="575.1" y="437.8" width="2.6" height="2.6"/><rect x="577.4" y="442.9" width="2.6" height="2.6"/><rect x="579.7" y="446.2" width="2.6" height="2.6"/><rect x="582.0" y="442.6" width="2.6" height="2.6"/><rect x="584.3" y="438.1" width="2.6" height="2.6"/><rect x="586.6" y="433.6" width="2.6" height="2.6"/><rect x="588.9" y="429.5" width="2.6" height="2.6"/><rect x="591.2" y="425.5" width="2.6" height="2.6"/><rect x="593.5" y="421.9" width="2.6" height="2.6"/><rect x="595.8" y="418.6" width="2.6" height="2.6"/><rect x="598.1" y="416.3" width="2.6" height="2.6"/><rect x="600.4" y="413.9" width="2.6" height="2.6"/><rect x="602.7" y="410.0" width="2.6" height="2.6"/><rect x="605.1" y="402.0" width="2.6" height="2.6"/><rect x="607.4" y="393.8" width="2.6" height="2.6"/><rect x="609.7" y="387.5" width="2.6" height="2.6"/><rect x="612.0" y="379.7" width="2.6" height="2.6"/><rect x="614.3" y="366.1" width="2.6" height="2.6"/><rect x="616.6" y="353.4" width="2.6" height="2.6"/><rect x="618.9" y="344.6" width="2.6" height="2.6"/><rect x="621.2" y="337.9" width="2.6" height="2.6"/><rect x="623.5" y="332.3" width="2.6" height="2.6"/><rect x="625.8" y="328.6" width="2.6" height="2.6"/><rect x="628.1" y="325.6" width="2.6" height="2.6"/><rect x="630.4" y="323.7" width="2.6" height="2.6"/><rect x="632.7" y="322.9" width="2.6" height="2.6"/><rect x="635.0" y="322.3" width="2.6" height="2.6"/><rect x="637.3" y="321.9" width="2.6" height="2.6"/><rect x="639.6" y="321.9" width="2.6" height="2.6"/><rect x="642.0" y="322.5" width="2.6" height="2.6"/><rect x="644.3" y="323.5" width="2.6" height="2.6"/><rect x="646.6" y="324.6" width="2.6" height="2.6"/><rect x="648.9" y="325.7" width="2.6" height="2.6"/><rect x="651.2" y="326.9" width="2.6" height="2.6"/><rect x="653.5" y="328.2" width="2.6" height="2.6"/><rect x="655.8" y="329.6" width="2.6" height="2.6"/><rect x="658.1" y="331.0" width="2.6" height="2.6"/><rect x="660.4" y="332.6" width="2.6" height="2.6"/><rect x="662.7" y="334.2" width="2.6" height="2.6"/><rect x="665.0" y="335.8" width="2.6" height="2.6"/><rect x="667.3" y="337.7" width="2.6" height="2.6"/><rect x="669.6" y="339.6" width="2.6" height="2.6"/><rect x="671.9" y="341.7" width="2.6" height="2.6"/><rect x="674.2" y="343.9" width="2.6" height="2.6"/><rect x="676.5" y="346.1" width="2.6" height="2.6"/><rect x="678.9" y="348.3" width="2.6" height="2.6"/><rect x="681.2" y="350.4" width="2.6" height="2.6"/><rect x="683.5" y="352.5" width="2.6" height="2.6"/><rect x="685.8" y="354.6" width="2.6" height="2.6"/><rect x="688.1" y="356.6" width="2.6" height="2.6"/><rect x="690.4" y="358.6" width="2.6" height="2.6"/><rect x="692.7" y="360.7" width="2.6" height="2.6"/><rect x="695.0" y="362.7" width="2.6" height="2.6"/><rect x="697.3" y="364.8" width="2.6" height="2.6"/><rect x="699.6" y="367.0" width="2.6" height="2.6"/><rect x="701.9" y="369.2" width="2.6" height="2.6"/><rect x="704.2" y="371.4" width="2.6" height="2.6"/><rect x="706.5" y="373.7" width="2.6" height="2.6"/><rect x="708.8" y="376.1" width="2.6" height="2.6"/><rect x="711.1" y="378.4" width="2.6" height="2.6"/><rect x="713.4" y="380.8" width="2.6" height="2.6"/><rect x="715.8" y="383.2" width="2.6" height="2.6"/><rect x="718.1" y="385.5" width="2.6" height="2.6"/><rect x="720.4" y="387.8" width="2.6" height="2.6"/><rect x="722.7" y="390.2" width="2.6" height="2.6"/><rect x="725.0" y="392.6" width="2.6" height="2.6"/><rect x="727.3" y="395.0" width="2.6" height="2.6"/><rect x="729.6" y="397.3" width="2.6" height="2.6"/><rect x="731.9" y="399.6" width="2.6" height="2.6"/><rect x="734.2" y="401.7" width="2.6" height="2.6"/></g>
</g>
<rect x="428.0" y="310.83" width="307.5" height="255.90" fill="none" stroke="#222" stroke-width="1.3"/>
<path d="M428.00,566.74v5.3 M466.44,566.74v5.3 M504.88,566.74v5.3 M543.31,566.74v5.3 M581.75,566.74v5.3 M620.19,566.74v5.3 M658.62,566.74v5.3 M697.06,566.74v5.3 M735.50,566.74v5.3 M447.22,566.74v2.8 M485.66,566.74v2.8 M524.09,566.74v2.8 M562.53,566.74v2.8 M600.97,566.74v2.8 M639.41,566.74v2.8 M677.84,566.74v2.8 M716.28,566.74v2.8 M428.00,535.40h-5.3 M428.00,483.18h-5.3 M428.00,430.95h-5.3 M428.00,378.73h-5.3 M428.00,326.50h-5.3 M428.00,561.51h-2.8 M428.00,509.29h-2.8 M428.00,457.06h-2.8 M428.00,404.84h-2.8 M428.00,352.61h-2.8" stroke="#222" stroke-width="1.2" fill="none"/>
<text x="64.65" y="274.38" style="font-size:14.0px">-90</text>
<text x="111.00" y="274.38" style="font-size:14.0px">-60</text>
<text x="157.35" y="274.38" style="font-size:14.0px">-30</text>
<text x="209.50" y="274.38" style="font-size:14.0px">0</text>
<text x="252.38" y="274.38" style="font-size:14.0px">30</text>
<text x="298.75" y="274.38" style="font-size:14.0px">60</text>
<text x="345.12" y="274.38" style="font-size:14.0px">90</text>
<text x="43.75" y="259.68" style="font-size:14.0px">0</text>
<text x="36.75" y="211.22" style="font-size:14.0px">50</text>
<text x="29.75" y="162.75" style="font-size:14.0px">100</text>
<text x="29.75" y="114.30" style="font-size:14.0px">150</text>
<text x="29.75" y="65.84" style="font-size:14.0px">200</text>
<text x="29.75" y="17.38" style="font-size:14.0px">250</text>
<text x="432.93" y="274.07" style="font-size:14.0px">-90</text>
<text x="478.60" y="274.07" style="font-size:14.0px">-60</text>
<text x="524.28" y="274.07" style="font-size:14.0px">-30</text>
<text x="575.75" y="274.07" style="font-size:14.0px">0</text>
<text x="617.95" y="274.07" style="font-size:14.0px">30</text>
<text x="663.65" y="274.07" style="font-size:14.0px">60</text>
<text x="709.35" y="274.07" style="font-size:14.0px">90</text>
<text x="412.25" y="259.57" style="font-size:14.0px">0</text>
<text x="405.25" y="213.07" style="font-size:14.0px">50</text>
<text x="398.25" y="166.57" style="font-size:14.0px">100</text>
<text x="398.25" y="120.07" style="font-size:14.0px">150</text>
<text x="398.25" y="73.57" style="font-size:14.0px">200</text>
<text x="398.25" y="27.07" style="font-size:14.0px">250</text>
<text x="41.70" y="584.56" style="font-size:14.0px">-20</text>
<text x="80.67" y="584.54" style="font-size:14.0px">-15</text>
<text x="119.70" y="584.56" style="font-size:14.0px">-10</text>
<text x="162.18" y="584.49" style="font-size:14.0px">-5</text>
<text x="203.50" y="584.56" style="font-size:14.0px">0</text>
<text x="242.47" y="584.49" style="font-size:14.0px">5</text>
<text x="277.73" y="584.56" style="font-size:14.0px">10</text>
<text x="316.70" y="584.54" style="font-size:14.0px">15</text>
<text x="355.98" y="584.56" style="font-size:14.0px">20</text>
<text x="29.25" y="536.48" style="font-size:14.0px">50</text>
<text x="22.25" y="481.82" style="font-size:14.0px">100</text>
<text x="22.25" y="427.17" style="font-size:14.0px">150</text>
<text x="22.25" y="372.52" style="font-size:14.0px">200</text>
<text x="22.25" y="317.87" style="font-size:14.0px">250</text>
<text x="418.70" y="586.91" style="font-size:14.0px">-20</text>
<text x="457.11" y="586.88" style="font-size:14.0px">-15</text>
<text x="495.57" y="586.91" style="font-size:14.0px">-10</text>
<text x="537.49" y="586.84" style="font-size:14.0px">-5</text>
<text x="578.25" y="586.91" style="font-size:14.0px">0</text>
<text x="616.66" y="586.84" style="font-size:14.0px">5</text>
<text x="651.35" y="586.91" style="font-size:14.0px">10</text>
<text x="689.76" y="586.88" style="font-size:14.0px">15</text>
<text x="728.48" y="586.91" style="font-size:14.0px">20</text>
<text x="406.25" y="540.48" style="font-size:14.0px">50</text>
<text x="399.25" y="488.25" style="font-size:14.0px">100</text>
<text x="399.25" y="436.02" style="font-size:14.0px">150</text>
<text x="399.25" y="383.80" style="font-size:14.0px">200</text>
<text x="399.25" y="331.57" style="font-size:14.0px">250</text>
<text x="194.30" y="287.52" style="font-size:14.60px">H (Oe)</text>
<text x="560.70" y="287.42" style="font-size:14.60px">H (Oe)</text>
<text x="185.32" y="598.65" style="font-size:14.80px">H (Oe)</text>
<text x="560.20" y="601.98" style="font-size:14.60px">H (Oe)</text>
<text transform="translate(22.93,157.82) rotate(-90)" style="font-size:14.23px">ΔZ/Z (%)</text>
<text transform="translate(394.43,154.20) rotate(-90)" style="font-size:14.45px">ΔR/R (%)</text>
<text transform="translate(16.77,466.52) rotate(-90)" style="font-size:15.03px">ΔZ/Z (%)</text>
<text transform="translate(395.78,465.07) rotate(-90)" style="font-size:15.26px">ΔR/R (%)</text>
<text x="64.55" y="28.93" style="font-size:19.00px;letter-spacing:1.5px">(a)</text>
<text x="433.07" y="29.43" style="font-size:19.00px;letter-spacing:1.0px">(b)</text>
<text x="58.03" y="329.30" style="font-size:19.50px;letter-spacing:0.6px">(c)</text>
<text x="434.07" y="333.05" style="font-size:19.50px;letter-spacing:0.8px">(d)</text>
<text x="64.70" y="50.52" style="font-size:15.00px">f =42 MHz</text>
<text x="432.73" y="50.35" style="font-size:14.70px">f =53 MHz</text>
<text x="58.05" y="554.12" style="font-size:15.00px">f =42 MHz</text>
<text x="435.30" y="551.88" style="font-size:14.80px">f =53 MHz</text>
<path d="M291.3,24.8H326.3" stroke="#000000" stroke-width="1.7"/><rect x="307.40" y="23.40" width="2.8" height="2.8" fill="#000000"/><text x="329.40" y="29.50" style="font-size:15.4px">S1</text>
<path d="M656.2,25.5H690.6" stroke="#000000" stroke-width="1.7"/><rect x="672.00" y="24.10" width="2.8" height="2.8" fill="#000000"/><text x="694.20" y="30.20" style="font-size:15.4px">S1</text>
<path d="M291.3,42.900000000000006H326.3" stroke="#ee1414" stroke-width="1.7"/><rect x="307.40" y="41.50" width="2.8" height="2.8" fill="#ee1414"/><text x="329.40" y="47.60" style="font-size:15.4px">S2</text>
<path d="M656.2,43.53H690.6" stroke="#ee1414" stroke-width="1.7"/><rect x="672.00" y="42.13" width="2.8" height="2.8" fill="#ee1414"/><text x="694.20" y="48.23" style="font-size:15.4px">S2</text>
<path d="M291.3,61.0H326.3" stroke="#1616da" stroke-width="1.7"/><rect x="307.40" y="59.60" width="2.8" height="2.8" fill="#1616da"/><text x="329.40" y="65.70" style="font-size:15.4px">S3</text>
<path d="M656.2,61.56H690.6" stroke="#1616da" stroke-width="1.7"/><rect x="672.00" y="60.16" width="2.8" height="2.8" fill="#1616da"/><text x="694.20" y="66.26" style="font-size:15.4px">S3</text>
<path d="M291.3,79.10000000000001H326.3" stroke="#127b7b" stroke-width="1.7"/><rect x="307.40" y="77.70" width="2.8" height="2.8" fill="#127b7b"/><text x="329.40" y="83.80" style="font-size:15.4px">S4</text>
<path d="M656.2,79.59H690.6" stroke="#127b7b" stroke-width="1.7"/><rect x="672.00" y="78.19" width="2.8" height="2.8" fill="#127b7b"/><text x="694.20" y="84.29" style="font-size:15.4px">S4</text>
<path d="M242.6,533.3H277.0" stroke="#000000" stroke-width="1.7"/><rect x="258.40" y="531.90" width="2.8" height="2.8" fill="#000000"/><text x="280.70" y="538.00" style="font-size:15.4px">S1</text>
<path d="M242.6,551.9H277.0" stroke="#ee1414" stroke-width="1.7"/><rect x="258.40" y="550.50" width="2.8" height="2.8" fill="#ee1414"/><text x="280.70" y="556.60" style="font-size:15.4px">S2</text>
<path d="M304.2,533.3H338.6" stroke="#1616da" stroke-width="1.7"/><rect x="320.00" y="531.90" width="2.8" height="2.8" fill="#1616da"/><text x="341.90" y="538.00" style="font-size:15.4px">S3</text>
<path d="M304.2,551.9H338.6" stroke="#127b7b" stroke-width="1.7"/><rect x="320.00" y="550.50" width="2.8" height="2.8" fill="#127b7b"/><text x="341.90" y="556.60" style="font-size:15.4px">S4</text>
<path d="M615.6,532.5H649.9" stroke="#000000" stroke-width="1.7"/><rect x="631.35" y="531.10" width="2.8" height="2.8" fill="#000000"/><text x="653.10" y="537.20" style="font-size:15.4px">S1</text>
<path d="M615.6,551.4H649.9" stroke="#ee1414" stroke-width="1.7"/><rect x="631.35" y="550.00" width="2.8" height="2.8" fill="#ee1414"/><text x="653.10" y="556.10" style="font-size:15.4px">S2</text>
<path d="M676.5,532.5H710.9" stroke="#1616da" stroke-width="1.7"/><rect x="692.30" y="531.10" width="2.8" height="2.8" fill="#1616da"/><text x="713.40" y="537.20" style="font-size:15.4px">S3</text>
<path d="M676.5,551.4H710.9" stroke="#127b7b" stroke-width="1.7"/><rect x="692.30" y="550.00" width="2.8" height="2.8" fill="#127b7b"/><text x="713.40" y="556.10" style="font-size:15.4px">S4</text>
</svg></body></html>
